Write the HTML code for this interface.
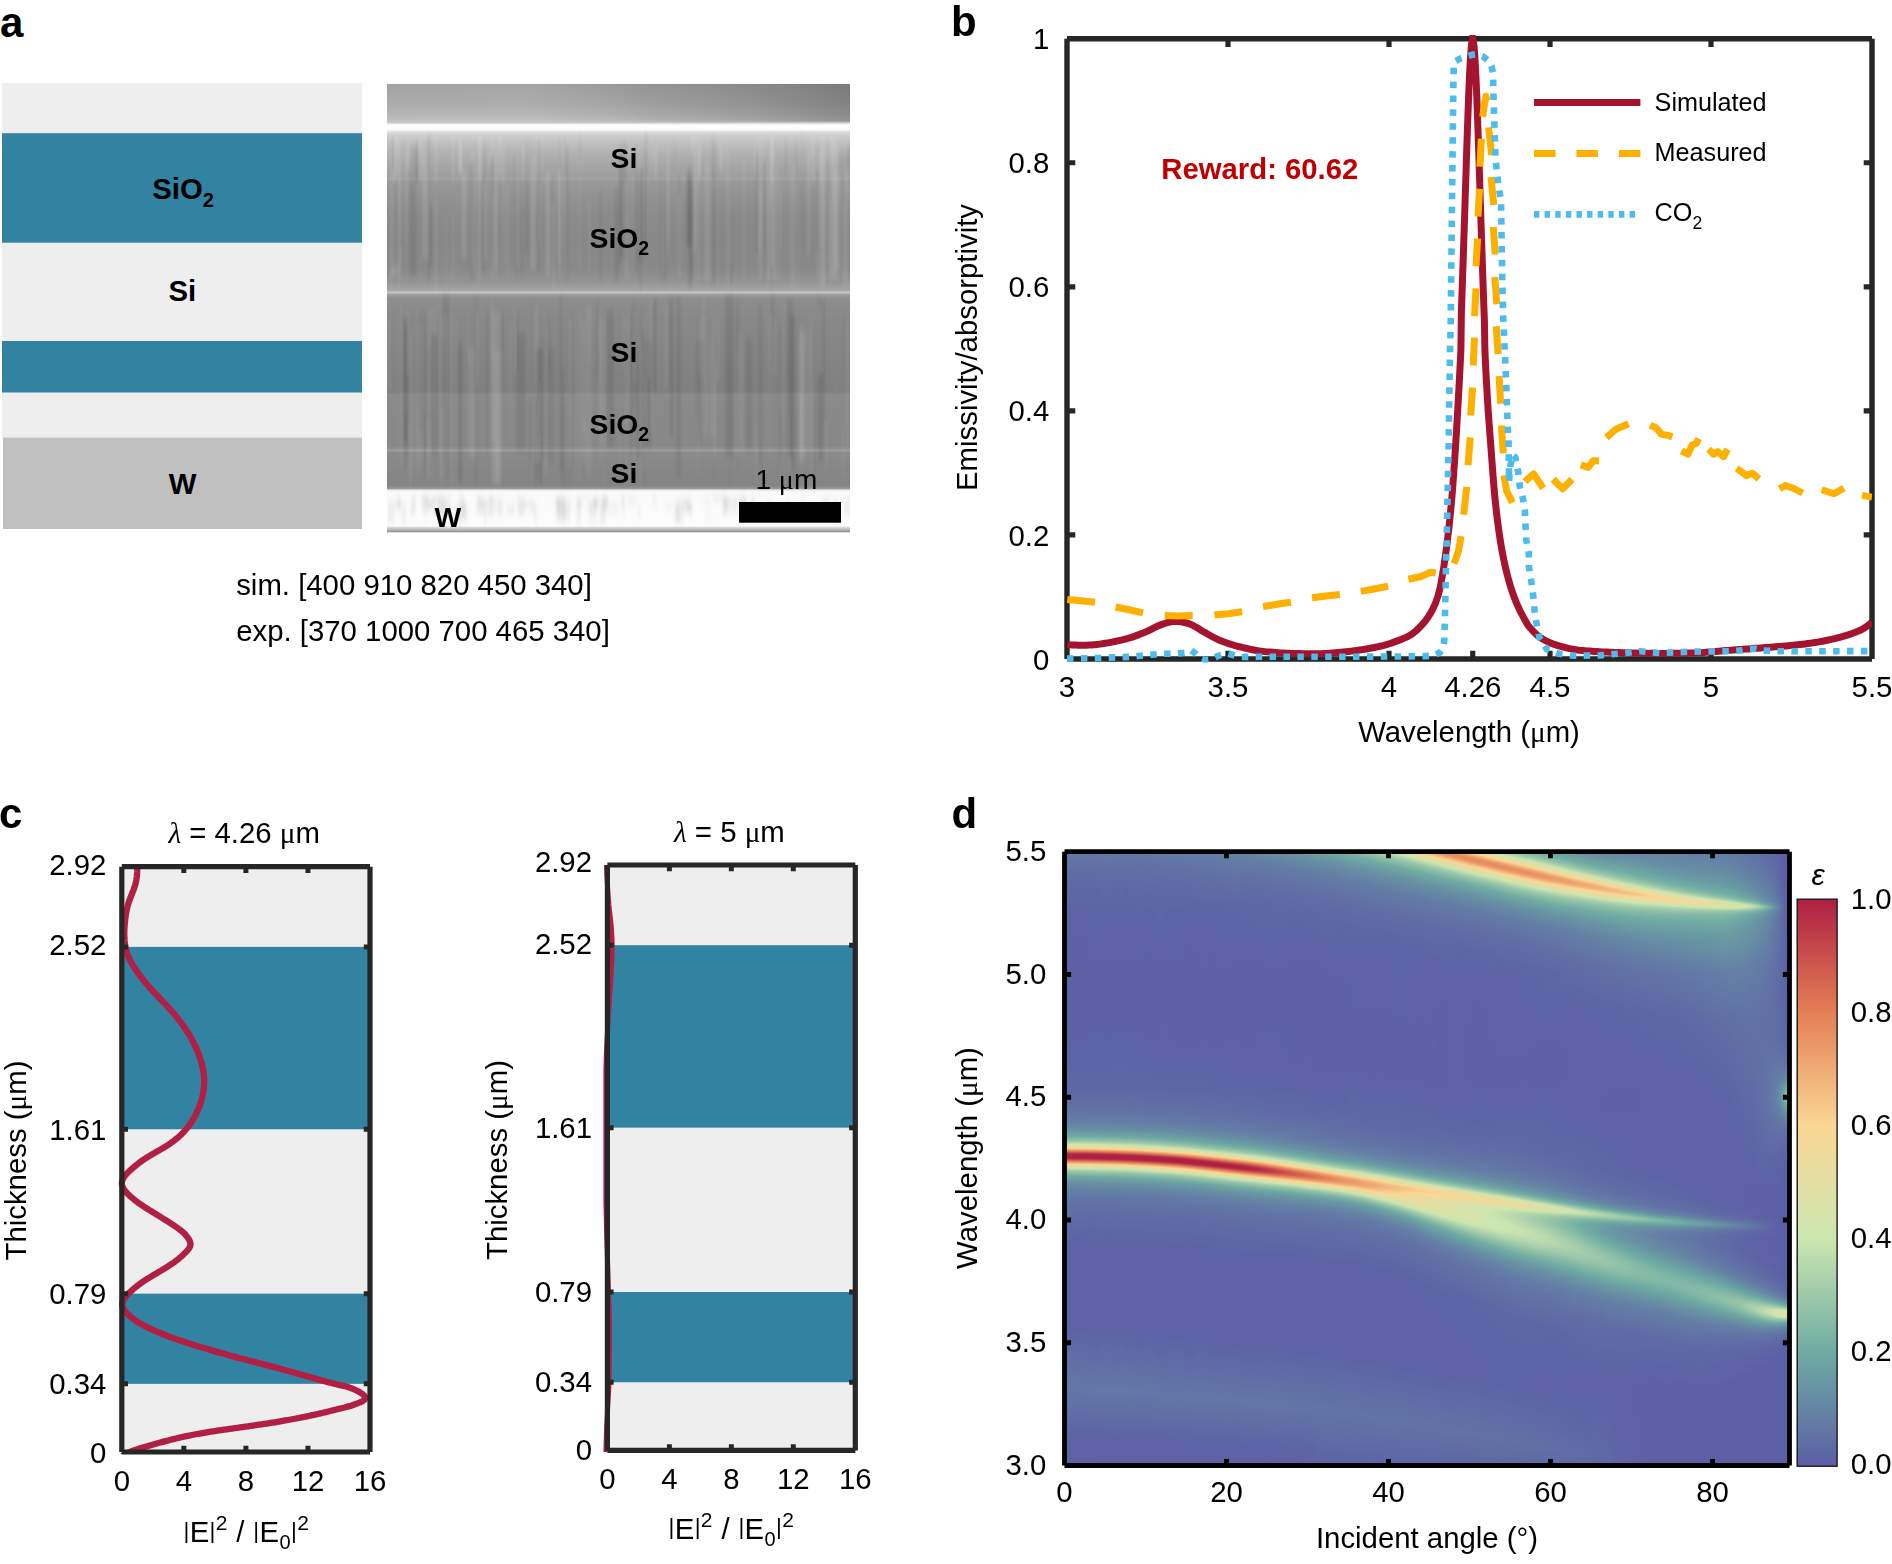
<!DOCTYPE html>
<html lang="en"><head><meta charset="utf-8"><title>Figure</title>
<style>html,body{margin:0;padding:0;background:#fff}svg{display:block}text{font-family:'Liberation Sans', Arial, Helvetica, sans-serif}</style></head>
<body>
<svg width="1892" height="1564" viewBox="0 0 1892 1564">
<defs>
<linearGradient id="semv" x1="0" y1="0" x2="0" y2="1"><stop offset="0%" stop-color="#989898"/><stop offset="3.61%" stop-color="#a0a0a0"/><stop offset="6.73%" stop-color="#acacac"/><stop offset="8.07%" stop-color="#b6b6b6"/><stop offset="8.69%" stop-color="#c8c8c8"/><stop offset="9%" stop-color="#f4f4f4"/><stop offset="9.4%" stop-color="#ffffff"/><stop offset="10.18%" stop-color="#fcfcfc"/><stop offset="10.56%" stop-color="#e6e6e6"/><stop offset="10.96%" stop-color="#d6d6d6"/><stop offset="11.85%" stop-color="#cacaca"/><stop offset="13.64%" stop-color="#bcbcbc"/><stop offset="15.86%" stop-color="#b0b0b0"/><stop offset="18.76%" stop-color="#a4a4a4"/><stop offset="20.77%" stop-color="#9e9e9e"/><stop offset="21.21%" stop-color="#a4a4a4"/><stop offset="21.66%" stop-color="#9a9a9a"/><stop offset="24.78%" stop-color="#929292"/><stop offset="29.23%" stop-color="#8b8b8b"/><stop offset="34.8%" stop-color="#878787"/><stop offset="41.04%" stop-color="#898989"/><stop offset="44.16%" stop-color="#949494"/><stop offset="45.94%" stop-color="#a4a4a4"/><stop offset="46.5%" stop-color="#c6c6c6"/><stop offset="46.95%" stop-color="#a0a0a0"/><stop offset="47.73%" stop-color="#8e8e8e"/><stop offset="52.63%" stop-color="#888888"/><stop offset="63.77%" stop-color="#828282"/><stop offset="68.67%" stop-color="#808080"/><stop offset="69.27%" stop-color="#8c8c8c"/><stop offset="69.79%" stop-color="#8a8a8a"/><stop offset="74.91%" stop-color="#888888"/><stop offset="80.7%" stop-color="#888888"/><stop offset="81.37%" stop-color="#929292"/><stop offset="81.71%" stop-color="#9e9e9e"/><stop offset="82.15%" stop-color="#8a8a8a"/><stop offset="86.05%" stop-color="#868686"/><stop offset="89.62%" stop-color="#848484"/><stop offset="90.2%" stop-color="#9a9a9a"/><stop offset="90.51%" stop-color="#e8e8e8"/><stop offset="90.95%" stop-color="#fafafa"/><stop offset="98.53%" stop-color="#fcfcfc"/><stop offset="98.86%" stop-color="#d8d8d8"/><stop offset="99.42%" stop-color="#b4b4b4"/><stop offset="99.75%" stop-color="#989898"/><stop offset="100%" stop-color="#8a8a8a"/></linearGradient>
<linearGradient id="semh" x1="0" y1="0" x2="1" y2="0"><stop offset="0" stop-color="#fff" stop-opacity="0.10"/><stop offset="0.3" stop-color="#fff" stop-opacity="0.12"/><stop offset="0.5" stop-color="#fff" stop-opacity="0.02"/><stop offset="0.55" stop-color="#000" stop-opacity="0.02"/><stop offset="0.8" stop-color="#000" stop-opacity="0.10"/><stop offset="1" stop-color="#000" stop-opacity="0.20"/></linearGradient>
<clipPath id="semclip"><rect x="387" y="83.8" width="463" height="448.8"/></clipPath>
<filter id="blur1" x="-5%" y="-5%" width="110%" height="110%"><feGaussianBlur stdDeviation="0.8 3"/></filter>
<clipPath id="clipb"><rect x="1066.7" y="35.1" width="805.6" height="627.5"/></clipPath>
<clipPath id="clipc1"><rect x="117.8" y="866.7" width="256.2" height="587.3"/></clipPath>
<clipPath id="clipc2"><rect x="603.4" y="865" width="255.9" height="587.4"/></clipPath>
<clipPath id="cliph"><rect x="1064.5" y="851.7" width="725" height="613.8"/></clipPath>
<linearGradient id="h0" x1="0" y1="0" x2="0" y2="1"><stop offset="0" stop-color="#6583a5"/><stop offset=".047" stop-color="#606da5"/><stop offset=".1223" stop-color="#5d62a6"/><stop offset=".2861" stop-color="#5c60a6"/><stop offset=".392" stop-color="#5e68a6"/><stop offset=".4202" stop-color="#6071a5"/><stop offset=".4398" stop-color="#637da5"/><stop offset=".4539" stop-color="#6890a4"/><stop offset=".4641" stop-color="#6ea9a3"/><stop offset=".4672" stop-color="#7ab3a5"/><stop offset=".4712" stop-color="#92c2a8"/><stop offset=".4743" stop-color="#abd1ab"/><stop offset=".4774" stop-color="#cce6b0"/><stop offset=".4837" stop-color="#fad795"/><stop offset=".4884" stop-color="#e37c55"/><stop offset=".4907" stop-color="#c64a4b"/><stop offset=".4931" stop-color="#ae2242"/><stop offset=".4986" stop-color="#ad2042"/><stop offset=".4994" stop-color="#af2343"/><stop offset=".5002" stop-color="#b52e45"/><stop offset=".5041" stop-color="#e47d55"/><stop offset=".5088" stop-color="#fad795"/><stop offset=".5151" stop-color="#cbe6b0"/><stop offset=".5205" stop-color="#98c5a9"/><stop offset=".5276" stop-color="#6faca3"/><stop offset=".5347" stop-color="#6998a4"/><stop offset=".5441" stop-color="#6687a4"/><stop offset=".5582" stop-color="#6279a5"/><stop offset=".577" stop-color="#606fa5"/><stop offset=".635" stop-color="#5d63a6"/><stop offset=".7628" stop-color="#5d63a6"/><stop offset=".8584" stop-color="#6278a5"/><stop offset=".9313" stop-color="#5e65a6"/><stop offset=".9995" stop-color="#5c5ea6"/></linearGradient>
<linearGradient id="h1" x1="0" y1="0" x2="0" y2="1"><stop offset="0" stop-color="#6583a5"/><stop offset=".047" stop-color="#606da5"/><stop offset=".1223" stop-color="#5d62a6"/><stop offset=".2861" stop-color="#5c60a6"/><stop offset=".392" stop-color="#5e68a6"/><stop offset=".4202" stop-color="#6071a5"/><stop offset=".4398" stop-color="#637da5"/><stop offset=".4539" stop-color="#6890a4"/><stop offset=".4641" stop-color="#6ea9a3"/><stop offset=".4672" stop-color="#7ab3a5"/><stop offset=".4712" stop-color="#92c1a8"/><stop offset=".4743" stop-color="#abd1ab"/><stop offset=".4774" stop-color="#cbe5b0"/><stop offset=".4837" stop-color="#f9d795"/><stop offset=".4884" stop-color="#e47d56"/><stop offset=".4907" stop-color="#c74b4b"/><stop offset=".4931" stop-color="#af2343"/><stop offset=".4986" stop-color="#ad2042"/><stop offset=".4994" stop-color="#ae2242"/><stop offset=".5002" stop-color="#b52d45"/><stop offset=".5041" stop-color="#e37b55"/><stop offset=".5088" stop-color="#fad795"/><stop offset=".5151" stop-color="#cce6b0"/><stop offset=".5205" stop-color="#98c5a9"/><stop offset=".5276" stop-color="#6faca3"/><stop offset=".5347" stop-color="#6998a4"/><stop offset=".5441" stop-color="#6687a4"/><stop offset=".5582" stop-color="#6279a5"/><stop offset=".5762" stop-color="#606fa5"/><stop offset=".635" stop-color="#5d63a6"/><stop offset=".7628" stop-color="#5d63a6"/><stop offset=".8592" stop-color="#6278a5"/><stop offset=".9313" stop-color="#5e65a6"/><stop offset=".9995" stop-color="#5c5ea6"/></linearGradient>
<linearGradient id="h2" x1="0" y1="0" x2="0" y2="1"><stop offset="0" stop-color="#6583a5"/><stop offset=".047" stop-color="#606da5"/><stop offset=".1223" stop-color="#5d62a6"/><stop offset=".2861" stop-color="#5c60a6"/><stop offset=".392" stop-color="#5e68a6"/><stop offset=".4202" stop-color="#6071a5"/><stop offset=".4398" stop-color="#637da5"/><stop offset=".4539" stop-color="#688fa4"/><stop offset=".4649" stop-color="#6eaba3"/><stop offset=".4719" stop-color="#97c5a9"/><stop offset=".4774" stop-color="#cae5b0"/><stop offset=".4782" stop-color="#cfe5ae"/><stop offset=".4837" stop-color="#f8d796"/><stop offset=".4845" stop-color="#f7cc8d"/><stop offset=".4884" stop-color="#e57f56"/><stop offset=".4907" stop-color="#c84d4c"/><stop offset=".4931" stop-color="#b02443"/><stop offset=".4939" stop-color="#ad2042"/><stop offset=".4986" stop-color="#ad2042"/><stop offset=".4994" stop-color="#ad2142"/><stop offset=".5002" stop-color="#b42c44"/><stop offset=".5017" stop-color="#c4484a"/><stop offset=".5041" stop-color="#e27955"/><stop offset=".5088" stop-color="#f9d593"/><stop offset=".5151" stop-color="#cde6b0"/><stop offset=".5205" stop-color="#99c6a9"/><stop offset=".5276" stop-color="#70aca3"/><stop offset=".5354" stop-color="#6996a4"/><stop offset=".5441" stop-color="#6687a4"/><stop offset=".5582" stop-color="#6279a5"/><stop offset=".5762" stop-color="#606fa5"/><stop offset=".635" stop-color="#5d63a6"/><stop offset=".7636" stop-color="#5d63a6"/><stop offset=".86" stop-color="#6278a5"/><stop offset=".9321" stop-color="#5e65a6"/><stop offset=".9995" stop-color="#5c5ea6"/></linearGradient>
<linearGradient id="h3" x1="0" y1="0" x2="0" y2="1"><stop offset="0" stop-color="#6583a5"/><stop offset=".047" stop-color="#606da5"/><stop offset=".1223" stop-color="#5d62a6"/><stop offset=".2861" stop-color="#5c60a6"/><stop offset=".392" stop-color="#5e68a6"/><stop offset=".4202" stop-color="#6071a5"/><stop offset=".4398" stop-color="#637da5"/><stop offset=".4539" stop-color="#678fa4"/><stop offset=".4649" stop-color="#6eaba3"/><stop offset=".4719" stop-color="#96c4a8"/><stop offset=".4782" stop-color="#cfe5ae"/><stop offset=".4837" stop-color="#f7d897"/><stop offset=".4845" stop-color="#f8cf8f"/><stop offset=".4884" stop-color="#e68258"/><stop offset=".4915" stop-color="#c04149"/><stop offset=".4931" stop-color="#b12643"/><stop offset=".4939" stop-color="#ad2042"/><stop offset=".4994" stop-color="#ad2042"/><stop offset=".5009" stop-color="#ba3747"/><stop offset=".5041" stop-color="#e07654"/><stop offset=".5088" stop-color="#f9d292"/><stop offset=".5096" stop-color="#f5d998"/><stop offset=".5151" stop-color="#cde6af"/><stop offset=".5205" stop-color="#9ac7a9"/><stop offset=".5276" stop-color="#70aca3"/><stop offset=".5354" stop-color="#6996a4"/><stop offset=".5441" stop-color="#6687a4"/><stop offset=".5582" stop-color="#6279a5"/><stop offset=".5762" stop-color="#606fa5"/><stop offset=".635" stop-color="#5d63a6"/><stop offset=".7636" stop-color="#5d63a6"/><stop offset=".86" stop-color="#6278a5"/><stop offset=".9321" stop-color="#5e65a6"/><stop offset=".9995" stop-color="#5c5ea6"/></linearGradient>
<linearGradient id="h4" x1="0" y1="0" x2="0" y2="1"><stop offset="0" stop-color="#6583a5"/><stop offset=".0337" stop-color="#6171a5"/><stop offset=".0807" stop-color="#5e67a6"/><stop offset=".2571" stop-color="#5c5fa6"/><stop offset=".392" stop-color="#5e68a6"/><stop offset=".4265" stop-color="#6174a5"/><stop offset=".4484" stop-color="#6586a4"/><stop offset=".4578" stop-color="#6997a4"/><stop offset=".4657" stop-color="#71ada3"/><stop offset=".4719" stop-color="#94c3a8"/><stop offset=".4782" stop-color="#cee5af"/><stop offset=".4837" stop-color="#f6d898"/><stop offset=".4845" stop-color="#f9d291"/><stop offset=".4884" stop-color="#e7865b"/><stop offset=".4892" stop-color="#df7554"/><stop offset=".4923" stop-color="#ba3647"/><stop offset=".4939" stop-color="#ad2042"/><stop offset=".4994" stop-color="#ad2042"/><stop offset=".5002" stop-color="#b12743"/><stop offset=".5017" stop-color="#c14249"/><stop offset=".5049" stop-color="#e68359"/><stop offset=".5088" stop-color="#f8cf90"/><stop offset=".5096" stop-color="#f7d897"/><stop offset=".5151" stop-color="#cee5af"/><stop offset=".5213" stop-color="#95c4a8"/><stop offset=".5284" stop-color="#6eaba3"/><stop offset=".5378" stop-color="#6892a4"/><stop offset=".5495" stop-color="#6481a5"/><stop offset=".566" stop-color="#6174a5"/><stop offset=".5887" stop-color="#5f6ba5"/><stop offset=".6507" stop-color="#5d62a6"/><stop offset=".7424" stop-color="#5d61a6"/><stop offset=".7926" stop-color="#5e67a6"/><stop offset=".8616" stop-color="#6278a5"/><stop offset=".9321" stop-color="#5e65a6"/><stop offset=".9995" stop-color="#5c5ea6"/></linearGradient>
<linearGradient id="h5" x1="0" y1="0" x2="0" y2="1"><stop offset="0" stop-color="#6584a5"/><stop offset=".0329" stop-color="#6172a5"/><stop offset=".08" stop-color="#5e67a6"/><stop offset=".2548" stop-color="#5c5fa6"/><stop offset=".392" stop-color="#5e68a6"/><stop offset=".4265" stop-color="#6174a5"/><stop offset=".4484" stop-color="#6586a4"/><stop offset=".4578" stop-color="#6996a4"/><stop offset=".4657" stop-color="#70aca3"/><stop offset=".4727" stop-color="#99c6a9"/><stop offset=".4782" stop-color="#cce6b0"/><stop offset=".4845" stop-color="#fad594"/><stop offset=".4892" stop-color="#e27a55"/><stop offset=".4915" stop-color="#c5484a"/><stop offset=".4931" stop-color="#b42c45"/><stop offset=".4939" stop-color="#ae2142"/><stop offset=".4947" stop-color="#ad2042"/><stop offset=".4994" stop-color="#ad2042"/><stop offset=".5002" stop-color="#af2443"/><stop offset=".5025" stop-color="#c84d4b"/><stop offset=".5049" stop-color="#e57f56"/><stop offset=".508" stop-color="#f4bd82"/><stop offset=".5096" stop-color="#f9d796"/><stop offset=".5151" stop-color="#d0e5ae"/><stop offset=".5158" stop-color="#cae5b0"/><stop offset=".5213" stop-color="#97c5a9"/><stop offset=".5284" stop-color="#6faba3"/><stop offset=".5378" stop-color="#6892a4"/><stop offset=".5503" stop-color="#6480a5"/><stop offset=".5668" stop-color="#6174a5"/><stop offset=".5895" stop-color="#5f6ba5"/><stop offset=".6515" stop-color="#5d62a6"/><stop offset=".7432" stop-color="#5d61a6"/><stop offset=".7934" stop-color="#5e67a6"/><stop offset=".8623" stop-color="#6278a5"/><stop offset=".9329" stop-color="#5e65a6"/><stop offset=".9995" stop-color="#5c5ea6"/></linearGradient>
<linearGradient id="h6" x1="0" y1="0" x2="0" y2="1"><stop offset="0" stop-color="#6584a5"/><stop offset=".0463" stop-color="#606ea5"/><stop offset=".1215" stop-color="#5d63a6"/><stop offset=".2846" stop-color="#5c60a6"/><stop offset=".392" stop-color="#5e68a6"/><stop offset=".4202" stop-color="#6070a5"/><stop offset=".4398" stop-color="#637da5"/><stop offset=".4539" stop-color="#678ea4"/><stop offset=".4649" stop-color="#6da9a3"/><stop offset=".468" stop-color="#7ab2a5"/><stop offset=".4719" stop-color="#91c1a8"/><stop offset=".4751" stop-color="#aad1ab"/><stop offset=".4782" stop-color="#cae5b0"/><stop offset=".479" stop-color="#d0e5ae"/><stop offset=".4845" stop-color="#f9d796"/><stop offset=".486" stop-color="#f4bd82"/><stop offset=".4892" stop-color="#e57f56"/><stop offset=".4915" stop-color="#c74d4b"/><stop offset=".4939" stop-color="#af2443"/><stop offset=".4947" stop-color="#ad2042"/><stop offset=".4994" stop-color="#ad2042"/><stop offset=".5002" stop-color="#ae2142"/><stop offset=".5009" stop-color="#b42c45"/><stop offset=".5025" stop-color="#c5484a"/><stop offset=".5049" stop-color="#e27a55"/><stop offset=".5096" stop-color="#fad594"/><stop offset=".5158" stop-color="#cce6b0"/><stop offset=".5213" stop-color="#99c6a9"/><stop offset=".5284" stop-color="#70aca3"/><stop offset=".5362" stop-color="#6996a4"/><stop offset=".5448" stop-color="#6687a4"/><stop offset=".559" stop-color="#6279a5"/><stop offset=".577" stop-color="#606fa5"/><stop offset=".6358" stop-color="#5d63a6"/><stop offset=".7651" stop-color="#5d63a6"/><stop offset=".8616" stop-color="#6278a5"/><stop offset=".9337" stop-color="#5e65a6"/><stop offset=".9995" stop-color="#5c5ea6"/></linearGradient>
<linearGradient id="h7" x1="0" y1="0" x2="0" y2="1"><stop offset="0" stop-color="#6584a5"/><stop offset=".0463" stop-color="#606ea5"/><stop offset=".1215" stop-color="#5d63a6"/><stop offset=".2854" stop-color="#5c60a6"/><stop offset=".3928" stop-color="#5e68a6"/><stop offset=".421" stop-color="#6071a5"/><stop offset=".4406" stop-color="#637da5"/><stop offset=".4547" stop-color="#678fa4"/><stop offset=".4657" stop-color="#6eaba3"/><stop offset=".4727" stop-color="#95c3a8"/><stop offset=".479" stop-color="#cee5af"/><stop offset=".4845" stop-color="#f6d897"/><stop offset=".4853" stop-color="#f8d090"/><stop offset=".4892" stop-color="#e6845a"/><stop offset=".4923" stop-color="#c14349"/><stop offset=".4939" stop-color="#b22844"/><stop offset=".4947" stop-color="#ad2042"/><stop offset=".5002" stop-color="#ad2042"/><stop offset=".5009" stop-color="#b22844"/><stop offset=".5025" stop-color="#c24349"/><stop offset=".5056" stop-color="#e6855a"/><stop offset=".5096" stop-color="#f9d191"/><stop offset=".5103" stop-color="#f6d897"/><stop offset=".5158" stop-color="#cee5af"/><stop offset=".5221" stop-color="#95c3a8"/><stop offset=".5284" stop-color="#71ada3"/><stop offset=".5362" stop-color="#6997a4"/><stop offset=".5448" stop-color="#6688a4"/><stop offset=".559" stop-color="#6279a5"/><stop offset=".577" stop-color="#606fa5"/><stop offset=".6358" stop-color="#5d63a6"/><stop offset=".7659" stop-color="#5d63a6"/><stop offset=".8623" stop-color="#6278a5"/><stop offset=".9337" stop-color="#5e65a6"/><stop offset=".9995" stop-color="#5c5ea6"/></linearGradient>
<linearGradient id="h8" x1="0" y1="0" x2="0" y2="1"><stop offset="0" stop-color="#6585a4"/><stop offset=".0329" stop-color="#6172a5"/><stop offset=".0784" stop-color="#5e67a6"/><stop offset=".2501" stop-color="#5c5fa6"/><stop offset=".3912" stop-color="#5e68a6"/><stop offset=".4265" stop-color="#6173a5"/><stop offset=".4492" stop-color="#6586a4"/><stop offset=".4586" stop-color="#6996a4"/><stop offset=".4664" stop-color="#70aca3"/><stop offset=".4735" stop-color="#99c6a9"/><stop offset=".479" stop-color="#cce6b0"/><stop offset=".4853" stop-color="#fad594"/><stop offset=".49" stop-color="#e27a55"/><stop offset=".4923" stop-color="#c5484a"/><stop offset=".4939" stop-color="#b42c45"/><stop offset=".4947" stop-color="#ae2142"/><stop offset=".4955" stop-color="#ad2042"/><stop offset=".5002" stop-color="#ad2042"/><stop offset=".5009" stop-color="#af2443"/><stop offset=".5033" stop-color="#c84d4b"/><stop offset=".5056" stop-color="#e57f56"/><stop offset=".5088" stop-color="#f4bd82"/><stop offset=".5103" stop-color="#f9d796"/><stop offset=".5158" stop-color="#d0e5ae"/><stop offset=".5166" stop-color="#cae5b0"/><stop offset=".5221" stop-color="#97c5a9"/><stop offset=".5292" stop-color="#6faba3"/><stop offset=".5386" stop-color="#6892a4"/><stop offset=".5503" stop-color="#6481a5"/><stop offset=".5668" stop-color="#6174a5"/><stop offset=".5895" stop-color="#5f6ba5"/><stop offset=".6515" stop-color="#5d62a6"/><stop offset=".744" stop-color="#5d61a6"/><stop offset=".7949" stop-color="#5e67a6"/><stop offset=".8639" stop-color="#6278a5"/><stop offset=".9345" stop-color="#5e65a6"/><stop offset=".9995" stop-color="#5c5ea6"/></linearGradient>
<linearGradient id="h9" x1="0" y1="0" x2="0" y2="1"><stop offset="0" stop-color="#6585a4"/><stop offset=".0204" stop-color="#6278a5"/><stop offset=".0463" stop-color="#606ea5"/><stop offset=".1199" stop-color="#5d63a6"/><stop offset=".2838" stop-color="#5c60a6"/><stop offset=".3928" stop-color="#5e68a6"/><stop offset=".421" stop-color="#6070a5"/><stop offset=".4414" stop-color="#637da5"/><stop offset=".4555" stop-color="#688fa4"/><stop offset=".4664" stop-color="#6eaba3"/><stop offset=".4735" stop-color="#96c4a9"/><stop offset=".479" stop-color="#c9e4b0"/><stop offset=".4798" stop-color="#cfe5ae"/><stop offset=".4853" stop-color="#f8d896"/><stop offset=".4868" stop-color="#f4be83"/><stop offset=".49" stop-color="#e58057"/><stop offset=".4931" stop-color="#bf3f49"/><stop offset=".4947" stop-color="#b02543"/><stop offset=".4955" stop-color="#ad2042"/><stop offset=".5009" stop-color="#ad2042"/><stop offset=".5033" stop-color="#c4474a"/><stop offset=".5056" stop-color="#e17855"/><stop offset=".5103" stop-color="#f9d493"/><stop offset=".5166" stop-color="#cde6b0"/><stop offset=".5221" stop-color="#99c6a9"/><stop offset=".5292" stop-color="#70aca3"/><stop offset=".537" stop-color="#6996a4"/><stop offset=".5456" stop-color="#6687a4"/><stop offset=".5597" stop-color="#6279a5"/><stop offset=".5778" stop-color="#606fa5"/><stop offset=".6366" stop-color="#5d63a6"/><stop offset=".7667" stop-color="#5d63a6"/><stop offset=".8639" stop-color="#6278a5"/><stop offset=".9352" stop-color="#5e65a6"/><stop offset=".9995" stop-color="#5c5ea6"/></linearGradient>
<linearGradient id="h10" x1="0" y1="0" x2="0" y2="1"><stop offset="0" stop-color="#6585a4"/><stop offset=".0321" stop-color="#6173a5"/><stop offset=".0776" stop-color="#5e67a6"/><stop offset=".2469" stop-color="#5c5fa6"/><stop offset=".3912" stop-color="#5e68a6"/><stop offset=".4272" stop-color="#6173a5"/><stop offset=".45" stop-color="#6586a4"/><stop offset=".4594" stop-color="#6996a4"/><stop offset=".4672" stop-color="#70aca3"/><stop offset=".4743" stop-color="#9ac6a9"/><stop offset=".4798" stop-color="#cde6af"/><stop offset=".4853" stop-color="#f5d998"/><stop offset=".486" stop-color="#f9d392"/><stop offset=".4907" stop-color="#e07754"/><stop offset=".4939" stop-color="#bb3747"/><stop offset=".4955" stop-color="#ad2042"/><stop offset=".5009" stop-color="#ad2042"/><stop offset=".5017" stop-color="#b12643"/><stop offset=".5033" stop-color="#c04049"/><stop offset=".5064" stop-color="#e68258"/><stop offset=".5103" stop-color="#f8ce8e"/><stop offset=".5111" stop-color="#f8d896"/><stop offset=".5166" stop-color="#cfe5ae"/><stop offset=".5229" stop-color="#96c4a9"/><stop offset=".5299" stop-color="#6eaba3"/><stop offset=".5394" stop-color="#6892a4"/><stop offset=".5511" stop-color="#6481a5"/><stop offset=".5676" stop-color="#6174a5"/><stop offset=".5903" stop-color="#5f6ba5"/><stop offset=".653" stop-color="#5d62a6"/><stop offset=".7455" stop-color="#5d61a6"/><stop offset=".7957" stop-color="#5e67a6"/><stop offset=".8655" stop-color="#6278a5"/><stop offset=".9352" stop-color="#5e65a6"/><stop offset=".9995" stop-color="#5c5ea6"/></linearGradient>
<linearGradient id="h11" x1="0" y1="0" x2="0" y2="1"><stop offset="0" stop-color="#6586a4"/><stop offset=".0204" stop-color="#6278a5"/><stop offset=".0455" stop-color="#606fa5"/><stop offset=".1192" stop-color="#5d63a6"/><stop offset=".283" stop-color="#5c60a6"/><stop offset=".3928" stop-color="#5e68a6"/><stop offset=".4218" stop-color="#6070a5"/><stop offset=".4421" stop-color="#637da5"/><stop offset=".4563" stop-color="#688fa4"/><stop offset=".4672" stop-color="#6eaba3"/><stop offset=".4743" stop-color="#97c4a9"/><stop offset=".4798" stop-color="#cae4b0"/><stop offset=".4806" stop-color="#cfe5ae"/><stop offset=".486" stop-color="#f8d896"/><stop offset=".4868" stop-color="#f7cc8d"/><stop offset=".4907" stop-color="#e58057"/><stop offset=".4931" stop-color="#c84e4c"/><stop offset=".4955" stop-color="#b02543"/><stop offset=".4962" stop-color="#ad2042"/><stop offset=".5009" stop-color="#ad2042"/><stop offset=".5017" stop-color="#ad2042"/><stop offset=".5025" stop-color="#b42c44"/><stop offset=".5041" stop-color="#c4484a"/><stop offset=".5064" stop-color="#e17955"/><stop offset=".5111" stop-color="#f9d593"/><stop offset=".5174" stop-color="#cde6b0"/><stop offset=".5229" stop-color="#99c6a9"/><stop offset=".5299" stop-color="#70aca3"/><stop offset=".5378" stop-color="#6996a4"/><stop offset=".5464" stop-color="#6687a4"/><stop offset=".5605" stop-color="#6279a5"/><stop offset=".5786" stop-color="#606fa5"/><stop offset=".6373" stop-color="#5d63a6"/><stop offset=".7683" stop-color="#5d63a6"/><stop offset=".8647" stop-color="#6277a5"/><stop offset=".936" stop-color="#5e65a6"/><stop offset=".9995" stop-color="#5c5ea6"/></linearGradient>
<linearGradient id="h12" x1="0" y1="0" x2="0" y2="1"><stop offset="0" stop-color="#6586a4"/><stop offset=".0321" stop-color="#6173a5"/><stop offset=".076" stop-color="#5e68a6"/><stop offset=".2415" stop-color="#5c5fa6"/><stop offset=".3912" stop-color="#5e67a6"/><stop offset=".4272" stop-color="#6173a5"/><stop offset=".4508" stop-color="#6586a4"/><stop offset=".4602" stop-color="#6996a4"/><stop offset=".468" stop-color="#70aca3"/><stop offset=".4751" stop-color="#99c6a9"/><stop offset=".4806" stop-color="#cde6b0"/><stop offset=".4868" stop-color="#f9d493"/><stop offset=".4915" stop-color="#e17955"/><stop offset=".4939" stop-color="#c4474a"/><stop offset=".4955" stop-color="#b42c44"/><stop offset=".4962" stop-color="#ad2042"/><stop offset=".497" stop-color="#ad2042"/><stop offset=".5017" stop-color="#ad2042"/><stop offset=".5025" stop-color="#b02543"/><stop offset=".5049" stop-color="#c84e4c"/><stop offset=".5072" stop-color="#e58057"/><stop offset=".5111" stop-color="#f8cd8e"/><stop offset=".5119" stop-color="#f8d896"/><stop offset=".5174" stop-color="#cfe5ae"/><stop offset=".5182" stop-color="#c9e4b0"/><stop offset=".5237" stop-color="#97c4a9"/><stop offset=".5307" stop-color="#6eaba3"/><stop offset=".5401" stop-color="#6892a4"/><stop offset=".5519" stop-color="#6481a5"/><stop offset=".5684" stop-color="#6174a5"/><stop offset=".5911" stop-color="#5f6ba5"/><stop offset=".6538" stop-color="#5d62a6"/><stop offset=".7463" stop-color="#5d61a6"/><stop offset=".7973" stop-color="#5e67a6"/><stop offset=".8663" stop-color="#6277a5"/><stop offset=".936" stop-color="#5e65a6"/><stop offset=".9995" stop-color="#5c5ea6"/></linearGradient>
<linearGradient id="h13" x1="0" y1="0" x2="0" y2="1"><stop offset="0" stop-color="#6687a4"/><stop offset=".0204" stop-color="#6279a5"/><stop offset=".0455" stop-color="#606fa5"/><stop offset=".1184" stop-color="#5d63a6"/><stop offset=".2822" stop-color="#5c60a6"/><stop offset=".3935" stop-color="#5e68a6"/><stop offset=".4225" stop-color="#6070a5"/><stop offset=".4429" stop-color="#637da5"/><stop offset=".457" stop-color="#678fa4"/><stop offset=".468" stop-color="#6eaba3"/><stop offset=".4751" stop-color="#95c4a8"/><stop offset=".4813" stop-color="#cee5af"/><stop offset=".4868" stop-color="#f7d897"/><stop offset=".4876" stop-color="#f8cf8f"/><stop offset=".4915" stop-color="#e68359"/><stop offset=".4947" stop-color="#c14249"/><stop offset=".4962" stop-color="#b12744"/><stop offset=".497" stop-color="#ad2042"/><stop offset=".5025" stop-color="#ad2042"/><stop offset=".5041" stop-color="#ba3647"/><stop offset=".5072" stop-color="#df7554"/><stop offset=".508" stop-color="#e7865b"/><stop offset=".5119" stop-color="#f9d291"/><stop offset=".5127" stop-color="#f6d898"/><stop offset=".5182" stop-color="#cee5af"/><stop offset=".5245" stop-color="#94c3a8"/><stop offset=".5307" stop-color="#70ada3"/><stop offset=".5386" stop-color="#6997a4"/><stop offset=".5472" stop-color="#6687a4"/><stop offset=".5613" stop-color="#6279a5"/><stop offset=".5793" stop-color="#606fa5"/><stop offset=".6381" stop-color="#5d63a6"/><stop offset=".769" stop-color="#5d63a6"/><stop offset=".8663" stop-color="#6277a5"/><stop offset=".9368" stop-color="#5e65a6"/><stop offset=".9995" stop-color="#5c5ea6"/></linearGradient>
<linearGradient id="h14" x1="0" y1="0" x2="0" y2="1"><stop offset="0" stop-color="#6688a4"/><stop offset=".0204" stop-color="#627aa5"/><stop offset=".0455" stop-color="#606fa5"/><stop offset=".1176" stop-color="#5d63a6"/><stop offset=".2807" stop-color="#5c5fa6"/><stop offset=".3935" stop-color="#5e68a6"/><stop offset=".4225" stop-color="#6070a5"/><stop offset=".4429" stop-color="#637da5"/><stop offset=".457" stop-color="#678ea4"/><stop offset=".468" stop-color="#6da9a3"/><stop offset=".4712" stop-color="#7ab2a5"/><stop offset=".4751" stop-color="#92c1a8"/><stop offset=".4782" stop-color="#aad1ab"/><stop offset=".4813" stop-color="#cae5b0"/><stop offset=".4876" stop-color="#f9d796"/><stop offset=".4923" stop-color="#e57e56"/><stop offset=".4947" stop-color="#c74c4b"/><stop offset=".497" stop-color="#af2443"/><stop offset=".4978" stop-color="#ad2042"/><stop offset=".5025" stop-color="#ad2042"/><stop offset=".5033" stop-color="#ae2242"/><stop offset=".5041" stop-color="#b52d45"/><stop offset=".508" stop-color="#e27b55"/><stop offset=".5127" stop-color="#fad694"/><stop offset=".519" stop-color="#cce6b0"/><stop offset=".5245" stop-color="#98c6a9"/><stop offset=".5315" stop-color="#6faca3"/><stop offset=".5386" stop-color="#6a98a4"/><stop offset=".548" stop-color="#6687a4"/><stop offset=".5621" stop-color="#6279a5"/><stop offset=".5801" stop-color="#606fa5"/><stop offset=".6389" stop-color="#5d63a6"/><stop offset=".7698" stop-color="#5d63a6"/><stop offset=".867" stop-color="#6277a5"/><stop offset=".9376" stop-color="#5e65a6"/><stop offset=".9995" stop-color="#5c5ea6"/></linearGradient>
<linearGradient id="h15" x1="0" y1="0" x2="0" y2="1"><stop offset="0" stop-color="#6689a4"/><stop offset=".0306" stop-color="#6175a5"/><stop offset=".0737" stop-color="#5f69a6"/><stop offset=".2313" stop-color="#5c5fa6"/><stop offset=".3285" stop-color="#5d61a6"/><stop offset=".3904" stop-color="#5e67a6"/><stop offset=".428" stop-color="#6172a5"/><stop offset=".4523" stop-color="#6586a4"/><stop offset=".4617" stop-color="#6996a4"/><stop offset=".4696" stop-color="#70aca3"/><stop offset=".4766" stop-color="#99c6a9"/><stop offset=".4821" stop-color="#cce6b0"/><stop offset=".4884" stop-color="#fad594"/><stop offset=".4931" stop-color="#e27a55"/><stop offset=".4955" stop-color="#c5484a"/><stop offset=".497" stop-color="#b42c45"/><stop offset=".4978" stop-color="#ae2142"/><stop offset=".4986" stop-color="#ad2042"/><stop offset=".5033" stop-color="#ad2042"/><stop offset=".5041" stop-color="#b02443"/><stop offset=".5064" stop-color="#c84d4c"/><stop offset=".5088" stop-color="#e57f56"/><stop offset=".5119" stop-color="#f4bd82"/><stop offset=".5135" stop-color="#f9d796"/><stop offset=".519" stop-color="#d0e5ae"/><stop offset=".5198" stop-color="#cae5b0"/><stop offset=".5252" stop-color="#97c5a9"/><stop offset=".5323" stop-color="#6faba3"/><stop offset=".5417" stop-color="#6892a4"/><stop offset=".5535" stop-color="#6481a5"/><stop offset=".5699" stop-color="#6174a5"/><stop offset=".5927" stop-color="#5f6ba5"/><stop offset=".6546" stop-color="#5d62a6"/><stop offset=".7479" stop-color="#5d61a6"/><stop offset=".7996" stop-color="#5e66a6"/><stop offset=".8686" stop-color="#6277a5"/><stop offset=".9376" stop-color="#5e65a6"/><stop offset=".9995" stop-color="#5c5ea6"/></linearGradient>
<linearGradient id="h16" x1="0" y1="0" x2="0" y2="1"><stop offset="0" stop-color="#6689a4"/><stop offset=".0306" stop-color="#6175a5"/><stop offset=".0721" stop-color="#5f69a6"/><stop offset=".2234" stop-color="#5c5fa6"/><stop offset=".3881" stop-color="#5e66a6"/><stop offset=".4272" stop-color="#6172a5"/><stop offset=".4523" stop-color="#6585a4"/><stop offset=".4625" stop-color="#6996a4"/><stop offset=".4704" stop-color="#70aca3"/><stop offset=".4766" stop-color="#94c3a8"/><stop offset=".4829" stop-color="#cde6af"/><stop offset=".4884" stop-color="#f5d898"/><stop offset=".4892" stop-color="#f9d292"/><stop offset=".4939" stop-color="#e07654"/><stop offset=".497" stop-color="#ba3747"/><stop offset=".4986" stop-color="#ad2042"/><stop offset=".5041" stop-color="#ad2042"/><stop offset=".5049" stop-color="#b12743"/><stop offset=".5064" stop-color="#c14149"/><stop offset=".5096" stop-color="#e68258"/><stop offset=".5135" stop-color="#f8cf8f"/><stop offset=".5143" stop-color="#f7d897"/><stop offset=".5198" stop-color="#cfe5ae"/><stop offset=".526" stop-color="#96c4a8"/><stop offset=".5331" stop-color="#6eaba3"/><stop offset=".5425" stop-color="#6892a4"/><stop offset=".5542" stop-color="#6481a5"/><stop offset=".5707" stop-color="#6174a5"/><stop offset=".5934" stop-color="#5f6ba5"/><stop offset=".6562" stop-color="#5d62a6"/><stop offset=".7495" stop-color="#5d61a6"/><stop offset=".8004" stop-color="#5e66a6"/><stop offset=".8694" stop-color="#6277a5"/><stop offset=".9384" stop-color="#5e65a6"/><stop offset=".9995" stop-color="#5c5ea6"/></linearGradient>
<linearGradient id="h17" x1="0" y1="0" x2="0" y2="1"><stop offset="0" stop-color="#668aa4"/><stop offset=".0196" stop-color="#637ba5"/><stop offset=".0439" stop-color="#6071a5"/><stop offset=".1152" stop-color="#5d64a6"/><stop offset=".2783" stop-color="#5c5fa6"/><stop offset=".3943" stop-color="#5e67a6"/><stop offset=".4233" stop-color="#6070a5"/><stop offset=".4445" stop-color="#637ca5"/><stop offset=".4594" stop-color="#678fa4"/><stop offset=".4704" stop-color="#6eaba3"/><stop offset=".4774" stop-color="#95c4a8"/><stop offset=".4837" stop-color="#cee5af"/><stop offset=".4892" stop-color="#f7d897"/><stop offset=".49" stop-color="#f8d090"/><stop offset=".4939" stop-color="#e6845a"/><stop offset=".497" stop-color="#c24349"/><stop offset=".4986" stop-color="#b22844"/><stop offset=".4994" stop-color="#ad2042"/><stop offset=".5049" stop-color="#ad2042"/><stop offset=".5056" stop-color="#b22944"/><stop offset=".5072" stop-color="#c2444a"/><stop offset=".5103" stop-color="#e6855a"/><stop offset=".5143" stop-color="#f9d191"/><stop offset=".5151" stop-color="#f6d897"/><stop offset=".5205" stop-color="#cee5af"/><stop offset=".5268" stop-color="#95c3a8"/><stop offset=".5331" stop-color="#71ada3"/><stop offset=".5409" stop-color="#6997a4"/><stop offset=".5495" stop-color="#6687a4"/><stop offset=".5637" stop-color="#6279a5"/><stop offset=".5817" stop-color="#606fa5"/><stop offset=".6405" stop-color="#5d63a6"/><stop offset=".7722" stop-color="#5d63a6"/><stop offset=".8694" stop-color="#6277a5"/><stop offset=".9392" stop-color="#5e65a6"/><stop offset=".9995" stop-color="#5c5ea6"/></linearGradient>
<linearGradient id="h18" x1="0" y1="0" x2="0" y2="1"><stop offset="0" stop-color="#678ba4"/><stop offset=".0196" stop-color="#637ca5"/><stop offset=".0439" stop-color="#6071a5"/><stop offset=".1145" stop-color="#5d64a6"/><stop offset=".2767" stop-color="#5c5fa6"/><stop offset=".3943" stop-color="#5e67a6"/><stop offset=".4241" stop-color="#6070a5"/><stop offset=".4453" stop-color="#637ca5"/><stop offset=".4602" stop-color="#678fa4"/><stop offset=".4712" stop-color="#6eaba3"/><stop offset=".4782" stop-color="#96c4a8"/><stop offset=".4845" stop-color="#cee5af"/><stop offset=".49" stop-color="#f7d897"/><stop offset=".4907" stop-color="#f8cf8f"/><stop offset=".4947" stop-color="#e68359"/><stop offset=".4978" stop-color="#c14249"/><stop offset=".4994" stop-color="#b22844"/><stop offset=".5002" stop-color="#ad2042"/><stop offset=".5056" stop-color="#ad2042"/><stop offset=".5072" stop-color="#ba3747"/><stop offset=".5103" stop-color="#df7554"/><stop offset=".5111" stop-color="#e7865b"/><stop offset=".5151" stop-color="#f9d291"/><stop offset=".5158" stop-color="#f6d897"/><stop offset=".5213" stop-color="#cee5af"/><stop offset=".5276" stop-color="#94c3a8"/><stop offset=".5339" stop-color="#71ada3"/><stop offset=".5417" stop-color="#6997a4"/><stop offset=".5503" stop-color="#6687a4"/><stop offset=".5644" stop-color="#6279a5"/><stop offset=".5825" stop-color="#606fa5"/><stop offset=".6413" stop-color="#5d63a6"/><stop offset=".773" stop-color="#5d63a6"/><stop offset=".8702" stop-color="#6277a5"/><stop offset=".9399" stop-color="#5e65a6"/><stop offset=".9995" stop-color="#5c5ea6"/></linearGradient>
<linearGradient id="h19" x1="0" y1="0" x2="0" y2="1"><stop offset="0" stop-color="#678ca4"/><stop offset=".0196" stop-color="#637da5"/><stop offset=".0439" stop-color="#6071a5"/><stop offset=".1137" stop-color="#5d64a6"/><stop offset=".2752" stop-color="#5c5fa6"/><stop offset=".3943" stop-color="#5e67a6"/><stop offset=".4249" stop-color="#6070a5"/><stop offset=".4461" stop-color="#637ca5"/><stop offset=".461" stop-color="#678fa4"/><stop offset=".4719" stop-color="#6eaba3"/><stop offset=".479" stop-color="#95c4a8"/><stop offset=".4853" stop-color="#cee5af"/><stop offset=".4907" stop-color="#f7d897"/><stop offset=".4915" stop-color="#f8cf90"/><stop offset=".4955" stop-color="#e68459"/><stop offset=".4986" stop-color="#c24349"/><stop offset=".5002" stop-color="#b22844"/><stop offset=".5009" stop-color="#ad2042"/><stop offset=".5064" stop-color="#ad2042"/><stop offset=".5088" stop-color="#c3454a"/><stop offset=".5111" stop-color="#df7554"/><stop offset=".5119" stop-color="#e7855b"/><stop offset=".5158" stop-color="#f9d191"/><stop offset=".5166" stop-color="#f6d897"/><stop offset=".5221" stop-color="#cee5af"/><stop offset=".5284" stop-color="#95c3a8"/><stop offset=".5347" stop-color="#71ada3"/><stop offset=".5425" stop-color="#6997a4"/><stop offset=".5511" stop-color="#6687a4"/><stop offset=".5652" stop-color="#6279a5"/><stop offset=".5833" stop-color="#606fa5"/><stop offset=".6421" stop-color="#5d63a6"/><stop offset=".7738" stop-color="#5d63a6"/><stop offset=".871" stop-color="#6277a5"/><stop offset=".9407" stop-color="#5e65a6"/><stop offset=".9995" stop-color="#5c5ea6"/></linearGradient>
<linearGradient id="h20" x1="0" y1="0" x2="0" y2="1"><stop offset="0" stop-color="#678da4"/><stop offset=".0282" stop-color="#6278a5"/><stop offset=".0674" stop-color="#5f6ba5"/><stop offset=".1231" stop-color="#5d63a6"/><stop offset=".207" stop-color="#5c60a6"/><stop offset=".3159" stop-color="#5d60a6"/><stop offset=".3873" stop-color="#5e66a6"/><stop offset=".4296" stop-color="#6171a5"/><stop offset=".4555" stop-color="#6585a4"/><stop offset=".4657" stop-color="#6997a4"/><stop offset=".4735" stop-color="#71ada3"/><stop offset=".4798" stop-color="#95c3a8"/><stop offset=".486" stop-color="#cee5af"/><stop offset=".4915" stop-color="#f6d897"/><stop offset=".4923" stop-color="#f9d191"/><stop offset=".4962" stop-color="#e7855b"/><stop offset=".497" stop-color="#df7554"/><stop offset=".4994" stop-color="#c3454a"/><stop offset=".5017" stop-color="#ad2042"/><stop offset=".5072" stop-color="#ad2042"/><stop offset=".508" stop-color="#b22944"/><stop offset=".5096" stop-color="#c24349"/><stop offset=".5127" stop-color="#e68459"/><stop offset=".5166" stop-color="#f8cf8f"/><stop offset=".5174" stop-color="#f7d897"/><stop offset=".5229" stop-color="#cee5af"/><stop offset=".5292" stop-color="#95c4a8"/><stop offset=".5362" stop-color="#6eaba3"/><stop offset=".5456" stop-color="#6892a4"/><stop offset=".5574" stop-color="#6481a5"/><stop offset=".5738" stop-color="#6174a5"/><stop offset=".5966" stop-color="#5f6ba5"/><stop offset=".6585" stop-color="#5d62a6"/><stop offset=".7518" stop-color="#5d61a6"/><stop offset=".8035" stop-color="#5e66a6"/><stop offset=".8725" stop-color="#6277a5"/><stop offset=".9407" stop-color="#5e65a6"/><stop offset=".9995" stop-color="#5c5ea6"/></linearGradient>
<linearGradient id="h21" x1="0" y1="0" x2="0" y2="1"><stop offset="0" stop-color="#678fa4"/><stop offset=".0282" stop-color="#6279a5"/><stop offset=".0659" stop-color="#5f6ca5"/><stop offset=".1199" stop-color="#5d64a6"/><stop offset=".2015" stop-color="#5c60a6"/><stop offset=".3136" stop-color="#5d60a6"/><stop offset=".3873" stop-color="#5e66a6"/><stop offset=".4296" stop-color="#6071a5"/><stop offset=".4563" stop-color="#6585a4"/><stop offset=".4664" stop-color="#6996a4"/><stop offset=".4743" stop-color="#70aca3"/><stop offset=".4813" stop-color="#9ac6a9"/><stop offset=".4868" stop-color="#cde6af"/><stop offset=".4923" stop-color="#f5d998"/><stop offset=".4931" stop-color="#f9d392"/><stop offset=".4978" stop-color="#e17855"/><stop offset=".5002" stop-color="#c5484a"/><stop offset=".5017" stop-color="#b52d45"/><stop offset=".5025" stop-color="#ae2243"/><stop offset=".5033" stop-color="#ad2042"/><stop offset=".508" stop-color="#ad2042"/><stop offset=".5088" stop-color="#b22844"/><stop offset=".5111" stop-color="#c9504c"/><stop offset=".5135" stop-color="#e58157"/><stop offset=".5174" stop-color="#f7cc8d"/><stop offset=".5182" stop-color="#f8d896"/><stop offset=".5237" stop-color="#cfe5ae"/><stop offset=".5245" stop-color="#cae5b0"/><stop offset=".5299" stop-color="#97c5a9"/><stop offset=".537" stop-color="#6eaba3"/><stop offset=".5464" stop-color="#6892a4"/><stop offset=".5582" stop-color="#6481a5"/><stop offset=".5746" stop-color="#6174a5"/><stop offset=".5974" stop-color="#5f6ba5"/><stop offset=".6593" stop-color="#5d62a6"/><stop offset=".7526" stop-color="#5d61a6"/><stop offset=".8043" stop-color="#5e66a6"/><stop offset=".8733" stop-color="#6277a5"/><stop offset=".9415" stop-color="#5e65a6"/><stop offset=".9995" stop-color="#5c5fa6"/></linearGradient>
<linearGradient id="h22" x1="0" y1="0" x2="0" y2="1"><stop offset="0" stop-color="#6890a4"/><stop offset=".0188" stop-color="#647fa5"/><stop offset=".0423" stop-color="#6173a5"/><stop offset=".1113" stop-color="#5e65a6"/><stop offset=".2712" stop-color="#5c5fa6"/><stop offset=".3959" stop-color="#5e67a6"/><stop offset=".4265" stop-color="#606fa5"/><stop offset=".4484" stop-color="#637ca5"/><stop offset=".4633" stop-color="#678ea4"/><stop offset=".4743" stop-color="#6ea9a3"/><stop offset=".4774" stop-color="#7bb3a5"/><stop offset=".4813" stop-color="#93c2a8"/><stop offset=".4845" stop-color="#acd2ac"/><stop offset=".4876" stop-color="#cce6b0"/><stop offset=".4939" stop-color="#fad694"/><stop offset=".4986" stop-color="#e37c55"/><stop offset=".5009" stop-color="#c74c4b"/><stop offset=".5033" stop-color="#b02643"/><stop offset=".5041" stop-color="#ad2042"/><stop offset=".5088" stop-color="#ad2042"/><stop offset=".5096" stop-color="#b12643"/><stop offset=".5111" stop-color="#bf3e48"/><stop offset=".5143" stop-color="#e47d56"/><stop offset=".519" stop-color="#fad795"/><stop offset=".5252" stop-color="#cce6b0"/><stop offset=".5307" stop-color="#98c6a9"/><stop offset=".5378" stop-color="#6faca3"/><stop offset=".5448" stop-color="#6998a4"/><stop offset=".5535" stop-color="#6688a4"/><stop offset=".5676" stop-color="#6279a5"/><stop offset=".5856" stop-color="#606fa5"/><stop offset=".6444" stop-color="#5d63a6"/><stop offset=".7761" stop-color="#5d63a6"/><stop offset=".8733" stop-color="#6277a5"/><stop offset=".9423" stop-color="#5e65a6"/><stop offset=".9995" stop-color="#5c5fa6"/></linearGradient>
<linearGradient id="h23" x1="0" y1="0" x2="0" y2="1"><stop offset="0" stop-color="#6891a4"/><stop offset=".0188" stop-color="#6480a5"/><stop offset=".0423" stop-color="#6174a5"/><stop offset=".1098" stop-color="#5e65a6"/><stop offset=".2673" stop-color="#5c5fa6"/><stop offset=".3951" stop-color="#5e67a6"/><stop offset=".4265" stop-color="#606fa5"/><stop offset=".4484" stop-color="#637ba5"/><stop offset=".4641" stop-color="#678ea4"/><stop offset=".4751" stop-color="#6da9a3"/><stop offset=".4782" stop-color="#7ab2a5"/><stop offset=".4821" stop-color="#91c1a8"/><stop offset=".4853" stop-color="#aad1ab"/><stop offset=".4884" stop-color="#cae5b0"/><stop offset=".4947" stop-color="#f9d796"/><stop offset=".4994" stop-color="#e58157"/><stop offset=".5017" stop-color="#ca514c"/><stop offset=".5041" stop-color="#b32a44"/><stop offset=".5049" stop-color="#ad2142"/><stop offset=".5096" stop-color="#ad2042"/><stop offset=".5103" stop-color="#b02543"/><stop offset=".5119" stop-color="#bd3b48"/><stop offset=".5151" stop-color="#e17855"/><stop offset=".5198" stop-color="#f9d292"/><stop offset=".5205" stop-color="#f5d998"/><stop offset=".526" stop-color="#cee5af"/><stop offset=".5323" stop-color="#94c3a8"/><stop offset=".5386" stop-color="#70aca3"/><stop offset=".5464" stop-color="#6996a4"/><stop offset=".555" stop-color="#6687a4"/><stop offset=".5691" stop-color="#6279a5"/><stop offset=".5872" stop-color="#606fa5"/><stop offset=".646" stop-color="#5d63a6"/><stop offset=".7769" stop-color="#5d63a6"/><stop offset=".8741" stop-color="#6277a5"/><stop offset=".9431" stop-color="#5e65a6"/><stop offset=".9995" stop-color="#5c5fa6"/></linearGradient>
<linearGradient id="h24" x1="0" y1="0" x2="0" y2="1"><stop offset="0" stop-color="#6893a4"/><stop offset=".0259" stop-color="#637ca5"/><stop offset=".0611" stop-color="#606ea5"/><stop offset=".1105" stop-color="#5e65a6"/><stop offset=".1834" stop-color="#5d60a6"/><stop offset=".3026" stop-color="#5c60a6"/><stop offset=".3849" stop-color="#5e65a6"/><stop offset=".4312" stop-color="#6070a5"/><stop offset=".4586" stop-color="#6584a5"/><stop offset=".4688" stop-color="#6995a4"/><stop offset=".4766" stop-color="#6eaba3"/><stop offset=".4837" stop-color="#95c4a8"/><stop offset=".49" stop-color="#cee5af"/><stop offset=".4955" stop-color="#f7d897"/><stop offset=".4962" stop-color="#f8d090"/><stop offset=".5002" stop-color="#e7865b"/><stop offset=".5009" stop-color="#e07654"/><stop offset=".5041" stop-color="#bd3a48"/><stop offset=".5056" stop-color="#b02543"/><stop offset=".5064" stop-color="#ad2042"/><stop offset=".5103" stop-color="#ad2042"/><stop offset=".5111" stop-color="#af2443"/><stop offset=".5119" stop-color="#b52d45"/><stop offset=".5143" stop-color="#cc544d"/><stop offset=".5166" stop-color="#e68359"/><stop offset=".5205" stop-color="#f8ce8e"/><stop offset=".5213" stop-color="#f8d896"/><stop offset=".5268" stop-color="#cfe5ae"/><stop offset=".5276" stop-color="#c9e4b0"/><stop offset=".5331" stop-color="#96c4a9"/><stop offset=".5401" stop-color="#6eaba3"/><stop offset=".5495" stop-color="#6892a4"/><stop offset=".5613" stop-color="#6481a5"/><stop offset=".5778" stop-color="#6174a5"/><stop offset=".5997" stop-color="#5f6ba5"/><stop offset=".6616" stop-color="#5d62a6"/><stop offset=".7549" stop-color="#5d61a6"/><stop offset=".8067" stop-color="#5e66a6"/><stop offset=".8765" stop-color="#6277a5"/><stop offset=".9431" stop-color="#5e65a6"/><stop offset=".9995" stop-color="#5c5fa6"/></linearGradient>
<linearGradient id="h25" x1="0" y1="0" x2="0" y2="1"><stop offset="0" stop-color="#6995a4"/><stop offset=".0188" stop-color="#6482a5"/><stop offset=".0415" stop-color="#6175a5"/><stop offset=".1082" stop-color="#5e65a6"/><stop offset=".2642" stop-color="#5c5fa6"/><stop offset=".3959" stop-color="#5e66a6"/><stop offset=".428" stop-color="#606fa5"/><stop offset=".4508" stop-color="#637ba5"/><stop offset=".4664" stop-color="#678fa4"/><stop offset=".4774" stop-color="#6eaaa3"/><stop offset=".4806" stop-color="#7cb3a5"/><stop offset=".4845" stop-color="#94c3a8"/><stop offset=".4876" stop-color="#add3ac"/><stop offset=".4907" stop-color="#cde6af"/><stop offset=".497" stop-color="#f9d493"/><stop offset=".5017" stop-color="#e37b55"/><stop offset=".5041" stop-color="#c84d4c"/><stop offset=".5064" stop-color="#b32944"/><stop offset=".5072" stop-color="#ae2142"/><stop offset=".5111" stop-color="#ad2042"/><stop offset=".5119" stop-color="#ae2243"/><stop offset=".5135" stop-color="#ba3647"/><stop offset=".5174" stop-color="#e57e56"/><stop offset=".5221" stop-color="#fad694"/><stop offset=".5284" stop-color="#cce6b0"/><stop offset=".5339" stop-color="#99c6a9"/><stop offset=".5409" stop-color="#6faca3"/><stop offset=".548" stop-color="#6998a4"/><stop offset=".5566" stop-color="#6688a4"/><stop offset=".5707" stop-color="#6279a5"/><stop offset=".5887" stop-color="#606fa5"/><stop offset=".6475" stop-color="#5d63a6"/><stop offset=".7785" stop-color="#5d62a6"/><stop offset=".8765" stop-color="#6277a5"/><stop offset=".9447" stop-color="#5e65a6"/><stop offset=".9995" stop-color="#5c5fa6"/></linearGradient>
<linearGradient id="h26" x1="0" y1="0" x2="0" y2="1"><stop offset="0" stop-color="#6996a4"/><stop offset=".0251" stop-color="#647fa5"/><stop offset=".0588" stop-color="#606fa5"/><stop offset=".1058" stop-color="#5e66a6"/><stop offset=".1756" stop-color="#5d61a6"/><stop offset=".2987" stop-color="#5c60a6"/><stop offset=".3857" stop-color="#5e65a6"/><stop offset=".4327" stop-color="#6070a5"/><stop offset=".461" stop-color="#6585a4"/><stop offset=".4712" stop-color="#6996a4"/><stop offset=".479" stop-color="#6faca3"/><stop offset=".486" stop-color="#98c5a9"/><stop offset=".4915" stop-color="#cce6b0"/><stop offset=".4978" stop-color="#f9d795"/><stop offset=".5025" stop-color="#e58157"/><stop offset=".5064" stop-color="#bc3947"/><stop offset=".5088" stop-color="#ad2042"/><stop offset=".5127" stop-color="#ae2242"/><stop offset=".5143" stop-color="#b83346"/><stop offset=".5158" stop-color="#c74c4b"/><stop offset=".5182" stop-color="#e17955"/><stop offset=".5229" stop-color="#f9d191"/><stop offset=".5237" stop-color="#f6d897"/><stop offset=".5292" stop-color="#cee5af"/><stop offset=".5354" stop-color="#95c3a8"/><stop offset=".5425" stop-color="#6eaaa3"/><stop offset=".5519" stop-color="#6892a4"/><stop offset=".5637" stop-color="#6481a5"/><stop offset=".5801" stop-color="#6174a5"/><stop offset=".6021" stop-color="#5f6ba5"/><stop offset=".664" stop-color="#5d62a6"/><stop offset=".7565" stop-color="#5d61a6"/><stop offset=".8082" stop-color="#5e66a6"/><stop offset=".878" stop-color="#6277a5"/><stop offset=".9447" stop-color="#5e65a6"/><stop offset=".9995" stop-color="#5c5fa6"/></linearGradient>
<linearGradient id="h27" x1="0" y1="0" x2="0" y2="1"><stop offset="0" stop-color="#6a98a4"/><stop offset=".018" stop-color="#6585a4"/><stop offset=".0408" stop-color="#6277a5"/><stop offset=".1058" stop-color="#5e66a6"/><stop offset=".2587" stop-color="#5c5fa6"/><stop offset=".3959" stop-color="#5e66a6"/><stop offset=".4296" stop-color="#606ea5"/><stop offset=".4523" stop-color="#637ba5"/><stop offset=".468" stop-color="#678ea4"/><stop offset=".4798" stop-color="#6eaba3"/><stop offset=".4868" stop-color="#96c4a9"/><stop offset=".4923" stop-color="#c9e4b0"/><stop offset=".4931" stop-color="#cfe5ae"/><stop offset=".4986" stop-color="#f7d897"/><stop offset=".4994" stop-color="#f8cf8f"/><stop offset=".5033" stop-color="#e7865b"/><stop offset=".5041" stop-color="#e07754"/><stop offset=".5064" stop-color="#c64a4b"/><stop offset=".508" stop-color="#b83346"/><stop offset=".5096" stop-color="#ae2242"/><stop offset=".5127" stop-color="#ad2042"/><stop offset=".5143" stop-color="#b22844"/><stop offset=".5158" stop-color="#bd3c48"/><stop offset=".5198" stop-color="#e68359"/><stop offset=".5245" stop-color="#f9d796"/><stop offset=".5307" stop-color="#cae5b0"/><stop offset=".5362" stop-color="#97c5a9"/><stop offset=".5433" stop-color="#6faba3"/><stop offset=".5503" stop-color="#6997a4"/><stop offset=".559" stop-color="#6688a4"/><stop offset=".5731" stop-color="#6279a5"/><stop offset=".5911" stop-color="#606fa5"/><stop offset=".6499" stop-color="#5d63a6"/><stop offset=".7808" stop-color="#5d62a6"/><stop offset=".878" stop-color="#6276a5"/><stop offset=".9462" stop-color="#5e65a6"/><stop offset=".9995" stop-color="#5c5fa6"/></linearGradient>
<linearGradient id="h28" x1="0" y1="0" x2="0" y2="1"><stop offset="0" stop-color="#6a9aa4"/><stop offset=".018" stop-color="#6586a4"/><stop offset=".04" stop-color="#6278a5"/><stop offset=".105" stop-color="#5e66a6"/><stop offset=".2563" stop-color="#5c5fa6"/><stop offset=".3959" stop-color="#5e66a6"/><stop offset=".4296" stop-color="#606ea5"/><stop offset=".4531" stop-color="#637ba5"/><stop offset=".4688" stop-color="#678da4"/><stop offset=".4806" stop-color="#6eaaa3"/><stop offset=".4837" stop-color="#7cb4a5"/><stop offset=".4876" stop-color="#94c3a8"/><stop offset=".4939" stop-color="#cee5af"/><stop offset=".4994" stop-color="#f5d998"/><stop offset=".5002" stop-color="#f9d392"/><stop offset=".5049" stop-color="#e37c55"/><stop offset=".5072" stop-color="#c9504c"/><stop offset=".5088" stop-color="#bb3747"/><stop offset=".5111" stop-color="#ad2042"/><stop offset=".5135" stop-color="#ad2042"/><stop offset=".5151" stop-color="#b12743"/><stop offset=".5166" stop-color="#bc3947"/><stop offset=".5182" stop-color="#ca514c"/><stop offset=".5205" stop-color="#e57e56"/><stop offset=".5252" stop-color="#f9d593"/><stop offset=".5315" stop-color="#cde6af"/><stop offset=".537" stop-color="#99c6a9"/><stop offset=".5441" stop-color="#70aca3"/><stop offset=".5511" stop-color="#6a98a4"/><stop offset=".5597" stop-color="#6688a4"/><stop offset=".5738" stop-color="#6279a5"/><stop offset=".5919" stop-color="#606fa5"/><stop offset=".6499" stop-color="#5d63a6"/><stop offset=".7816" stop-color="#5d62a6"/><stop offset=".8788" stop-color="#6276a5"/><stop offset=".9462" stop-color="#5e65a6"/><stop offset=".9995" stop-color="#5c5fa6"/></linearGradient>
<linearGradient id="h29" x1="0" y1="0" x2="0" y2="1"><stop offset="0" stop-color="#6b9da4"/><stop offset=".0235" stop-color="#6583a5"/><stop offset=".0549" stop-color="#6172a5"/><stop offset=".098" stop-color="#5e67a6"/><stop offset=".1599" stop-color="#5d62a6"/><stop offset=".2861" stop-color="#5c5fa6"/><stop offset=".3833" stop-color="#5d64a6"/><stop offset=".4335" stop-color="#606fa5"/><stop offset=".4633" stop-color="#6584a5"/><stop offset=".4735" stop-color="#6994a4"/><stop offset=".4821" stop-color="#6faca3"/><stop offset=".4892" stop-color="#98c5a9"/><stop offset=".4947" stop-color="#cce6b0"/><stop offset=".5009" stop-color="#fad795"/><stop offset=".5056" stop-color="#e68258"/><stop offset=".5096" stop-color="#be3c48"/><stop offset=".5111" stop-color="#b32a44"/><stop offset=".5127" stop-color="#ad2042"/><stop offset=".5151" stop-color="#ad2042"/><stop offset=".5174" stop-color="#ba3647"/><stop offset=".519" stop-color="#c84d4c"/><stop offset=".5213" stop-color="#e17955"/><stop offset=".526" stop-color="#f8d090"/><stop offset=".5268" stop-color="#f7d897"/><stop offset=".5323" stop-color="#cfe5ae"/><stop offset=".5386" stop-color="#96c4a9"/><stop offset=".5456" stop-color="#6eaba3"/><stop offset=".555" stop-color="#6892a4"/><stop offset=".5668" stop-color="#6481a5"/><stop offset=".5833" stop-color="#6174a5"/><stop offset=".6052" stop-color="#5f6ba5"/><stop offset=".6671" stop-color="#5d62a6"/><stop offset=".7596" stop-color="#5d61a6"/><stop offset=".8114" stop-color="#5e66a6"/><stop offset=".8812" stop-color="#6276a5"/><stop offset=".947" stop-color="#5e65a6"/><stop offset=".9995" stop-color="#5c5fa6"/></linearGradient>
<linearGradient id="h30" x1="0" y1="0" x2="0" y2="1"><stop offset="0" stop-color="#6b9fa3"/><stop offset=".0172" stop-color="#668aa4"/><stop offset=".0392" stop-color="#627aa5"/><stop offset=".0666" stop-color="#606ea5"/><stop offset=".1027" stop-color="#5e67a6"/><stop offset=".2477" stop-color="#5c5fa6"/><stop offset=".3943" stop-color="#5e65a6"/><stop offset=".4304" stop-color="#606da5"/><stop offset=".4547" stop-color="#637aa5"/><stop offset=".4712" stop-color="#678ea4"/><stop offset=".4829" stop-color="#6eaba3"/><stop offset=".49" stop-color="#96c4a8"/><stop offset=".4962" stop-color="#cfe5ae"/><stop offset=".5017" stop-color="#f7d897"/><stop offset=".5025" stop-color="#f8d090"/><stop offset=".5072" stop-color="#e27a55"/><stop offset=".5103" stop-color="#c14349"/><stop offset=".5127" stop-color="#b22844"/><stop offset=".5151" stop-color="#ad2042"/><stop offset=".5166" stop-color="#b12643"/><stop offset=".5182" stop-color="#b93546"/><stop offset=".5198" stop-color="#c64a4b"/><stop offset=".5221" stop-color="#df7454"/><stop offset=".5229" stop-color="#e68359"/><stop offset=".5276" stop-color="#f9d795"/><stop offset=".5339" stop-color="#cce6b0"/><stop offset=".5394" stop-color="#98c5a9"/><stop offset=".5464" stop-color="#6faca3"/><stop offset=".5535" stop-color="#6997a4"/><stop offset=".5621" stop-color="#6688a4"/><stop offset=".5762" stop-color="#6279a5"/><stop offset=".5942" stop-color="#606fa5"/><stop offset=".6522" stop-color="#5d63a6"/><stop offset=".7832" stop-color="#5d62a6"/><stop offset=".8812" stop-color="#6276a5"/><stop offset=".9478" stop-color="#5e65a6"/><stop offset=".9995" stop-color="#5c5fa6"/></linearGradient>
<linearGradient id="h31" x1="0" y1="0" x2="0" y2="1"><stop offset="0" stop-color="#6ca2a3"/><stop offset=".0227" stop-color="#6586a4"/><stop offset=".0525" stop-color="#6174a5"/><stop offset=".0933" stop-color="#5e69a6"/><stop offset=".1513" stop-color="#5d62a6"/><stop offset=".2783" stop-color="#5c5fa6"/><stop offset=".3833" stop-color="#5d64a6"/><stop offset=".4351" stop-color="#606fa5"/><stop offset=".4657" stop-color="#6584a5"/><stop offset=".4759" stop-color="#6994a4"/><stop offset=".4845" stop-color="#6faca3"/><stop offset=".4915" stop-color="#98c6a9"/><stop offset=".497" stop-color="#cce6b0"/><stop offset=".5033" stop-color="#fad795"/><stop offset=".508" stop-color="#e68359"/><stop offset=".5103" stop-color="#ce584e"/><stop offset=".5127" stop-color="#ba3747"/><stop offset=".5143" stop-color="#b32a44"/><stop offset=".5158" stop-color="#b02543"/><stop offset=".5174" stop-color="#b22944"/><stop offset=".519" stop-color="#ba3546"/><stop offset=".5213" stop-color="#cc554d"/><stop offset=".5237" stop-color="#e58057"/><stop offset=".5284" stop-color="#f9d593"/><stop offset=".5347" stop-color="#cde6af"/><stop offset=".5378" stop-color="#add3ac"/><stop offset=".5409" stop-color="#94c3a8"/><stop offset=".5448" stop-color="#7bb3a5"/><stop offset=".548" stop-color="#6eaaa3"/><stop offset=".5574" stop-color="#6891a4"/><stop offset=".5691" stop-color="#6480a5"/><stop offset=".5848" stop-color="#6174a5"/><stop offset=".6068" stop-color="#5f6ba5"/><stop offset=".6679" stop-color="#5d62a6"/><stop offset=".7612" stop-color="#5d61a6"/><stop offset=".813" stop-color="#5e66a6"/><stop offset=".8827" stop-color="#6276a5"/><stop offset=".9486" stop-color="#5e65a6"/><stop offset=".9995" stop-color="#5c5fa6"/></linearGradient>
<linearGradient id="h32" x1="0" y1="0" x2="0" y2="1"><stop offset="0" stop-color="#6da5a3"/><stop offset=".0165" stop-color="#678ea4"/><stop offset=".0384" stop-color="#637ca5"/><stop offset=".0651" stop-color="#6070a5"/><stop offset=".1003" stop-color="#5e68a6"/><stop offset=".2399" stop-color="#5c5fa6"/><stop offset=".3935" stop-color="#5e65a6"/><stop offset=".4312" stop-color="#5f6da5"/><stop offset=".4563" stop-color="#6279a5"/><stop offset=".4735" stop-color="#678da4"/><stop offset=".4853" stop-color="#6eaaa3"/><stop offset=".4884" stop-color="#7cb4a5"/><stop offset=".4923" stop-color="#95c3a8"/><stop offset=".4986" stop-color="#cee5af"/><stop offset=".5041" stop-color="#f6d897"/><stop offset=".5049" stop-color="#f9d291"/><stop offset=".5096" stop-color="#e57e56"/><stop offset=".5127" stop-color="#c64a4b"/><stop offset=".5151" stop-color="#b73246"/><stop offset=".5174" stop-color="#b42b44"/><stop offset=".519" stop-color="#b73146"/><stop offset=".5205" stop-color="#c04049"/><stop offset=".5221" stop-color="#cc554d"/><stop offset=".5245" stop-color="#e47e56"/><stop offset=".5292" stop-color="#f9d191"/><stop offset=".5299" stop-color="#f6d897"/><stop offset=".5354" stop-color="#cee5af"/><stop offset=".5417" stop-color="#95c4a8"/><stop offset=".548" stop-color="#71ada3"/><stop offset=".555" stop-color="#6a98a4"/><stop offset=".5637" stop-color="#6688a4"/><stop offset=".577" stop-color="#637aa5"/><stop offset=".5958" stop-color="#606fa5"/><stop offset=".6538" stop-color="#5d63a6"/><stop offset=".7855" stop-color="#5d62a6"/><stop offset=".8827" stop-color="#6276a5"/><stop offset=".9494" stop-color="#5e65a6"/><stop offset=".9995" stop-color="#5c5fa6"/></linearGradient>
<linearGradient id="h33" x1="0" y1="0" x2="0" y2="1"><stop offset="0" stop-color="#6da8a3"/><stop offset=".0165" stop-color="#6890a4"/><stop offset=".0376" stop-color="#637da5"/><stop offset=".0643" stop-color="#6071a5"/><stop offset=".0988" stop-color="#5e68a6"/><stop offset=".2336" stop-color="#5c5fa6"/><stop offset=".392" stop-color="#5e64a6"/><stop offset=".4312" stop-color="#5f6ca5"/><stop offset=".457" stop-color="#6279a5"/><stop offset=".4743" stop-color="#678ca4"/><stop offset=".4813" stop-color="#6a9aa4"/><stop offset=".4868" stop-color="#6eaba3"/><stop offset=".4939" stop-color="#97c4a9"/><stop offset=".4994" stop-color="#cae5b0"/><stop offset=".5002" stop-color="#d0e5ae"/><stop offset=".5056" stop-color="#f8d896"/><stop offset=".5064" stop-color="#f8ce8f"/><stop offset=".5111" stop-color="#e37c55"/><stop offset=".5135" stop-color="#cc554d"/><stop offset=".5151" stop-color="#c14249"/><stop offset=".5166" stop-color="#ba3647"/><stop offset=".5182" stop-color="#b83246"/><stop offset=".5198" stop-color="#ba3647"/><stop offset=".5213" stop-color="#c14349"/><stop offset=".5229" stop-color="#cd564d"/><stop offset=".5252" stop-color="#e37c55"/><stop offset=".5299" stop-color="#f8ce8f"/><stop offset=".5307" stop-color="#f8d896"/><stop offset=".537" stop-color="#cae5b0"/><stop offset=".5425" stop-color="#96c4a9"/><stop offset=".5495" stop-color="#6eaba3"/><stop offset=".5566" stop-color="#6997a4"/><stop offset=".5652" stop-color="#6687a4"/><stop offset=".5793" stop-color="#6279a5"/><stop offset=".5974" stop-color="#606fa5"/><stop offset=".6554" stop-color="#5d63a6"/><stop offset=".7863" stop-color="#5d62a6"/><stop offset=".8835" stop-color="#6276a5"/><stop offset=".9501" stop-color="#5e65a6"/><stop offset=".9995" stop-color="#5c5fa6"/></linearGradient>
<linearGradient id="h34" x1="0" y1="0" x2="0" y2="1"><stop offset="0" stop-color="#6eaba3"/><stop offset=".0165" stop-color="#6892a4"/><stop offset=".0368" stop-color="#647fa5"/><stop offset=".0627" stop-color="#6172a5"/><stop offset=".0972" stop-color="#5f69a6"/><stop offset=".2297" stop-color="#5c60a6"/><stop offset=".392" stop-color="#5d64a6"/><stop offset=".4312" stop-color="#5f6ca5"/><stop offset=".4578" stop-color="#6278a5"/><stop offset=".4751" stop-color="#678ba4"/><stop offset=".4876" stop-color="#6da9a3"/><stop offset=".4907" stop-color="#7ab2a5"/><stop offset=".4947" stop-color="#92c2a8"/><stop offset=".4978" stop-color="#acd2ac"/><stop offset=".5009" stop-color="#cce6b0"/><stop offset=".5072" stop-color="#fad795"/><stop offset=".5119" stop-color="#e7885c"/><stop offset=".5127" stop-color="#e27b55"/><stop offset=".5151" stop-color="#cd574e"/><stop offset=".5174" stop-color="#c04049"/><stop offset=".5198" stop-color="#bd3a48"/><stop offset=".5213" stop-color="#c04049"/><stop offset=".5229" stop-color="#c84e4c"/><stop offset=".526" stop-color="#e37b55"/><stop offset=".5315" stop-color="#f9d795"/><stop offset=".5378" stop-color="#cce6b0"/><stop offset=".5433" stop-color="#98c5a9"/><stop offset=".5503" stop-color="#6eaba3"/><stop offset=".5574" stop-color="#6997a4"/><stop offset=".5652" stop-color="#6688a4"/><stop offset=".5786" stop-color="#637aa5"/><stop offset=".5974" stop-color="#606fa5"/><stop offset=".6554" stop-color="#5d63a6"/><stop offset=".7871" stop-color="#5d62a6"/><stop offset=".8851" stop-color="#6276a5"/><stop offset=".9509" stop-color="#5e65a6"/><stop offset=".9995" stop-color="#5c5fa6"/></linearGradient>
<linearGradient id="h35" x1="0" y1="0" x2="0" y2="1"><stop offset="0" stop-color="#73aea4"/><stop offset=".0024" stop-color="#6eaaa3"/><stop offset=".0165" stop-color="#6994a4"/><stop offset=".0368" stop-color="#6480a5"/><stop offset=".0627" stop-color="#6173a5"/><stop offset=".0964" stop-color="#5f69a6"/><stop offset=".225" stop-color="#5c60a6"/><stop offset=".3904" stop-color="#5d64a6"/><stop offset=".4312" stop-color="#5f6ba5"/><stop offset=".4586" stop-color="#6278a5"/><stop offset=".4766" stop-color="#678ba4"/><stop offset=".4892" stop-color="#6ea9a3"/><stop offset=".4923" stop-color="#7bb3a5"/><stop offset=".4962" stop-color="#93c2a8"/><stop offset=".4994" stop-color="#add3ac"/><stop offset=".5025" stop-color="#cde6af"/><stop offset=".5088" stop-color="#fad694"/><stop offset=".5143" stop-color="#e27b55"/><stop offset=".5174" stop-color="#ca524c"/><stop offset=".519" stop-color="#c4464a"/><stop offset=".5205" stop-color="#c14249"/><stop offset=".5221" stop-color="#c4464a"/><stop offset=".5237" stop-color="#ca524c"/><stop offset=".5268" stop-color="#e37b55"/><stop offset=".5323" stop-color="#fad694"/><stop offset=".5386" stop-color="#cde6af"/><stop offset=".5441" stop-color="#99c6a9"/><stop offset=".5511" stop-color="#6faca3"/><stop offset=".5582" stop-color="#6997a4"/><stop offset=".5668" stop-color="#6687a4"/><stop offset=".5801" stop-color="#6279a5"/><stop offset=".5989" stop-color="#606fa5"/><stop offset=".6569" stop-color="#5d63a6"/><stop offset=".7886" stop-color="#5d62a6"/><stop offset=".8859" stop-color="#6276a5"/><stop offset=".9517" stop-color="#5e65a6"/><stop offset=".9995" stop-color="#5c5fa6"/></linearGradient>
<linearGradient id="h36" x1="0" y1="0" x2="0" y2="1"><stop offset="0" stop-color="#78b1a4"/><stop offset=".0039" stop-color="#6eaba3"/><stop offset=".0188" stop-color="#6893a4"/><stop offset=".0368" stop-color="#6482a5"/><stop offset=".0627" stop-color="#6173a5"/><stop offset=".0964" stop-color="#5f6aa6"/><stop offset=".2226" stop-color="#5c60a6"/><stop offset=".3896" stop-color="#5d64a6"/><stop offset=".4312" stop-color="#5f6ba6"/><stop offset=".4594" stop-color="#6277a5"/><stop offset=".4782" stop-color="#678ba4"/><stop offset=".4907" stop-color="#6ea9a3"/><stop offset=".4939" stop-color="#7bb3a5"/><stop offset=".4978" stop-color="#94c3a8"/><stop offset=".5041" stop-color="#cee5af"/><stop offset=".5103" stop-color="#f9d493"/><stop offset=".5158" stop-color="#e37c55"/><stop offset=".519" stop-color="#cd564d"/><stop offset=".5205" stop-color="#c74d4b"/><stop offset=".5221" stop-color="#c64b4b"/><stop offset=".5245" stop-color="#cd564d"/><stop offset=".5276" stop-color="#e37b55"/><stop offset=".5331" stop-color="#f9d392"/><stop offset=".5339" stop-color="#f6d898"/><stop offset=".5394" stop-color="#cee5af"/><stop offset=".5456" stop-color="#94c3a8"/><stop offset=".5519" stop-color="#70aca3"/><stop offset=".559" stop-color="#6997a4"/><stop offset=".5676" stop-color="#6687a4"/><stop offset=".5809" stop-color="#6279a5"/><stop offset=".5997" stop-color="#606fa5"/><stop offset=".6577" stop-color="#5d63a6"/><stop offset=".7894" stop-color="#5d62a6"/><stop offset=".8866" stop-color="#6276a5"/><stop offset=".9525" stop-color="#5e65a6"/><stop offset=".9995" stop-color="#5c5fa6"/></linearGradient>
<linearGradient id="h37" x1="0" y1="0" x2="0" y2="1"><stop offset="0" stop-color="#7eb5a5"/><stop offset=".0063" stop-color="#6eaaa3"/><stop offset=".0235" stop-color="#6890a4"/><stop offset=".0455" stop-color="#637da5"/><stop offset=".0792" stop-color="#606ea5"/><stop offset=".127" stop-color="#5e65a6"/><stop offset=".2415" stop-color="#5c5fa6"/><stop offset=".3739" stop-color="#5d62a6"/><stop offset=".4351" stop-color="#5f6ba5"/><stop offset=".4696" stop-color="#647ea5"/><stop offset=".4829" stop-color="#6891a4"/><stop offset=".4931" stop-color="#70aca3"/><stop offset=".4994" stop-color="#95c3a8"/><stop offset=".5056" stop-color="#cfe5ae"/><stop offset=".5111" stop-color="#f6d897"/><stop offset=".5119" stop-color="#f9d292"/><stop offset=".5166" stop-color="#e7885d"/><stop offset=".5174" stop-color="#e47d56"/><stop offset=".519" stop-color="#d86a51"/><stop offset=".5213" stop-color="#cd574e"/><stop offset=".5237" stop-color="#cb544d"/><stop offset=".526" stop-color="#d36050"/><stop offset=".5284" stop-color="#e37b55"/><stop offset=".5339" stop-color="#f8d090"/><stop offset=".5347" stop-color="#f7d897"/><stop offset=".5409" stop-color="#cae5b0"/><stop offset=".5464" stop-color="#96c4a9"/><stop offset=".5527" stop-color="#70aca3"/><stop offset=".5597" stop-color="#6998a4"/><stop offset=".5684" stop-color="#6688a4"/><stop offset=".5817" stop-color="#6279a5"/><stop offset=".6005" stop-color="#606fa5"/><stop offset=".6585" stop-color="#5d63a6"/><stop offset=".7902" stop-color="#5d62a6"/><stop offset=".8882" stop-color="#6276a5"/><stop offset=".9533" stop-color="#5e65a6"/><stop offset=".9995" stop-color="#5c5fa6"/></linearGradient>
<linearGradient id="h38" x1="0" y1="0" x2="0" y2="1"><stop offset="0" stop-color="#84b9a6"/><stop offset=".0078" stop-color="#6eaaa3"/><stop offset=".0243" stop-color="#6891a4"/><stop offset=".0447" stop-color="#647fa5"/><stop offset=".0776" stop-color="#606fa5"/><stop offset=".1239" stop-color="#5e66a6"/><stop offset=".236" stop-color="#5c5fa6"/><stop offset=".3724" stop-color="#5d62a6"/><stop offset=".4351" stop-color="#5f6ba5"/><stop offset=".4704" stop-color="#637da5"/><stop offset=".4845" stop-color="#6891a4"/><stop offset=".4947" stop-color="#70aca3"/><stop offset=".5009" stop-color="#95c4a8"/><stop offset=".5064" stop-color="#c9e4b0"/><stop offset=".5072" stop-color="#cfe5ae"/><stop offset=".5127" stop-color="#f7d897"/><stop offset=".5135" stop-color="#f9d191"/><stop offset=".519" stop-color="#e57f56"/><stop offset=".5221" stop-color="#d36150"/><stop offset=".5245" stop-color="#cf5a4e"/><stop offset=".5268" stop-color="#d56450"/><stop offset=".5292" stop-color="#e37b55"/><stop offset=".5307" stop-color="#e99062"/><stop offset=".5354" stop-color="#f9d795"/><stop offset=".5417" stop-color="#cde6b0"/><stop offset=".5472" stop-color="#98c5a9"/><stop offset=".5542" stop-color="#6eaba3"/><stop offset=".5613" stop-color="#6996a4"/><stop offset=".5691" stop-color="#6688a4"/><stop offset=".5825" stop-color="#627aa5"/><stop offset=".6005" stop-color="#606fa5"/><stop offset=".6585" stop-color="#5d63a6"/><stop offset=".791" stop-color="#5d62a6"/><stop offset=".889" stop-color="#6175a5"/><stop offset=".9541" stop-color="#5e65a6"/><stop offset=".9995" stop-color="#5c5fa6"/></linearGradient>
<linearGradient id="h39" x1="0" y1="0" x2="0" y2="1"><stop offset="0" stop-color="#8bbda7"/><stop offset=".0094" stop-color="#6eaba3"/><stop offset=".0243" stop-color="#6893a4"/><stop offset=".0439" stop-color="#6480a5"/><stop offset=".076" stop-color="#6070a5"/><stop offset=".1207" stop-color="#5e66a6"/><stop offset=".2289" stop-color="#5c60a6"/><stop offset=".3692" stop-color="#5d61a6"/><stop offset=".4335" stop-color="#5f6aa6"/><stop offset=".4704" stop-color="#637ca5"/><stop offset=".4853" stop-color="#678fa4"/><stop offset=".4955" stop-color="#6eaaa3"/><stop offset=".5017" stop-color="#90c1a8"/><stop offset=".5049" stop-color="#aad1ab"/><stop offset=".508" stop-color="#cbe5b0"/><stop offset=".5143" stop-color="#f7d897"/><stop offset=".5151" stop-color="#f8d090"/><stop offset=".519" stop-color="#ea9566"/><stop offset=".5213" stop-color="#e17855"/><stop offset=".5237" stop-color="#d66651"/><stop offset=".526" stop-color="#d46250"/><stop offset=".5284" stop-color="#da6c52"/><stop offset=".5307" stop-color="#e6845a"/><stop offset=".5362" stop-color="#f9d493"/><stop offset=".5425" stop-color="#cfe5af"/><stop offset=".5488" stop-color="#94c3a8"/><stop offset=".555" stop-color="#6faca3"/><stop offset=".5621" stop-color="#6997a4"/><stop offset=".5707" stop-color="#6687a4"/><stop offset=".584" stop-color="#6279a5"/><stop offset=".6029" stop-color="#606fa5"/><stop offset=".6609" stop-color="#5d63a6"/><stop offset=".7926" stop-color="#5d62a6"/><stop offset=".8898" stop-color="#6175a5"/><stop offset=".9548" stop-color="#5e65a6"/><stop offset=".9995" stop-color="#5c5fa6"/></linearGradient>
<linearGradient id="h40" x1="0" y1="0" x2="0" y2="1"><stop offset="0" stop-color="#93c2a8"/><stop offset=".0086" stop-color="#75afa4"/><stop offset=".0133" stop-color="#6da7a3"/><stop offset=".0306" stop-color="#678ea4"/><stop offset=".0525" stop-color="#637ca5"/><stop offset=".08" stop-color="#6070a5"/><stop offset=".1168" stop-color="#5e67a6"/><stop offset=".2203" stop-color="#5c60a6"/><stop offset=".3638" stop-color="#5d61a6"/><stop offset=".4312" stop-color="#5f69a6"/><stop offset=".4696" stop-color="#637aa5"/><stop offset=".486" stop-color="#678ea4"/><stop offset=".497" stop-color="#6eaaa3"/><stop offset=".5002" stop-color="#7db4a5"/><stop offset=".5041" stop-color="#97c5a9"/><stop offset=".5096" stop-color="#cce6b0"/><stop offset=".5158" stop-color="#f8d896"/><stop offset=".5205" stop-color="#ea9666"/><stop offset=".5229" stop-color="#e37b55"/><stop offset=".5252" stop-color="#d96b52"/><stop offset=".5276" stop-color="#d86951"/><stop offset=".5292" stop-color="#dc6f53"/><stop offset=".5315" stop-color="#e6845a"/><stop offset=".5339" stop-color="#eda16e"/><stop offset=".537" stop-color="#f8d090"/><stop offset=".5378" stop-color="#f8d896"/><stop offset=".5441" stop-color="#cce6b0"/><stop offset=".5495" stop-color="#97c5a9"/><stop offset=".5558" stop-color="#71ada3"/><stop offset=".5629" stop-color="#6997a4"/><stop offset=".5715" stop-color="#6687a4"/><stop offset=".5848" stop-color="#6279a5"/><stop offset=".6029" stop-color="#606fa5"/><stop offset=".6609" stop-color="#5d63a6"/><stop offset=".7934" stop-color="#5d62a6"/><stop offset=".8913" stop-color="#6175a5"/><stop offset=".9556" stop-color="#5e65a6"/><stop offset=".9995" stop-color="#5c60a6"/></linearGradient>
<linearGradient id="h41" x1="0" y1="0" x2="0" y2="1"><stop offset="0" stop-color="#9cc8a9"/><stop offset=".0063" stop-color="#83b8a6"/><stop offset=".0133" stop-color="#6eaba3"/><stop offset=".0298" stop-color="#6891a4"/><stop offset=".051" stop-color="#647ea5"/><stop offset=".0784" stop-color="#6071a5"/><stop offset=".1145" stop-color="#5e68a6"/><stop offset=".2148" stop-color="#5c60a6"/><stop offset=".3598" stop-color="#5d61a6"/><stop offset=".4296" stop-color="#5e68a6"/><stop offset=".4696" stop-color="#6279a5"/><stop offset=".4868" stop-color="#678ca4"/><stop offset=".4986" stop-color="#6eaba3"/><stop offset=".5049" stop-color="#92c2a8"/><stop offset=".508" stop-color="#acd2ac"/><stop offset=".5111" stop-color="#cde6b0"/><stop offset=".5174" stop-color="#f9d796"/><stop offset=".5213" stop-color="#eda16e"/><stop offset=".5237" stop-color="#e7865b"/><stop offset=".526" stop-color="#df7454"/><stop offset=".5284" stop-color="#dc6f53"/><stop offset=".5307" stop-color="#e17855"/><stop offset=".5331" stop-color="#e88d60"/><stop offset=".5386" stop-color="#fad795"/><stop offset=".5448" stop-color="#cee5af"/><stop offset=".5511" stop-color="#94c3a8"/><stop offset=".5574" stop-color="#6eaba3"/><stop offset=".5644" stop-color="#6996a4"/><stop offset=".5723" stop-color="#6688a4"/><stop offset=".5856" stop-color="#6279a5"/><stop offset=".6036" stop-color="#606fa5"/><stop offset=".6616" stop-color="#5d63a6"/><stop offset=".7941" stop-color="#5d62a6"/><stop offset=".8921" stop-color="#6175a5"/><stop offset=".9564" stop-color="#5e65a6"/><stop offset=".9995" stop-color="#5c60a6"/></linearGradient>
<linearGradient id="h42" x1="0" y1="0" x2="0" y2="1"><stop offset="0" stop-color="#a6ceab"/><stop offset=".0071" stop-color="#87bba6"/><stop offset=".0157" stop-color="#6eaaa3"/><stop offset=".0314" stop-color="#6892a4"/><stop offset=".0517" stop-color="#647fa5"/><stop offset=".0776" stop-color="#6172a5"/><stop offset=".1105" stop-color="#5f69a6"/><stop offset=".2054" stop-color="#5d60a6"/><stop offset=".3512" stop-color="#5d60a6"/><stop offset=".4257" stop-color="#5e67a6"/><stop offset=".468" stop-color="#6276a5"/><stop offset=".4876" stop-color="#678ba4"/><stop offset=".4947" stop-color="#6a9aa4"/><stop offset=".5002" stop-color="#6eaba3"/><stop offset=".5064" stop-color="#93c2a8"/><stop offset=".5127" stop-color="#cde6af"/><stop offset=".519" stop-color="#f9d796"/><stop offset=".5229" stop-color="#eda36f"/><stop offset=".5252" stop-color="#e7895d"/><stop offset=".5276" stop-color="#e27a55"/><stop offset=".5299" stop-color="#e07754"/><stop offset=".5323" stop-color="#e68158"/><stop offset=".5339" stop-color="#e98e61"/><stop offset=".5362" stop-color="#efa873"/><stop offset=".5394" stop-color="#f9d392"/><stop offset=".5464" stop-color="#cbe5b0"/><stop offset=".5519" stop-color="#97c4a9"/><stop offset=".5582" stop-color="#70aca3"/><stop offset=".5652" stop-color="#6997a4"/><stop offset=".5738" stop-color="#6687a4"/><stop offset=".5872" stop-color="#6279a5"/><stop offset=".6052" stop-color="#606fa5"/><stop offset=".6632" stop-color="#5d63a6"/><stop offset=".7957" stop-color="#5d62a6"/><stop offset=".8937" stop-color="#6175a5"/><stop offset=".9995" stop-color="#5c60a6"/></linearGradient>
<linearGradient id="h43" x1="0" y1="0" x2="0" y2="1"><stop offset="0" stop-color="#b1d5ac"/><stop offset=".0078" stop-color="#8cbea7"/><stop offset=".0172" stop-color="#6eaba3"/><stop offset=".0321" stop-color="#6893a4"/><stop offset=".0517" stop-color="#6480a5"/><stop offset=".076" stop-color="#6173a5"/><stop offset=".1066" stop-color="#5f6aa6"/><stop offset=".1944" stop-color="#5d61a6"/><stop offset=".3363" stop-color="#5c60a6"/><stop offset=".4186" stop-color="#5e66a6"/><stop offset=".4649" stop-color="#6173a5"/><stop offset=".4876" stop-color="#6689a4"/><stop offset=".4955" stop-color="#6a98a4"/><stop offset=".5017" stop-color="#6eaba3"/><stop offset=".508" stop-color="#93c2a8"/><stop offset=".5143" stop-color="#cee5af"/><stop offset=".5205" stop-color="#f9d796"/><stop offset=".526" stop-color="#ea9465"/><stop offset=".5284" stop-color="#e68359"/><stop offset=".5307" stop-color="#e47e56"/><stop offset=".5323" stop-color="#e68158"/><stop offset=".5347" stop-color="#e98f62"/><stop offset=".537" stop-color="#efa773"/><stop offset=".5401" stop-color="#f8d090"/><stop offset=".5409" stop-color="#f8d896"/><stop offset=".5472" stop-color="#cee5af"/><stop offset=".5535" stop-color="#94c3a8"/><stop offset=".5597" stop-color="#6faba3"/><stop offset=".5668" stop-color="#6996a4"/><stop offset=".5746" stop-color="#6688a4"/><stop offset=".588" stop-color="#6279a5"/><stop offset=".606" stop-color="#606fa5"/><stop offset=".664" stop-color="#5d63a6"/><stop offset=".7965" stop-color="#5d62a6"/><stop offset=".8945" stop-color="#6175a5"/><stop offset=".9995" stop-color="#5c60a6"/></linearGradient>
<linearGradient id="h44" x1="0" y1="0" x2="0" y2="1"><stop offset="0" stop-color="#bfdeae"/><stop offset=".0086" stop-color="#91c1a8"/><stop offset=".0196" stop-color="#6eaaa3"/><stop offset=".0337" stop-color="#6994a4"/><stop offset=".0517" stop-color="#6482a5"/><stop offset=".0745" stop-color="#6175a5"/><stop offset=".1027" stop-color="#5f6ba5"/><stop offset=".1834" stop-color="#5d62a6"/><stop offset=".3183" stop-color="#5c5fa6"/><stop offset=".41" stop-color="#5d64a6"/><stop offset=".461" stop-color="#6071a5"/><stop offset=".4759" stop-color="#627aa5"/><stop offset=".4876" stop-color="#6586a4"/><stop offset=".4962" stop-color="#6996a4"/><stop offset=".5033" stop-color="#6eaba3"/><stop offset=".5096" stop-color="#94c3a8"/><stop offset=".5158" stop-color="#cee5af"/><stop offset=".5221" stop-color="#f9d796"/><stop offset=".5252" stop-color="#f1b079"/><stop offset=".5276" stop-color="#eb9767"/><stop offset=".5299" stop-color="#e7895d"/><stop offset=".5323" stop-color="#e6855a"/><stop offset=".5339" stop-color="#e7895d"/><stop offset=".5362" stop-color="#eb9767"/><stop offset=".5386" stop-color="#f0af78"/><stop offset=".5417" stop-color="#fad694"/><stop offset=".5488" stop-color="#cce6b0"/><stop offset=".5542" stop-color="#98c5a9"/><stop offset=".5605" stop-color="#71ada3"/><stop offset=".5676" stop-color="#6998a4"/><stop offset=".5762" stop-color="#6687a4"/><stop offset=".5895" stop-color="#6279a5"/><stop offset=".6076" stop-color="#606fa5"/><stop offset=".6656" stop-color="#5d63a6"/><stop offset=".7981" stop-color="#5d62a6"/><stop offset=".896" stop-color="#6175a5"/><stop offset=".9995" stop-color="#5c60a6"/></linearGradient>
<linearGradient id="h45" x1="0" y1="0" x2="0" y2="1"><stop offset="0" stop-color="#cde6b0"/><stop offset=".0047" stop-color="#aed3ac"/><stop offset=".0102" stop-color="#93c2a8"/><stop offset=".0165" stop-color="#7cb4a5"/><stop offset=".022" stop-color="#6eaaa3"/><stop offset=".04" stop-color="#678fa4"/><stop offset=".0635" stop-color="#637ba5"/><stop offset=".0941" stop-color="#606ea5"/><stop offset=".1348" stop-color="#5e66a6"/><stop offset=".2634" stop-color="#5c5fa6"/><stop offset=".4045" stop-color="#5d63a6"/><stop offset=".4617" stop-color="#6070a5"/><stop offset=".4798" stop-color="#637ca5"/><stop offset=".4923" stop-color="#678ba4"/><stop offset=".4994" stop-color="#6a9aa4"/><stop offset=".5049" stop-color="#6faba3"/><stop offset=".5111" stop-color="#94c3a8"/><stop offset=".5166" stop-color="#c8e3af"/><stop offset=".5174" stop-color="#cfe5af"/><stop offset=".5237" stop-color="#f9d796"/><stop offset=".5284" stop-color="#eda16e"/><stop offset=".5307" stop-color="#e99163"/><stop offset=".5323" stop-color="#e88c5f"/><stop offset=".5347" stop-color="#e88d60"/><stop offset=".537" stop-color="#eb9968"/><stop offset=".5394" stop-color="#f0ad77"/><stop offset=".5433" stop-color="#f8d896"/><stop offset=".5495" stop-color="#cfe5ae"/><stop offset=".5503" stop-color="#c9e4b0"/><stop offset=".5558" stop-color="#96c4a9"/><stop offset=".5621" stop-color="#70aca3"/><stop offset=".5699" stop-color="#6995a4"/><stop offset=".5786" stop-color="#6586a4"/><stop offset=".5919" stop-color="#6278a5"/><stop offset=".6099" stop-color="#606ea5"/><stop offset=".6679" stop-color="#5d63a6"/><stop offset=".7996" stop-color="#5d62a6"/><stop offset=".8968" stop-color="#6175a5"/><stop offset=".9995" stop-color="#5c60a6"/></linearGradient>
<linearGradient id="h46" x1="0" y1="0" x2="0" y2="1"><stop offset="0" stop-color="#d5e3ab"/><stop offset=".0024" stop-color="#cce6b0"/><stop offset=".0071" stop-color="#add3ac"/><stop offset=".0118" stop-color="#95c4a8"/><stop offset=".0235" stop-color="#6eaba3"/><stop offset=".0415" stop-color="#688fa4"/><stop offset=".0651" stop-color="#637ca5"/><stop offset=".0956" stop-color="#606ea5"/><stop offset=".138" stop-color="#5e66a6"/><stop offset=".2658" stop-color="#5c5fa6"/><stop offset=".4053" stop-color="#5d63a6"/><stop offset=".4625" stop-color="#6070a5"/><stop offset=".4798" stop-color="#637aa5"/><stop offset=".4931" stop-color="#668aa4"/><stop offset=".5002" stop-color="#6a98a4"/><stop offset=".5064" stop-color="#6faca3"/><stop offset=".5127" stop-color="#95c3a8"/><stop offset=".5182" stop-color="#c9e4b0"/><stop offset=".519" stop-color="#cfe5ae"/><stop offset=".5252" stop-color="#f9d796"/><stop offset=".5284" stop-color="#f1b37b"/><stop offset=".5307" stop-color="#ec9e6c"/><stop offset=".5331" stop-color="#ea9264"/><stop offset=".5354" stop-color="#e99163"/><stop offset=".5394" stop-color="#eea571"/><stop offset=".5441" stop-color="#fad694"/><stop offset=".5511" stop-color="#cee5af"/><stop offset=".5574" stop-color="#96c4a8"/><stop offset=".5637" stop-color="#70aca3"/><stop offset=".5707" stop-color="#6997a4"/><stop offset=".5793" stop-color="#6687a4"/><stop offset=".5927" stop-color="#6279a5"/><stop offset=".6107" stop-color="#606fa5"/><stop offset=".6679" stop-color="#5d63a6"/><stop offset=".8004" stop-color="#5d62a6"/><stop offset=".8984" stop-color="#6175a5"/><stop offset=".9995" stop-color="#5c60a6"/></linearGradient>
<linearGradient id="h47" x1="0" y1="0" x2="0" y2="1"><stop offset="0" stop-color="#dfe0a5"/><stop offset=".0047" stop-color="#cae5b0"/><stop offset=".0094" stop-color="#acd2ac"/><stop offset=".0141" stop-color="#94c3a8"/><stop offset=".0259" stop-color="#6eaba3"/><stop offset=".0447" stop-color="#678ea4"/><stop offset=".0706" stop-color="#627aa5"/><stop offset=".1066" stop-color="#5f6ca5"/><stop offset=".1591" stop-color="#5d64a6"/><stop offset=".3473" stop-color="#5c60a6"/><stop offset=".4461" stop-color="#5f6aa6"/><stop offset=".4735" stop-color="#6175a5"/><stop offset=".4915" stop-color="#6585a4"/><stop offset=".5009" stop-color="#6997a4"/><stop offset=".508" stop-color="#6faca3"/><stop offset=".5143" stop-color="#96c4a9"/><stop offset=".5198" stop-color="#cae5b0"/><stop offset=".5268" stop-color="#f9d796"/><stop offset=".5315" stop-color="#eea672"/><stop offset=".5339" stop-color="#eb9968"/><stop offset=".5354" stop-color="#ea9566"/><stop offset=".5378" stop-color="#eb9868"/><stop offset=".5401" stop-color="#eea470"/><stop offset=".5425" stop-color="#f2b77e"/><stop offset=".5456" stop-color="#f9d795"/><stop offset=".5527" stop-color="#cee5af"/><stop offset=".559" stop-color="#96c4a9"/><stop offset=".5652" stop-color="#70aca3"/><stop offset=".5723" stop-color="#6997a4"/><stop offset=".5809" stop-color="#6687a4"/><stop offset=".5942" stop-color="#6279a5"/><stop offset=".6123" stop-color="#606fa5"/><stop offset=".6695" stop-color="#5d63a6"/><stop offset=".802" stop-color="#5d62a6"/><stop offset=".9" stop-color="#6175a5"/><stop offset=".9995" stop-color="#5c60a6"/></linearGradient>
<linearGradient id="h48" x1="0" y1="0" x2="0" y2="1"><stop offset="0" stop-color="#e9dc9f"/><stop offset=".0063" stop-color="#cde6af"/><stop offset=".011" stop-color="#afd4ac"/><stop offset=".0157" stop-color="#97c5a9"/><stop offset=".0274" stop-color="#6faca3"/><stop offset=".0455" stop-color="#6890a4"/><stop offset=".0698" stop-color="#637ba5"/><stop offset=".105" stop-color="#5f6da5"/><stop offset=".156" stop-color="#5d64a6"/><stop offset=".3426" stop-color="#5c60a6"/><stop offset=".4468" stop-color="#5f6aa6"/><stop offset=".4743" stop-color="#6174a5"/><stop offset=".4931" stop-color="#6586a4"/><stop offset=".5025" stop-color="#6997a4"/><stop offset=".5096" stop-color="#70aca3"/><stop offset=".5158" stop-color="#97c5a9"/><stop offset=".5213" stop-color="#cbe6b0"/><stop offset=".5284" stop-color="#f9d795"/><stop offset=".5331" stop-color="#efa873"/><stop offset=".5354" stop-color="#ec9c6b"/><stop offset=".5378" stop-color="#eb9969"/><stop offset=".5417" stop-color="#efa773"/><stop offset=".5472" stop-color="#f9d796"/><stop offset=".555" stop-color="#c9e4b0"/><stop offset=".5613" stop-color="#92c2a8"/><stop offset=".5676" stop-color="#6eaba3"/><stop offset=".5746" stop-color="#6996a4"/><stop offset=".5833" stop-color="#6586a4"/><stop offset=".5966" stop-color="#6278a5"/><stop offset=".6146" stop-color="#606ea5"/><stop offset=".6718" stop-color="#5d63a6"/><stop offset=".8035" stop-color="#5d62a6"/><stop offset=".9008" stop-color="#6174a5"/><stop offset=".9995" stop-color="#5d60a6"/></linearGradient>
<linearGradient id="h49" x1="0" y1="0" x2="0" y2="1"><stop offset="0" stop-color="#f5d998"/><stop offset=".0086" stop-color="#cde6b0"/><stop offset=".0133" stop-color="#aed3ac"/><stop offset=".018" stop-color="#96c4a9"/><stop offset=".0298" stop-color="#6eaba3"/><stop offset=".047" stop-color="#6890a4"/><stop offset=".069" stop-color="#637da5"/><stop offset=".1035" stop-color="#606ea5"/><stop offset=".1529" stop-color="#5e65a6"/><stop offset=".3332" stop-color="#5c5fa6"/><stop offset=".4453" stop-color="#5f69a6"/><stop offset=".4743" stop-color="#6173a5"/><stop offset=".4939" stop-color="#6585a4"/><stop offset=".5033" stop-color="#6995a4"/><stop offset=".5111" stop-color="#71ada3"/><stop offset=".5174" stop-color="#98c5a9"/><stop offset=".5229" stop-color="#cce6b0"/><stop offset=".5299" stop-color="#f9d795"/><stop offset=".5347" stop-color="#efaa75"/><stop offset=".5362" stop-color="#eda26f"/><stop offset=".5386" stop-color="#ec9d6b"/><stop offset=".5409" stop-color="#eda06e"/><stop offset=".5433" stop-color="#efaa75"/><stop offset=".5488" stop-color="#f9d795"/><stop offset=".5566" stop-color="#cce6b0"/><stop offset=".5629" stop-color="#95c3a8"/><stop offset=".5691" stop-color="#70aca3"/><stop offset=".5762" stop-color="#6997a4"/><stop offset=".5848" stop-color="#6687a4"/><stop offset=".5981" stop-color="#6279a5"/><stop offset=".6162" stop-color="#606fa5"/><stop offset=".6726" stop-color="#5d63a6"/><stop offset=".8043" stop-color="#5d62a6"/><stop offset=".9023" stop-color="#6174a5"/><stop offset=".9995" stop-color="#5d60a6"/></linearGradient>
<linearGradient id="h50" x1="0" y1="0" x2="0" y2="1"><stop offset="0" stop-color="#f7cb8c"/><stop offset=".0016" stop-color="#f8d896"/><stop offset=".011" stop-color="#cce6b0"/><stop offset=".0157" stop-color="#add3ac"/><stop offset=".0204" stop-color="#96c4a8"/><stop offset=".0321" stop-color="#6eaba3"/><stop offset=".0486" stop-color="#6891a4"/><stop offset=".0706" stop-color="#637da5"/><stop offset=".105" stop-color="#606ea5"/><stop offset=".1537" stop-color="#5e65a6"/><stop offset=".3332" stop-color="#5c5fa6"/><stop offset=".4461" stop-color="#5e68a6"/><stop offset=".4759" stop-color="#6173a5"/><stop offset=".4955" stop-color="#6585a4"/><stop offset=".5049" stop-color="#6995a4"/><stop offset=".5119" stop-color="#6eaaa3"/><stop offset=".5182" stop-color="#92c1a8"/><stop offset=".5213" stop-color="#acd2ac"/><stop offset=".5245" stop-color="#cce6b0"/><stop offset=".5315" stop-color="#f9d796"/><stop offset=".5354" stop-color="#f1b27b"/><stop offset=".5394" stop-color="#eda26f"/><stop offset=".5417" stop-color="#eea370"/><stop offset=".5448" stop-color="#f0ae78"/><stop offset=".5503" stop-color="#fad795"/><stop offset=".559" stop-color="#cae5b0"/><stop offset=".5652" stop-color="#94c3a8"/><stop offset=".5715" stop-color="#6faca3"/><stop offset=".5786" stop-color="#6997a4"/><stop offset=".5864" stop-color="#6688a4"/><stop offset=".5997" stop-color="#6279a5"/><stop offset=".617" stop-color="#606fa5"/><stop offset=".6734" stop-color="#5d63a6"/><stop offset=".8059" stop-color="#5d62a6"/><stop offset=".9039" stop-color="#6174a5"/><stop offset=".9995" stop-color="#5d60a6"/></linearGradient>
<linearGradient id="h51" x1="0" y1="0" x2="0" y2="1"><stop offset="0" stop-color="#f2b57d"/><stop offset=".0031" stop-color="#f9d493"/><stop offset=".0039" stop-color="#f7d897"/><stop offset=".0133" stop-color="#cbe6b0"/><stop offset=".018" stop-color="#add2ac"/><stop offset=".0227" stop-color="#95c3a8"/><stop offset=".0345" stop-color="#6eaba3"/><stop offset=".0517" stop-color="#6890a4"/><stop offset=".0737" stop-color="#637da5"/><stop offset=".1082" stop-color="#606ea5"/><stop offset=".1576" stop-color="#5e65a6"/><stop offset=".3379" stop-color="#5c5fa6"/><stop offset=".4484" stop-color="#5e69a6"/><stop offset=".4774" stop-color="#6173a5"/><stop offset=".497" stop-color="#6584a5"/><stop offset=".5064" stop-color="#6995a4"/><stop offset=".5143" stop-color="#70aca3"/><stop offset=".5205" stop-color="#97c5a9"/><stop offset=".526" stop-color="#cce6b0"/><stop offset=".5331" stop-color="#f8d896"/><stop offset=".537" stop-color="#f2b67d"/><stop offset=".5409" stop-color="#efa773"/><stop offset=".5433" stop-color="#efa974"/><stop offset=".5464" stop-color="#f1b37b"/><stop offset=".5519" stop-color="#fad795"/><stop offset=".5605" stop-color="#cee5af"/><stop offset=".5676" stop-color="#93c3a8"/><stop offset=".5738" stop-color="#70aca3"/><stop offset=".5809" stop-color="#6997a4"/><stop offset=".5887" stop-color="#6688a4"/><stop offset=".6021" stop-color="#6279a5"/><stop offset=".6193" stop-color="#606fa5"/><stop offset=".6758" stop-color="#5d63a6"/><stop offset=".8075" stop-color="#5d62a6"/><stop offset=".9055" stop-color="#6174a5"/><stop offset=".9995" stop-color="#5d61a6"/></linearGradient>
<linearGradient id="h52" x1="0" y1="0" x2="0" y2="1"><stop offset="0" stop-color="#eda26f"/><stop offset=".0055" stop-color="#fad594"/><stop offset=".0157" stop-color="#cbe5b0"/><stop offset=".0204" stop-color="#acd2ac"/><stop offset=".0251" stop-color="#95c3a8"/><stop offset=".0368" stop-color="#6eaaa3"/><stop offset=".0541" stop-color="#6890a4"/><stop offset=".0776" stop-color="#637ca5"/><stop offset=".1129" stop-color="#606da5"/><stop offset=".1623" stop-color="#5e64a6"/><stop offset=".3434" stop-color="#5c60a6"/><stop offset=".4508" stop-color="#5f69a6"/><stop offset=".4798" stop-color="#6174a5"/><stop offset=".4986" stop-color="#6584a5"/><stop offset=".508" stop-color="#6995a4"/><stop offset=".5158" stop-color="#70aca3"/><stop offset=".5221" stop-color="#97c5a9"/><stop offset=".5276" stop-color="#cce6b0"/><stop offset=".5347" stop-color="#f7d897"/><stop offset=".5394" stop-color="#f2b57c"/><stop offset=".5425" stop-color="#f0ad77"/><stop offset=".548" stop-color="#f3b980"/><stop offset=".5535" stop-color="#fad795"/><stop offset=".5629" stop-color="#cee5af"/><stop offset=".5699" stop-color="#94c3a8"/><stop offset=".5762" stop-color="#71ada3"/><stop offset=".5833" stop-color="#6a98a4"/><stop offset=".5919" stop-color="#6687a4"/><stop offset=".6052" stop-color="#6279a5"/><stop offset=".6225" stop-color="#606fa5"/><stop offset=".6789" stop-color="#5d63a6"/><stop offset=".809" stop-color="#5d62a6"/><stop offset=".907" stop-color="#6174a5"/><stop offset=".9995" stop-color="#5d61a6"/></linearGradient>
<linearGradient id="h53" x1="0" y1="0" x2="0" y2="1"><stop offset="0" stop-color="#eb9667"/><stop offset=".0031" stop-color="#efa974"/><stop offset=".0078" stop-color="#fad694"/><stop offset=".0172" stop-color="#cee5af"/><stop offset=".0267" stop-color="#98c5a9"/><stop offset=".0384" stop-color="#6faca3"/><stop offset=".0564" stop-color="#6890a4"/><stop offset=".0807" stop-color="#637ba5"/><stop offset=".1168" stop-color="#5f6da5"/><stop offset=".1678" stop-color="#5d64a6"/><stop offset=".3551" stop-color="#5c60a6"/><stop offset=".4563" stop-color="#5f6aa6"/><stop offset=".4837" stop-color="#6175a5"/><stop offset=".5017" stop-color="#6586a4"/><stop offset=".5103" stop-color="#6996a4"/><stop offset=".5174" stop-color="#6faca3"/><stop offset=".5237" stop-color="#96c4a9"/><stop offset=".5292" stop-color="#cbe5b0"/><stop offset=".537" stop-color="#fad594"/><stop offset=".5401" stop-color="#f4bd82"/><stop offset=".5441" stop-color="#f1b37b"/><stop offset=".5488" stop-color="#f4bd82"/><stop offset=".555" stop-color="#f9d796"/><stop offset=".5652" stop-color="#cee5af"/><stop offset=".5723" stop-color="#96c4a8"/><stop offset=".5793" stop-color="#6faba3"/><stop offset=".5864" stop-color="#6997a4"/><stop offset=".595" stop-color="#6687a4"/><stop offset=".6083" stop-color="#6279a5"/><stop offset=".6256" stop-color="#606fa5"/><stop offset=".682" stop-color="#5d63a6"/><stop offset=".8114" stop-color="#5d62a6"/><stop offset=".9086" stop-color="#6174a5"/><stop offset=".9995" stop-color="#5d61a6"/></linearGradient>
<linearGradient id="h54" x1="0" y1="0" x2="0" y2="1"><stop offset="0" stop-color="#ea9264"/><stop offset=".0016" stop-color="#ea9465"/><stop offset=".0039" stop-color="#ed9e6d"/><stop offset=".0063" stop-color="#f1b079"/><stop offset=".0102" stop-color="#fad795"/><stop offset=".0196" stop-color="#cee5af"/><stop offset=".029" stop-color="#97c5a9"/><stop offset=".0408" stop-color="#6faca3"/><stop offset=".0588" stop-color="#688fa4"/><stop offset=".0831" stop-color="#637ba5"/><stop offset=".1192" stop-color="#5f6ca5"/><stop offset=".1701" stop-color="#5d64a6"/><stop offset=".3567" stop-color="#5c60a6"/><stop offset=".4578" stop-color="#5f6aa6"/><stop offset=".4853" stop-color="#6175a5"/><stop offset=".5033" stop-color="#6586a4"/><stop offset=".5119" stop-color="#6996a4"/><stop offset=".519" stop-color="#6faba3"/><stop offset=".5252" stop-color="#95c4a8"/><stop offset=".5307" stop-color="#cae5b0"/><stop offset=".5386" stop-color="#fad795"/><stop offset=".5417" stop-color="#f4c084"/><stop offset=".5456" stop-color="#f3b980"/><stop offset=".5495" stop-color="#f5c286"/><stop offset=".5558" stop-color="#fad795"/><stop offset=".5605" stop-color="#ebdc9e"/><stop offset=".5676" stop-color="#cee5af"/><stop offset=".5746" stop-color="#98c5a9"/><stop offset=".5817" stop-color="#70ada3"/><stop offset=".5887" stop-color="#6a98a4"/><stop offset=".5974" stop-color="#6688a4"/><stop offset=".6107" stop-color="#6279a5"/><stop offset=".6279" stop-color="#606fa5"/><stop offset=".6836" stop-color="#5d63a6"/><stop offset=".8122" stop-color="#5d62a6"/><stop offset=".9102" stop-color="#6174a5"/><stop offset=".9995" stop-color="#5d61a6"/></linearGradient>
<linearGradient id="h55" x1="0" y1="0" x2="0" y2="1"><stop offset="0" stop-color="#eb9868"/><stop offset=".0024" stop-color="#ea9264"/><stop offset=".0055" stop-color="#ec9a6a"/><stop offset=".0086" stop-color="#f1b17a"/><stop offset=".0125" stop-color="#fad795"/><stop offset=".022" stop-color="#cde6af"/><stop offset=".0267" stop-color="#afd4ac"/><stop offset=".0314" stop-color="#97c5a9"/><stop offset=".0431" stop-color="#6faba3"/><stop offset=".0611" stop-color="#688fa4"/><stop offset=".0847" stop-color="#637ba5"/><stop offset=".1199" stop-color="#5f6da5"/><stop offset=".1693" stop-color="#5d64a6"/><stop offset=".3512" stop-color="#5c60a6"/><stop offset=".457" stop-color="#5f69a6"/><stop offset=".4853" stop-color="#6174a5"/><stop offset=".5041" stop-color="#6584a5"/><stop offset=".5135" stop-color="#6995a4"/><stop offset=".5205" stop-color="#6eaba3"/><stop offset=".5268" stop-color="#94c3a8"/><stop offset=".5323" stop-color="#c9e4b0"/><stop offset=".5401" stop-color="#f9d795"/><stop offset=".5433" stop-color="#f5c386"/><stop offset=".5456" stop-color="#f4be83"/><stop offset=".5488" stop-color="#f5c286"/><stop offset=".5558" stop-color="#fad795"/><stop offset=".5629" stop-color="#e9dc9f"/><stop offset=".5707" stop-color="#c9e4b0"/><stop offset=".5778" stop-color="#94c3a8"/><stop offset=".5848" stop-color="#6faca3"/><stop offset=".5919" stop-color="#6997a4"/><stop offset=".5997" stop-color="#6689a4"/><stop offset=".613" stop-color="#627aa5"/><stop offset=".6303" stop-color="#606fa5"/><stop offset=".6852" stop-color="#5d63a6"/><stop offset=".8137" stop-color="#5d62a6"/><stop offset=".9109" stop-color="#6174a5"/><stop offset=".9995" stop-color="#5d61a6"/></linearGradient>
<linearGradient id="h56" x1="0" y1="0" x2="0" y2="1"><stop offset="0" stop-color="#eea672"/><stop offset=".0031" stop-color="#ea9566"/><stop offset=".0063" stop-color="#ea9465"/><stop offset=".0094" stop-color="#eea571"/><stop offset=".0149" stop-color="#f9d795"/><stop offset=".0243" stop-color="#cde6af"/><stop offset=".029" stop-color="#afd4ac"/><stop offset=".0337" stop-color="#97c4a9"/><stop offset=".0455" stop-color="#6eaba3"/><stop offset=".0627" stop-color="#6890a4"/><stop offset=".0862" stop-color="#637ca5"/><stop offset=".1215" stop-color="#606da5"/><stop offset=".1717" stop-color="#5d64a6"/><stop offset=".3551" stop-color="#5c60a6"/><stop offset=".4602" stop-color="#5f69a6"/><stop offset=".4876" stop-color="#6174a5"/><stop offset=".5064" stop-color="#6585a4"/><stop offset=".5151" stop-color="#6995a4"/><stop offset=".5221" stop-color="#6eaaa3"/><stop offset=".5284" stop-color="#94c3a8"/><stop offset=".5347" stop-color="#cfe5ae"/><stop offset=".5417" stop-color="#f9d796"/><stop offset=".5448" stop-color="#f6c588"/><stop offset=".5472" stop-color="#f5c286"/><stop offset=".555" stop-color="#fad795"/><stop offset=".5644" stop-color="#eadc9f"/><stop offset=".5731" stop-color="#cbe5b0"/><stop offset=".5809" stop-color="#93c2a8"/><stop offset=".588" stop-color="#6faba3"/><stop offset=".595" stop-color="#6998a4"/><stop offset=".6029" stop-color="#6689a4"/><stop offset=".6162" stop-color="#627aa5"/><stop offset=".6334" stop-color="#606fa5"/><stop offset=".6883" stop-color="#5d63a6"/><stop offset=".8161" stop-color="#5d62a6"/><stop offset=".9125" stop-color="#6174a5"/><stop offset=".9995" stop-color="#5d61a6"/></linearGradient>
<linearGradient id="h57" x1="0" y1="0" x2="0" y2="1"><stop offset="0" stop-color="#f3bb81"/><stop offset=".0039" stop-color="#ec9b6a"/><stop offset=".0063" stop-color="#ea9264"/><stop offset=".0078" stop-color="#ea9264"/><stop offset=".0118" stop-color="#eea571"/><stop offset=".0172" stop-color="#f9d795"/><stop offset=".0267" stop-color="#cde6af"/><stop offset=".0314" stop-color="#afd3ac"/><stop offset=".0361" stop-color="#96c4a9"/><stop offset=".0478" stop-color="#6eaba3"/><stop offset=".0651" stop-color="#6890a4"/><stop offset=".087" stop-color="#637da5"/><stop offset=".1215" stop-color="#606ea5"/><stop offset=".1709" stop-color="#5e65a6"/><stop offset=".3528" stop-color="#5c60a6"/><stop offset=".461" stop-color="#5f69a6"/><stop offset=".4892" stop-color="#6174a5"/><stop offset=".508" stop-color="#6585a4"/><stop offset=".5174" stop-color="#6997a4"/><stop offset=".5245" stop-color="#71ada3"/><stop offset=".5299" stop-color="#93c2a8"/><stop offset=".5362" stop-color="#cee5af"/><stop offset=".5433" stop-color="#f8d896"/><stop offset=".5456" stop-color="#f7ca8c"/><stop offset=".548" stop-color="#f6c588"/><stop offset=".5542" stop-color="#fad695"/><stop offset=".566" stop-color="#e9dc9f"/><stop offset=".5754" stop-color="#cce6b0"/><stop offset=".584" stop-color="#92c2a8"/><stop offset=".5911" stop-color="#6faca3"/><stop offset=".5981" stop-color="#6a98a4"/><stop offset=".606" stop-color="#6689a4"/><stop offset=".6193" stop-color="#637aa5"/><stop offset=".6366" stop-color="#6070a5"/><stop offset=".6914" stop-color="#5d63a6"/><stop offset=".8177" stop-color="#5d62a6"/><stop offset=".9141" stop-color="#6173a5"/><stop offset=".9995" stop-color="#5d61a6"/></linearGradient>
<linearGradient id="h58" x1="0" y1="0" x2="0" y2="1"><stop offset="0" stop-color="#f9d292"/><stop offset=".0047" stop-color="#eea471"/><stop offset=".0071" stop-color="#ea9666"/><stop offset=".0086" stop-color="#e99263"/><stop offset=".011" stop-color="#ea9364"/><stop offset=".0133" stop-color="#ed9f6d"/><stop offset=".0196" stop-color="#f9d795"/><stop offset=".029" stop-color="#cde6af"/><stop offset=".0337" stop-color="#afd4ac"/><stop offset=".0384" stop-color="#96c4a9"/><stop offset=".0502" stop-color="#6eaba3"/><stop offset=".0666" stop-color="#6891a4"/><stop offset=".0878" stop-color="#637ea5"/><stop offset=".1215" stop-color="#606ea5"/><stop offset=".1701" stop-color="#5e65a6"/><stop offset=".3496" stop-color="#5c60a6"/><stop offset=".461" stop-color="#5f69a6"/><stop offset=".49" stop-color="#6174a5"/><stop offset=".5096" stop-color="#6585a4"/><stop offset=".519" stop-color="#6997a4"/><stop offset=".526" stop-color="#70aca3"/><stop offset=".5315" stop-color="#93c2a8"/><stop offset=".5378" stop-color="#cee5af"/><stop offset=".5448" stop-color="#f8d896"/><stop offset=".5488" stop-color="#f7c98b"/><stop offset=".5511" stop-color="#f7cb8d"/><stop offset=".5542" stop-color="#fad795"/><stop offset=".5699" stop-color="#e4dea2"/><stop offset=".5786" stop-color="#cae5b0"/><stop offset=".5872" stop-color="#92c2a8"/><stop offset=".5942" stop-color="#70aca3"/><stop offset=".6021" stop-color="#6998a4"/><stop offset=".6099" stop-color="#6689a4"/><stop offset=".6232" stop-color="#637aa5"/><stop offset=".6405" stop-color="#6070a5"/><stop offset=".6954" stop-color="#5d63a6"/><stop offset=".82" stop-color="#5d62a6"/><stop offset=".9156" stop-color="#6173a5"/><stop offset=".9995" stop-color="#5d62a6"/></linearGradient>
<linearGradient id="h59" x1="0" y1="0" x2="0" y2="1"><stop offset="0" stop-color="#f0da9b"/><stop offset=".0016" stop-color="#f9d796"/><stop offset=".0024" stop-color="#f9d191"/><stop offset=".0071" stop-color="#eea370"/><stop offset=".0094" stop-color="#ea9566"/><stop offset=".011" stop-color="#e99062"/><stop offset=".0133" stop-color="#ea9264"/><stop offset=".0157" stop-color="#ec9e6c"/><stop offset=".022" stop-color="#fad795"/><stop offset=".0314" stop-color="#cde6af"/><stop offset=".0361" stop-color="#afd4ac"/><stop offset=".0408" stop-color="#97c4a9"/><stop offset=".0525" stop-color="#6eaba3"/><stop offset=".0698" stop-color="#6890a4"/><stop offset=".0925" stop-color="#637ca5"/><stop offset=".127" stop-color="#606da5"/><stop offset=".1764" stop-color="#5e64a6"/><stop offset=".3583" stop-color="#5c60a6"/><stop offset=".4641" stop-color="#5f69a6"/><stop offset=".4923" stop-color="#6174a5"/><stop offset=".5111" stop-color="#6585a4"/><stop offset=".5205" stop-color="#6997a4"/><stop offset=".5276" stop-color="#70aca3"/><stop offset=".5339" stop-color="#99c6a9"/><stop offset=".5394" stop-color="#cee5af"/><stop offset=".5456" stop-color="#f4d998"/><stop offset=".5472" stop-color="#fad694"/><stop offset=".5503" stop-color="#f7cb8d"/><stop offset=".5542" stop-color="#fad694"/><stop offset=".5605" stop-color="#eedb9c"/><stop offset=".5723" stop-color="#e2dfa3"/><stop offset=".5809" stop-color="#cce6b0"/><stop offset=".5903" stop-color="#93c2a8"/><stop offset=".5981" stop-color="#6faca3"/><stop offset=".613" stop-color="#668aa4"/><stop offset=".6264" stop-color="#637ba5"/><stop offset=".6436" stop-color="#6070a5"/><stop offset=".6985" stop-color="#5d64a6"/><stop offset=".8216" stop-color="#5d62a6"/><stop offset=".9172" stop-color="#6173a5"/><stop offset=".9995" stop-color="#5d62a6"/></linearGradient>
<linearGradient id="h60" x1="0" y1="0" x2="0" y2="1"><stop offset="0" stop-color="#e3dea2"/><stop offset=".0039" stop-color="#f9d795"/><stop offset=".0094" stop-color="#eda26f"/><stop offset=".0118" stop-color="#ea9365"/><stop offset=".0133" stop-color="#e98f62"/><stop offset=".0157" stop-color="#e99163"/><stop offset=".018" stop-color="#ec9d6b"/><stop offset=".0243" stop-color="#fad795"/><stop offset=".0337" stop-color="#cde6af"/><stop offset=".0384" stop-color="#afd4ac"/><stop offset=".0431" stop-color="#97c5a9"/><stop offset=".0549" stop-color="#6eaba3"/><stop offset=".0737" stop-color="#678ea4"/><stop offset=".0988" stop-color="#6279a5"/><stop offset=".1348" stop-color="#5f6ca5"/><stop offset=".1866" stop-color="#5d64a6"/><stop offset=".3732" stop-color="#5c60a6"/><stop offset=".4696" stop-color="#5f6aa6"/><stop offset=".4955" stop-color="#6175a5"/><stop offset=".5135" stop-color="#6587a4"/><stop offset=".5221" stop-color="#6997a4"/><stop offset=".5292" stop-color="#70aca3"/><stop offset=".5354" stop-color="#98c6a9"/><stop offset=".5409" stop-color="#cee5af"/><stop offset=".548" stop-color="#f7d896"/><stop offset=".5519" stop-color="#f8ce8e"/><stop offset=".555" stop-color="#fad795"/><stop offset=".5621" stop-color="#ebdc9e"/><stop offset=".5754" stop-color="#e0e0a4"/><stop offset=".584" stop-color="#cbe5b0"/><stop offset=".5942" stop-color="#90c0a8"/><stop offset=".6021" stop-color="#6eaba3"/><stop offset=".617" stop-color="#668ba4"/><stop offset=".6303" stop-color="#637ba5"/><stop offset=".6483" stop-color="#6070a5"/><stop offset=".7024" stop-color="#5d64a6"/><stop offset=".8231" stop-color="#5d62a6"/><stop offset=".9188" stop-color="#6173a5"/><stop offset=".9995" stop-color="#5d62a6"/></linearGradient>
<linearGradient id="h61" x1="0" y1="0" x2="0" y2="1"><stop offset="0" stop-color="#d8e2a9"/><stop offset=".0063" stop-color="#fad795"/><stop offset=".0118" stop-color="#eda06e"/><stop offset=".0141" stop-color="#ea9264"/><stop offset=".0165" stop-color="#e88d60"/><stop offset=".018" stop-color="#e99062"/><stop offset=".0204" stop-color="#ec9c6b"/><stop offset=".0267" stop-color="#fad695"/><stop offset=".0361" stop-color="#cee5af"/><stop offset=".0455" stop-color="#97c5a9"/><stop offset=".0572" stop-color="#6eaba3"/><stop offset=".0776" stop-color="#678ca4"/><stop offset=".1043" stop-color="#6278a5"/><stop offset=".1411" stop-color="#5f6ba6"/><stop offset=".1944" stop-color="#5d63a6"/><stop offset=".3833" stop-color="#5d60a6"/><stop offset=".4735" stop-color="#5f6ba5"/><stop offset=".4986" stop-color="#6277a5"/><stop offset=".5158" stop-color="#6688a4"/><stop offset=".5237" stop-color="#6997a4"/><stop offset=".5307" stop-color="#70aca3"/><stop offset=".537" stop-color="#98c5a9"/><stop offset=".5425" stop-color="#cee5af"/><stop offset=".548" stop-color="#f0da9b"/><stop offset=".5503" stop-color="#fad795"/><stop offset=".5527" stop-color="#f8d090"/><stop offset=".5558" stop-color="#fad795"/><stop offset=".5637" stop-color="#e7dda0"/><stop offset=".5778" stop-color="#dee0a5"/><stop offset=".5864" stop-color="#cce6b0"/><stop offset=".5974" stop-color="#91c1a8"/><stop offset=".6052" stop-color="#6faca3"/><stop offset=".6201" stop-color="#678ca4"/><stop offset=".6342" stop-color="#637ca5"/><stop offset=".6515" stop-color="#6071a5"/><stop offset=".7056" stop-color="#5d64a6"/><stop offset=".8255" stop-color="#5d62a6"/><stop offset=".9204" stop-color="#6173a5"/><stop offset=".9995" stop-color="#5d62a6"/></linearGradient>
<linearGradient id="h62" x1="0" y1="0" x2="0" y2="1"><stop offset="0" stop-color="#cee6af"/><stop offset=".0086" stop-color="#fad694"/><stop offset=".0141" stop-color="#ed9f6d"/><stop offset=".0165" stop-color="#e99163"/><stop offset=".0188" stop-color="#e88c5f"/><stop offset=".0204" stop-color="#e98f61"/><stop offset=".0227" stop-color="#ec9b6a"/><stop offset=".029" stop-color="#fad694"/><stop offset=".0384" stop-color="#cee5af"/><stop offset=".0478" stop-color="#97c5a9"/><stop offset=".0596" stop-color="#6eaba3"/><stop offset=".0737" stop-color="#6893a4"/><stop offset=".0909" stop-color="#6482a5"/><stop offset=".1121" stop-color="#6175a5"/><stop offset=".1388" stop-color="#5f6ca5"/><stop offset=".2085" stop-color="#5d62a6"/><stop offset=".323" stop-color="#5c5fa6"/><stop offset=".4233" stop-color="#5d63a6"/><stop offset=".4798" stop-color="#5f6da5"/><stop offset=".4986" stop-color="#6276a5"/><stop offset=".5127" stop-color="#6482a5"/><stop offset=".5237" stop-color="#6893a4"/><stop offset=".5315" stop-color="#6ea9a3"/><stop offset=".5339" stop-color="#78b1a4"/><stop offset=".5378" stop-color="#92c1a8"/><stop offset=".5441" stop-color="#cee5af"/><stop offset=".5511" stop-color="#f7d897"/><stop offset=".5542" stop-color="#f9d291"/><stop offset=".5566" stop-color="#fad795"/><stop offset=".5652" stop-color="#e4dea2"/><stop offset=".5801" stop-color="#dde0a6"/><stop offset=".5895" stop-color="#cbe5b0"/><stop offset=".6005" stop-color="#91c1a8"/><stop offset=".6083" stop-color="#70aca3"/><stop offset=".6232" stop-color="#678da4"/><stop offset=".6373" stop-color="#637ca5"/><stop offset=".6546" stop-color="#6171a5"/><stop offset=".7087" stop-color="#5d64a6"/><stop offset=".8271" stop-color="#5d62a6"/><stop offset=".9219" stop-color="#6173a5"/><stop offset=".9995" stop-color="#5d62a6"/></linearGradient>
<linearGradient id="h63" x1="0" y1="0" x2="0" y2="1"><stop offset="0" stop-color="#bcdcae"/><stop offset=".0024" stop-color="#cee5af"/><stop offset=".011" stop-color="#f9d593"/><stop offset=".0165" stop-color="#ec9d6c"/><stop offset=".0188" stop-color="#e98f62"/><stop offset=".0212" stop-color="#e88b5e"/><stop offset=".0227" stop-color="#e88d60"/><stop offset=".0251" stop-color="#eb9a69"/><stop offset=".0314" stop-color="#fad594"/><stop offset=".0415" stop-color="#cae5b0"/><stop offset=".0455" stop-color="#b0d4ac"/><stop offset=".0502" stop-color="#97c5a9"/><stop offset=".0619" stop-color="#6eaba3"/><stop offset=".0768" stop-color="#6892a4"/><stop offset=".0949" stop-color="#6480a5"/><stop offset=".1176" stop-color="#6173a5"/><stop offset=".1474" stop-color="#5f6aa6"/><stop offset=".2273" stop-color="#5d61a6"/><stop offset=".3583" stop-color="#5c60a6"/><stop offset=".4429" stop-color="#5e65a6"/><stop offset=".4915" stop-color="#6071a5"/><stop offset=".5174" stop-color="#6586a4"/><stop offset=".526" stop-color="#6995a4"/><stop offset=".5331" stop-color="#6ea9a3"/><stop offset=".5354" stop-color="#78b1a4"/><stop offset=".5394" stop-color="#91c1a8"/><stop offset=".5456" stop-color="#cee5af"/><stop offset=".5527" stop-color="#f7d897"/><stop offset=".555" stop-color="#f9d493"/><stop offset=".5574" stop-color="#fad795"/><stop offset=".5668" stop-color="#e1dfa3"/><stop offset=".5825" stop-color="#dce1a7"/><stop offset=".5919" stop-color="#cce6b0"/><stop offset=".6036" stop-color="#91c1a8"/><stop offset=".6123" stop-color="#6eaba3"/><stop offset=".6264" stop-color="#678ea4"/><stop offset=".6405" stop-color="#637da5"/><stop offset=".6577" stop-color="#6172a5"/><stop offset=".7118" stop-color="#5e65a6"/><stop offset=".8286" stop-color="#5d62a6"/><stop offset=".9243" stop-color="#6173a5"/><stop offset=".9995" stop-color="#5d63a6"/></linearGradient>
<linearGradient id="h64" x1="0" y1="0" x2="0" y2="1"><stop offset="0" stop-color="#acd2ac"/><stop offset=".0047" stop-color="#cee5af"/><stop offset=".0125" stop-color="#f7d897"/><stop offset=".0133" stop-color="#f9d392"/><stop offset=".0172" stop-color="#efaa75"/><stop offset=".0196" stop-color="#eb9767"/><stop offset=".022" stop-color="#e88b5f"/><stop offset=".0235" stop-color="#e88a5e"/><stop offset=".0251" stop-color="#e88c60"/><stop offset=".0274" stop-color="#eb9968"/><stop offset=".0337" stop-color="#f9d493"/><stop offset=".0439" stop-color="#cae5b0"/><stop offset=".051" stop-color="#9fcaaa"/><stop offset=".0588" stop-color="#7fb6a5"/><stop offset=".0643" stop-color="#6eaba3"/><stop offset=".0768" stop-color="#6995a4"/><stop offset=".0964" stop-color="#6481a5"/><stop offset=".1223" stop-color="#6172a5"/><stop offset=".1568" stop-color="#5e69a6"/><stop offset=".2038" stop-color="#5d63a6"/><stop offset=".4084" stop-color="#5d62a6"/><stop offset=".4649" stop-color="#5e68a6"/><stop offset=".5002" stop-color="#6175a5"/><stop offset=".5221" stop-color="#668aa4"/><stop offset=".5292" stop-color="#6a98a4"/><stop offset=".5354" stop-color="#6faca3"/><stop offset=".5417" stop-color="#97c5a9"/><stop offset=".5472" stop-color="#cee5af"/><stop offset=".5535" stop-color="#f3d999"/><stop offset=".5574" stop-color="#fad695"/><stop offset=".5691" stop-color="#dee0a6"/><stop offset=".5848" stop-color="#dae1a8"/><stop offset=".5942" stop-color="#cde6b0"/><stop offset=".6076" stop-color="#8ebfa7"/><stop offset=".6154" stop-color="#6faca3"/><stop offset=".6303" stop-color="#678da4"/><stop offset=".6444" stop-color="#637da5"/><stop offset=".6616" stop-color="#6172a5"/><stop offset=".7157" stop-color="#5e65a6"/><stop offset=".831" stop-color="#5d62a6"/><stop offset=".9258" stop-color="#6173a5"/><stop offset=".9995" stop-color="#5d63a6"/></linearGradient>
<linearGradient id="h65" x1="0" y1="0" x2="0" y2="1"><stop offset="0" stop-color="#9dc9aa"/><stop offset=".0063" stop-color="#cae5b0"/><stop offset=".0149" stop-color="#f8d896"/><stop offset=".0212" stop-color="#ec9b6a"/><stop offset=".0235" stop-color="#e88d60"/><stop offset=".0259" stop-color="#e7895d"/><stop offset=".0274" stop-color="#e88c5f"/><stop offset=".0298" stop-color="#eb9868"/><stop offset=".0361" stop-color="#f9d493"/><stop offset=".0463" stop-color="#cbe5b0"/><stop offset=".0533" stop-color="#9fcaaa"/><stop offset=".0619" stop-color="#7cb4a5"/><stop offset=".0666" stop-color="#6eaba3"/><stop offset=".08" stop-color="#6994a4"/><stop offset=".1003" stop-color="#647fa5"/><stop offset=".1278" stop-color="#6071a5"/><stop offset=".1638" stop-color="#5e68a6"/><stop offset=".214" stop-color="#5d62a6"/><stop offset=".4194" stop-color="#5d62a6"/><stop offset=".4735" stop-color="#5f6aa6"/><stop offset=".5064" stop-color="#6278a5"/><stop offset=".5245" stop-color="#678ca4"/><stop offset=".5315" stop-color="#6a9aa4"/><stop offset=".537" stop-color="#6faca3"/><stop offset=".5433" stop-color="#97c5a9"/><stop offset=".5488" stop-color="#cee5af"/><stop offset=".5542" stop-color="#f0da9b"/><stop offset=".5582" stop-color="#fad795"/><stop offset=".5707" stop-color="#dbe1a7"/><stop offset=".588" stop-color="#d9e2a9"/><stop offset=".5974" stop-color="#cbe5b0"/><stop offset=".6107" stop-color="#8ebfa7"/><stop offset=".6193" stop-color="#6eaba3"/><stop offset=".6334" stop-color="#678ea4"/><stop offset=".6475" stop-color="#637ea5"/><stop offset=".6656" stop-color="#6172a5"/><stop offset=".7189" stop-color="#5e65a6"/><stop offset=".8325" stop-color="#5d62a6"/><stop offset=".9274" stop-color="#6172a5"/><stop offset=".9995" stop-color="#5d63a6"/></linearGradient>
<linearGradient id="h66" x1="0" y1="0" x2="0" y2="1"><stop offset="0" stop-color="#90c1a8"/><stop offset=".0047" stop-color="#add2ac"/><stop offset=".0086" stop-color="#cbe5b0"/><stop offset=".0172" stop-color="#f8d896"/><stop offset=".0235" stop-color="#ec9a6a"/><stop offset=".0259" stop-color="#e88d60"/><stop offset=".0282" stop-color="#e7885d"/><stop offset=".0298" stop-color="#e88b5f"/><stop offset=".0321" stop-color="#eb9868"/><stop offset=".0384" stop-color="#f9d493"/><stop offset=".0486" stop-color="#cbe5b0"/><stop offset=".0557" stop-color="#9fcaaa"/><stop offset=".0643" stop-color="#7cb4a5"/><stop offset=".069" stop-color="#6eaba3"/><stop offset=".0823" stop-color="#6994a4"/><stop offset=".1035" stop-color="#647fa5"/><stop offset=".1309" stop-color="#6070a5"/><stop offset=".1685" stop-color="#5e67a6"/><stop offset=".2211" stop-color="#5d62a6"/><stop offset=".4265" stop-color="#5d63a6"/><stop offset=".479" stop-color="#5f6ba5"/><stop offset=".5111" stop-color="#637aa5"/><stop offset=".5276" stop-color="#678ea4"/><stop offset=".5386" stop-color="#6faba3"/><stop offset=".5448" stop-color="#97c5a9"/><stop offset=".5503" stop-color="#cee5af"/><stop offset=".5558" stop-color="#efda9b"/><stop offset=".5597" stop-color="#f9d796"/><stop offset=".5723" stop-color="#d8e2a9"/><stop offset=".5903" stop-color="#d7e2a9"/><stop offset=".5997" stop-color="#cbe6b0"/><stop offset=".6146" stop-color="#8bbda7"/><stop offset=".6225" stop-color="#6faba3"/><stop offset=".6366" stop-color="#678fa4"/><stop offset=".6507" stop-color="#647fa5"/><stop offset=".6687" stop-color="#6173a5"/><stop offset=".722" stop-color="#5e65a6"/><stop offset=".8341" stop-color="#5d62a6"/><stop offset=".929" stop-color="#6172a5"/><stop offset=".9995" stop-color="#5d63a6"/></linearGradient>
<linearGradient id="h67" x1="0" y1="0" x2="0" y2="1"><stop offset="0" stop-color="#85b9a6"/><stop offset=".0055" stop-color="#a2ccaa"/><stop offset=".011" stop-color="#cbe5b0"/><stop offset=".0141" stop-color="#dae1a8"/><stop offset=".0196" stop-color="#f8d896"/><stop offset=".0259" stop-color="#eb9a69"/><stop offset=".0282" stop-color="#e88c5f"/><stop offset=".0306" stop-color="#e7885d"/><stop offset=".0321" stop-color="#e88b5f"/><stop offset=".0345" stop-color="#eb9868"/><stop offset=".0408" stop-color="#f9d493"/><stop offset=".051" stop-color="#cae5b0"/><stop offset=".058" stop-color="#9fcaaa"/><stop offset=".0666" stop-color="#7cb4a5"/><stop offset=".0713" stop-color="#6eaba3"/><stop offset=".0847" stop-color="#6994a4"/><stop offset=".1058" stop-color="#647ea5"/><stop offset=".1341" stop-color="#6070a5"/><stop offset=".1725" stop-color="#5e67a6"/><stop offset=".2281" stop-color="#5d62a6"/><stop offset=".3387" stop-color="#5c60a6"/><stop offset=".4327" stop-color="#5d63a6"/><stop offset=".4837" stop-color="#5f6ca5"/><stop offset=".5151" stop-color="#637ca5"/><stop offset=".5299" stop-color="#688fa4"/><stop offset=".5401" stop-color="#6eaba3"/><stop offset=".5464" stop-color="#97c4a9"/><stop offset=".5519" stop-color="#cee5af"/><stop offset=".5574" stop-color="#efda9b"/><stop offset=".5605" stop-color="#f8d896"/><stop offset=".5637" stop-color="#f3d999"/><stop offset=".5707" stop-color="#dbe1a7"/><stop offset=".5746" stop-color="#d5e3ab"/><stop offset=".5927" stop-color="#d6e3aa"/><stop offset=".6021" stop-color="#cce6b0"/><stop offset=".6177" stop-color="#8bbda7"/><stop offset=".6256" stop-color="#6faca3"/><stop offset=".6397" stop-color="#6890a4"/><stop offset=".6538" stop-color="#647fa5"/><stop offset=".6718" stop-color="#6173a5"/><stop offset=".7251" stop-color="#5e65a6"/><stop offset=".8365" stop-color="#5d63a6"/><stop offset=".9305" stop-color="#6172a5"/><stop offset=".9995" stop-color="#5d63a6"/></linearGradient>
<linearGradient id="h68" x1="0" y1="0" x2="0" y2="1"><stop offset="0" stop-color="#7bb3a5"/><stop offset=".0071" stop-color="#9ec9aa"/><stop offset=".0133" stop-color="#cbe6b0"/><stop offset=".0141" stop-color="#cfe5ae"/><stop offset=".022" stop-color="#f9d796"/><stop offset=".0282" stop-color="#eb9a69"/><stop offset=".0306" stop-color="#e88c5f"/><stop offset=".0329" stop-color="#e7885d"/><stop offset=".0345" stop-color="#e88c5f"/><stop offset=".0368" stop-color="#eb9968"/><stop offset=".0431" stop-color="#fad594"/><stop offset=".0533" stop-color="#cae5b0"/><stop offset=".0604" stop-color="#9fcaaa"/><stop offset=".069" stop-color="#7cb4a5"/><stop offset=".0737" stop-color="#6eaba3"/><stop offset=".0878" stop-color="#6893a4"/><stop offset=".1098" stop-color="#637da5"/><stop offset=".1388" stop-color="#606fa5"/><stop offset=".1787" stop-color="#5e66a6"/><stop offset=".236" stop-color="#5d61a6"/><stop offset=".3481" stop-color="#5c60a6"/><stop offset=".4382" stop-color="#5d64a6"/><stop offset=".4876" stop-color="#606da5"/><stop offset=".5182" stop-color="#637ea5"/><stop offset=".5323" stop-color="#6891a4"/><stop offset=".5417" stop-color="#6eaba3"/><stop offset=".548" stop-color="#96c4a9"/><stop offset=".5535" stop-color="#cee5af"/><stop offset=".559" stop-color="#efda9b"/><stop offset=".5621" stop-color="#f7d897"/><stop offset=".5644" stop-color="#f3d999"/><stop offset=".5723" stop-color="#d9e2a9"/><stop offset=".5762" stop-color="#d2e4ac"/><stop offset=".595" stop-color="#d5e3ab"/><stop offset=".6044" stop-color="#cbe6b0"/><stop offset=".6287" stop-color="#6faca3"/><stop offset=".6428" stop-color="#6891a4"/><stop offset=".6569" stop-color="#6480a5"/><stop offset=".675" stop-color="#6174a5"/><stop offset=".7283" stop-color="#5e66a6"/><stop offset=".838" stop-color="#5d63a6"/><stop offset=".9321" stop-color="#6172a5"/><stop offset=".9995" stop-color="#5d64a6"/></linearGradient>
<linearGradient id="h69" x1="0" y1="0" x2="0" y2="1"><stop offset="0" stop-color="#72aea4"/><stop offset=".0086" stop-color="#9ac6a9"/><stop offset=".0157" stop-color="#cce6b0"/><stop offset=".0243" stop-color="#f9d796"/><stop offset=".0306" stop-color="#eb9969"/><stop offset=".0329" stop-color="#e88c5f"/><stop offset=".0353" stop-color="#e7895d"/><stop offset=".0368" stop-color="#e88c5f"/><stop offset=".0392" stop-color="#eb9969"/><stop offset=".0455" stop-color="#fad694"/><stop offset=".0557" stop-color="#cae5b0"/><stop offset=".0627" stop-color="#9fcaaa"/><stop offset=".0713" stop-color="#7cb4a5"/><stop offset=".076" stop-color="#6eaba3"/><stop offset=".0902" stop-color="#6892a4"/><stop offset=".1121" stop-color="#637da5"/><stop offset=".1419" stop-color="#606fa5"/><stop offset=".1827" stop-color="#5e66a6"/><stop offset=".2422" stop-color="#5d61a6"/><stop offset=".3551" stop-color="#5c60a6"/><stop offset=".4429" stop-color="#5d64a6"/><stop offset=".4915" stop-color="#606ea5"/><stop offset=".5213" stop-color="#647fa5"/><stop offset=".5339" stop-color="#6891a4"/><stop offset=".5433" stop-color="#6eaba3"/><stop offset=".5464" stop-color="#7fb6a5"/><stop offset=".5495" stop-color="#96c4a9"/><stop offset=".555" stop-color="#cee5af"/><stop offset=".5605" stop-color="#efdb9b"/><stop offset=".5637" stop-color="#f6d897"/><stop offset=".566" stop-color="#f2da9a"/><stop offset=".5731" stop-color="#d8e2a9"/><stop offset=".5778" stop-color="#d0e5ae"/><stop offset=".5974" stop-color="#d3e4ac"/><stop offset=".6068" stop-color="#cbe5b0"/><stop offset=".6319" stop-color="#70aca3"/><stop offset=".646" stop-color="#6891a4"/><stop offset=".6609" stop-color="#6480a5"/><stop offset=".6789" stop-color="#6174a5"/><stop offset=".7322" stop-color="#5e66a6"/><stop offset=".8404" stop-color="#5d63a6"/><stop offset=".9337" stop-color="#6172a5"/><stop offset=".9995" stop-color="#5d64a6"/></linearGradient>
<linearGradient id="h70" x1="0" y1="0" x2="0" y2="1"><stop offset="0" stop-color="#6da8a3"/><stop offset=".0039" stop-color="#78b1a4"/><stop offset=".0094" stop-color="#91c1a8"/><stop offset=".0141" stop-color="#aed3ac"/><stop offset=".018" stop-color="#cce6b0"/><stop offset=".0267" stop-color="#f9d795"/><stop offset=".0329" stop-color="#eb9969"/><stop offset=".0353" stop-color="#e88c5f"/><stop offset=".0376" stop-color="#e7895d"/><stop offset=".0392" stop-color="#e88d60"/><stop offset=".0415" stop-color="#eb9a69"/><stop offset=".0478" stop-color="#fad795"/><stop offset=".0572" stop-color="#cee6af"/><stop offset=".0651" stop-color="#9ec9aa"/><stop offset=".0737" stop-color="#7bb3a5"/><stop offset=".0784" stop-color="#6eaba3"/><stop offset=".0925" stop-color="#6892a4"/><stop offset=".1152" stop-color="#637ca5"/><stop offset=".145" stop-color="#606ea5"/><stop offset=".1866" stop-color="#5e66a6"/><stop offset=".2469" stop-color="#5d61a6"/><stop offset=".3598" stop-color="#5c60a6"/><stop offset=".4461" stop-color="#5e64a6"/><stop offset=".4947" stop-color="#606ea5"/><stop offset=".5237" stop-color="#6480a5"/><stop offset=".5362" stop-color="#6892a4"/><stop offset=".5448" stop-color="#6eaaa3"/><stop offset=".5503" stop-color="#8fc0a8"/><stop offset=".5566" stop-color="#cee5af"/><stop offset=".5621" stop-color="#efdb9c"/><stop offset=".5652" stop-color="#f4d998"/><stop offset=".5746" stop-color="#d6e3aa"/><stop offset=".5793" stop-color="#cde6af"/><stop offset=".584" stop-color="#cbe5b0"/><stop offset=".5997" stop-color="#d2e4ad"/><stop offset=".6083" stop-color="#cce6b0"/><stop offset=".635" stop-color="#70aca3"/><stop offset=".6491" stop-color="#6892a4"/><stop offset=".664" stop-color="#6480a5"/><stop offset=".682" stop-color="#6174a5"/><stop offset=".7353" stop-color="#5e66a6"/><stop offset=".8427" stop-color="#5d63a6"/><stop offset=".9352" stop-color="#6172a5"/><stop offset=".9995" stop-color="#5d64a6"/></linearGradient>
<linearGradient id="h71" x1="0" y1="0" x2="0" y2="1"><stop offset="0" stop-color="#6ca3a3"/><stop offset=".0039" stop-color="#70aca3"/><stop offset=".0102" stop-color="#8abca7"/><stop offset=".0157" stop-color="#a9d0ab"/><stop offset=".0204" stop-color="#cce6b0"/><stop offset=".029" stop-color="#fad795"/><stop offset=".0353" stop-color="#eb9969"/><stop offset=".0376" stop-color="#e88c60"/><stop offset=".0392" stop-color="#e7895d"/><stop offset=".0415" stop-color="#e88e60"/><stop offset=".0439" stop-color="#ec9b6a"/><stop offset=".0502" stop-color="#fad795"/><stop offset=".0596" stop-color="#cde6af"/><stop offset=".0643" stop-color="#afd4ac"/><stop offset=".069" stop-color="#96c4a9"/><stop offset=".0745" stop-color="#80b7a6"/><stop offset=".0807" stop-color="#6eaaa3"/><stop offset=".1019" stop-color="#668aa4"/><stop offset=".1317" stop-color="#6174a5"/><stop offset=".174" stop-color="#5e68a6"/><stop offset=".2383" stop-color="#5d62a6"/><stop offset=".3708" stop-color="#5d60a6"/><stop offset=".4641" stop-color="#5e67a6"/><stop offset=".5119" stop-color="#6276a5"/><stop offset=".5268" stop-color="#6482a5"/><stop offset=".5378" stop-color="#6892a4"/><stop offset=".5472" stop-color="#71ada3"/><stop offset=".5527" stop-color="#95c4a8"/><stop offset=".5582" stop-color="#cee5af"/><stop offset=".5629" stop-color="#ebdc9e"/><stop offset=".566" stop-color="#f3d999"/><stop offset=".5684" stop-color="#f0da9b"/><stop offset=".577" stop-color="#d1e4ad"/><stop offset=".5825" stop-color="#c7e3af"/><stop offset=".6005" stop-color="#d0e5ad"/><stop offset=".6099" stop-color="#cce6b0"/><stop offset=".6162" stop-color="#bbdbae"/><stop offset=".6381" stop-color="#70aca3"/><stop offset=".6522" stop-color="#6892a4"/><stop offset=".6671" stop-color="#6481a5"/><stop offset=".6852" stop-color="#6175a5"/><stop offset=".7385" stop-color="#5e66a6"/><stop offset=".8443" stop-color="#5d63a6"/><stop offset=".9376" stop-color="#6172a5"/><stop offset=".9995" stop-color="#5d64a6"/></linearGradient>
<linearGradient id="h72" x1="0" y1="0" x2="0" y2="1"><stop offset="0" stop-color="#6b9ea4"/><stop offset=".0055" stop-color="#6eaba3"/><stop offset=".0102" stop-color="#7fb6a5"/><stop offset=".0165" stop-color="#9fcaaa"/><stop offset=".0227" stop-color="#cde6b0"/><stop offset=".0314" stop-color="#fad795"/><stop offset=".0368" stop-color="#ed9f6d"/><stop offset=".0392" stop-color="#e99062"/><stop offset=".0408" stop-color="#e88b5e"/><stop offset=".0431" stop-color="#e88c5f"/><stop offset=".0455" stop-color="#eb9767"/><stop offset=".0525" stop-color="#f9d796"/><stop offset=".0619" stop-color="#cde6b0"/><stop offset=".0666" stop-color="#aed3ac"/><stop offset=".0713" stop-color="#96c4a9"/><stop offset=".0823" stop-color="#6faca3"/><stop offset=".0988" stop-color="#6890a4"/><stop offset=".1192" stop-color="#637da5"/><stop offset=".1521" stop-color="#606ea5"/><stop offset=".1991" stop-color="#5e65a6"/><stop offset=".3747" stop-color="#5d60a6"/><stop offset=".4837" stop-color="#5f6aa6"/><stop offset=".5135" stop-color="#6276a5"/><stop offset=".5331" stop-color="#6687a4"/><stop offset=".5417" stop-color="#6997a4"/><stop offset=".5488" stop-color="#70aca3"/><stop offset=".5542" stop-color="#95c3a8"/><stop offset=".5597" stop-color="#cee5af"/><stop offset=".5644" stop-color="#eadc9e"/><stop offset=".5676" stop-color="#f1da9a"/><stop offset=".5699" stop-color="#eddb9c"/><stop offset=".5793" stop-color="#cde6b0"/><stop offset=".584" stop-color="#c3e0af"/><stop offset=".5887" stop-color="#c3e0af"/><stop offset=".6013" stop-color="#cee5af"/><stop offset=".6115" stop-color="#cce6b0"/><stop offset=".6185" stop-color="#badbae"/><stop offset=".6413" stop-color="#6faca3"/><stop offset=".6554" stop-color="#6892a4"/><stop offset=".6703" stop-color="#6481a5"/><stop offset=".6891" stop-color="#6175a5"/><stop offset=".7424" stop-color="#5e66a6"/><stop offset=".8467" stop-color="#5d63a6"/><stop offset=".9392" stop-color="#6171a5"/><stop offset=".9995" stop-color="#5e65a6"/></linearGradient>
<linearGradient id="h73" x1="0" y1="0" x2="0" y2="1"><stop offset="0" stop-color="#6a99a4"/><stop offset=".0078" stop-color="#6eaba3"/><stop offset=".0125" stop-color="#80b6a5"/><stop offset=".0188" stop-color="#a0caaa"/><stop offset=".0251" stop-color="#cde6af"/><stop offset=".0337" stop-color="#fad695"/><stop offset=".0392" stop-color="#ed9f6d"/><stop offset=".0415" stop-color="#e99062"/><stop offset=".0431" stop-color="#e88b5f"/><stop offset=".0455" stop-color="#e88d60"/><stop offset=".0478" stop-color="#eb9868"/><stop offset=".0502" stop-color="#f0ab76"/><stop offset=".0541" stop-color="#f9d392"/><stop offset=".0549" stop-color="#f8d896"/><stop offset=".0643" stop-color="#cce6b0"/><stop offset=".069" stop-color="#add3ac"/><stop offset=".0737" stop-color="#96c4a8"/><stop offset=".0847" stop-color="#6faca3"/><stop offset=".1011" stop-color="#6890a4"/><stop offset=".1215" stop-color="#637da5"/><stop offset=".1537" stop-color="#606ea5"/><stop offset=".2007" stop-color="#5e65a6"/><stop offset=".3755" stop-color="#5d60a6"/><stop offset=".4853" stop-color="#5f6ba6"/><stop offset=".5151" stop-color="#6276a5"/><stop offset=".5347" stop-color="#6687a4"/><stop offset=".5433" stop-color="#6996a4"/><stop offset=".5503" stop-color="#6faca3"/><stop offset=".5558" stop-color="#94c3a8"/><stop offset=".5613" stop-color="#cee6af"/><stop offset=".566" stop-color="#e9dd9f"/><stop offset=".5691" stop-color="#efda9b"/><stop offset=".5801" stop-color="#cce6b0"/><stop offset=".5856" stop-color="#beddae"/><stop offset=".5911" stop-color="#bfdeae"/><stop offset=".6021" stop-color="#cce6b0"/><stop offset=".613" stop-color="#cbe6b0"/><stop offset=".6209" stop-color="#badbad"/><stop offset=".6444" stop-color="#6faca3"/><stop offset=".6577" stop-color="#6994a4"/><stop offset=".6726" stop-color="#6482a5"/><stop offset=".6914" stop-color="#6175a5"/><stop offset=".7447" stop-color="#5e67a6"/><stop offset=".8482" stop-color="#5d63a6"/><stop offset=".9407" stop-color="#6071a5"/><stop offset=".9995" stop-color="#5e65a6"/></linearGradient>
<linearGradient id="h74" x1="0" y1="0" x2="0" y2="1"><stop offset="0" stop-color="#6996a4"/><stop offset=".0094" stop-color="#6ea9a3"/><stop offset=".0118" stop-color="#74afa4"/><stop offset=".0196" stop-color="#98c5a9"/><stop offset=".0274" stop-color="#cee5af"/><stop offset=".0361" stop-color="#fad594"/><stop offset=".04" stop-color="#f0ac76"/><stop offset=".0423" stop-color="#eb9968"/><stop offset=".0447" stop-color="#e88e60"/><stop offset=".047" stop-color="#e88c60"/><stop offset=".051" stop-color="#eda06e"/><stop offset=".0564" stop-color="#f9d593"/><stop offset=".0666" stop-color="#cbe6b0"/><stop offset=".0753" stop-color="#99c6a9"/><stop offset=".087" stop-color="#6faba3"/><stop offset=".1027" stop-color="#6891a4"/><stop offset=".1231" stop-color="#637da5"/><stop offset=".1552" stop-color="#606ea5"/><stop offset=".2015" stop-color="#5e65a6"/><stop offset=".3732" stop-color="#5d60a6"/><stop offset=".486" stop-color="#5f6aa6"/><stop offset=".5166" stop-color="#6276a5"/><stop offset=".5362" stop-color="#6587a4"/><stop offset=".5448" stop-color="#6996a4"/><stop offset=".5519" stop-color="#6eaba3"/><stop offset=".5574" stop-color="#93c2a8"/><stop offset=".5629" stop-color="#cde6af"/><stop offset=".5668" stop-color="#e4dea2"/><stop offset=".5699" stop-color="#eddb9d"/><stop offset=".5731" stop-color="#e8dda0"/><stop offset=".5801" stop-color="#cde6b0"/><stop offset=".5833" stop-color="#c0deae"/><stop offset=".5872" stop-color="#b9daad"/><stop offset=".5927" stop-color="#badbad"/><stop offset=".6076" stop-color="#cce6b0"/><stop offset=".6154" stop-color="#c9e4b0"/><stop offset=".624" stop-color="#b7d9ad"/><stop offset=".6475" stop-color="#6eaba3"/><stop offset=".6609" stop-color="#6994a4"/><stop offset=".6758" stop-color="#6583a5"/><stop offset=".6946" stop-color="#6276a5"/><stop offset=".7479" stop-color="#5e67a6"/><stop offset=".8506" stop-color="#5d63a6"/><stop offset=".9423" stop-color="#6071a5"/><stop offset=".9995" stop-color="#5e65a6"/></linearGradient>
<linearGradient id="h75" x1="0" y1="0" x2="0" y2="1"><stop offset="0" stop-color="#6892a4"/><stop offset=".0118" stop-color="#6eaaa3"/><stop offset=".0133" stop-color="#72aea4"/><stop offset=".022" stop-color="#98c6a9"/><stop offset=".0298" stop-color="#cee5af"/><stop offset=".0384" stop-color="#f9d493"/><stop offset=".0439" stop-color="#ec9e6c"/><stop offset=".0463" stop-color="#e99163"/><stop offset=".0486" stop-color="#e88d60"/><stop offset=".0502" stop-color="#e99062"/><stop offset=".0525" stop-color="#ec9c6b"/><stop offset=".0588" stop-color="#fad795"/><stop offset=".069" stop-color="#cae5b0"/><stop offset=".0776" stop-color="#98c5a9"/><stop offset=".0894" stop-color="#6faba3"/><stop offset=".105" stop-color="#6891a4"/><stop offset=".1254" stop-color="#637ea5"/><stop offset=".1576" stop-color="#606ea5"/><stop offset=".203" stop-color="#5e65a6"/><stop offset=".3724" stop-color="#5d60a6"/><stop offset=".4868" stop-color="#5f6aa6"/><stop offset=".5174" stop-color="#6175a5"/><stop offset=".5378" stop-color="#6586a4"/><stop offset=".5464" stop-color="#6995a4"/><stop offset=".5535" stop-color="#6eaaa3"/><stop offset=".559" stop-color="#91c1a8"/><stop offset=".5644" stop-color="#cce6b0"/><stop offset=".5684" stop-color="#e3dea2"/><stop offset=".5715" stop-color="#ebdc9e"/><stop offset=".5738" stop-color="#e7dda0"/><stop offset=".5809" stop-color="#cce6b0"/><stop offset=".5848" stop-color="#badbae"/><stop offset=".5887" stop-color="#b3d7ad"/><stop offset=".5942" stop-color="#b5d7ad"/><stop offset=".6099" stop-color="#c9e4b0"/><stop offset=".6185" stop-color="#c6e2af"/><stop offset=".6272" stop-color="#b4d7ad"/><stop offset=".6507" stop-color="#6eaba3"/><stop offset=".664" stop-color="#6893a4"/><stop offset=".6789" stop-color="#6583a5"/><stop offset=".6977" stop-color="#6276a5"/><stop offset=".7518" stop-color="#5e67a6"/><stop offset=".8529" stop-color="#5d63a6"/><stop offset=".9447" stop-color="#6071a5"/><stop offset=".9995" stop-color="#5e65a6"/></linearGradient>
<linearGradient id="h76" x1="0" y1="0" x2="0" y2="1"><stop offset="0" stop-color="#688fa4"/><stop offset=".0149" stop-color="#70aca3"/><stop offset=".0235" stop-color="#95c4a8"/><stop offset=".0274" stop-color="#add3ac"/><stop offset=".0314" stop-color="#cbe5b0"/><stop offset=".04" stop-color="#f8d896"/><stop offset=".0408" stop-color="#f9d392"/><stop offset=".0463" stop-color="#ec9e6c"/><stop offset=".0486" stop-color="#e99163"/><stop offset=".051" stop-color="#e88e60"/><stop offset=".0525" stop-color="#e99163"/><stop offset=".0549" stop-color="#ec9e6c"/><stop offset=".0611" stop-color="#f9d796"/><stop offset=".0706" stop-color="#cde6af"/><stop offset=".08" stop-color="#97c5a9"/><stop offset=".0917" stop-color="#6eaba3"/><stop offset=".1074" stop-color="#6891a4"/><stop offset=".1278" stop-color="#637ea5"/><stop offset=".1599" stop-color="#606ea5"/><stop offset=".2046" stop-color="#5e66a6"/><stop offset=".3708" stop-color="#5d60a6"/><stop offset=".4876" stop-color="#5f6aa6"/><stop offset=".519" stop-color="#6174a5"/><stop offset=".5394" stop-color="#6585a4"/><stop offset=".5488" stop-color="#6996a4"/><stop offset=".5558" stop-color="#70aca3"/><stop offset=".5613" stop-color="#97c5a9"/><stop offset=".566" stop-color="#cbe6b0"/><stop offset=".5699" stop-color="#e2dfa3"/><stop offset=".5731" stop-color="#e8dd9f"/><stop offset=".5754" stop-color="#e4dea2"/><stop offset=".5809" stop-color="#cee5af"/><stop offset=".5856" stop-color="#b6d8ad"/><stop offset=".5903" stop-color="#aed3ac"/><stop offset=".5966" stop-color="#b0d5ac"/><stop offset=".6123" stop-color="#c6e2af"/><stop offset=".6217" stop-color="#c3e0af"/><stop offset=".6303" stop-color="#b1d5ac"/><stop offset=".653" stop-color="#6eaba3"/><stop offset=".6671" stop-color="#6893a4"/><stop offset=".6828" stop-color="#6482a5"/><stop offset=".7016" stop-color="#6175a5"/><stop offset=".7549" stop-color="#5e67a6"/><stop offset=".8553" stop-color="#5d63a6"/><stop offset=".9462" stop-color="#6070a5"/><stop offset=".9995" stop-color="#5e66a6"/></linearGradient>
<linearGradient id="h77" x1="0" y1="0" x2="0" y2="1"><stop offset="0" stop-color="#678da4"/><stop offset=".0165" stop-color="#6eaba3"/><stop offset=".0259" stop-color="#96c4a9"/><stop offset=".0337" stop-color="#cce6b0"/><stop offset=".0423" stop-color="#f8d896"/><stop offset=".0486" stop-color="#ec9d6c"/><stop offset=".051" stop-color="#e99163"/><stop offset=".0533" stop-color="#e98f61"/><stop offset=".0572" stop-color="#eda16e"/><stop offset=".0627" stop-color="#f9d493"/><stop offset=".0729" stop-color="#cce6b0"/><stop offset=".0776" stop-color="#aed3ac"/><stop offset=".0823" stop-color="#96c4a9"/><stop offset=".0941" stop-color="#6eaba3"/><stop offset=".1098" stop-color="#6891a4"/><stop offset=".1294" stop-color="#647fa5"/><stop offset=".1607" stop-color="#606fa5"/><stop offset=".2054" stop-color="#5e66a6"/><stop offset=".3669" stop-color="#5d60a6"/><stop offset=".4884" stop-color="#5f69a6"/><stop offset=".5205" stop-color="#6174a5"/><stop offset=".5409" stop-color="#6584a5"/><stop offset=".5503" stop-color="#6995a4"/><stop offset=".5574" stop-color="#6eaba3"/><stop offset=".5629" stop-color="#96c4a8"/><stop offset=".5676" stop-color="#cae5b0"/><stop offset=".5707" stop-color="#dde0a6"/><stop offset=".5738" stop-color="#e6dea1"/><stop offset=".5762" stop-color="#e3dfa3"/><stop offset=".5817" stop-color="#cde6af"/><stop offset=".5864" stop-color="#b3d6ad"/><stop offset=".5911" stop-color="#a9d0ab"/><stop offset=".5974" stop-color="#aad1ab"/><stop offset=".6146" stop-color="#c3e0af"/><stop offset=".624" stop-color="#c1dfae"/><stop offset=".6326" stop-color="#b0d5ac"/><stop offset=".6554" stop-color="#6faca3"/><stop offset=".6703" stop-color="#6892a4"/><stop offset=".686" stop-color="#6481a5"/><stop offset=".7048" stop-color="#6175a5"/><stop offset=".7581" stop-color="#5e67a6"/><stop offset=".8576" stop-color="#5d63a6"/><stop offset=".9478" stop-color="#6070a5"/><stop offset=".9995" stop-color="#5e66a6"/></linearGradient>
<linearGradient id="h78" x1="0" y1="0" x2="0" y2="1"><stop offset="0" stop-color="#668aa4"/><stop offset=".0102" stop-color="#6a99a4"/><stop offset=".0188" stop-color="#6faca3"/><stop offset=".0282" stop-color="#97c5a9"/><stop offset=".0361" stop-color="#cde6b0"/><stop offset=".0447" stop-color="#f9d796"/><stop offset=".051" stop-color="#ec9d6c"/><stop offset=".0533" stop-color="#ea9264"/><stop offset=".0557" stop-color="#e99163"/><stop offset=".0596" stop-color="#eea470"/><stop offset=".0651" stop-color="#fad795"/><stop offset=".0753" stop-color="#cae5b0"/><stop offset=".08" stop-color="#acd2ac"/><stop offset=".0847" stop-color="#95c4a8"/><stop offset=".0964" stop-color="#6eaba3"/><stop offset=".1121" stop-color="#6891a4"/><stop offset=".1317" stop-color="#647fa5"/><stop offset=".1631" stop-color="#606fa5"/><stop offset=".207" stop-color="#5e66a6"/><stop offset=".3653" stop-color="#5c60a6"/><stop offset=".4892" stop-color="#5f69a6"/><stop offset=".5213" stop-color="#6173a5"/><stop offset=".5425" stop-color="#6584a5"/><stop offset=".5519" stop-color="#6993a4"/><stop offset=".559" stop-color="#6eaaa3"/><stop offset=".5637" stop-color="#8dbfa7"/><stop offset=".5691" stop-color="#c9e4b0"/><stop offset=".5723" stop-color="#dce1a7"/><stop offset=".5754" stop-color="#e3dea2"/><stop offset=".5778" stop-color="#dfe0a5"/><stop offset=".5825" stop-color="#cce6b0"/><stop offset=".5872" stop-color="#afd4ac"/><stop offset=".5919" stop-color="#a3cdaa"/><stop offset=".5989" stop-color="#a4cdab"/><stop offset=".617" stop-color="#bfdeae"/><stop offset=".6248" stop-color="#c0deae"/><stop offset=".635" stop-color="#afd4ac"/><stop offset=".6585" stop-color="#6eaba3"/><stop offset=".6734" stop-color="#6892a4"/><stop offset=".6891" stop-color="#6481a5"/><stop offset=".7079" stop-color="#6175a5"/><stop offset=".7612" stop-color="#5e67a6"/><stop offset=".86" stop-color="#5d63a6"/><stop offset=".9501" stop-color="#6070a5"/><stop offset=".9995" stop-color="#5e66a6"/></linearGradient>
<linearGradient id="h79" x1="0" y1="0" x2="0" y2="1"><stop offset="0" stop-color="#6688a4"/><stop offset=".0118" stop-color="#6a98a4"/><stop offset=".0212" stop-color="#70aca3"/><stop offset=".0306" stop-color="#98c5a9"/><stop offset=".0384" stop-color="#cde6af"/><stop offset=".047" stop-color="#f9d795"/><stop offset=".051" stop-color="#f1b079"/><stop offset=".0533" stop-color="#ec9e6c"/><stop offset=".0557" stop-color="#ea9365"/><stop offset=".0572" stop-color="#ea9264"/><stop offset=".0588" stop-color="#ea9566"/><stop offset=".0611" stop-color="#eda26f"/><stop offset=".0666" stop-color="#f9d493"/><stop offset=".0768" stop-color="#cce6b0"/><stop offset=".0815" stop-color="#aed3ac"/><stop offset=".0862" stop-color="#97c4a9"/><stop offset=".098" stop-color="#6faca3"/><stop offset=".1137" stop-color="#6892a4"/><stop offset=".1341" stop-color="#647fa5"/><stop offset=".1654" stop-color="#6070a5"/><stop offset=".2085" stop-color="#5e66a6"/><stop offset=".3638" stop-color="#5c60a6"/><stop offset=".49" stop-color="#5e69a6"/><stop offset=".5229" stop-color="#6173a5"/><stop offset=".5441" stop-color="#6583a5"/><stop offset=".5542" stop-color="#6994a4"/><stop offset=".5613" stop-color="#70aca3"/><stop offset=".566" stop-color="#93c2a8"/><stop offset=".5707" stop-color="#c7e3af"/><stop offset=".5738" stop-color="#dae1a8"/><stop offset=".577" stop-color="#e0dfa4"/><stop offset=".5793" stop-color="#dbe1a7"/><stop offset=".5833" stop-color="#cae5b0"/><stop offset=".588" stop-color="#acd2ac"/><stop offset=".5934" stop-color="#9dc9aa"/><stop offset=".6013" stop-color="#a0caaa"/><stop offset=".6193" stop-color="#bbdcae"/><stop offset=".6272" stop-color="#bddcae"/><stop offset=".6373" stop-color="#add3ac"/><stop offset=".6609" stop-color="#6eaba3"/><stop offset=".6765" stop-color="#6891a4"/><stop offset=".6922" stop-color="#6481a5"/><stop offset=".711" stop-color="#6175a5"/><stop offset=".7651" stop-color="#5e66a6"/><stop offset=".8623" stop-color="#5d63a6"/><stop offset=".9517" stop-color="#606fa5"/><stop offset=".9995" stop-color="#5e66a6"/></linearGradient>
<linearGradient id="h80" x1="0" y1="0" x2="0" y2="1"><stop offset="0" stop-color="#6586a4"/><stop offset=".0125" stop-color="#6996a4"/><stop offset=".0235" stop-color="#70aca3"/><stop offset=".0329" stop-color="#98c5a9"/><stop offset=".0408" stop-color="#cde6af"/><stop offset=".0494" stop-color="#fad795"/><stop offset=".0549" stop-color="#eea370"/><stop offset=".0572" stop-color="#eb9767"/><stop offset=".0588" stop-color="#ea9465"/><stop offset=".0604" stop-color="#ea9666"/><stop offset=".0627" stop-color="#eda16e"/><stop offset=".069" stop-color="#f9d796"/><stop offset=".0784" stop-color="#cde6af"/><stop offset=".0831" stop-color="#afd4ac"/><stop offset=".0878" stop-color="#98c5a9"/><stop offset=".1003" stop-color="#6eaba3"/><stop offset=".116" stop-color="#6892a4"/><stop offset=".1364" stop-color="#647fa5"/><stop offset=".167" stop-color="#6070a5"/><stop offset=".2101" stop-color="#5e67a6"/><stop offset=".3614" stop-color="#5c60a6"/><stop offset=".4907" stop-color="#5e68a6"/><stop offset=".5245" stop-color="#6172a5"/><stop offset=".5456" stop-color="#6482a5"/><stop offset=".5558" stop-color="#6893a4"/><stop offset=".5629" stop-color="#6eaba3"/><stop offset=".5676" stop-color="#91c1a8"/><stop offset=".5731" stop-color="#cde6af"/><stop offset=".5754" stop-color="#d9e2a9"/><stop offset=".5778" stop-color="#dde0a6"/><stop offset=".5801" stop-color="#dae1a8"/><stop offset=".5833" stop-color="#cee5af"/><stop offset=".5887" stop-color="#a8cfab"/><stop offset=".5942" stop-color="#98c5a9"/><stop offset=".6013" stop-color="#98c5a9"/><stop offset=".6201" stop-color="#b5d8ad"/><stop offset=".6303" stop-color="#b9daad"/><stop offset=".6405" stop-color="#aad0ab"/><stop offset=".6632" stop-color="#6eaba3"/><stop offset=".6789" stop-color="#6891a4"/><stop offset=".6946" stop-color="#6481a5"/><stop offset=".7134" stop-color="#6175a5"/><stop offset=".7675" stop-color="#5e66a6"/><stop offset=".8639" stop-color="#5d63a6"/><stop offset=".9533" stop-color="#606fa5"/><stop offset=".9995" stop-color="#5e67a6"/></linearGradient>
<linearGradient id="h81" x1="0" y1="0" x2="0" y2="1"><stop offset="0" stop-color="#6584a5"/><stop offset=".0141" stop-color="#6995a4"/><stop offset=".0251" stop-color="#6eaba3"/><stop offset=".0345" stop-color="#93c3a8"/><stop offset=".0384" stop-color="#aad1ab"/><stop offset=".0431" stop-color="#cde6af"/><stop offset=".0517" stop-color="#fad795"/><stop offset=".0572" stop-color="#eea471"/><stop offset=".0596" stop-color="#eb9968"/><stop offset=".0619" stop-color="#eb9868"/><stop offset=".0659" stop-color="#f0ab76"/><stop offset=".0706" stop-color="#fad795"/><stop offset=".08" stop-color="#cee5af"/><stop offset=".0854" stop-color="#acd2ac"/><stop offset=".0902" stop-color="#95c3a8"/><stop offset=".1019" stop-color="#6faca3"/><stop offset=".1176" stop-color="#6893a4"/><stop offset=".1372" stop-color="#6480a5"/><stop offset=".167" stop-color="#6071a5"/><stop offset=".2085" stop-color="#5e67a6"/><stop offset=".3536" stop-color="#5c60a6"/><stop offset=".49" stop-color="#5e67a6"/><stop offset=".5252" stop-color="#6071a5"/><stop offset=".5472" stop-color="#6481a5"/><stop offset=".5574" stop-color="#6892a4"/><stop offset=".5644" stop-color="#6eaaa3"/><stop offset=".5691" stop-color="#90c0a8"/><stop offset=".5746" stop-color="#cce6b0"/><stop offset=".577" stop-color="#d7e2aa"/><stop offset=".5793" stop-color="#dae1a8"/><stop offset=".584" stop-color="#cde6b0"/><stop offset=".5895" stop-color="#a4cdab"/><stop offset=".5927" stop-color="#98c5a9"/><stop offset=".5958" stop-color="#91c1a8"/><stop offset=".6029" stop-color="#92c1a8"/><stop offset=".6225" stop-color="#b1d5ac"/><stop offset=".6326" stop-color="#b6d8ad"/><stop offset=".6436" stop-color="#a6ceab"/><stop offset=".6656" stop-color="#6eaba3"/><stop offset=".682" stop-color="#6891a4"/><stop offset=".6977" stop-color="#6480a5"/><stop offset=".7165" stop-color="#6175a5"/><stop offset=".7706" stop-color="#5e66a6"/><stop offset=".8663" stop-color="#5d63a6"/><stop offset=".9556" stop-color="#606fa5"/><stop offset=".9995" stop-color="#5e67a6"/></linearGradient>
<linearGradient id="h82" x1="0" y1="0" x2="0" y2="1"><stop offset="0" stop-color="#6482a5"/><stop offset=".0157" stop-color="#6994a4"/><stop offset=".0274" stop-color="#6eaba3"/><stop offset=".0368" stop-color="#93c2a8"/><stop offset=".0408" stop-color="#aad1ab"/><stop offset=".0455" stop-color="#cde6af"/><stop offset=".0541" stop-color="#fad795"/><stop offset=".0596" stop-color="#eea571"/><stop offset=".0619" stop-color="#ec9b6a"/><stop offset=".0635" stop-color="#eb9a69"/><stop offset=".0651" stop-color="#ec9e6c"/><stop offset=".0674" stop-color="#f0ab76"/><stop offset=".0721" stop-color="#fad795"/><stop offset=".0823" stop-color="#cae5b0"/><stop offset=".087" stop-color="#acd2ac"/><stop offset=".0917" stop-color="#95c4a8"/><stop offset=".1035" stop-color="#6faca3"/><stop offset=".1192" stop-color="#6993a4"/><stop offset=".1388" stop-color="#6481a5"/><stop offset=".1685" stop-color="#6172a5"/><stop offset=".2085" stop-color="#5e68a6"/><stop offset=".3489" stop-color="#5c60a6"/><stop offset=".4907" stop-color="#5e67a6"/><stop offset=".5268" stop-color="#6070a5"/><stop offset=".5488" stop-color="#6480a5"/><stop offset=".559" stop-color="#6890a4"/><stop offset=".5668" stop-color="#70aca3"/><stop offset=".5707" stop-color="#8ebfa7"/><stop offset=".5762" stop-color="#cae5b0"/><stop offset=".5801" stop-color="#d7e2a9"/><stop offset=".5825" stop-color="#d4e3ab"/><stop offset=".5848" stop-color="#cae5b0"/><stop offset=".588" stop-color="#b0d4ac"/><stop offset=".5911" stop-color="#9cc8a9"/><stop offset=".5942" stop-color="#91c1a8"/><stop offset=".5974" stop-color="#8bbda7"/><stop offset=".6052" stop-color="#8cbea7"/><stop offset=".6256" stop-color="#add3ac"/><stop offset=".6358" stop-color="#b2d5ac"/><stop offset=".6468" stop-color="#a3ccaa"/><stop offset=".6679" stop-color="#6eaba3"/><stop offset=".686" stop-color="#678fa4"/><stop offset=".7016" stop-color="#647fa5"/><stop offset=".7204" stop-color="#6174a5"/><stop offset=".7745" stop-color="#5e66a6"/><stop offset=".8694" stop-color="#5d63a6"/><stop offset=".9572" stop-color="#606ea5"/><stop offset=".9995" stop-color="#5e67a6"/></linearGradient>
<linearGradient id="h83" x1="0" y1="0" x2="0" y2="1"><stop offset="0" stop-color="#6481a5"/><stop offset=".0172" stop-color="#6893a4"/><stop offset=".0298" stop-color="#6eaba3"/><stop offset=".0392" stop-color="#93c2a8"/><stop offset=".0431" stop-color="#aad1ab"/><stop offset=".0478" stop-color="#cde6af"/><stop offset=".0564" stop-color="#fad795"/><stop offset=".0611" stop-color="#efab75"/><stop offset=".0635" stop-color="#ed9f6d"/><stop offset=".0651" stop-color="#ec9d6b"/><stop offset=".0666" stop-color="#ed9f6d"/><stop offset=".069" stop-color="#f0ab76"/><stop offset=".0737" stop-color="#fad694"/><stop offset=".0839" stop-color="#cae5b0"/><stop offset=".0886" stop-color="#acd2ac"/><stop offset=".0933" stop-color="#95c4a8"/><stop offset=".1058" stop-color="#6eaba3"/><stop offset=".1215" stop-color="#6893a4"/><stop offset=".1411" stop-color="#6481a5"/><stop offset=".1874" stop-color="#5f6da5"/><stop offset=".2618" stop-color="#5d63a6"/><stop offset=".4116" stop-color="#5d61a6"/><stop offset=".508" stop-color="#5f6aa6"/><stop offset=".5331" stop-color="#6172a5"/><stop offset=".5503" stop-color="#647ea5"/><stop offset=".5613" stop-color="#6891a4"/><stop offset=".5684" stop-color="#6eaba3"/><stop offset=".5723" stop-color="#8dbea7"/><stop offset=".5778" stop-color="#c8e3af"/><stop offset=".5793" stop-color="#d0e5ad"/><stop offset=".5817" stop-color="#d4e3ab"/><stop offset=".5848" stop-color="#cde6b0"/><stop offset=".5895" stop-color="#a7cfab"/><stop offset=".5927" stop-color="#94c3a8"/><stop offset=".5989" stop-color="#84b9a6"/><stop offset=".6068" stop-color="#85baa6"/><stop offset=".6279" stop-color="#a8d0ab"/><stop offset=".6381" stop-color="#aed3ac"/><stop offset=".6491" stop-color="#a1cbaa"/><stop offset=".6703" stop-color="#6faba3"/><stop offset=".6891" stop-color="#678ea4"/><stop offset=".7056" stop-color="#647ea5"/><stop offset=".7244" stop-color="#6173a5"/><stop offset=".7777" stop-color="#5e66a6"/><stop offset=".871" stop-color="#5d63a6"/><stop offset=".9595" stop-color="#606ea5"/><stop offset=".9995" stop-color="#5e67a6"/></linearGradient>
<linearGradient id="h84" x1="0" y1="0" x2="0" y2="1"><stop offset="0" stop-color="#647fa5"/><stop offset=".0188" stop-color="#6893a4"/><stop offset=".0321" stop-color="#6eaba3"/><stop offset=".0423" stop-color="#97c5a9"/><stop offset=".0502" stop-color="#cde6af"/><stop offset=".0588" stop-color="#fad795"/><stop offset=".0635" stop-color="#f0ac76"/><stop offset=".0666" stop-color="#eda06e"/><stop offset=".0682" stop-color="#eda16f"/><stop offset=".0706" stop-color="#f0ac76"/><stop offset=".0753" stop-color="#fad694"/><stop offset=".0847" stop-color="#cee5af"/><stop offset=".0902" stop-color="#acd2ac"/><stop offset=".0949" stop-color="#95c4a8"/><stop offset=".1074" stop-color="#6eaba3"/><stop offset=".1231" stop-color="#6994a4"/><stop offset=".1435" stop-color="#6481a5"/><stop offset=".1905" stop-color="#5f6da5"/><stop offset=".2658" stop-color="#5d63a6"/><stop offset=".4155" stop-color="#5d61a6"/><stop offset=".5119" stop-color="#5f6aa6"/><stop offset=".5362" stop-color="#6172a5"/><stop offset=".5519" stop-color="#637da5"/><stop offset=".5629" stop-color="#688fa4"/><stop offset=".5699" stop-color="#6ea9a3"/><stop offset=".5731" stop-color="#84b9a6"/><stop offset=".5801" stop-color="#cbe5b0"/><stop offset=".5825" stop-color="#d0e5ad"/><stop offset=".5848" stop-color="#cde6af"/><stop offset=".5911" stop-color="#9dc9aa"/><stop offset=".5934" stop-color="#8fc0a8"/><stop offset=".5974" stop-color="#82b7a6"/><stop offset=".6021" stop-color="#7cb4a5"/><stop offset=".6115" stop-color="#82b8a6"/><stop offset=".6319" stop-color="#a5ceab"/><stop offset=".6405" stop-color="#abd1ab"/><stop offset=".6522" stop-color="#9fcaaa"/><stop offset=".6734" stop-color="#6eaba3"/><stop offset=".6875" stop-color="#6994a4"/><stop offset=".7032" stop-color="#6583a5"/><stop offset=".744" stop-color="#606da5"/><stop offset=".8349" stop-color="#5d62a6"/><stop offset=".8937" stop-color="#5d64a6"/><stop offset=".9588" stop-color="#606da5"/><stop offset=".9995" stop-color="#5e67a6"/></linearGradient>
<linearGradient id="h85" x1="0" y1="0" x2="0" y2="1"><stop offset="0" stop-color="#647ea5"/><stop offset=".0196" stop-color="#6891a4"/><stop offset=".0345" stop-color="#6eaba3"/><stop offset=".04" stop-color="#82b7a6"/><stop offset=".0447" stop-color="#97c5a9"/><stop offset=".0525" stop-color="#cde6af"/><stop offset=".0611" stop-color="#fad694"/><stop offset=".0659" stop-color="#f0ac76"/><stop offset=".069" stop-color="#eea370"/><stop offset=".0721" stop-color="#f0ad77"/><stop offset=".0768" stop-color="#fad694"/><stop offset=".0862" stop-color="#cde6af"/><stop offset=".0917" stop-color="#abd1ab"/><stop offset=".0964" stop-color="#95c3a8"/><stop offset=".109" stop-color="#6faba3"/><stop offset=".1246" stop-color="#6994a4"/><stop offset=".1442" stop-color="#6582a5"/><stop offset=".1913" stop-color="#606ea5"/><stop offset=".2658" stop-color="#5d63a6"/><stop offset=".4171" stop-color="#5d61a6"/><stop offset=".5151" stop-color="#5f69a6"/><stop offset=".5386" stop-color="#6071a5"/><stop offset=".5542" stop-color="#637da5"/><stop offset=".5644" stop-color="#678ea4"/><stop offset=".5715" stop-color="#6da8a3"/><stop offset=".5723" stop-color="#6faca3"/><stop offset=".5746" stop-color="#82b8a6"/><stop offset=".5817" stop-color="#c7e3af"/><stop offset=".5833" stop-color="#cde6b0"/><stop offset=".5848" stop-color="#cce6b0"/><stop offset=".5864" stop-color="#c5e1af"/><stop offset=".5919" stop-color="#99c6a9"/><stop offset=".595" stop-color="#87baa6"/><stop offset=".5989" stop-color="#7ab3a5"/><stop offset=".6036" stop-color="#75afa4"/><stop offset=".6123" stop-color="#7ab3a5"/><stop offset=".6334" stop-color="#9fcaaa"/><stop offset=".6436" stop-color="#a7cfab"/><stop offset=".6554" stop-color="#9cc8a9"/><stop offset=".6765" stop-color="#6eaaa3"/><stop offset=".6907" stop-color="#6994a4"/><stop offset=".7063" stop-color="#6582a5"/><stop offset=".7471" stop-color="#606da5"/><stop offset=".8388" stop-color="#5d62a6"/><stop offset=".896" stop-color="#5d64a6"/><stop offset=".9611" stop-color="#5f6da5"/><stop offset=".9995" stop-color="#5e67a6"/></linearGradient>
<linearGradient id="h86" x1="0" y1="0" x2="0" y2="1"><stop offset="0" stop-color="#637da5"/><stop offset=".0212" stop-color="#6891a4"/><stop offset=".0368" stop-color="#6faca3"/><stop offset=".0463" stop-color="#94c3a8"/><stop offset=".0502" stop-color="#abd1ab"/><stop offset=".0549" stop-color="#cee6af"/><stop offset=".0635" stop-color="#f9d593"/><stop offset=".0674" stop-color="#f1b27a"/><stop offset=".0706" stop-color="#eea672"/><stop offset=".0737" stop-color="#f0af78"/><stop offset=".0784" stop-color="#fad795"/><stop offset=".0878" stop-color="#cde6b0"/><stop offset=".0925" stop-color="#afd4ac"/><stop offset=".0972" stop-color="#98c5a9"/><stop offset=".1035" stop-color="#81b7a6"/><stop offset=".1105" stop-color="#6faca3"/><stop offset=".1262" stop-color="#6995a4"/><stop offset=".1458" stop-color="#6583a5"/><stop offset=".1936" stop-color="#606ea5"/><stop offset=".2673" stop-color="#5d63a6"/><stop offset=".4178" stop-color="#5d61a6"/><stop offset=".5174" stop-color="#5f69a6"/><stop offset=".5409" stop-color="#6071a5"/><stop offset=".5566" stop-color="#637ca5"/><stop offset=".5668" stop-color="#678ea4"/><stop offset=".5738" stop-color="#6eaba3"/><stop offset=".577" stop-color="#88bba7"/><stop offset=".5817" stop-color="#b7d9ad"/><stop offset=".5833" stop-color="#c2e0af"/><stop offset=".5848" stop-color="#c6e2af"/><stop offset=".5872" stop-color="#bfdeae"/><stop offset=".5934" stop-color="#8fc0a8"/><stop offset=".5966" stop-color="#7eb5a5"/><stop offset=".6005" stop-color="#73aea4"/><stop offset=".6052" stop-color="#6eaba3"/><stop offset=".6138" stop-color="#73aea4"/><stop offset=".6373" stop-color="#9cc8a9"/><stop offset=".6475" stop-color="#a4cdaa"/><stop offset=".6593" stop-color="#99c6a9"/><stop offset=".6789" stop-color="#6eaba3"/><stop offset=".6938" stop-color="#6893a4"/><stop offset=".7095" stop-color="#6482a5"/><stop offset=".751" stop-color="#5f6da5"/><stop offset=".8427" stop-color="#5d62a6"/><stop offset=".8984" stop-color="#5d63a6"/><stop offset=".9627" stop-color="#5f6ca5"/><stop offset=".9995" stop-color="#5e67a6"/></linearGradient>
<linearGradient id="h87" x1="0" y1="0" x2="0" y2="1"><stop offset="0" stop-color="#637da5"/><stop offset=".0227" stop-color="#6890a4"/><stop offset=".0384" stop-color="#6eaba3"/><stop offset=".0439" stop-color="#80b6a5"/><stop offset=".0486" stop-color="#95c3a8"/><stop offset=".0525" stop-color="#acd2ac"/><stop offset=".0564" stop-color="#c9e4b0"/><stop offset=".0651" stop-color="#f8d896"/><stop offset=".0698" stop-color="#f1b27a"/><stop offset=".0729" stop-color="#efa974"/><stop offset=".076" stop-color="#f2b57d"/><stop offset=".08" stop-color="#fad795"/><stop offset=".0894" stop-color="#cce6b0"/><stop offset=".0941" stop-color="#aed3ac"/><stop offset=".0988" stop-color="#97c5a9"/><stop offset=".105" stop-color="#81b7a6"/><stop offset=".1121" stop-color="#6faca3"/><stop offset=".1278" stop-color="#6996a4"/><stop offset=".1474" stop-color="#6584a5"/><stop offset=".1952" stop-color="#606ea5"/><stop offset=".2681" stop-color="#5d64a6"/><stop offset=".4171" stop-color="#5d61a6"/><stop offset=".5182" stop-color="#5e68a6"/><stop offset=".5425" stop-color="#6070a5"/><stop offset=".5582" stop-color="#637ba5"/><stop offset=".5684" stop-color="#678da4"/><stop offset=".5754" stop-color="#6eaaa3"/><stop offset=".5778" stop-color="#7fb6a5"/><stop offset=".5833" stop-color="#b4d7ad"/><stop offset=".5848" stop-color="#bddcae"/><stop offset=".5864" stop-color="#bfdeae"/><stop offset=".5887" stop-color="#b6d8ad"/><stop offset=".5934" stop-color="#91c1a8"/><stop offset=".5966" stop-color="#7db5a5"/><stop offset=".6005" stop-color="#6faca3"/><stop offset=".6036" stop-color="#6da7a3"/><stop offset=".6162" stop-color="#6eaba3"/><stop offset=".6405" stop-color="#98c6a9"/><stop offset=".6515" stop-color="#a0cbaa"/><stop offset=".6624" stop-color="#96c4a9"/><stop offset=".682" stop-color="#6eaaa3"/><stop offset=".6969" stop-color="#6893a4"/><stop offset=".7126" stop-color="#6482a5"/><stop offset=".7542" stop-color="#5f6da5"/><stop offset=".8459" stop-color="#5d62a6"/><stop offset=".9008" stop-color="#5d63a6"/><stop offset=".9643" stop-color="#5f6ba5"/><stop offset=".9995" stop-color="#5e67a6"/></linearGradient>
<linearGradient id="h88" x1="0" y1="0" x2="0" y2="1"><stop offset="0" stop-color="#637ca5"/><stop offset=".0235" stop-color="#688fa4"/><stop offset=".0408" stop-color="#6eaba3"/><stop offset=".051" stop-color="#96c4a8"/><stop offset=".0549" stop-color="#add2ac"/><stop offset=".0588" stop-color="#cbe5b0"/><stop offset=".0674" stop-color="#f9d796"/><stop offset=".0713" stop-color="#f2b67e"/><stop offset=".0745" stop-color="#f0ac76"/><stop offset=".0776" stop-color="#f2b77e"/><stop offset=".0815" stop-color="#f9d795"/><stop offset=".0909" stop-color="#cce6b0"/><stop offset=".0956" stop-color="#add3ac"/><stop offset=".1003" stop-color="#97c5a9"/><stop offset=".1129" stop-color="#71ada3"/><stop offset=".1294" stop-color="#6996a4"/><stop offset=".1489" stop-color="#6585a4"/><stop offset=".1968" stop-color="#606fa5"/><stop offset=".2689" stop-color="#5d64a6"/><stop offset=".4163" stop-color="#5d61a6"/><stop offset=".5198" stop-color="#5e68a6"/><stop offset=".5448" stop-color="#606fa5"/><stop offset=".5605" stop-color="#637ba5"/><stop offset=".5699" stop-color="#678ca4"/><stop offset=".577" stop-color="#6da9a3"/><stop offset=".5786" stop-color="#78b1a4"/><stop offset=".584" stop-color="#abd1ab"/><stop offset=".5856" stop-color="#b5d7ad"/><stop offset=".5872" stop-color="#b8daad"/><stop offset=".5895" stop-color="#b1d5ac"/><stop offset=".595" stop-color="#87bba6"/><stop offset=".5981" stop-color="#75b0a4"/><stop offset=".6005" stop-color="#6eaaa3"/><stop offset=".6044" stop-color="#6ca3a3"/><stop offset=".6123" stop-color="#6ca2a3"/><stop offset=".6217" stop-color="#6eaba3"/><stop offset=".6436" stop-color="#95c3a8"/><stop offset=".6546" stop-color="#9dc9aa"/><stop offset=".6664" stop-color="#93c2a8"/><stop offset=".6844" stop-color="#6eaba3"/><stop offset=".7001" stop-color="#6892a4"/><stop offset=".7157" stop-color="#6482a5"/><stop offset=".7573" stop-color="#5f6da5"/><stop offset=".849" stop-color="#5d62a6"/><stop offset=".9666" stop-color="#5f6ba5"/><stop offset=".9995" stop-color="#5e67a6"/></linearGradient>
<linearGradient id="h89" x1="0" y1="0" x2="0" y2="1"><stop offset="0" stop-color="#637ba5"/><stop offset=".0251" stop-color="#688fa4"/><stop offset=".0431" stop-color="#6faca3"/><stop offset=".0486" stop-color="#82b7a6"/><stop offset=".0533" stop-color="#97c4a9"/><stop offset=".0572" stop-color="#aed3ac"/><stop offset=".0611" stop-color="#cce6b0"/><stop offset=".0698" stop-color="#fad795"/><stop offset=".0729" stop-color="#f3bb81"/><stop offset=".076" stop-color="#f1af79"/><stop offset=".0792" stop-color="#f3b97f"/><stop offset=".0831" stop-color="#f8d896"/><stop offset=".0925" stop-color="#cae5b0"/><stop offset=".0972" stop-color="#acd2ac"/><stop offset=".1019" stop-color="#96c4a9"/><stop offset=".1082" stop-color="#81b7a6"/><stop offset=".116" stop-color="#6eaba3"/><stop offset=".1317" stop-color="#6996a4"/><stop offset=".1505" stop-color="#6586a4"/><stop offset=".1983" stop-color="#6070a5"/><stop offset=".2705" stop-color="#5d64a6"/><stop offset=".4163" stop-color="#5d61a6"/><stop offset=".5213" stop-color="#5e68a6"/><stop offset=".5456" stop-color="#606ea5"/><stop offset=".5613" stop-color="#6279a5"/><stop offset=".5707" stop-color="#6689a4"/><stop offset=".5778" stop-color="#6ca4a3"/><stop offset=".5793" stop-color="#71ada3"/><stop offset=".5856" stop-color="#a9d0ab"/><stop offset=".588" stop-color="#b2d6ac"/><stop offset=".5903" stop-color="#add2ac"/><stop offset=".5966" stop-color="#7fb5a5"/><stop offset=".5997" stop-color="#6eaba3"/><stop offset=".606" stop-color="#6b9fa3"/><stop offset=".6146" stop-color="#6b9ea3"/><stop offset=".6272" stop-color="#6eaba3"/><stop offset=".6468" stop-color="#92c2a8"/><stop offset=".6577" stop-color="#9bc7a9"/><stop offset=".6695" stop-color="#91c1a8"/><stop offset=".6867" stop-color="#6eaba3"/><stop offset=".7024" stop-color="#6893a4"/><stop offset=".7181" stop-color="#6482a5"/><stop offset=".7369" stop-color="#6175a5"/><stop offset=".7604" stop-color="#5f6ca5"/><stop offset=".8529" stop-color="#5d62a6"/><stop offset=".9682" stop-color="#5f6aa6"/><stop offset=".9995" stop-color="#5e67a6"/></linearGradient>
<linearGradient id="h90" x1="0" y1="0" x2="0" y2="1"><stop offset="0" stop-color="#637ba5"/><stop offset=".0267" stop-color="#688fa4"/><stop offset=".0447" stop-color="#6eaba3"/><stop offset=".0549" stop-color="#94c3a8"/><stop offset=".0588" stop-color="#aad1ab"/><stop offset=".0635" stop-color="#cde6af"/><stop offset=".0713" stop-color="#f7d897"/><stop offset=".0721" stop-color="#f9d493"/><stop offset=".0753" stop-color="#f3bb81"/><stop offset=".0776" stop-color="#f1b37b"/><stop offset=".0807" stop-color="#f3bb81"/><stop offset=".0839" stop-color="#f9d593"/><stop offset=".0933" stop-color="#cde6af"/><stop offset=".098" stop-color="#aed3ac"/><stop offset=".1027" stop-color="#98c5a9"/><stop offset=".1145" stop-color="#75afa4"/><stop offset=".1184" stop-color="#6eaaa3"/><stop offset=".1333" stop-color="#6997a4"/><stop offset=".1513" stop-color="#6687a4"/><stop offset=".1991" stop-color="#6070a5"/><stop offset=".2705" stop-color="#5e65a6"/><stop offset=".4139" stop-color="#5d60a6"/><stop offset=".5221" stop-color="#5e67a6"/><stop offset=".5464" stop-color="#606ea5"/><stop offset=".5613" stop-color="#6277a5"/><stop offset=".5707" stop-color="#6584a5"/><stop offset=".5778" stop-color="#6a9ba4"/><stop offset=".5809" stop-color="#71ada3"/><stop offset=".5864" stop-color="#a1cbaa"/><stop offset=".588" stop-color="#aad1ab"/><stop offset=".5895" stop-color="#add2ac"/><stop offset=".5919" stop-color="#a4cdaa"/><stop offset=".5966" stop-color="#81b7a6"/><stop offset=".5997" stop-color="#6eaba3"/><stop offset=".6036" stop-color="#6ba0a3"/><stop offset=".6076" stop-color="#6a9ba4"/><stop offset=".6177" stop-color="#6a9ba4"/><stop offset=".6311" stop-color="#6eaaa3"/><stop offset=".6507" stop-color="#91c1a8"/><stop offset=".6624" stop-color="#98c6a9"/><stop offset=".6726" stop-color="#8fc0a8"/><stop offset=".6891" stop-color="#6eaba3"/><stop offset=".7056" stop-color="#6892a4"/><stop offset=".7212" stop-color="#6481a5"/><stop offset=".7628" stop-color="#5f6ca5"/><stop offset=".8553" stop-color="#5d62a6"/><stop offset=".9697" stop-color="#5f69a6"/><stop offset=".9995" stop-color="#5e67a6"/></linearGradient>
<linearGradient id="h91" x1="0" y1="0" x2="0" y2="1"><stop offset="0" stop-color="#637ba5"/><stop offset=".0282" stop-color="#688fa4"/><stop offset=".047" stop-color="#6faca3"/><stop offset=".0572" stop-color="#95c3a8"/><stop offset=".0611" stop-color="#acd2ac"/><stop offset=".0651" stop-color="#cae5b0"/><stop offset=".0737" stop-color="#f9d796"/><stop offset=".0776" stop-color="#f3bb81"/><stop offset=".08" stop-color="#f2b77e"/><stop offset=".0823" stop-color="#f4be83"/><stop offset=".0854" stop-color="#fad795"/><stop offset=".0949" stop-color="#cbe6b0"/><stop offset=".0988" stop-color="#b1d5ac"/><stop offset=".1035" stop-color="#99c6a9"/><stop offset=".1152" stop-color="#76b0a4"/><stop offset=".1192" stop-color="#6eaba3"/><stop offset=".1341" stop-color="#6a98a4"/><stop offset=".1529" stop-color="#6687a4"/><stop offset=".2007" stop-color="#6071a5"/><stop offset=".2712" stop-color="#5e65a6"/><stop offset=".4124" stop-color="#5d60a6"/><stop offset=".5229" stop-color="#5e67a6"/><stop offset=".5464" stop-color="#5f6ca5"/><stop offset=".5621" stop-color="#6175a5"/><stop offset=".5715" stop-color="#6482a5"/><stop offset=".5786" stop-color="#6997a4"/><stop offset=".5825" stop-color="#71ada3"/><stop offset=".5872" stop-color="#9ac7a9"/><stop offset=".5887" stop-color="#a4cdaa"/><stop offset=".5903" stop-color="#a7cfab"/><stop offset=".5927" stop-color="#a0caaa"/><stop offset=".5997" stop-color="#6faba3"/><stop offset=".6036" stop-color="#6b9ea3"/><stop offset=".6083" stop-color="#6997a4"/><stop offset=".6201" stop-color="#6a98a4"/><stop offset=".6358" stop-color="#6eaba3"/><stop offset=".6538" stop-color="#8ebfa7"/><stop offset=".6656" stop-color="#96c4a8"/><stop offset=".6758" stop-color="#8cbea7"/><stop offset=".6914" stop-color="#6eaba3"/><stop offset=".7079" stop-color="#6892a4"/><stop offset=".7236" stop-color="#6481a5"/><stop offset=".7651" stop-color="#5f6ca5"/><stop offset=".8576" stop-color="#5d61a6"/><stop offset=".9995" stop-color="#5e66a6"/></linearGradient>
<linearGradient id="h92" x1="0" y1="0" x2="0" y2="1"><stop offset="0" stop-color="#637aa5"/><stop offset=".029" stop-color="#678fa4"/><stop offset=".0486" stop-color="#6eaba3"/><stop offset=".0549" stop-color="#81b7a6"/><stop offset=".0596" stop-color="#96c4a9"/><stop offset=".0635" stop-color="#add3ac"/><stop offset=".0674" stop-color="#cce6b0"/><stop offset=".076" stop-color="#fad795"/><stop offset=".0792" stop-color="#f4bf84"/><stop offset=".0815" stop-color="#f3ba80"/><stop offset=".0839" stop-color="#f5c286"/><stop offset=".087" stop-color="#f8d896"/><stop offset=".0956" stop-color="#cde6af"/><stop offset=".1003" stop-color="#aed3ac"/><stop offset=".1058" stop-color="#95c3a8"/><stop offset=".1121" stop-color="#81b7a6"/><stop offset=".1199" stop-color="#6faca3"/><stop offset=".1348" stop-color="#6a99a4"/><stop offset=".1537" stop-color="#6688a4"/><stop offset=".2015" stop-color="#6171a5"/><stop offset=".272" stop-color="#5e65a6"/><stop offset=".4108" stop-color="#5d60a6"/><stop offset=".5237" stop-color="#5e66a6"/><stop offset=".5535" stop-color="#606ea5"/><stop offset=".5699" stop-color="#637ca5"/><stop offset=".5778" stop-color="#678ea4"/><stop offset=".5833" stop-color="#6da9a3"/><stop offset=".5887" stop-color="#99c6a9"/><stop offset=".5911" stop-color="#a2ccaa"/><stop offset=".5934" stop-color="#9cc8a9"/><stop offset=".5997" stop-color="#70aca3"/><stop offset=".6044" stop-color="#6a9ba4"/><stop offset=".6099" stop-color="#6893a4"/><stop offset=".6225" stop-color="#6995a4"/><stop offset=".6397" stop-color="#6eaaa3"/><stop offset=".6577" stop-color="#8dbea7"/><stop offset=".6687" stop-color="#93c2a8"/><stop offset=".6789" stop-color="#8abca7"/><stop offset=".6938" stop-color="#6eaaa3"/><stop offset=".7103" stop-color="#6891a4"/><stop offset=".7259" stop-color="#6481a5"/><stop offset=".7675" stop-color="#5f6ca5"/><stop offset=".86" stop-color="#5d61a6"/><stop offset=".9995" stop-color="#5e65a6"/></linearGradient>
<linearGradient id="h93" x1="0" y1="0" x2="0" y2="1"><stop offset="0" stop-color="#627aa5"/><stop offset=".0306" stop-color="#678fa4"/><stop offset=".051" stop-color="#6faca3"/><stop offset=".0611" stop-color="#93c2a8"/><stop offset=".0651" stop-color="#aad1ab"/><stop offset=".0698" stop-color="#cee6af"/><stop offset=".0776" stop-color="#f7d896"/><stop offset=".0807" stop-color="#f5c487"/><stop offset=".0831" stop-color="#f4be83"/><stop offset=".0854" stop-color="#f6c689"/><stop offset=".0878" stop-color="#fad795"/><stop offset=".0972" stop-color="#cbe5b0"/><stop offset=".1011" stop-color="#b0d4ac"/><stop offset=".1058" stop-color="#99c6a9"/><stop offset=".1168" stop-color="#78b1a4"/><stop offset=".1223" stop-color="#6eaaa3"/><stop offset=".1544" stop-color="#6689a4"/><stop offset=".2023" stop-color="#6172a5"/><stop offset=".272" stop-color="#5e66a6"/><stop offset=".4092" stop-color="#5d60a6"/><stop offset=".5245" stop-color="#5e66a6"/><stop offset=".5542" stop-color="#606da5"/><stop offset=".5707" stop-color="#627aa5"/><stop offset=".5786" stop-color="#668ba4"/><stop offset=".5848" stop-color="#6ea9a3"/><stop offset=".5895" stop-color="#93c2a8"/><stop offset=".5911" stop-color="#9bc7a9"/><stop offset=".5927" stop-color="#9dc8a9"/><stop offset=".595" stop-color="#93c2a8"/><stop offset=".6005" stop-color="#6eaaa3"/><stop offset=".606" stop-color="#6997a4"/><stop offset=".6138" stop-color="#678fa4"/><stop offset=".6272" stop-color="#6995a4"/><stop offset=".6444" stop-color="#6eaba3"/><stop offset=".6609" stop-color="#8abda7"/><stop offset=".6718" stop-color="#90c0a8"/><stop offset=".6812" stop-color="#88bba7"/><stop offset=".6961" stop-color="#6eaaa3"/><stop offset=".7126" stop-color="#6891a4"/><stop offset=".7283" stop-color="#6480a5"/><stop offset=".7698" stop-color="#5f6ca5"/><stop offset=".8616" stop-color="#5d61a6"/><stop offset=".9995" stop-color="#5e65a6"/></linearGradient>
<linearGradient id="h94" x1="0" y1="0" x2="0" y2="1"><stop offset="0" stop-color="#6279a5"/><stop offset=".0314" stop-color="#678ea4"/><stop offset=".0525" stop-color="#6eaba3"/><stop offset=".0588" stop-color="#81b7a6"/><stop offset=".0635" stop-color="#95c3a8"/><stop offset=".0674" stop-color="#acd2ac"/><stop offset=".0713" stop-color="#cbe5b0"/><stop offset=".08" stop-color="#f9d796"/><stop offset=".0823" stop-color="#f6c88a"/><stop offset=".0839" stop-color="#f5c286"/><stop offset=".0862" stop-color="#f6c689"/><stop offset=".0886" stop-color="#fad594"/><stop offset=".098" stop-color="#cce6b0"/><stop offset=".1019" stop-color="#b1d5ac"/><stop offset=".1066" stop-color="#99c6a9"/><stop offset=".1176" stop-color="#79b2a4"/><stop offset=".1231" stop-color="#6eaba3"/><stop offset=".1552" stop-color="#668aa4"/><stop offset=".2038" stop-color="#6173a5"/><stop offset=".2728" stop-color="#5e66a6"/><stop offset=".4077" stop-color="#5d60a6"/><stop offset=".5252" stop-color="#5e65a6"/><stop offset=".5558" stop-color="#5f6ca5"/><stop offset=".5723" stop-color="#6279a5"/><stop offset=".5801" stop-color="#668ba4"/><stop offset=".5864" stop-color="#6eaaa3"/><stop offset=".5911" stop-color="#92c1a8"/><stop offset=".5934" stop-color="#98c5a9"/><stop offset=".5958" stop-color="#8fc0a8"/><stop offset=".6005" stop-color="#6eaba3"/><stop offset=".6068" stop-color="#6994a4"/><stop offset=".6146" stop-color="#678ca4"/><stop offset=".6295" stop-color="#6892a4"/><stop offset=".6483" stop-color="#6eaaa3"/><stop offset=".664" stop-color="#88bba7"/><stop offset=".6742" stop-color="#8dbfa7"/><stop offset=".6836" stop-color="#86baa6"/><stop offset=".6977" stop-color="#6eaaa3"/><stop offset=".7142" stop-color="#6892a4"/><stop offset=".7299" stop-color="#6481a5"/><stop offset=".7714" stop-color="#5f6ba5"/><stop offset=".8616" stop-color="#5d61a6"/><stop offset=".9995" stop-color="#5d63a6"/></linearGradient>
<linearGradient id="h95" x1="0" y1="0" x2="0" y2="1"><stop offset="0" stop-color="#6279a5"/><stop offset=".0329" stop-color="#678ea4"/><stop offset=".0549" stop-color="#6faba3"/><stop offset=".0611" stop-color="#82b7a6"/><stop offset=".0659" stop-color="#96c4a9"/><stop offset=".0698" stop-color="#aed3ac"/><stop offset=".0737" stop-color="#cde6af"/><stop offset=".0823" stop-color="#fad694"/><stop offset=".0847" stop-color="#f6c88a"/><stop offset=".0862" stop-color="#f6c689"/><stop offset=".0902" stop-color="#f8d896"/><stop offset=".0988" stop-color="#cde6af"/><stop offset=".1035" stop-color="#add3ac"/><stop offset=".1074" stop-color="#9ac6a9"/><stop offset=".1129" stop-color="#86baa6"/><stop offset=".1199" stop-color="#76b0a4"/><stop offset=".1246" stop-color="#6eaaa3"/><stop offset=".156" stop-color="#678ba4"/><stop offset=".2046" stop-color="#6173a5"/><stop offset=".2736" stop-color="#5e66a6"/><stop offset=".4061" stop-color="#5d60a6"/><stop offset=".526" stop-color="#5e65a6"/><stop offset=".5566" stop-color="#5f6ca5"/><stop offset=".5731" stop-color="#6278a5"/><stop offset=".5817" stop-color="#668ba4"/><stop offset=".588" stop-color="#6eaba3"/><stop offset=".5919" stop-color="#8cbea7"/><stop offset=".5942" stop-color="#93c2a8"/><stop offset=".5966" stop-color="#8bbda7"/><stop offset=".6013" stop-color="#6da8a3"/><stop offset=".6076" stop-color="#6891a4"/><stop offset=".6162" stop-color="#6689a4"/><stop offset=".6326" stop-color="#6890a4"/><stop offset=".653" stop-color="#6eaba3"/><stop offset=".6671" stop-color="#85baa6"/><stop offset=".6773" stop-color="#8bbda7"/><stop offset=".6867" stop-color="#84b9a6"/><stop offset=".6993" stop-color="#6eaba3"/><stop offset=".7165" stop-color="#6891a4"/><stop offset=".7322" stop-color="#6480a5"/><stop offset=".7738" stop-color="#5f6ba5"/><stop offset=".8623" stop-color="#5d60a6"/><stop offset=".9995" stop-color="#5d62a6"/></linearGradient>
<linearGradient id="h96" x1="0" y1="0" x2="0" y2="1"><stop offset="0" stop-color="#6279a5"/><stop offset=".0345" stop-color="#678ea4"/><stop offset=".0564" stop-color="#6eaaa3"/><stop offset=".0619" stop-color="#7db4a5"/><stop offset=".0674" stop-color="#93c2a8"/><stop offset=".0713" stop-color="#aad1ab"/><stop offset=".0753" stop-color="#cae5b0"/><stop offset=".0831" stop-color="#f5d998"/><stop offset=".0847" stop-color="#f9d493"/><stop offset=".0862" stop-color="#f7cc8d"/><stop offset=".0878" stop-color="#f7ca8c"/><stop offset=".0909" stop-color="#f9d796"/><stop offset=".0996" stop-color="#cee5af"/><stop offset=".1043" stop-color="#add3ac"/><stop offset=".1082" stop-color="#99c6a9"/><stop offset=".1137" stop-color="#86baa6"/><stop offset=".1199" stop-color="#77b1a4"/><stop offset=".1254" stop-color="#6eaaa3"/><stop offset=".156" stop-color="#678ca4"/><stop offset=".2038" stop-color="#6174a5"/><stop offset=".2705" stop-color="#5e67a6"/><stop offset=".3912" stop-color="#5d61a6"/><stop offset=".5174" stop-color="#5d63a6"/><stop offset=".5542" stop-color="#5f6aa6"/><stop offset=".5731" stop-color="#6175a5"/><stop offset=".5817" stop-color="#6586a4"/><stop offset=".5856" stop-color="#6995a4"/><stop offset=".5887" stop-color="#6da7a3"/><stop offset=".5927" stop-color="#87bba6"/><stop offset=".595" stop-color="#8ebfa7"/><stop offset=".5974" stop-color="#87bba6"/><stop offset=".6013" stop-color="#6eaaa3"/><stop offset=".6044" stop-color="#6a9ba4"/><stop offset=".6083" stop-color="#678fa4"/><stop offset=".6185" stop-color="#6586a4"/><stop offset=".6358" stop-color="#678fa4"/><stop offset=".6569" stop-color="#6eaba3"/><stop offset=".6703" stop-color="#83b8a6"/><stop offset=".6797" stop-color="#89bca7"/><stop offset=".6891" stop-color="#82b8a6"/><stop offset=".7016" stop-color="#6eaaa3"/><stop offset=".7189" stop-color="#6891a4"/><stop offset=".7346" stop-color="#6480a5"/><stop offset=".7753" stop-color="#5f6ba5"/><stop offset=".8608" stop-color="#5d60a6"/><stop offset=".9995" stop-color="#5d61a6"/></linearGradient>
<linearGradient id="h97" x1="0" y1="0" x2="0" y2="1"><stop offset="0" stop-color="#6278a5"/><stop offset=".0361" stop-color="#678ea4"/><stop offset=".0588" stop-color="#6eaba3"/><stop offset=".0651" stop-color="#81b7a6"/><stop offset=".0698" stop-color="#95c3a8"/><stop offset=".0737" stop-color="#add2ac"/><stop offset=".0776" stop-color="#cde6af"/><stop offset=".0862" stop-color="#fad795"/><stop offset=".0886" stop-color="#f8cf8f"/><stop offset=".0917" stop-color="#f9d796"/><stop offset=".1003" stop-color="#cee5af"/><stop offset=".105" stop-color="#add2ac"/><stop offset=".109" stop-color="#99c6a9"/><stop offset=".1199" stop-color="#79b2a4"/><stop offset=".1262" stop-color="#6eaaa3"/><stop offset=".156" stop-color="#678ea4"/><stop offset=".2038" stop-color="#6175a5"/><stop offset=".2705" stop-color="#5e67a6"/><stop offset=".3904" stop-color="#5d61a6"/><stop offset=".519" stop-color="#5d63a6"/><stop offset=".5558" stop-color="#5f69a6"/><stop offset=".5746" stop-color="#6175a5"/><stop offset=".5833" stop-color="#6586a4"/><stop offset=".5864" stop-color="#6892a4"/><stop offset=".5903" stop-color="#6da9a3"/><stop offset=".5934" stop-color="#82b8a6"/><stop offset=".5958" stop-color="#8abca7"/><stop offset=".5981" stop-color="#83b8a6"/><stop offset=".6013" stop-color="#6eaba3"/><stop offset=".6021" stop-color="#6da7a3"/><stop offset=".6052" stop-color="#6998a4"/><stop offset=".6091" stop-color="#678ca4"/><stop offset=".6201" stop-color="#6583a5"/><stop offset=".6381" stop-color="#678da4"/><stop offset=".6609" stop-color="#6eaba3"/><stop offset=".6734" stop-color="#81b7a6"/><stop offset=".6828" stop-color="#86baa6"/><stop offset=".6914" stop-color="#81b7a6"/><stop offset=".7032" stop-color="#6eaba3"/><stop offset=".7212" stop-color="#6890a4"/><stop offset=".7369" stop-color="#6480a5"/><stop offset=".7777" stop-color="#5f6ba6"/><stop offset=".86" stop-color="#5c60a6"/><stop offset=".9995" stop-color="#5c60a6"/></linearGradient>
<linearGradient id="h98" x1="0" y1="0" x2="0" y2="1"><stop offset="0" stop-color="#6278a5"/><stop offset=".0376" stop-color="#678ea4"/><stop offset=".051" stop-color="#6a9ca4"/><stop offset=".0611" stop-color="#6faba3"/><stop offset=".0666" stop-color="#7fb5a5"/><stop offset=".0713" stop-color="#92c2a8"/><stop offset=".0753" stop-color="#aad1ab"/><stop offset=".0792" stop-color="#cbe5b0"/><stop offset=".0862" stop-color="#f2da9a"/><stop offset=".0886" stop-color="#fad795"/><stop offset=".0902" stop-color="#f9d392"/><stop offset=".0925" stop-color="#f8d896"/><stop offset=".1011" stop-color="#cee5af"/><stop offset=".105" stop-color="#b1d5ac"/><stop offset=".109" stop-color="#9cc8a9"/><stop offset=".1192" stop-color="#7bb3a5"/><stop offset=".1262" stop-color="#6eaba3"/><stop offset=".156" stop-color="#678fa4"/><stop offset=".2046" stop-color="#6175a5"/><stop offset=".2712" stop-color="#5e68a6"/><stop offset=".3904" stop-color="#5d61a6"/><stop offset=".5205" stop-color="#5d63a6"/><stop offset=".5566" stop-color="#5e69a6"/><stop offset=".5754" stop-color="#6173a5"/><stop offset=".5848" stop-color="#6586a4"/><stop offset=".588" stop-color="#6893a4"/><stop offset=".5919" stop-color="#6eaaa3"/><stop offset=".595" stop-color="#81b7a6"/><stop offset=".5966" stop-color="#85b9a6"/><stop offset=".5981" stop-color="#82b8a6"/><stop offset=".6021" stop-color="#6da8a3"/><stop offset=".6052" stop-color="#6a98a4"/><stop offset=".6091" stop-color="#678ba4"/><stop offset=".6146" stop-color="#6583a5"/><stop offset=".6217" stop-color="#6481a5"/><stop offset=".6413" stop-color="#678ca4"/><stop offset=".6648" stop-color="#6eaba3"/><stop offset=".6765" stop-color="#80b6a5"/><stop offset=".686" stop-color="#85b9a6"/><stop offset=".6946" stop-color="#7fb6a5"/><stop offset=".7056" stop-color="#6eaba3"/><stop offset=".7236" stop-color="#6890a4"/><stop offset=".7393" stop-color="#647fa5"/><stop offset=".7792" stop-color="#5f6ba6"/><stop offset=".8584" stop-color="#5c60a6"/><stop offset=".9995" stop-color="#5c5ea6"/></linearGradient>
<linearGradient id="h99" x1="0" y1="0" x2="0" y2="1"><stop offset="0" stop-color="#6277a5"/><stop offset=".0384" stop-color="#678da4"/><stop offset=".0525" stop-color="#6a9ba4"/><stop offset=".0627" stop-color="#6eaba3"/><stop offset=".069" stop-color="#80b6a5"/><stop offset=".0737" stop-color="#94c3a8"/><stop offset=".0776" stop-color="#add2ac"/><stop offset=".0815" stop-color="#cee5af"/><stop offset=".0886" stop-color="#f4d999"/><stop offset=".0917" stop-color="#fad795"/><stop offset=".0949" stop-color="#f2da9a"/><stop offset=".1019" stop-color="#cee5af"/><stop offset=".1058" stop-color="#b0d4ac"/><stop offset=".109" stop-color="#9ec9aa"/><stop offset=".1184" stop-color="#7eb5a5"/><stop offset=".127" stop-color="#6eaba3"/><stop offset=".1552" stop-color="#6890a4"/><stop offset=".2046" stop-color="#6276a5"/><stop offset=".2705" stop-color="#5e68a6"/><stop offset=".3888" stop-color="#5d61a6"/><stop offset=".5213" stop-color="#5d63a6"/><stop offset=".5582" stop-color="#5e68a6"/><stop offset=".577" stop-color="#6173a5"/><stop offset=".5856" stop-color="#6584a5"/><stop offset=".5887" stop-color="#6890a4"/><stop offset=".5927" stop-color="#6da7a3"/><stop offset=".595" stop-color="#79b2a5"/><stop offset=".5974" stop-color="#80b7a6"/><stop offset=".5989" stop-color="#7eb5a5"/><stop offset=".6021" stop-color="#6ea9a3"/><stop offset=".606" stop-color="#6995a4"/><stop offset=".6099" stop-color="#6689a4"/><stop offset=".6154" stop-color="#6481a5"/><stop offset=".6225" stop-color="#647ea5"/><stop offset=".6436" stop-color="#668aa4"/><stop offset=".6687" stop-color="#6eaba3"/><stop offset=".6797" stop-color="#7fb5a5"/><stop offset=".6891" stop-color="#83b8a6"/><stop offset=".6969" stop-color="#7eb5a5"/><stop offset=".7079" stop-color="#6eaba3"/><stop offset=".7259" stop-color="#6890a4"/><stop offset=".7416" stop-color="#647fa5"/><stop offset=".7816" stop-color="#5f6ba6"/><stop offset=".8608" stop-color="#5c60a6"/><stop offset=".9995" stop-color="#5c5ea6"/></linearGradient>
<linearGradient id="h100" x1="0" y1="0" x2="0" y2="1"><stop offset="0" stop-color="#6277a5"/><stop offset=".04" stop-color="#678da4"/><stop offset=".0549" stop-color="#6a9ca4"/><stop offset=".0651" stop-color="#6eaba3"/><stop offset=".0706" stop-color="#7eb5a5"/><stop offset=".0753" stop-color="#92c1a8"/><stop offset=".0792" stop-color="#aad1ab"/><stop offset=".0831" stop-color="#cce6b0"/><stop offset=".0894" stop-color="#efdb9b"/><stop offset=".0925" stop-color="#f7d896"/><stop offset=".0956" stop-color="#f2da9a"/><stop offset=".1027" stop-color="#cde6af"/><stop offset=".1066" stop-color="#afd3ac"/><stop offset=".1098" stop-color="#9cc8a9"/><stop offset=".1137" stop-color="#8cbea7"/><stop offset=".1192" stop-color="#7db4a5"/><stop offset=".1278" stop-color="#6eaaa3"/><stop offset=".156" stop-color="#6890a4"/><stop offset=".2062" stop-color="#6276a5"/><stop offset=".2728" stop-color="#5e68a6"/><stop offset=".3912" stop-color="#5d61a6"/><stop offset=".5237" stop-color="#5d63a6"/><stop offset=".5597" stop-color="#5e68a6"/><stop offset=".5778" stop-color="#6172a5"/><stop offset=".5872" stop-color="#6584a5"/><stop offset=".5942" stop-color="#6da8a3"/><stop offset=".5981" stop-color="#7cb4a5"/><stop offset=".6021" stop-color="#6eaaa3"/><stop offset=".6068" stop-color="#6892a4"/><stop offset=".6107" stop-color="#6586a4"/><stop offset=".6162" stop-color="#647fa5"/><stop offset=".624" stop-color="#637ca5"/><stop offset=".646" stop-color="#6689a4"/><stop offset=".6718" stop-color="#6eaaa3"/><stop offset=".6836" stop-color="#7fb5a5"/><stop offset=".6922" stop-color="#83b8a6"/><stop offset=".7001" stop-color="#7db5a5"/><stop offset=".7103" stop-color="#6eaba3"/><stop offset=".7291" stop-color="#688fa4"/><stop offset=".744" stop-color="#647fa5"/><stop offset=".7839" stop-color="#5f6aa6"/><stop offset=".8647" stop-color="#5c60a6"/><stop offset=".9995" stop-color="#5c5ea6"/></linearGradient>
<linearGradient id="h101" x1="0" y1="0" x2="0" y2="1"><stop offset="0" stop-color="#6276a5"/><stop offset=".0415" stop-color="#678da4"/><stop offset=".0564" stop-color="#6a9ba4"/><stop offset=".0674" stop-color="#6faca3"/><stop offset=".0729" stop-color="#7fb6a5"/><stop offset=".0776" stop-color="#94c3a8"/><stop offset=".0815" stop-color="#aed3ac"/><stop offset=".0847" stop-color="#cbe5b0"/><stop offset=".0909" stop-color="#eedb9c"/><stop offset=".0941" stop-color="#f5d998"/><stop offset=".0972" stop-color="#eedb9c"/><stop offset=".1035" stop-color="#cce6b0"/><stop offset=".1066" stop-color="#b2d6ac"/><stop offset=".1105" stop-color="#9bc7a9"/><stop offset=".1192" stop-color="#7eb5a5"/><stop offset=".1278" stop-color="#6eaba3"/><stop offset=".156" stop-color="#6891a4"/><stop offset=".2062" stop-color="#6277a5"/><stop offset=".2736" stop-color="#5e68a6"/><stop offset=".392" stop-color="#5d61a6"/><stop offset=".526" stop-color="#5d62a6"/><stop offset=".5621" stop-color="#5e68a6"/><stop offset=".5793" stop-color="#6171a5"/><stop offset=".588" stop-color="#6482a5"/><stop offset=".5966" stop-color="#70ada3"/><stop offset=".5989" stop-color="#77b1a4"/><stop offset=".6021" stop-color="#6eaaa3"/><stop offset=".6068" stop-color="#6892a4"/><stop offset=".6115" stop-color="#6584a5"/><stop offset=".617" stop-color="#637da5"/><stop offset=".6248" stop-color="#637aa5"/><stop offset=".6483" stop-color="#6687a4"/><stop offset=".675" stop-color="#6eaaa3"/><stop offset=".6867" stop-color="#7fb5a5"/><stop offset=".6954" stop-color="#82b8a6"/><stop offset=".7032" stop-color="#7db4a5"/><stop offset=".7134" stop-color="#6eaaa3"/><stop offset=".7314" stop-color="#6890a4"/><stop offset=".7463" stop-color="#6480a5"/><stop offset=".7863" stop-color="#5f6aa6"/><stop offset=".8678" stop-color="#5c5fa6"/><stop offset=".9995" stop-color="#5c5ea6"/></linearGradient>
<linearGradient id="h102" x1="0" y1="0" x2="0" y2="1"><stop offset="0" stop-color="#6276a5"/><stop offset=".0423" stop-color="#678ca4"/><stop offset=".058" stop-color="#6a9ba4"/><stop offset=".069" stop-color="#6eaba3"/><stop offset=".0745" stop-color="#7db5a5"/><stop offset=".0792" stop-color="#92c2a8"/><stop offset=".0831" stop-color="#acd2ac"/><stop offset=".0862" stop-color="#c9e4b0"/><stop offset=".0917" stop-color="#eadc9e"/><stop offset=".0949" stop-color="#f3d999"/><stop offset=".098" stop-color="#eddb9d"/><stop offset=".1043" stop-color="#cbe5b0"/><stop offset=".1074" stop-color="#b0d4ac"/><stop offset=".1105" stop-color="#9cc8a9"/><stop offset=".1145" stop-color="#8cbea7"/><stop offset=".1199" stop-color="#7cb4a5"/><stop offset=".1278" stop-color="#6eaba3"/><stop offset=".1568" stop-color="#6891a4"/><stop offset=".2077" stop-color="#6277a5"/><stop offset=".2759" stop-color="#5e69a6"/><stop offset=".3951" stop-color="#5d61a6"/><stop offset=".5292" stop-color="#5d62a6"/><stop offset=".5629" stop-color="#5e67a6"/><stop offset=".5801" stop-color="#6070a5"/><stop offset=".5887" stop-color="#6480a5"/><stop offset=".5974" stop-color="#6eaaa3"/><stop offset=".5997" stop-color="#73aea4"/><stop offset=".6021" stop-color="#6eaaa3"/><stop offset=".6076" stop-color="#678fa4"/><stop offset=".6123" stop-color="#6481a5"/><stop offset=".6185" stop-color="#637aa5"/><stop offset=".6264" stop-color="#6279a5"/><stop offset=".6515" stop-color="#6587a4"/><stop offset=".6781" stop-color="#6eaaa3"/><stop offset=".6891" stop-color="#7eb5a5"/><stop offset=".6977" stop-color="#83b8a6"/><stop offset=".7056" stop-color="#7eb5a5"/><stop offset=".7165" stop-color="#6eaaa3"/><stop offset=".7338" stop-color="#6890a4"/><stop offset=".7487" stop-color="#6480a5"/><stop offset=".7879" stop-color="#5f6ba6"/><stop offset=".8694" stop-color="#5c5fa6"/><stop offset=".9995" stop-color="#5c5ea6"/></linearGradient>
<linearGradient id="h103" x1="0" y1="0" x2="0" y2="1"><stop offset="0" stop-color="#6175a5"/><stop offset=".0447" stop-color="#678da4"/><stop offset=".0604" stop-color="#6a9ba4"/><stop offset=".0713" stop-color="#6faba3"/><stop offset=".0768" stop-color="#7fb6a5"/><stop offset=".0807" stop-color="#90c1a8"/><stop offset=".0847" stop-color="#abd1ab"/><stop offset=".0878" stop-color="#c9e4b0"/><stop offset=".0933" stop-color="#eadc9e"/><stop offset=".0964" stop-color="#f2da9a"/><stop offset=".0988" stop-color="#ecdc9d"/><stop offset=".1043" stop-color="#cee5af"/><stop offset=".1082" stop-color="#add3ac"/><stop offset=".1113" stop-color="#9ac7a9"/><stop offset=".1152" stop-color="#8abca7"/><stop offset=".1199" stop-color="#7db4a5"/><stop offset=".1286" stop-color="#6eaba3"/><stop offset=".1568" stop-color="#6892a4"/><stop offset=".2085" stop-color="#6278a5"/><stop offset=".2775" stop-color="#5f69a6"/><stop offset=".3975" stop-color="#5d61a6"/><stop offset=".5323" stop-color="#5d62a6"/><stop offset=".5652" stop-color="#5e67a6"/><stop offset=".5817" stop-color="#6070a5"/><stop offset=".5903" stop-color="#6480a5"/><stop offset=".5997" stop-color="#6eaba3"/><stop offset=".6021" stop-color="#6da8a3"/><stop offset=".6083" stop-color="#678ba4"/><stop offset=".613" stop-color="#647ea5"/><stop offset=".6193" stop-color="#6278a5"/><stop offset=".6279" stop-color="#6277a5"/><stop offset=".6546" stop-color="#6586a4"/><stop offset=".6812" stop-color="#6eaaa3"/><stop offset=".6922" stop-color="#7eb5a5"/><stop offset=".7008" stop-color="#83b8a6"/><stop offset=".7087" stop-color="#7eb5a5"/><stop offset=".7189" stop-color="#6eaba3"/><stop offset=".7361" stop-color="#6891a4"/><stop offset=".751" stop-color="#6480a5"/><stop offset=".7902" stop-color="#5f6aa6"/><stop offset=".8717" stop-color="#5c5fa6"/><stop offset=".9995" stop-color="#5c5ea6"/></linearGradient>
<linearGradient id="h104" x1="0" y1="0" x2="0" y2="1"><stop offset="0" stop-color="#6175a5"/><stop offset=".0455" stop-color="#678ca4"/><stop offset=".0619" stop-color="#6a9ba4"/><stop offset=".0729" stop-color="#6eaba3"/><stop offset=".0784" stop-color="#7eb5a5"/><stop offset=".0823" stop-color="#8fc0a8"/><stop offset=".0862" stop-color="#aad1ab"/><stop offset=".0894" stop-color="#c9e4b0"/><stop offset=".0941" stop-color="#e6dda0"/><stop offset=".0972" stop-color="#f0da9b"/><stop offset=".1003" stop-color="#e8dda0"/><stop offset=".105" stop-color="#cde6af"/><stop offset=".1082" stop-color="#b1d5ac"/><stop offset=".1113" stop-color="#9cc8a9"/><stop offset=".1152" stop-color="#8abda7"/><stop offset=".1199" stop-color="#7db4a5"/><stop offset=".1286" stop-color="#6eaba3"/><stop offset=".1568" stop-color="#6893a4"/><stop offset=".2093" stop-color="#6278a5"/><stop offset=".2791" stop-color="#5f6aa6"/><stop offset=".3998" stop-color="#5d61a6"/><stop offset=".5362" stop-color="#5d62a6"/><stop offset=".5676" stop-color="#5e66a6"/><stop offset=".5833" stop-color="#606fa5"/><stop offset=".5911" stop-color="#647ea5"/><stop offset=".6005" stop-color="#6da7a3"/><stop offset=".6029" stop-color="#6ca4a3"/><stop offset=".6091" stop-color="#6687a4"/><stop offset=".6138" stop-color="#637ba5"/><stop offset=".6209" stop-color="#6175a5"/><stop offset=".6303" stop-color="#6175a5"/><stop offset=".6577" stop-color="#6585a4"/><stop offset=".6844" stop-color="#6eaaa3"/><stop offset=".6961" stop-color="#80b6a6"/><stop offset=".704" stop-color="#84b9a6"/><stop offset=".7118" stop-color="#7fb6a5"/><stop offset=".722" stop-color="#6eaba3"/><stop offset=".7393" stop-color="#6890a4"/><stop offset=".7534" stop-color="#6480a5"/><stop offset=".7918" stop-color="#5f6aa6"/><stop offset=".8733" stop-color="#5c5fa6"/><stop offset=".9995" stop-color="#5c5ea6"/></linearGradient>
<linearGradient id="h105" x1="0" y1="0" x2="0" y2="1"><stop offset="0" stop-color="#6174a5"/><stop offset=".0463" stop-color="#678ca4"/><stop offset=".0635" stop-color="#6a9ba4"/><stop offset=".0745" stop-color="#6eaaa3"/><stop offset=".0792" stop-color="#7ab3a5"/><stop offset=".0839" stop-color="#8fbfa8"/><stop offset=".0878" stop-color="#aad1ab"/><stop offset=".0909" stop-color="#cae5b0"/><stop offset=".0956" stop-color="#e7dda0"/><stop offset=".098" stop-color="#eedb9c"/><stop offset=".1011" stop-color="#e7dda0"/><stop offset=".1058" stop-color="#cbe5b0"/><stop offset=".109" stop-color="#add3ac"/><stop offset=".1121" stop-color="#99c6a9"/><stop offset=".1199" stop-color="#7db5a5"/><stop offset=".1294" stop-color="#6eaaa3"/><stop offset=".156" stop-color="#6995a4"/><stop offset=".2093" stop-color="#6279a5"/><stop offset=".2807" stop-color="#5f6aa6"/><stop offset=".4022" stop-color="#5d61a6"/><stop offset=".5394" stop-color="#5d62a6"/><stop offset=".5691" stop-color="#5e66a6"/><stop offset=".584" stop-color="#606ea5"/><stop offset=".5919" stop-color="#637ca5"/><stop offset=".5989" stop-color="#6b9da4"/><stop offset=".6013" stop-color="#6ca3a3"/><stop offset=".6036" stop-color="#6b9fa3"/><stop offset=".6107" stop-color="#6481a5"/><stop offset=".617" stop-color="#6276a5"/><stop offset=".6279" stop-color="#6172a5"/><stop offset=".6444" stop-color="#6277a5"/><stop offset=".6656" stop-color="#6689a4"/><stop offset=".6875" stop-color="#6eaaa3"/><stop offset=".6993" stop-color="#81b7a6"/><stop offset=".7071" stop-color="#86baa6"/><stop offset=".715" stop-color="#80b6a6"/><stop offset=".7251" stop-color="#6eaba3"/><stop offset=".7416" stop-color="#6890a4"/><stop offset=".7557" stop-color="#647fa5"/><stop offset=".7926" stop-color="#5f6aa6"/><stop offset=".8749" stop-color="#5c5fa6"/><stop offset=".9995" stop-color="#5c5ea6"/></linearGradient>
<linearGradient id="h106" x1="0" y1="0" x2="0" y2="1"><stop offset="0" stop-color="#6174a5"/><stop offset=".0478" stop-color="#678ca4"/><stop offset=".0651" stop-color="#6a9ba4"/><stop offset=".0768" stop-color="#6faba3"/><stop offset=".0823" stop-color="#80b6a5"/><stop offset=".0862" stop-color="#93c2a8"/><stop offset=".0894" stop-color="#aad1ab"/><stop offset=".0925" stop-color="#cce6b0"/><stop offset=".0972" stop-color="#e8dda0"/><stop offset=".0996" stop-color="#ecdb9d"/><stop offset=".1019" stop-color="#e5dea1"/><stop offset=".1058" stop-color="#cee5af"/><stop offset=".109" stop-color="#b0d5ac"/><stop offset=".1121" stop-color="#9ac7a9"/><stop offset=".1152" stop-color="#8cbea7"/><stop offset=".1199" stop-color="#7eb5a5"/><stop offset=".1294" stop-color="#6eaba3"/><stop offset=".1552" stop-color="#6996a4"/><stop offset=".2093" stop-color="#637ba5"/><stop offset=".283" stop-color="#5f6ba5"/><stop offset=".4045" stop-color="#5d61a6"/><stop offset=".5425" stop-color="#5d62a6"/><stop offset=".5715" stop-color="#5e66a6"/><stop offset=".5856" stop-color="#606da5"/><stop offset=".5927" stop-color="#637aa5"/><stop offset=".5997" stop-color="#6a9aa4"/><stop offset=".6021" stop-color="#6b9fa3"/><stop offset=".6044" stop-color="#6a9aa4"/><stop offset=".6115" stop-color="#637da5"/><stop offset=".6177" stop-color="#6173a5"/><stop offset=".6295" stop-color="#6070a5"/><stop offset=".6475" stop-color="#6276a5"/><stop offset=".6695" stop-color="#6688a4"/><stop offset=".6907" stop-color="#6eaaa3"/><stop offset=".7024" stop-color="#83b8a6"/><stop offset=".7103" stop-color="#88bba7"/><stop offset=".7181" stop-color="#81b7a6"/><stop offset=".7283" stop-color="#6eaba3"/><stop offset=".744" stop-color="#6890a4"/><stop offset=".7573" stop-color="#647fa5"/><stop offset=".7934" stop-color="#5f6aa6"/><stop offset=".8757" stop-color="#5c5ea6"/><stop offset=".9995" stop-color="#5c5ea6"/></linearGradient>
<linearGradient id="h107" x1="0" y1="0" x2="0" y2="1"><stop offset="0" stop-color="#6174a5"/><stop offset=".0486" stop-color="#678ca4"/><stop offset=".0666" stop-color="#6a9ba4"/><stop offset=".0784" stop-color="#6faba3"/><stop offset=".0839" stop-color="#7fb6a5"/><stop offset=".0878" stop-color="#93c2a8"/><stop offset=".0909" stop-color="#acd2ac"/><stop offset=".0941" stop-color="#cee5af"/><stop offset=".098" stop-color="#e6dea1"/><stop offset=".1003" stop-color="#ebdc9e"/><stop offset=".1027" stop-color="#e4dea2"/><stop offset=".1066" stop-color="#cce6b0"/><stop offset=".109" stop-color="#b3d7ad"/><stop offset=".1121" stop-color="#9cc8a9"/><stop offset=".1152" stop-color="#8cbea7"/><stop offset=".1199" stop-color="#7eb5a5"/><stop offset=".1301" stop-color="#6eaba3"/><stop offset=".1544" stop-color="#6998a4"/><stop offset=".2101" stop-color="#637ca5"/><stop offset=".2854" stop-color="#5f6ca5"/><stop offset=".4077" stop-color="#5d62a6"/><stop offset=".5464" stop-color="#5d62a6"/><stop offset=".5731" stop-color="#5e65a6"/><stop offset=".5864" stop-color="#5f6ca5"/><stop offset=".5934" stop-color="#6278a5"/><stop offset=".6005" stop-color="#6996a4"/><stop offset=".6029" stop-color="#6a9ba4"/><stop offset=".6115" stop-color="#637ca5"/><stop offset=".6185" stop-color="#6071a5"/><stop offset=".6319" stop-color="#606ea5"/><stop offset=".6507" stop-color="#6175a5"/><stop offset=".6726" stop-color="#6687a4"/><stop offset=".6938" stop-color="#6eaaa3"/><stop offset=".7056" stop-color="#85b9a6"/><stop offset=".7134" stop-color="#8abca7"/><stop offset=".7212" stop-color="#83b8a6"/><stop offset=".7314" stop-color="#6eaaa3"/><stop offset=".7455" stop-color="#6891a4"/><stop offset=".7589" stop-color="#647fa5"/><stop offset=".7745" stop-color="#6173a5"/><stop offset=".7941" stop-color="#5f6aa6"/><stop offset=".8757" stop-color="#5c5ea6"/><stop offset=".9995" stop-color="#5c5ea6"/></linearGradient>
<linearGradient id="h108" x1="0" y1="0" x2="0" y2="1"><stop offset="0" stop-color="#6173a5"/><stop offset=".0494" stop-color="#678ba4"/><stop offset=".0682" stop-color="#6a9ba4"/><stop offset=".08" stop-color="#6faba3"/><stop offset=".0847" stop-color="#7db4a5"/><stop offset=".0886" stop-color="#8fc0a8"/><stop offset=".0917" stop-color="#a6ceab"/><stop offset=".0949" stop-color="#c9e4b0"/><stop offset=".0988" stop-color="#e3dea2"/><stop offset=".1011" stop-color="#e9dd9f"/><stop offset=".1035" stop-color="#e2dfa3"/><stop offset=".1066" stop-color="#cee5af"/><stop offset=".1098" stop-color="#afd4ac"/><stop offset=".1121" stop-color="#9dc9aa"/><stop offset=".1152" stop-color="#8dbea7"/><stop offset=".1192" stop-color="#80b6a6"/><stop offset=".1301" stop-color="#6eaba3"/><stop offset=".1529" stop-color="#6a9aa4"/><stop offset=".2093" stop-color="#637da5"/><stop offset=".2877" stop-color="#5f6da5"/><stop offset=".41" stop-color="#5d62a6"/><stop offset=".5503" stop-color="#5d61a6"/><stop offset=".5754" stop-color="#5e65a6"/><stop offset=".588" stop-color="#5f6ca5"/><stop offset=".5942" stop-color="#6277a5"/><stop offset=".6029" stop-color="#6997a4"/><stop offset=".6052" stop-color="#6893a4"/><stop offset=".6123" stop-color="#6278a5"/><stop offset=".6193" stop-color="#606fa5"/><stop offset=".6342" stop-color="#5f6da5"/><stop offset=".6554" stop-color="#6174a5"/><stop offset=".6773" stop-color="#6688a4"/><stop offset=".6969" stop-color="#6eaaa3"/><stop offset=".7087" stop-color="#86baa6"/><stop offset=".7165" stop-color="#8cbea7"/><stop offset=".7236" stop-color="#85baa6"/><stop offset=".7346" stop-color="#6eaaa3"/><stop offset=".7479" stop-color="#6890a4"/><stop offset=".7612" stop-color="#647fa5"/><stop offset=".7949" stop-color="#5f6aa6"/><stop offset=".8702" stop-color="#5c5ea6"/><stop offset=".9995" stop-color="#5c5ea6"/></linearGradient>
<linearGradient id="h109" x1="0" y1="0" x2="0" y2="1"><stop offset="0" stop-color="#6173a5"/><stop offset=".0502" stop-color="#668ba4"/><stop offset=".0698" stop-color="#6a9ba4"/><stop offset=".0815" stop-color="#6eaba3"/><stop offset=".0862" stop-color="#7db4a5"/><stop offset=".0902" stop-color="#90c0a8"/><stop offset=".0933" stop-color="#a9d0ab"/><stop offset=".0964" stop-color="#cde6b0"/><stop offset=".0996" stop-color="#e0dfa4"/><stop offset=".1019" stop-color="#e6dda1"/><stop offset=".1043" stop-color="#dfe0a5"/><stop offset=".1074" stop-color="#cbe5b0"/><stop offset=".1098" stop-color="#b1d5ac"/><stop offset=".1129" stop-color="#99c6a9"/><stop offset=".1192" stop-color="#80b6a5"/><stop offset=".1301" stop-color="#6eaba3"/><stop offset=".1505" stop-color="#6b9ca4"/><stop offset=".2085" stop-color="#647fa5"/><stop offset=".2877" stop-color="#606ea5"/><stop offset=".4116" stop-color="#5d62a6"/><stop offset=".5542" stop-color="#5d61a6"/><stop offset=".577" stop-color="#5d64a6"/><stop offset=".5887" stop-color="#5f6aa6"/><stop offset=".595" stop-color="#6175a5"/><stop offset=".6013" stop-color="#678da4"/><stop offset=".6036" stop-color="#6892a4"/><stop offset=".6123" stop-color="#6277a5"/><stop offset=".6201" stop-color="#5f6ca5"/><stop offset=".6373" stop-color="#5f6ba5"/><stop offset=".6593" stop-color="#6173a5"/><stop offset=".6812" stop-color="#6687a4"/><stop offset=".7001" stop-color="#6eaaa3"/><stop offset=".711" stop-color="#87bba7"/><stop offset=".7189" stop-color="#8fc0a8"/><stop offset=".7267" stop-color="#87bba6"/><stop offset=".7369" stop-color="#6eaba3"/><stop offset=".7495" stop-color="#6891a4"/><stop offset=".762" stop-color="#647fa5"/><stop offset=".7769" stop-color="#6172a5"/><stop offset=".7957" stop-color="#5f69a6"/><stop offset=".8647" stop-color="#5c5ea6"/><stop offset=".9995" stop-color="#5c5ea6"/></linearGradient>
<linearGradient id="h110" x1="0" y1="0" x2="0" y2="1"><stop offset="0" stop-color="#6172a5"/><stop offset=".0525" stop-color="#668ba4"/><stop offset=".0721" stop-color="#6a9ba4"/><stop offset=".0839" stop-color="#6faba3"/><stop offset=".0886" stop-color="#7eb5a5"/><stop offset=".0917" stop-color="#8fc0a8"/><stop offset=".0949" stop-color="#aad1ab"/><stop offset=".098" stop-color="#cee5af"/><stop offset=".1003" stop-color="#dde0a6"/><stop offset=".1027" stop-color="#e3dfa3"/><stop offset=".1043" stop-color="#dee0a5"/><stop offset=".1074" stop-color="#cbe6b0"/><stop offset=".1098" stop-color="#b0d5ac"/><stop offset=".1121" stop-color="#9cc8a9"/><stop offset=".1152" stop-color="#8bbda7"/><stop offset=".1184" stop-color="#80b6a5"/><stop offset=".1286" stop-color="#6eaba3"/><stop offset=".1458" stop-color="#6b9fa3"/><stop offset=".2054" stop-color="#6481a5"/><stop offset=".2846" stop-color="#606fa5"/><stop offset=".4116" stop-color="#5d63a6"/><stop offset=".5582" stop-color="#5d61a6"/><stop offset=".5895" stop-color="#5f69a6"/><stop offset=".5958" stop-color="#6173a5"/><stop offset=".6036" stop-color="#678da4"/><stop offset=".606" stop-color="#668aa4"/><stop offset=".613" stop-color="#6173a5"/><stop offset=".6209" stop-color="#5f6aa6"/><stop offset=".6397" stop-color="#5f6aa6"/><stop offset=".6632" stop-color="#6172a5"/><stop offset=".6844" stop-color="#6586a4"/><stop offset=".7032" stop-color="#6eaaa3"/><stop offset=".715" stop-color="#8bbda7"/><stop offset=".722" stop-color="#92c1a8"/><stop offset=".7291" stop-color="#8abda7"/><stop offset=".74" stop-color="#6eaaa3"/><stop offset=".7526" stop-color="#678fa4"/><stop offset=".7643" stop-color="#647ea5"/><stop offset=".7785" stop-color="#6172a5"/><stop offset=".7965" stop-color="#5f69a6"/><stop offset=".8584" stop-color="#5c5ea6"/><stop offset=".9995" stop-color="#5c5ea6"/></linearGradient>
<linearGradient id="h111" x1="0" y1="0" x2="0" y2="1"><stop offset="0" stop-color="#6071a5"/><stop offset=".0557" stop-color="#668aa4"/><stop offset=".0753" stop-color="#6a9aa4"/><stop offset=".0862" stop-color="#6eaba3"/><stop offset=".0902" stop-color="#7cb4a5"/><stop offset=".0933" stop-color="#8ebfa7"/><stop offset=".0956" stop-color="#a2ccaa"/><stop offset=".0988" stop-color="#c9e4b0"/><stop offset=".1011" stop-color="#d9e2a8"/><stop offset=".1035" stop-color="#dee0a6"/><stop offset=".105" stop-color="#d9e2a8"/><stop offset=".1074" stop-color="#cae5b0"/><stop offset=".1098" stop-color="#aed3ac"/><stop offset=".1121" stop-color="#99c6a9"/><stop offset=".1176" stop-color="#7eb5a5"/><stop offset=".1254" stop-color="#6eaba3"/><stop offset=".1403" stop-color="#6ba0a3"/><stop offset=".2015" stop-color="#6482a5"/><stop offset=".2783" stop-color="#6071a5"/><stop offset=".4108" stop-color="#5e65a6"/><stop offset=".5621" stop-color="#5d61a6"/><stop offset=".5911" stop-color="#5e69a6"/><stop offset=".5966" stop-color="#6172a5"/><stop offset=".6044" stop-color="#6689a4"/><stop offset=".6138" stop-color="#6070a5"/><stop offset=".6217" stop-color="#5e69a6"/><stop offset=".6436" stop-color="#5e69a6"/><stop offset=".6679" stop-color="#6172a5"/><stop offset=".6891" stop-color="#6586a4"/><stop offset=".7063" stop-color="#6eaaa3"/><stop offset=".7181" stop-color="#8ebfa7"/><stop offset=".7251" stop-color="#95c3a8"/><stop offset=".7322" stop-color="#8bbda7"/><stop offset=".7424" stop-color="#6eaba3"/><stop offset=".7542" stop-color="#6890a4"/><stop offset=".7651" stop-color="#647fa5"/><stop offset=".7792" stop-color="#6172a5"/><stop offset=".7965" stop-color="#5f69a6"/><stop offset=".8537" stop-color="#5c5ea6"/><stop offset=".9995" stop-color="#5c5ea6"/></linearGradient>
<linearGradient id="h112" x1="0" y1="0" x2="0" y2="1"><stop offset="0" stop-color="#6070a5"/><stop offset=".0588" stop-color="#668aa4"/><stop offset=".0784" stop-color="#6a9aa4"/><stop offset=".0886" stop-color="#6eaba3"/><stop offset=".0917" stop-color="#7bb3a5"/><stop offset=".0949" stop-color="#8fbfa8"/><stop offset=".0972" stop-color="#a5ceab"/><stop offset=".1003" stop-color="#cde6af"/><stop offset=".1035" stop-color="#dae2a8"/><stop offset=".1066" stop-color="#cee5af"/><stop offset=".1113" stop-color="#9bc7a9"/><stop offset=".1137" stop-color="#8abda7"/><stop offset=".1168" stop-color="#7cb4a5"/><stop offset=".1231" stop-color="#6eaba3"/><stop offset=".1372" stop-color="#6b9fa3"/><stop offset=".1983" stop-color="#6583a5"/><stop offset=".2728" stop-color="#6172a5"/><stop offset=".4304" stop-color="#5e65a6"/><stop offset=".5668" stop-color="#5d61a6"/><stop offset=".5919" stop-color="#5e68a6"/><stop offset=".5966" stop-color="#606fa5"/><stop offset=".6044" stop-color="#6585a4"/><stop offset=".6138" stop-color="#606ea5"/><stop offset=".6232" stop-color="#5e67a6"/><stop offset=".6475" stop-color="#5e68a6"/><stop offset=".6718" stop-color="#6171a5"/><stop offset=".6922" stop-color="#6586a4"/><stop offset=".7087" stop-color="#6eaaa3"/><stop offset=".7204" stop-color="#91c1a8"/><stop offset=".7275" stop-color="#98c5a9"/><stop offset=".7338" stop-color="#8fc0a8"/><stop offset=".7447" stop-color="#6eaaa3"/><stop offset=".7557" stop-color="#6890a4"/><stop offset=".7667" stop-color="#647ea5"/><stop offset=".78" stop-color="#6171a5"/><stop offset=".7973" stop-color="#5e68a6"/><stop offset=".8498" stop-color="#5c5ea6"/><stop offset=".9995" stop-color="#5c5ea6"/></linearGradient>
<linearGradient id="h113" x1="0" y1="0" x2="0" y2="1"><stop offset="0" stop-color="#606fa5"/><stop offset=".0329" stop-color="#637aa5"/><stop offset=".0619" stop-color="#668aa4"/><stop offset=".0807" stop-color="#6a9aa4"/><stop offset=".0902" stop-color="#6eaba3"/><stop offset=".0933" stop-color="#7cb4a5"/><stop offset=".0956" stop-color="#8dbea7"/><stop offset=".098" stop-color="#a4cdab"/><stop offset=".1011" stop-color="#cce6b0"/><stop offset=".1035" stop-color="#d6e3aa"/><stop offset=".1066" stop-color="#cde6b0"/><stop offset=".1098" stop-color="#a6ceab"/><stop offset=".1121" stop-color="#91c1a8"/><stop offset=".1145" stop-color="#82b8a6"/><stop offset=".1176" stop-color="#76b0a4"/><stop offset=".1215" stop-color="#6eaaa3"/><stop offset=".1411" stop-color="#6a9ba4"/><stop offset=".2085" stop-color="#647fa5"/><stop offset=".3026" stop-color="#606fa5"/><stop offset=".4892" stop-color="#5d62a6"/><stop offset=".5684" stop-color="#5d61a6"/><stop offset=".5919" stop-color="#5e67a6"/><stop offset=".5966" stop-color="#5f6da5"/><stop offset=".6052" stop-color="#6482a5"/><stop offset=".6123" stop-color="#6070a5"/><stop offset=".617" stop-color="#5f69a6"/><stop offset=".6358" stop-color="#5e65a6"/><stop offset=".6624" stop-color="#5f6ba5"/><stop offset=".682" stop-color="#6277a5"/><stop offset=".6969" stop-color="#668aa4"/><stop offset=".7095" stop-color="#6da7a3"/><stop offset=".711" stop-color="#6faba3"/><stop offset=".722" stop-color="#93c2a8"/><stop offset=".7291" stop-color="#9bc7a9"/><stop offset=".7353" stop-color="#92c1a8"/><stop offset=".7463" stop-color="#6eaaa3"/><stop offset=".7565" stop-color="#6891a4"/><stop offset=".7675" stop-color="#647ea5"/><stop offset=".7808" stop-color="#6071a5"/><stop offset=".7973" stop-color="#5e68a6"/><stop offset=".8467" stop-color="#5c5ea6"/><stop offset=".9995" stop-color="#5c5ea6"/></linearGradient>
<linearGradient id="h114" x1="0" y1="0" x2="0" y2="1"><stop offset="0" stop-color="#606ea5"/><stop offset=".0337" stop-color="#6279a5"/><stop offset=".0627" stop-color="#6688a4"/><stop offset=".0815" stop-color="#6a98a4"/><stop offset=".0909" stop-color="#6ea9a3"/><stop offset=".0933" stop-color="#76b0a4"/><stop offset=".0964" stop-color="#8bbda7"/><stop offset=".0988" stop-color="#a4cdaa"/><stop offset=".1019" stop-color="#cce6b0"/><stop offset=".1043" stop-color="#d3e4ac"/><stop offset=".1058" stop-color="#cee5af"/><stop offset=".1066" stop-color="#c9e4b0"/><stop offset=".1098" stop-color="#a3ccaa"/><stop offset=".1121" stop-color="#8dbea7"/><stop offset=".1145" stop-color="#7eb5a5"/><stop offset=".1176" stop-color="#72aea4"/><stop offset=".1199" stop-color="#6eaaa3"/><stop offset=".1372" stop-color="#6a9ba4"/><stop offset=".2038" stop-color="#6480a5"/><stop offset=".2916" stop-color="#6070a5"/><stop offset=".5676" stop-color="#5d60a6"/><stop offset=".5927" stop-color="#5e67a6"/><stop offset=".6052" stop-color="#647fa5"/><stop offset=".617" stop-color="#5e68a6"/><stop offset=".6366" stop-color="#5e65a6"/><stop offset=".664" stop-color="#5f6ba6"/><stop offset=".6844" stop-color="#6277a5"/><stop offset=".6993" stop-color="#678ba4"/><stop offset=".7118" stop-color="#6eaaa3"/><stop offset=".7236" stop-color="#96c4a8"/><stop offset=".7299" stop-color="#9fcaaa"/><stop offset=".7369" stop-color="#94c3a8"/><stop offset=".7479" stop-color="#6eaaa3"/><stop offset=".7581" stop-color="#688fa4"/><stop offset=".7683" stop-color="#647ea5"/><stop offset=".7808" stop-color="#6171a5"/><stop offset=".7973" stop-color="#5e68a6"/><stop offset=".8443" stop-color="#5c5ea6"/><stop offset=".9995" stop-color="#5c5ea6"/></linearGradient>
<linearGradient id="h115" x1="0" y1="0" x2="0" y2="1"><stop offset="0" stop-color="#606da5"/><stop offset=".0353" stop-color="#6278a5"/><stop offset=".0659" stop-color="#6688a4"/><stop offset=".0839" stop-color="#6a98a4"/><stop offset=".0925" stop-color="#6eaaa3"/><stop offset=".0949" stop-color="#78b1a4"/><stop offset=".0972" stop-color="#8abda7"/><stop offset=".1027" stop-color="#cae5b0"/><stop offset=".1043" stop-color="#cfe5ae"/><stop offset=".1058" stop-color="#cbe6b0"/><stop offset=".1113" stop-color="#8fc0a8"/><stop offset=".1137" stop-color="#7eb5a5"/><stop offset=".1168" stop-color="#71ada3"/><stop offset=".1239" stop-color="#6ca2a3"/><stop offset=".1348" stop-color="#6a9aa4"/><stop offset=".2007" stop-color="#6480a5"/><stop offset=".2822" stop-color="#6172a5"/><stop offset=".5668" stop-color="#5d60a6"/><stop offset=".5927" stop-color="#5e66a6"/><stop offset=".6052" stop-color="#637ca5"/><stop offset=".617" stop-color="#5e67a6"/><stop offset=".6381" stop-color="#5d64a6"/><stop offset=".6656" stop-color="#5f6aa6"/><stop offset=".686" stop-color="#6276a5"/><stop offset=".7008" stop-color="#668aa4"/><stop offset=".7134" stop-color="#6eaaa3"/><stop offset=".7251" stop-color="#99c6a9"/><stop offset=".7314" stop-color="#a3ccaa"/><stop offset=".7377" stop-color="#99c6a9"/><stop offset=".7495" stop-color="#6eaaa3"/><stop offset=".7589" stop-color="#6890a4"/><stop offset=".769" stop-color="#637ea5"/><stop offset=".7816" stop-color="#6071a5"/><stop offset=".7973" stop-color="#5e68a6"/><stop offset=".842" stop-color="#5c5ea6"/><stop offset=".9995" stop-color="#5c5ea6"/></linearGradient>
<linearGradient id="h116" x1="0" y1="0" x2="0" y2="1"><stop offset="0" stop-color="#5f6ca5"/><stop offset=".0368" stop-color="#6277a5"/><stop offset=".069" stop-color="#6688a4"/><stop offset=".0854" stop-color="#6996a4"/><stop offset=".0941" stop-color="#6eaaa3"/><stop offset=".098" stop-color="#88bba7"/><stop offset=".1027" stop-color="#bfdeae"/><stop offset=".1043" stop-color="#c9e4b0"/><stop offset=".105" stop-color="#c8e4b0"/><stop offset=".1066" stop-color="#beddae"/><stop offset=".1098" stop-color="#99c6a9"/><stop offset=".1121" stop-color="#84b9a6"/><stop offset=".116" stop-color="#6faca3"/><stop offset=".1223" stop-color="#6ba0a3"/><stop offset=".1333" stop-color="#6a98a4"/><stop offset=".1983" stop-color="#647fa5"/><stop offset=".2744" stop-color="#6172a5"/><stop offset=".5668" stop-color="#5c60a6"/><stop offset=".5927" stop-color="#5e65a6"/><stop offset=".6052" stop-color="#627aa5"/><stop offset=".6177" stop-color="#5e66a6"/><stop offset=".6397" stop-color="#5d64a6"/><stop offset=".6679" stop-color="#5f6aa6"/><stop offset=".6883" stop-color="#6276a5"/><stop offset=".7024" stop-color="#6689a4"/><stop offset=".715" stop-color="#6eaaa3"/><stop offset=".7267" stop-color="#9dc8a9"/><stop offset=".733" stop-color="#a7cfab"/><stop offset=".7393" stop-color="#9cc8a9"/><stop offset=".751" stop-color="#6ea9a3"/><stop offset=".7604" stop-color="#678fa4"/><stop offset=".7698" stop-color="#637ea5"/><stop offset=".7816" stop-color="#6071a5"/><stop offset=".7973" stop-color="#5e68a6"/><stop offset=".8404" stop-color="#5c5ea6"/><stop offset=".9995" stop-color="#5c5ea6"/></linearGradient>
<linearGradient id="h117" x1="0" y1="0" x2="0" y2="1"><stop offset="0" stop-color="#5f6ba5"/><stop offset=".0376" stop-color="#6276a5"/><stop offset=".0706" stop-color="#6587a4"/><stop offset=".087" stop-color="#6995a4"/><stop offset=".0949" stop-color="#6da8a3"/><stop offset=".0972" stop-color="#78b1a4"/><stop offset=".1035" stop-color="#b9daad"/><stop offset=".105" stop-color="#beddae"/><stop offset=".1066" stop-color="#b5d8ad"/><stop offset=".1121" stop-color="#7eb5a5"/><stop offset=".1145" stop-color="#70aca3"/><stop offset=".116" stop-color="#6da8a3"/><stop offset=".1254" stop-color="#6a9aa4"/><stop offset=".1474" stop-color="#688fa4"/><stop offset=".1913" stop-color="#6480a5"/><stop offset=".2375" stop-color="#6276a5"/><stop offset=".5629" stop-color="#5c60a6"/><stop offset=".5919" stop-color="#5d63a6"/><stop offset=".5974" stop-color="#5e68a6"/><stop offset=".6052" stop-color="#6277a5"/><stop offset=".6138" stop-color="#5e68a6"/><stop offset=".6193" stop-color="#5d64a6"/><stop offset=".653" stop-color="#5e65a6"/><stop offset=".6765" stop-color="#5f6ca5"/><stop offset=".693" stop-color="#6278a5"/><stop offset=".7056" stop-color="#678ca4"/><stop offset=".7165" stop-color="#6eaba3"/><stop offset=".7283" stop-color="#a1cbaa"/><stop offset=".7346" stop-color="#abd2ab"/><stop offset=".7408" stop-color="#9ec9aa"/><stop offset=".7518" stop-color="#6eaba3"/><stop offset=".7604" stop-color="#6891a4"/><stop offset=".7698" stop-color="#647fa5"/><stop offset=".7816" stop-color="#6171a5"/><stop offset=".7973" stop-color="#5e68a6"/><stop offset=".838" stop-color="#5c5ea6"/><stop offset=".9995" stop-color="#5c5ea6"/></linearGradient>
<linearGradient id="h118" x1="0" y1="0" x2="0" y2="1"><stop offset="0" stop-color="#5f6aa6"/><stop offset=".0368" stop-color="#6174a5"/><stop offset=".0698" stop-color="#6584a5"/><stop offset=".0862" stop-color="#6890a4"/><stop offset=".0949" stop-color="#6ca2a3"/><stop offset=".0972" stop-color="#6faca3"/><stop offset=".0996" stop-color="#82b8a6"/><stop offset=".1035" stop-color="#acd2ac"/><stop offset=".105" stop-color="#b2d6ac"/><stop offset=".1066" stop-color="#abd1ab"/><stop offset=".1105" stop-color="#83b8a6"/><stop offset=".1137" stop-color="#6eaba3"/><stop offset=".1184" stop-color="#6b9ea4"/><stop offset=".1254" stop-color="#6996a4"/><stop offset=".1897" stop-color="#647fa5"/><stop offset=".2587" stop-color="#6173a5"/><stop offset=".4061" stop-color="#606ea5"/><stop offset=".5668" stop-color="#5c60a6"/><stop offset=".5927" stop-color="#5d63a6"/><stop offset=".606" stop-color="#6174a5"/><stop offset=".613" stop-color="#5e68a6"/><stop offset=".6193" stop-color="#5d64a6"/><stop offset=".6499" stop-color="#5d63a6"/><stop offset=".675" stop-color="#5f6aa6"/><stop offset=".693" stop-color="#6276a5"/><stop offset=".7063" stop-color="#668aa4"/><stop offset=".7173" stop-color="#6da9a3"/><stop offset=".7299" stop-color="#a6ceab"/><stop offset=".7353" stop-color="#b0d5ac"/><stop offset=".7385" stop-color="#add3ac"/><stop offset=".7416" stop-color="#a4cdaa"/><stop offset=".7534" stop-color="#6ea9a3"/><stop offset=".7612" stop-color="#6891a4"/><stop offset=".7706" stop-color="#637ea5"/><stop offset=".7816" stop-color="#6171a5"/><stop offset=".7965" stop-color="#5e68a6"/><stop offset=".8357" stop-color="#5c5ea6"/><stop offset=".9995" stop-color="#5c5ea6"/></linearGradient>
<linearGradient id="h119" x1="0" y1="0" x2="0" y2="1"><stop offset="0" stop-color="#5f69a6"/><stop offset=".0666" stop-color="#647fa5"/><stop offset=".0854" stop-color="#678ca4"/><stop offset=".0941" stop-color="#6a99a4"/><stop offset=".0988" stop-color="#70aca3"/><stop offset=".1035" stop-color="#9dc9aa"/><stop offset=".105" stop-color="#a4cdab"/><stop offset=".1066" stop-color="#9fcaaa"/><stop offset=".1121" stop-color="#70aca3"/><stop offset=".1152" stop-color="#6ba0a3"/><stop offset=".1207" stop-color="#6997a4"/><stop offset=".1309" stop-color="#6890a4"/><stop offset=".2054" stop-color="#627aa5"/><stop offset=".2846" stop-color="#6071a5"/><stop offset=".41" stop-color="#606fa5"/><stop offset=".5613" stop-color="#5c60a6"/><stop offset=".5927" stop-color="#5d62a6"/><stop offset=".606" stop-color="#6172a5"/><stop offset=".6193" stop-color="#5d63a6"/><stop offset=".653" stop-color="#5d63a6"/><stop offset=".6781" stop-color="#5f6aa6"/><stop offset=".6954" stop-color="#6276a5"/><stop offset=".7079" stop-color="#6689a4"/><stop offset=".7189" stop-color="#6ea9a3"/><stop offset=".7314" stop-color="#abd1ab"/><stop offset=".7369" stop-color="#b6d8ad"/><stop offset=".7424" stop-color="#a9d0ab"/><stop offset=".7542" stop-color="#6eaaa3"/><stop offset=".762" stop-color="#6890a4"/><stop offset=".7706" stop-color="#647ea5"/><stop offset=".7816" stop-color="#6071a5"/><stop offset=".7957" stop-color="#5e68a6"/><stop offset=".8333" stop-color="#5c5ea6"/><stop offset=".9995" stop-color="#5c5ea6"/></linearGradient>
<linearGradient id="h120" x1="0" y1="0" x2="0" y2="1"><stop offset="0" stop-color="#5e68a6"/><stop offset=".0478" stop-color="#6175a5"/><stop offset=".0854" stop-color="#6688a4"/><stop offset=".0941" stop-color="#6994a4"/><stop offset=".0996" stop-color="#6da9a3"/><stop offset=".1035" stop-color="#8ebfa7"/><stop offset=".105" stop-color="#96c4a8"/><stop offset=".1066" stop-color="#92c2a8"/><stop offset=".1113" stop-color="#6eaaa3"/><stop offset=".116" stop-color="#6a99a4"/><stop offset=".1317" stop-color="#678ca4"/><stop offset=".2062" stop-color="#6278a5"/><stop offset=".2861" stop-color="#6070a5"/><stop offset=".4077" stop-color="#6171a5"/><stop offset=".5637" stop-color="#5c60a6"/><stop offset=".5927" stop-color="#5d62a6"/><stop offset=".606" stop-color="#606fa5"/><stop offset=".6201" stop-color="#5d62a6"/><stop offset=".6562" stop-color="#5d63a6"/><stop offset=".6805" stop-color="#5f6aa6"/><stop offset=".6977" stop-color="#6276a5"/><stop offset=".7103" stop-color="#668aa4"/><stop offset=".7204" stop-color="#6eaaa3"/><stop offset=".7322" stop-color="#aed3ac"/><stop offset=".7353" stop-color="#b8daad"/><stop offset=".7377" stop-color="#bbdbae"/><stop offset=".74" stop-color="#b9daad"/><stop offset=".7432" stop-color="#aed3ac"/><stop offset=".7549" stop-color="#6eaaa3"/><stop offset=".7628" stop-color="#6890a4"/><stop offset=".7714" stop-color="#637da5"/><stop offset=".7816" stop-color="#6071a5"/><stop offset=".7957" stop-color="#5e67a6"/><stop offset=".831" stop-color="#5c5ea6"/><stop offset=".9995" stop-color="#5c5ea6"/></linearGradient>
<linearGradient id="h121" x1="0" y1="0" x2="0" y2="1"><stop offset="0" stop-color="#5e67a6"/><stop offset=".0478" stop-color="#6173a5"/><stop offset=".0862" stop-color="#6584a5"/><stop offset=".0956" stop-color="#6891a4"/><stop offset=".1011" stop-color="#6da8a3"/><stop offset=".1043" stop-color="#83b8a6"/><stop offset=".1058" stop-color="#86baa6"/><stop offset=".1098" stop-color="#6eaaa3"/><stop offset=".1145" stop-color="#6996a4"/><stop offset=".1215" stop-color="#678da4"/><stop offset=".2062" stop-color="#6276a5"/><stop offset=".2885" stop-color="#6070a5"/><stop offset=".4061" stop-color="#6174a5"/><stop offset=".566" stop-color="#5c5fa6"/><stop offset=".5934" stop-color="#5d61a6"/><stop offset=".606" stop-color="#5f6da5"/><stop offset=".6209" stop-color="#5d61a6"/><stop offset=".6593" stop-color="#5d63a6"/><stop offset=".6836" stop-color="#5f6aa6"/><stop offset=".7001" stop-color="#6276a5"/><stop offset=".7118" stop-color="#668aa4"/><stop offset=".7212" stop-color="#6da8a3"/><stop offset=".7236" stop-color="#77b1a4"/><stop offset=".7338" stop-color="#b5d7ad"/><stop offset=".7385" stop-color="#c1dfae"/><stop offset=".7408" stop-color="#bfdeae"/><stop offset=".744" stop-color="#b3d6ad"/><stop offset=".7557" stop-color="#6eaaa3"/><stop offset=".7628" stop-color="#6890a4"/><stop offset=".7714" stop-color="#637da5"/><stop offset=".7816" stop-color="#6070a5"/><stop offset=".7949" stop-color="#5e67a6"/><stop offset=".8278" stop-color="#5c5ea6"/><stop offset=".9995" stop-color="#5c5ea6"/></linearGradient>
<linearGradient id="h122" x1="0" y1="0" x2="0" y2="1"><stop offset="0" stop-color="#5e66a6"/><stop offset=".0478" stop-color="#6070a5"/><stop offset=".087" stop-color="#6480a5"/><stop offset=".0972" stop-color="#678ea4"/><stop offset=".1003" stop-color="#6a99a4"/><stop offset=".1035" stop-color="#6eaba3"/><stop offset=".1058" stop-color="#76b0a4"/><stop offset=".1082" stop-color="#6ea9a3"/><stop offset=".1137" stop-color="#6891a4"/><stop offset=".1215" stop-color="#6688a4"/><stop offset=".2054" stop-color="#6174a5"/><stop offset=".2932" stop-color="#606fa5"/><stop offset=".4022" stop-color="#6276a5"/><stop offset=".5417" stop-color="#5d61a6"/><stop offset=".5903" stop-color="#5c60a6"/><stop offset=".606" stop-color="#5f6aa6"/><stop offset=".6217" stop-color="#5c60a6"/><stop offset=".6632" stop-color="#5d62a6"/><stop offset=".6867" stop-color="#5f69a6"/><stop offset=".7024" stop-color="#6276a5"/><stop offset=".7134" stop-color="#6689a4"/><stop offset=".7228" stop-color="#6ea9a3"/><stop offset=".7346" stop-color="#b9daad"/><stop offset=".7377" stop-color="#c6e2af"/><stop offset=".74" stop-color="#c9e4b0"/><stop offset=".7447" stop-color="#b9daad"/><stop offset=".7565" stop-color="#6ea9a3"/><stop offset=".7636" stop-color="#678fa4"/><stop offset=".7714" stop-color="#637da5"/><stop offset=".7808" stop-color="#6070a5"/><stop offset=".7934" stop-color="#5e67a6"/><stop offset=".8255" stop-color="#5c5ea6"/><stop offset=".9995" stop-color="#5c5ea6"/></linearGradient>
<linearGradient id="h123" x1="0" y1="0" x2="0" y2="1"><stop offset="0" stop-color="#5d64a6"/><stop offset=".0478" stop-color="#606ea5"/><stop offset=".0878" stop-color="#637ca5"/><stop offset=".0972" stop-color="#6586a4"/><stop offset=".1058" stop-color="#6ca4a3"/><stop offset=".1129" stop-color="#678ca4"/><stop offset=".1207" stop-color="#6582a5"/><stop offset=".2046" stop-color="#6172a5"/><stop offset=".2995" stop-color="#606ea5"/><stop offset=".4029" stop-color="#627aa5"/><stop offset=".537" stop-color="#5d61a6"/><stop offset=".5895" stop-color="#5c5fa6"/><stop offset=".606" stop-color="#5e67a6"/><stop offset=".6225" stop-color="#5c5fa6"/><stop offset=".6664" stop-color="#5d62a6"/><stop offset=".6891" stop-color="#5f69a6"/><stop offset=".7048" stop-color="#6276a5"/><stop offset=".7157" stop-color="#668aa4"/><stop offset=".7244" stop-color="#6eaba3"/><stop offset=".7369" stop-color="#c8e3af"/><stop offset=".7393" stop-color="#cee5af"/><stop offset=".7432" stop-color="#cce6b0"/><stop offset=".7463" stop-color="#bbdbae"/><stop offset=".7565" stop-color="#6faba3"/><stop offset=".7628" stop-color="#6891a4"/><stop offset=".7706" stop-color="#637ea5"/><stop offset=".78" stop-color="#6070a5"/><stop offset=".7926" stop-color="#5e67a6"/><stop offset=".8224" stop-color="#5c5ea6"/><stop offset=".9995" stop-color="#5c5ea6"/></linearGradient>
<linearGradient id="h124" x1="0" y1="0" x2="0" y2="1"><stop offset="0" stop-color="#5d63a6"/><stop offset=".0878" stop-color="#6277a5"/><stop offset=".098" stop-color="#6480a5"/><stop offset=".1058" stop-color="#6997a4"/><stop offset=".1129" stop-color="#6584a5"/><stop offset=".1207" stop-color="#637da5"/><stop offset=".2046" stop-color="#606fa5"/><stop offset=".3081" stop-color="#606ea5"/><stop offset=".4029" stop-color="#647fa5"/><stop offset=".4766" stop-color="#5f6aa6"/><stop offset=".5292" stop-color="#5d61a6"/><stop offset=".5833" stop-color="#5c5ea6"/><stop offset=".606" stop-color="#5d63a6"/><stop offset=".624" stop-color="#5c5ea6"/><stop offset=".6695" stop-color="#5d62a6"/><stop offset=".6914" stop-color="#5e68a6"/><stop offset=".7063" stop-color="#6174a5"/><stop offset=".7173" stop-color="#668aa4"/><stop offset=".7251" stop-color="#6da8a3"/><stop offset=".7283" stop-color="#81b7a6"/><stop offset=".7369" stop-color="#cae5b0"/><stop offset=".7408" stop-color="#d3e4ac"/><stop offset=".7455" stop-color="#cce6b0"/><stop offset=".7542" stop-color="#83b8a6"/><stop offset=".7573" stop-color="#6ea9a3"/><stop offset=".7636" stop-color="#678fa4"/><stop offset=".7706" stop-color="#637da5"/><stop offset=".78" stop-color="#606fa5"/><stop offset=".7918" stop-color="#5e66a6"/><stop offset=".8192" stop-color="#5c5ea6"/><stop offset=".9995" stop-color="#5c5ea6"/></linearGradient>
<linearGradient id="h125" x1="0" y1="0" x2="0" y2="1"><stop offset="0" stop-color="#5d62a6"/><stop offset=".0878" stop-color="#6173a5"/><stop offset=".098" stop-color="#637ba5"/><stop offset=".1058" stop-color="#678da4"/><stop offset=".1137" stop-color="#637da5"/><stop offset=".1207" stop-color="#6278a5"/><stop offset=".203" stop-color="#606da5"/><stop offset=".3159" stop-color="#606ea5"/><stop offset=".4037" stop-color="#6584a5"/><stop offset=".4672" stop-color="#5f6da5"/><stop offset=".5205" stop-color="#5d62a6"/><stop offset=".577" stop-color="#5c5ea6"/><stop offset=".6718" stop-color="#5d61a6"/><stop offset=".6938" stop-color="#5e68a6"/><stop offset=".7079" stop-color="#6174a5"/><stop offset=".7181" stop-color="#6688a4"/><stop offset=".7259" stop-color="#6da7a3"/><stop offset=".7267" stop-color="#6faca3"/><stop offset=".7291" stop-color="#81b7a6"/><stop offset=".7369" stop-color="#cae5b0"/><stop offset=".7377" stop-color="#cee5af"/><stop offset=".7416" stop-color="#d7e2aa"/><stop offset=".7463" stop-color="#cee6af"/><stop offset=".7542" stop-color="#85baa6"/><stop offset=".7573" stop-color="#6eaaa3"/><stop offset=".7628" stop-color="#6891a4"/><stop offset=".7698" stop-color="#637da5"/><stop offset=".7792" stop-color="#606fa5"/><stop offset=".791" stop-color="#5e66a6"/><stop offset=".8161" stop-color="#5c5ea6"/><stop offset=".9995" stop-color="#5c5ea6"/></linearGradient>
<linearGradient id="h126" x1="0" y1="0" x2="0" y2="1"><stop offset="0" stop-color="#5d61a6"/><stop offset=".0886" stop-color="#6071a5"/><stop offset=".098" stop-color="#6277a5"/><stop offset=".1058" stop-color="#6587a4"/><stop offset=".1137" stop-color="#6279a5"/><stop offset=".1231" stop-color="#6174a5"/><stop offset=".2571" stop-color="#5f6aa6"/><stop offset=".3371" stop-color="#6071a5"/><stop offset=".4029" stop-color="#6688a4"/><stop offset=".4617" stop-color="#606fa5"/><stop offset=".5135" stop-color="#5d63a6"/><stop offset=".5691" stop-color="#5c5ea6"/><stop offset=".6734" stop-color="#5d61a6"/><stop offset=".6954" stop-color="#5e68a6"/><stop offset=".7095" stop-color="#6174a5"/><stop offset=".7189" stop-color="#6688a4"/><stop offset=".7267" stop-color="#6da8a3"/><stop offset=".7299" stop-color="#83b8a6"/><stop offset=".7369" stop-color="#cae4b0"/><stop offset=".7377" stop-color="#cee5af"/><stop offset=".7424" stop-color="#d9e2a8"/><stop offset=".7471" stop-color="#cde6b0"/><stop offset=".7534" stop-color="#8ebfa7"/><stop offset=".7573" stop-color="#6eaaa3"/><stop offset=".7628" stop-color="#6890a4"/><stop offset=".7698" stop-color="#637ca5"/><stop offset=".7785" stop-color="#606fa5"/><stop offset=".7902" stop-color="#5e66a6"/><stop offset=".8145" stop-color="#5c5ea6"/><stop offset=".9995" stop-color="#5c5ea6"/></linearGradient>
<linearGradient id="h127" x1="0" y1="0" x2="0" y2="1"><stop offset="0" stop-color="#5c60a6"/><stop offset=".0878" stop-color="#606ea5"/><stop offset=".098" stop-color="#6173a5"/><stop offset=".1058" stop-color="#647fa5"/><stop offset=".1184" stop-color="#6172a5"/><stop offset=".1733" stop-color="#5f6ca5"/><stop offset=".2454" stop-color="#5f69a6"/><stop offset=".3104" stop-color="#5f6ca5"/><stop offset=".3543" stop-color="#6276a5"/><stop offset=".4029" stop-color="#678ea4"/><stop offset=".4563" stop-color="#6071a5"/><stop offset=".5056" stop-color="#5d64a6"/><stop offset=".5613" stop-color="#5c5ea6"/><stop offset=".675" stop-color="#5d61a6"/><stop offset=".6961" stop-color="#5e67a6"/><stop offset=".7103" stop-color="#6174a5"/><stop offset=".7197" stop-color="#6687a4"/><stop offset=".7275" stop-color="#6ea9a3"/><stop offset=".7306" stop-color="#86baa6"/><stop offset=".7369" stop-color="#c8e4af"/><stop offset=".7377" stop-color="#cee5af"/><stop offset=".7424" stop-color="#dbe1a7"/><stop offset=".7471" stop-color="#cfe5ae"/><stop offset=".7479" stop-color="#cae5b0"/><stop offset=".7534" stop-color="#8fc0a8"/><stop offset=".7573" stop-color="#6eaaa3"/><stop offset=".7628" stop-color="#688fa4"/><stop offset=".7698" stop-color="#637ba5"/><stop offset=".7785" stop-color="#606ea5"/><stop offset=".791" stop-color="#5e65a6"/><stop offset=".8122" stop-color="#5c5ea6"/><stop offset=".9995" stop-color="#5c5ea6"/></linearGradient>
<linearGradient id="h128" x1="0" y1="0" x2="0" y2="1"><stop offset="0" stop-color="#5c5ea6"/><stop offset=".0878" stop-color="#5f6aa6"/><stop offset=".098" stop-color="#606ea5"/><stop offset=".1058" stop-color="#6278a5"/><stop offset=".1192" stop-color="#606ea5"/><stop offset=".1874" stop-color="#5f69a6"/><stop offset=".3136" stop-color="#5f6ba5"/><stop offset=".3575" stop-color="#6277a5"/><stop offset=".4037" stop-color="#6995a4"/><stop offset=".4508" stop-color="#6174a5"/><stop offset=".497" stop-color="#5e65a6"/><stop offset=".5511" stop-color="#5c5ea6"/><stop offset=".6758" stop-color="#5c60a6"/><stop offset=".6969" stop-color="#5e67a6"/><stop offset=".711" stop-color="#6173a5"/><stop offset=".7212" stop-color="#6689a4"/><stop offset=".7283" stop-color="#6eaaa3"/><stop offset=".7322" stop-color="#91c1a8"/><stop offset=".7369" stop-color="#c6e2af"/><stop offset=".7385" stop-color="#d1e4ad"/><stop offset=".7408" stop-color="#dae1a8"/><stop offset=".7432" stop-color="#dce1a6"/><stop offset=".7479" stop-color="#cde6af"/><stop offset=".7542" stop-color="#88bba7"/><stop offset=".7573" stop-color="#6eaaa3"/><stop offset=".7628" stop-color="#678ea4"/><stop offset=".769" stop-color="#637ca5"/><stop offset=".7777" stop-color="#606ea5"/><stop offset=".7894" stop-color="#5e65a6"/><stop offset=".8082" stop-color="#5c5ea6"/><stop offset=".9995" stop-color="#5c5ea6"/></linearGradient>
<linearGradient id="h129" x1="0" y1="0" x2="0" y2="1"><stop offset="0" stop-color="#5c5ea6"/><stop offset=".0839" stop-color="#5e66a6"/><stop offset=".1058" stop-color="#6070a5"/><stop offset=".1192" stop-color="#5f6aa6"/><stop offset=".2038" stop-color="#5e66a6"/><stop offset=".3167" stop-color="#5f6ba6"/><stop offset=".3606" stop-color="#6279a5"/><stop offset=".3747" stop-color="#6584a5"/><stop offset=".3959" stop-color="#6a9ca4"/><stop offset=".4037" stop-color="#6b9fa3"/><stop offset=".4116" stop-color="#6a9ba4"/><stop offset=".4461" stop-color="#6277a5"/><stop offset=".4892" stop-color="#5e66a6"/><stop offset=".5394" stop-color="#5c5ea6"/><stop offset=".6773" stop-color="#5c5fa6"/><stop offset=".6985" stop-color="#5e66a6"/><stop offset=".7118" stop-color="#6172a5"/><stop offset=".7212" stop-color="#6586a4"/><stop offset=".7283" stop-color="#6da7a3"/><stop offset=".7291" stop-color="#6faca3"/><stop offset=".7314" stop-color="#85b9a6"/><stop offset=".7377" stop-color="#cce6b0"/><stop offset=".7424" stop-color="#dee0a6"/><stop offset=".7447" stop-color="#dbe1a7"/><stop offset=".7471" stop-color="#d2e4ac"/><stop offset=".7487" stop-color="#c8e3af"/><stop offset=".7542" stop-color="#88bba7"/><stop offset=".7573" stop-color="#6da9a3"/><stop offset=".7628" stop-color="#678da4"/><stop offset=".7698" stop-color="#6278a5"/><stop offset=".7785" stop-color="#5f6ca5"/><stop offset=".7902" stop-color="#5d63a6"/><stop offset=".8035" stop-color="#5c5ea6"/><stop offset=".9995" stop-color="#5c5ea6"/></linearGradient>
<linearGradient id="h130" x1="0" y1="0" x2="0" y2="1"><stop offset="0" stop-color="#5c5ea6"/><stop offset=".0478" stop-color="#5c5ea6"/><stop offset=".1058" stop-color="#5e69a6"/><stop offset=".225" stop-color="#5d63a6"/><stop offset=".3198" stop-color="#5f69a6"/><stop offset=".3449" stop-color="#6070a5"/><stop offset=".3638" stop-color="#637ba5"/><stop offset=".3779" stop-color="#668aa4"/><stop offset=".3967" stop-color="#6da7a3"/><stop offset=".4037" stop-color="#6faca3"/><stop offset=".4108" stop-color="#6da7a3"/><stop offset=".4296" stop-color="#6689a4"/><stop offset=".4421" stop-color="#637aa5"/><stop offset=".4829" stop-color="#5e66a6"/><stop offset=".526" stop-color="#5c5ea6"/><stop offset=".6812" stop-color="#5c5ea6"/><stop offset=".7008" stop-color="#5e65a6"/><stop offset=".7134" stop-color="#6172a5"/><stop offset=".722" stop-color="#6586a4"/><stop offset=".7291" stop-color="#6da8a3"/><stop offset=".7299" stop-color="#71ada3"/><stop offset=".7322" stop-color="#88bba7"/><stop offset=".7377" stop-color="#cae5b0"/><stop offset=".7393" stop-color="#d4e3ab"/><stop offset=".7432" stop-color="#dfe0a5"/><stop offset=".7455" stop-color="#dae1a8"/><stop offset=".7479" stop-color="#cfe5ae"/><stop offset=".7487" stop-color="#c9e4b0"/><stop offset=".7542" stop-color="#87baa6"/><stop offset=".7565" stop-color="#70aca3"/><stop offset=".7573" stop-color="#6da7a3"/><stop offset=".7628" stop-color="#668ba4"/><stop offset=".769" stop-color="#6278a5"/><stop offset=".7777" stop-color="#5f6ba6"/><stop offset=".7886" stop-color="#5d62a6"/><stop offset=".7988" stop-color="#5c5ea6"/><stop offset=".9995" stop-color="#5c5ea6"/></linearGradient>
<linearGradient id="h131" x1="0" y1="0" x2="0" y2="1"><stop offset="0" stop-color="#5c5ea6"/><stop offset=".2469" stop-color="#5d61a6"/><stop offset=".3214" stop-color="#5e68a6"/><stop offset=".3473" stop-color="#6070a5"/><stop offset=".3653" stop-color="#637ca5"/><stop offset=".3786" stop-color="#678ea4"/><stop offset=".392" stop-color="#6eaaa3"/><stop offset=".399" stop-color="#7eb5a5"/><stop offset=".4037" stop-color="#82b7a6"/><stop offset=".4084" stop-color="#7eb5a5"/><stop offset=".4155" stop-color="#6eaaa3"/><stop offset=".428" stop-color="#678ea4"/><stop offset=".4406" stop-color="#637ca5"/><stop offset=".457" stop-color="#606fa5"/><stop offset=".4798" stop-color="#5e65a6"/><stop offset=".5135" stop-color="#5c5ea6"/><stop offset=".6891" stop-color="#5c5ea6"/><stop offset=".7048" stop-color="#5e66a6"/><stop offset=".7157" stop-color="#6173a5"/><stop offset=".7236" stop-color="#6688a4"/><stop offset=".7299" stop-color="#6ea9a3"/><stop offset=".733" stop-color="#8bbda7"/><stop offset=".7377" stop-color="#c7e3af"/><stop offset=".7385" stop-color="#cee5af"/><stop offset=".7408" stop-color="#dae1a8"/><stop offset=".7432" stop-color="#dfe0a5"/><stop offset=".7471" stop-color="#d4e3ab"/><stop offset=".7487" stop-color="#cae5b0"/><stop offset=".7534" stop-color="#8ebfa7"/><stop offset=".7565" stop-color="#6eaba3"/><stop offset=".762" stop-color="#678ca4"/><stop offset=".7683" stop-color="#6278a5"/><stop offset=".7769" stop-color="#5f69a6"/><stop offset=".7894" stop-color="#5c60a6"/><stop offset=".9995" stop-color="#5c5ea6"/></linearGradient>
<linearGradient id="h132" x1="0" y1="0" x2="0" y2="1"><stop offset="0" stop-color="#5c5ea6"/><stop offset=".2501" stop-color="#5c5ea6"/><stop offset=".3238" stop-color="#5e66a6"/><stop offset=".3481" stop-color="#606fa5"/><stop offset=".3653" stop-color="#637ca5"/><stop offset=".3779" stop-color="#678fa4"/><stop offset=".3888" stop-color="#6eaba3"/><stop offset=".3982" stop-color="#8fc0a8"/><stop offset=".4037" stop-color="#97c5a9"/><stop offset=".4092" stop-color="#8fc0a8"/><stop offset=".4186" stop-color="#6eaaa3"/><stop offset=".4288" stop-color="#6890a4"/><stop offset=".4406" stop-color="#637da5"/><stop offset=".4563" stop-color="#606fa5"/><stop offset=".4774" stop-color="#5e65a6"/><stop offset=".5033" stop-color="#5c5ea6"/><stop offset=".6946" stop-color="#5c5ea6"/><stop offset=".7087" stop-color="#5e67a6"/><stop offset=".7181" stop-color="#6175a5"/><stop offset=".7251" stop-color="#668ba4"/><stop offset=".7306" stop-color="#6eaba3"/><stop offset=".7338" stop-color="#8fc0a8"/><stop offset=".7385" stop-color="#cde6af"/><stop offset=".7408" stop-color="#dae1a8"/><stop offset=".7432" stop-color="#e0e0a4"/><stop offset=".7471" stop-color="#d5e3ab"/><stop offset=".7487" stop-color="#cbe5b0"/><stop offset=".7534" stop-color="#8cbea7"/><stop offset=".7565" stop-color="#6ea9a3"/><stop offset=".762" stop-color="#6689a4"/><stop offset=".7683" stop-color="#6175a5"/><stop offset=".7769" stop-color="#5e67a6"/><stop offset=".7886" stop-color="#5c5ea6"/><stop offset=".9995" stop-color="#5c5ea6"/></linearGradient>
<linearGradient id="h133" x1="0" y1="0" x2="0" y2="1"><stop offset="0" stop-color="#5c5ea6"/><stop offset=".283" stop-color="#5c5ea6"/><stop offset=".3261" stop-color="#5e65a6"/><stop offset=".3481" stop-color="#606ea5"/><stop offset=".3645" stop-color="#637ba5"/><stop offset=".3763" stop-color="#678da4"/><stop offset=".3865" stop-color="#6da9a3"/><stop offset=".3982" stop-color="#a0caaa"/><stop offset=".4037" stop-color="#aad1ab"/><stop offset=".4092" stop-color="#a0caaa"/><stop offset=".4202" stop-color="#6eaba3"/><stop offset=".4296" stop-color="#6890a4"/><stop offset=".4406" stop-color="#637da5"/><stop offset=".4547" stop-color="#606fa5"/><stop offset=".4743" stop-color="#5e65a6"/><stop offset=".497" stop-color="#5c5ea6"/><stop offset=".6985" stop-color="#5c5ea6"/><stop offset=".7103" stop-color="#5e67a6"/><stop offset=".7189" stop-color="#6174a5"/><stop offset=".7251" stop-color="#6688a4"/><stop offset=".7306" stop-color="#6da8a3"/><stop offset=".7314" stop-color="#71ada3"/><stop offset=".7338" stop-color="#8cbea7"/><stop offset=".7385" stop-color="#cce6b0"/><stop offset=".7408" stop-color="#dae2a8"/><stop offset=".7432" stop-color="#e0dfa4"/><stop offset=".7447" stop-color="#dfe0a5"/><stop offset=".7471" stop-color="#d6e3aa"/><stop offset=".7487" stop-color="#cce6b0"/><stop offset=".7534" stop-color="#8bbda7"/><stop offset=".7557" stop-color="#71ada3"/><stop offset=".7565" stop-color="#6da7a3"/><stop offset=".7612" stop-color="#678ba4"/><stop offset=".7675" stop-color="#6175a5"/><stop offset=".7753" stop-color="#5e67a6"/><stop offset=".7855" stop-color="#5c5ea6"/><stop offset=".9995" stop-color="#5c5ea6"/></linearGradient>
<filter id="hblur" filterUnits="userSpaceOnUse" x="1052.5" y="837.7" width="749" height="641.8" color-interpolation-filters="sRGB"><feGaussianBlur stdDeviation="2.2 0"/></filter>
<linearGradient id="cbar" x1="0" y1="0" x2="0" y2="1"><stop offset="0" stop-color="#ad2042"/><stop offset="0.2" stop-color="#e57f56"/><stop offset="0.4" stop-color="#fad795"/><stop offset="0.6" stop-color="#cce6b0"/><stop offset="0.8" stop-color="#6eaba3"/><stop offset="1" stop-color="#5c5ea6"/></linearGradient>
</defs>
<g id="panel-a">
<text x="0" y="36.5" font-size="42" font-weight="bold">a</text>
<rect x="2" y="83" width="360" height="354.5" fill="#eeeeee"/>
<rect x="2" y="133.2" width="360" height="109.5" fill="#3282a2"/>
<rect x="2" y="341" width="360" height="51.5" fill="#3282a2"/>
<rect x="3" y="437.5" width="359" height="91.5" fill="#c0c0c0"/>
<text x="152.2" y="198.9" font-size="29.35" font-weight="bold">SiO<tspan font-size="20" dy="7.6">2</tspan></text>
<text x="182.3" y="301.1" font-size="29.35" text-anchor="middle" font-weight="bold">Si</text>
<text x="182.5" y="494" font-size="29.35" text-anchor="middle" font-weight="bold">W</text>
<g clip-path="url(#semclip)">
<rect x="387" y="83.8" width="463" height="448.8" fill="url(#semv)"/>
<rect x="387" y="83.8" width="463" height="38" fill="url(#semh)"/>
<g filter="url(#blur1)"><rect x="422.33" y="152.18" width="5.34" height="104.88" fill="#fff" opacity="0.11"/><rect x="619.02" y="143.97" width="1.24" height="123.89" fill="#000" opacity="0.09"/><rect x="563.38" y="144.92" width="1.23" height="103.15" fill="#fff" opacity="0.05"/><rect x="818.15" y="160.01" width="1.2" height="86.1" fill="#fff" opacity="0.05"/><rect x="807.93" y="156.28" width="1.32" height="99.47" fill="#fff" opacity="0.08"/><rect x="481.85" y="148.99" width="2.84" height="119.96" fill="#000" opacity="0.06"/><rect x="742.88" y="158.66" width="1.87" height="120.01" fill="#fff" opacity="0.07"/><rect x="691.38" y="153.17" width="2.13" height="104.08" fill="#000" opacity="0.06"/><rect x="470.55" y="151.4" width="4.93" height="120" fill="#fff" opacity="0.08"/><rect x="579.09" y="135.46" width="1.2" height="122.28" fill="#000" opacity="0.07"/><rect x="829.38" y="133.57" width="4.37" height="143.52" fill="#fff" opacity="0.08"/><rect x="833.78" y="171.98" width="7.27" height="97.21" fill="#fff" opacity="0.1"/><rect x="529.94" y="166.83" width="2.66" height="101.7" fill="#fff" opacity="0.04"/><rect x="537.21" y="138.99" width="1.81" height="132.97" fill="#000" opacity="0.07"/><rect x="755.73" y="153.25" width="3.06" height="101.16" fill="#000" opacity="0.1"/><rect x="757.62" y="132.96" width="7.2" height="116.74" fill="#fff" opacity="0.05"/><rect x="755.9" y="138.11" width="4.7" height="122.08" fill="#fff" opacity="0.04"/><rect x="763.34" y="159.97" width="2.44" height="96.86" fill="#000" opacity="0.1"/><rect x="390.31" y="153.37" width="2.4" height="135.95" fill="#fff" opacity="0.07"/><rect x="770.57" y="137.19" width="7.23" height="143.68" fill="#fff" opacity="0.08"/><rect x="490.75" y="139.19" width="3.45" height="115.03" fill="#fff" opacity="0.1"/><rect x="633.61" y="178.1" width="5.52" height="100.65" fill="#000" opacity="0.05"/><rect x="807.95" y="152.33" width="1.47" height="104.94" fill="#fff" opacity="0.1"/><rect x="694.88" y="157.55" width="5.64" height="126.49" fill="#fff" opacity="0.04"/><rect x="761.04" y="131.4" width="1.21" height="143.14" fill="#fff" opacity="0.04"/><rect x="397.74" y="164.65" width="3.07" height="106.72" fill="#fff" opacity="0.04"/><rect x="660.33" y="178.94" width="7.22" height="101.39" fill="#000" opacity="0.03"/><rect x="816.02" y="168.26" width="2.63" height="81.9" fill="#000" opacity="0.08"/><rect x="398.07" y="144.39" width="1.7" height="141.78" fill="#fff" opacity="0.1"/><rect x="698.4" y="148.43" width="1.23" height="123.38" fill="#fff" opacity="0.05"/><rect x="634.7" y="166.6" width="1.88" height="117.66" fill="#fff" opacity="0.05"/><rect x="562.19" y="175.37" width="1.49" height="76.63" fill="#fff" opacity="0.04"/><rect x="494.73" y="144.35" width="2.58" height="123.42" fill="#fff" opacity="0.1"/><rect x="688.01" y="167.32" width="3.61" height="121.7" fill="#000" opacity="0.09"/><rect x="666.45" y="163.48" width="1.76" height="94.13" fill="#fff" opacity="0.08"/><rect x="837.72" y="151.51" width="7.41" height="111.82" fill="#000" opacity="0.04"/><rect x="766.08" y="167.76" width="3.95" height="115.16" fill="#fff" opacity="0.06"/><rect x="662.97" y="174.26" width="1.26" height="95.41" fill="#fff" opacity="0.07"/><rect x="704.11" y="161.41" width="5.74" height="118.9" fill="#fff" opacity="0.09"/><rect x="770.03" y="144.98" width="3.49" height="122.23" fill="#fff" opacity="0.08"/><rect x="779.12" y="174.1" width="2.41" height="77.55" fill="#fff" opacity="0.04"/><rect x="530.76" y="157.21" width="5.07" height="112.69" fill="#fff" opacity="0.1"/><rect x="645.04" y="132.7" width="1.93" height="122.9" fill="#000" opacity="0.08"/><rect x="663.99" y="178.59" width="1.97" height="107.82" fill="#000" opacity="0.04"/><rect x="558.72" y="173.34" width="2.09" height="102.86" fill="#fff" opacity="0.1"/><rect x="539.35" y="142.84" width="1.22" height="102.39" fill="#fff" opacity="0.06"/><rect x="524.98" y="138.97" width="6.7" height="115.46" fill="#000" opacity="0.04"/><rect x="632.49" y="175.97" width="1.21" height="98.73" fill="#fff" opacity="0.09"/><rect x="429.87" y="138.21" width="1.28" height="146.01" fill="#fff" opacity="0.04"/><rect x="826.12" y="155.55" width="1.26" height="130.72" fill="#000" opacity="0.05"/><rect x="821.36" y="131.27" width="2.7" height="112.47" fill="#fff" opacity="0.04"/><rect x="636.58" y="170.76" width="6.61" height="91.81" fill="#000" opacity="0.06"/><rect x="789.37" y="165.66" width="6.37" height="121.62" fill="#fff" opacity="0.06"/><rect x="620.84" y="142.49" width="5.92" height="117.41" fill="#000" opacity="0.06"/><rect x="477.64" y="136" width="2.74" height="145.76" fill="#fff" opacity="0.11"/><rect x="800.45" y="132.89" width="3.07" height="120.81" fill="#000" opacity="0.04"/><rect x="391.07" y="139" width="4.29" height="136.44" fill="#fff" opacity="0.11"/><rect x="691.39" y="136.31" width="4.93" height="115.18" fill="#fff" opacity="0.1"/><rect x="639.91" y="166.77" width="1.75" height="123.86" fill="#000" opacity="0.07"/><rect x="727.18" y="171.23" width="1.28" height="109.28" fill="#fff" opacity="0.1"/><rect x="461.46" y="170.02" width="4.86" height="88.22" fill="#fff" opacity="0.11"/><rect x="496.16" y="157.05" width="1.35" height="115.65" fill="#fff" opacity="0.06"/><rect x="514.11" y="153.79" width="1.2" height="124.89" fill="#000" opacity="0.07"/><rect x="469.88" y="162.13" width="3.96" height="116.29" fill="#000" opacity="0.07"/><rect x="545.56" y="171.58" width="4.65" height="103" fill="#fff" opacity="0.11"/><rect x="618.96" y="151.47" width="4.68" height="106.12" fill="#000" opacity="0.05"/><rect x="637.93" y="152.12" width="1.6" height="96.65" fill="#fff" opacity="0.1"/><rect x="549.84" y="178.39" width="2.16" height="108.19" fill="#000" opacity="0.1"/><rect x="490.89" y="158.51" width="2.03" height="94.73" fill="#000" opacity="0.11"/><rect x="517.21" y="154.56" width="1.45" height="110.51" fill="#fff" opacity="0.08"/><rect x="686.26" y="175.2" width="6.97" height="71.21" fill="#000" opacity="0.1"/><rect x="409.54" y="144.1" width="6.91" height="132.41" fill="#000" opacity="0.07"/><rect x="667.16" y="149.07" width="2.05" height="99.22" fill="#fff" opacity="0.1"/><rect x="502.14" y="141.47" width="2.14" height="123.32" fill="#fff" opacity="0.05"/><rect x="820.38" y="135.79" width="6.1" height="146.21" fill="#fff" opacity="0.06"/><rect x="565.98" y="147.65" width="1.63" height="134.5" fill="#000" opacity="0.1"/><rect x="577.31" y="156.1" width="4.54" height="110.48" fill="#fff" opacity="0.06"/><rect x="843.29" y="170.98" width="5.38" height="115.01" fill="#fff" opacity="0.07"/><rect x="428.16" y="134.58" width="2.26" height="146.11" fill="#000" opacity="0.09"/><rect x="710.43" y="138.92" width="1.24" height="152.04" fill="#fff" opacity="0.04"/><rect x="831.55" y="140.87" width="6.63" height="138.88" fill="#fff" opacity="0.11"/><rect x="557.63" y="144.15" width="2.68" height="119.67" fill="#fff" opacity="0.09"/><rect x="766.97" y="160.16" width="1.29" height="84.05" fill="#fff" opacity="0.04"/><rect x="678.76" y="177.59" width="1.97" height="90.96" fill="#000" opacity="0.07"/><rect x="394.37" y="137.23" width="6.33" height="136.45" fill="#fff" opacity="0.07"/><rect x="405.25" y="148.23" width="1.88" height="97.58" fill="#fff" opacity="0.1"/><rect x="819.15" y="149.15" width="6.27" height="137.2" fill="#fff" opacity="0.08"/><rect x="391.51" y="177.82" width="7.75" height="88.26" fill="#000" opacity="0.08"/><rect x="815.99" y="159.15" width="2.69" height="121.91" fill="#fff" opacity="0.05"/><rect x="493.12" y="148.79" width="1.21" height="106.98" fill="#000" opacity="0.05"/><rect x="712.26" y="145.46" width="2.82" height="38.35" fill="#000" opacity="0.06"/><rect x="806.96" y="143.54" width="1.22" height="41.21" fill="#fff" opacity="0.06"/><rect x="523.12" y="145.76" width="1.77" height="32.17" fill="#fff" opacity="0.05"/><rect x="389.95" y="137.98" width="1.2" height="38.72" fill="#fff" opacity="0.07"/><rect x="434.86" y="137.36" width="2.85" height="45.02" fill="#fff" opacity="0.09"/><rect x="522.26" y="143.65" width="1.26" height="36.83" fill="#fff" opacity="0.14"/><rect x="458.86" y="142.88" width="3.09" height="27.84" fill="#fff" opacity="0.05"/><rect x="785.07" y="138.36" width="1.55" height="36.6" fill="#000" opacity="0.07"/><rect x="710.73" y="138.29" width="3.99" height="38.3" fill="#fff" opacity="0.06"/><rect x="724.76" y="133.46" width="4.69" height="50.72" fill="#fff" opacity="0.05"/><rect x="754.01" y="138.73" width="1.39" height="37.92" fill="#fff" opacity="0.12"/><rect x="393.81" y="136.75" width="2.18" height="43.51" fill="#fff" opacity="0.12"/><rect x="425.86" y="143.93" width="2.34" height="26.34" fill="#000" opacity="0.04"/><rect x="407.02" y="140.69" width="2.97" height="28.89" fill="#fff" opacity="0.1"/><rect x="697.39" y="144.48" width="1.45" height="40.01" fill="#fff" opacity="0.07"/><rect x="459.06" y="142.3" width="2.79" height="30.82" fill="#fff" opacity="0.13"/><rect x="452.97" y="137.31" width="1.46" height="46.8" fill="#fff" opacity="0.11"/><rect x="413.72" y="144.06" width="4.5" height="36.83" fill="#000" opacity="0.08"/><rect x="673.71" y="138.27" width="1.47" height="32.87" fill="#000" opacity="0.04"/><rect x="649.03" y="143.96" width="1.33" height="39.8" fill="#fff" opacity="0.08"/><rect x="501.45" y="142.29" width="4.18" height="40.09" fill="#fff" opacity="0.06"/><rect x="651.6" y="139.8" width="1.33" height="31.93" fill="#fff" opacity="0.13"/><rect x="540.83" y="137.21" width="1.86" height="41" fill="#fff" opacity="0.09"/><rect x="528.45" y="137.32" width="1.65" height="45.23" fill="#fff" opacity="0.1"/><rect x="811.18" y="134.73" width="3.76" height="46.35" fill="#fff" opacity="0.12"/><rect x="391.73" y="137.4" width="2.71" height="34.88" fill="#000" opacity="0.12"/><rect x="710.77" y="135.61" width="4.37" height="43.9" fill="#000" opacity="0.05"/><rect x="458.4" y="139.25" width="2.36" height="32.57" fill="#fff" opacity="0.08"/><rect x="564.37" y="135.88" width="1.21" height="38.91" fill="#000" opacity="0.05"/><rect x="635.26" y="144.51" width="1.54" height="38.27" fill="#000" opacity="0.07"/><rect x="498.09" y="132.31" width="3.24" height="44.06" fill="#fff" opacity="0.11"/><rect x="538.69" y="140.56" width="2.35" height="41.94" fill="#000" opacity="0.08"/><rect x="536.29" y="134.27" width="3.54" height="43.26" fill="#fff" opacity="0.09"/><rect x="719.27" y="142.34" width="3.61" height="29.58" fill="#fff" opacity="0.13"/><rect x="770.04" y="135.2" width="2.23" height="46.99" fill="#fff" opacity="0.12"/><rect x="419.75" y="131.72" width="2.51" height="46.94" fill="#fff" opacity="0.1"/><rect x="460.09" y="140.33" width="1.21" height="31.4" fill="#fff" opacity="0.12"/><rect x="654.13" y="145.15" width="3.16" height="31.89" fill="#fff" opacity="0.13"/><rect x="488.51" y="142.82" width="1.53" height="27.84" fill="#fff" opacity="0.09"/><rect x="451.27" y="138.04" width="2.18" height="39.96" fill="#fff" opacity="0.06"/><rect x="698.17" y="143.03" width="2.74" height="34.54" fill="#fff" opacity="0.13"/><rect x="795.28" y="142.34" width="1.84" height="39.47" fill="#000" opacity="0.05"/><rect x="558.7" y="141.02" width="1.21" height="28.86" fill="#000" opacity="0.12"/><rect x="819.96" y="134.79" width="1.99" height="49.15" fill="#fff" opacity="0.07"/><rect x="808.74" y="144.24" width="1.2" height="28.37" fill="#fff" opacity="0.11"/><rect x="411.66" y="141.39" width="3.26" height="37.62" fill="#fff" opacity="0.08"/><rect x="846.96" y="146.78" width="3.86" height="24.97" fill="#000" opacity="0.09"/><rect x="478.84" y="134.84" width="2.92" height="43.8" fill="#fff" opacity="0.13"/><rect x="800.79" y="135.76" width="2.57" height="45.02" fill="#fff" opacity="0.04"/><rect x="775.26" y="138.76" width="1.39" height="30.3" fill="#000" opacity="0.08"/><rect x="769.71" y="201.35" width="2.37" height="88.45" fill="#000" opacity="0.05"/><rect x="493.66" y="180.99" width="1.21" height="105.63" fill="#000" opacity="0.04"/><rect x="599.57" y="190.52" width="2.58" height="91.44" fill="#000" opacity="0.05"/><rect x="470.66" y="201.64" width="2.11" height="58.1" fill="#fff" opacity="0.04"/><rect x="650.59" y="200.55" width="1.3" height="58.71" fill="#fff" opacity="0.04"/><rect x="441.47" y="212.64" width="2.49" height="61.13" fill="#fff" opacity="0.04"/><rect x="677.03" y="195.24" width="4.73" height="80.3" fill="#fff" opacity="0.07"/><rect x="827.43" y="191.14" width="2.24" height="74.7" fill="#fff" opacity="0.04"/><rect x="506.51" y="183.38" width="3.37" height="93.45" fill="#fff" opacity="0.04"/><rect x="451.02" y="211.04" width="4.08" height="70.23" fill="#fff" opacity="0.04"/><rect x="729.07" y="202.67" width="1.22" height="61.97" fill="#fff" opacity="0.07"/><rect x="767.94" y="186.27" width="2.64" height="96.13" fill="#fff" opacity="0.06"/><rect x="758.4" y="187.16" width="3.65" height="91.49" fill="#fff" opacity="0.07"/><rect x="491.19" y="195.09" width="5.42" height="86.54" fill="#fff" opacity="0.05"/><rect x="512.19" y="206.72" width="3.3" height="71.54" fill="#fff" opacity="0.03"/><rect x="572.94" y="188.06" width="2.11" height="78.08" fill="#fff" opacity="0.04"/><rect x="711.15" y="188.02" width="3.85" height="98.15" fill="#000" opacity="0.06"/><rect x="504.59" y="188.88" width="2.6" height="78.2" fill="#fff" opacity="0.05"/><rect x="690.79" y="186.76" width="2.56" height="91.26" fill="#000" opacity="0.08"/><rect x="624.11" y="184.78" width="3.29" height="93.33" fill="#fff" opacity="0.07"/><rect x="841.63" y="203.05" width="4.65" height="76.39" fill="#fff" opacity="0.03"/><rect x="730.08" y="206.98" width="2.05" height="77.77" fill="#000" opacity="0.07"/><rect x="721.38" y="187.49" width="1.4" height="102.35" fill="#000" opacity="0.03"/><rect x="614.57" y="189.5" width="3.98" height="90.9" fill="#000" opacity="0.07"/><rect x="434.11" y="198.69" width="4.11" height="93.16" fill="#fff" opacity="0.06"/><rect x="549.31" y="204.95" width="5.71" height="85.21" fill="#fff" opacity="0.06"/><rect x="797.31" y="201.2" width="2.91" height="90.25" fill="#fff" opacity="0.03"/><rect x="563.74" y="189.54" width="4.41" height="89.03" fill="#fff" opacity="0.03"/><rect x="829.17" y="206.57" width="1.54" height="79.92" fill="#fff" opacity="0.07"/><rect x="445.25" y="209.82" width="4.14" height="77.3" fill="#fff" opacity="0.03"/><rect x="625.42" y="208.92" width="5.53" height="72.18" fill="#fff" opacity="0.03"/><rect x="653.11" y="200.28" width="1.48" height="58.74" fill="#fff" opacity="0.03"/><rect x="779.59" y="184.33" width="1.32" height="101.89" fill="#fff" opacity="0.07"/><rect x="429.19" y="205.77" width="3.09" height="60.82" fill="#000" opacity="0.05"/><rect x="456.86" y="192.41" width="2.14" height="81.24" fill="#fff" opacity="0.03"/><rect x="842.29" y="196.79" width="1.64" height="64.42" fill="#fff" opacity="0.04"/><rect x="647.74" y="180.79" width="1.22" height="89.95" fill="#fff" opacity="0.04"/><rect x="519.71" y="205.52" width="3.51" height="69.5" fill="#000" opacity="0.04"/><rect x="483.16" y="185.15" width="3.95" height="75.44" fill="#fff" opacity="0.07"/><rect x="588.02" y="202.21" width="2.78" height="71.04" fill="#fff" opacity="0.06"/><rect x="580.15" y="318.91" width="5.63" height="113.73" fill="#fff" opacity="0.06"/><rect x="800.04" y="325.28" width="2.59" height="126.82" fill="#fff" opacity="0.08"/><rect x="791.57" y="314.66" width="3.77" height="155.53" fill="#000" opacity="0.09"/><rect x="639.61" y="350.56" width="2.14" height="138.48" fill="#fff" opacity="0.03"/><rect x="658.78" y="304.08" width="1.2" height="180.82" fill="#fff" opacity="0.04"/><rect x="444.54" y="314.95" width="1.33" height="167.44" fill="#fff" opacity="0.08"/><rect x="441.09" y="339.58" width="4.51" height="129.16" fill="#000" opacity="0.03"/><rect x="736.1" y="335.15" width="7.37" height="119.58" fill="#fff" opacity="0.05"/><rect x="417.04" y="326.11" width="6.44" height="146.87" fill="#fff" opacity="0.03"/><rect x="737.85" y="296.08" width="1.56" height="171.46" fill="#000" opacity="0.05"/><rect x="644.43" y="350.69" width="2.94" height="89.43" fill="#fff" opacity="0.04"/><rect x="581.17" y="337.81" width="1.24" height="106.79" fill="#000" opacity="0.05"/><rect x="642.8" y="329.73" width="1.59" height="120.52" fill="#000" opacity="0.07"/><rect x="810.02" y="318.52" width="2.53" height="170.09" fill="#fff" opacity="0.05"/><rect x="442.64" y="294.29" width="6.39" height="188.08" fill="#000" opacity="0.07"/><rect x="585.64" y="307.07" width="6.29" height="170.72" fill="#fff" opacity="0.06"/><rect x="706.04" y="340.96" width="8.02" height="96.97" fill="#fff" opacity="0.03"/><rect x="805.06" y="328.09" width="6.72" height="123.23" fill="#fff" opacity="0.04"/><rect x="417.89" y="310.08" width="7.55" height="121.26" fill="#000" opacity="0.03"/><rect x="630.45" y="332.19" width="1.21" height="116.29" fill="#000" opacity="0.07"/><rect x="700.99" y="315.46" width="5.8" height="117.94" fill="#fff" opacity="0.06"/><rect x="846.69" y="319.05" width="1.81" height="129.72" fill="#fff" opacity="0.08"/><rect x="403.33" y="327.99" width="3.81" height="118.9" fill="#000" opacity="0.04"/><rect x="745.33" y="337.68" width="6.99" height="112.54" fill="#000" opacity="0.06"/><rect x="491.62" y="339.81" width="4.65" height="104.4" fill="#fff" opacity="0.04"/><rect x="818.87" y="302.14" width="5.88" height="159.3" fill="#000" opacity="0.08"/><rect x="627.75" y="305.96" width="1.28" height="182.59" fill="#fff" opacity="0.04"/><rect x="711.1" y="319.2" width="5.03" height="118.73" fill="#fff" opacity="0.04"/><rect x="670.08" y="300.22" width="3.38" height="136.18" fill="#000" opacity="0.07"/><rect x="559.75" y="297.23" width="4.07" height="174.97" fill="#000" opacity="0.07"/><rect x="630.55" y="312.01" width="1.22" height="119.81" fill="#000" opacity="0.09"/><rect x="416.52" y="305.57" width="1.24" height="135.51" fill="#fff" opacity="0.04"/><rect x="507.56" y="324.18" width="5.39" height="114.96" fill="#fff" opacity="0.03"/><rect x="778.82" y="335.25" width="1.29" height="119.02" fill="#fff" opacity="0.04"/><rect x="729.5" y="349.48" width="1.2" height="137.86" fill="#000" opacity="0.04"/><rect x="439.96" y="318.59" width="8.96" height="167.33" fill="#fff" opacity="0.04"/><rect x="789.95" y="316.6" width="1.72" height="139.77" fill="#000" opacity="0.07"/><rect x="537.36" y="344.63" width="2.27" height="91.82" fill="#000" opacity="0.05"/><rect x="468.11" y="346.72" width="6.49" height="109.91" fill="#fff" opacity="0.07"/><rect x="777.14" y="327.18" width="4.84" height="128.46" fill="#000" opacity="0.04"/><rect x="631.98" y="303.05" width="4.08" height="149.83" fill="#000" opacity="0.04"/><rect x="399.79" y="305.48" width="1.32" height="160.83" fill="#fff" opacity="0.08"/><rect x="644.4" y="315.44" width="1.21" height="156.94" fill="#fff" opacity="0.04"/><rect x="545.26" y="329.15" width="1.73" height="146.41" fill="#fff" opacity="0.09"/><rect x="844.7" y="349.14" width="1.4" height="137.15" fill="#fff" opacity="0.03"/><rect x="714.42" y="309.29" width="1.62" height="140.92" fill="#fff" opacity="0.03"/><rect x="572.36" y="346.88" width="1.4" height="121.82" fill="#000" opacity="0.05"/><rect x="783.08" y="300.52" width="1.61" height="132.75" fill="#fff" opacity="0.05"/><rect x="598.56" y="318.35" width="6.55" height="126.91" fill="#fff" opacity="0.06"/><rect x="622.82" y="324.39" width="6.91" height="142.4" fill="#000" opacity="0.03"/><rect x="568.77" y="314.85" width="2.02" height="150.46" fill="#fff" opacity="0.05"/><rect x="600.21" y="306.34" width="1.22" height="157.76" fill="#fff" opacity="0.08"/><rect x="644.38" y="340.62" width="7.43" height="107.28" fill="#000" opacity="0.07"/><rect x="475.21" y="296.29" width="1.34" height="188.16" fill="#000" opacity="0.07"/><rect x="404.26" y="319.09" width="6.68" height="139.08" fill="#000" opacity="0.03"/><rect x="424.07" y="320.49" width="1.55" height="140.1" fill="#000" opacity="0.06"/><rect x="403.19" y="318.4" width="4.77" height="123.6" fill="#000" opacity="0.07"/><rect x="786.81" y="300.82" width="5.95" height="157.43" fill="#000" opacity="0.08"/><rect x="816.23" y="293.53" width="2.55" height="153.49" fill="#000" opacity="0.04"/><rect x="409.68" y="330.42" width="2.19" height="152.13" fill="#fff" opacity="0.05"/><rect x="799.57" y="330.74" width="5.88" height="128.54" fill="#fff" opacity="0.09"/><rect x="713.65" y="329.74" width="1.26" height="148.72" fill="#000" opacity="0.03"/><rect x="516.34" y="333.18" width="8.85" height="117.17" fill="#000" opacity="0.07"/><rect x="491.05" y="312.01" width="8.81" height="172.42" fill="#fff" opacity="0.09"/><rect x="607.06" y="309.35" width="6.63" height="138.09" fill="#000" opacity="0.07"/><rect x="456.78" y="342.63" width="5.05" height="139.02" fill="#000" opacity="0.09"/><rect x="534.64" y="348.46" width="8.32" height="134.65" fill="#000" opacity="0.07"/><rect x="768.33" y="317.11" width="1.34" height="139.56" fill="#fff" opacity="0.05"/><rect x="431.64" y="311.09" width="1.2" height="153.88" fill="#000" opacity="0.06"/><rect x="428.42" y="344.42" width="2.14" height="96.78" fill="#000" opacity="0.03"/><rect x="428.39" y="308.36" width="8.18" height="145.81" fill="#fff" opacity="0.06"/><rect x="486.08" y="309.69" width="2.2" height="143.92" fill="#000" opacity="0.05"/><rect x="635.47" y="350.65" width="4.66" height="107.82" fill="#000" opacity="0.06"/><rect x="640.46" y="307.54" width="2.52" height="150.76" fill="#000" opacity="0.04"/><rect x="797.37" y="339.48" width="6.19" height="137.92" fill="#fff" opacity="0.03"/><rect x="651.01" y="298.92" width="1.32" height="132.11" fill="#fff" opacity="0.05"/><rect x="623.83" y="320.2" width="4.99" height="162.03" fill="#fff" opacity="0.06"/><rect x="725.18" y="295.48" width="8.08" height="160.8" fill="#000" opacity="0.08"/><rect x="456.03" y="320.04" width="1.24" height="167.11" fill="#fff" opacity="0.08"/><rect x="533.66" y="305.68" width="5.84" height="153.95" fill="#fff" opacity="0.06"/><rect x="757.83" y="304.76" width="5.01" height="159.78" fill="#000" opacity="0.05"/><rect x="696.2" y="338.31" width="8.16" height="104.9" fill="#000" opacity="0.05"/><rect x="542" y="334.95" width="6.53" height="124.93" fill="#000" opacity="0.04"/><rect x="676.15" y="296.92" width="4.87" height="178.33" fill="#000" opacity="0.06"/><rect x="494.65" y="350.63" width="7.48" height="134.11" fill="#fff" opacity="0.07"/><rect x="450.85" y="314.36" width="1.59" height="174.58" fill="#fff" opacity="0.07"/><rect x="547.18" y="350.11" width="7.07" height="112.8" fill="#000" opacity="0.05"/><rect x="574.76" y="310.04" width="7.4" height="172.39" fill="#fff" opacity="0.03"/><rect x="430.76" y="333.18" width="7.67" height="122.48" fill="#000" opacity="0.09"/><rect x="713.93" y="310" width="1.4" height="143.51" fill="#fff" opacity="0.08"/><rect x="597.05" y="301.94" width="1.5" height="76.3" fill="#000" opacity="0.08"/><rect x="648.96" y="301.54" width="1.2" height="74.2" fill="#fff" opacity="0.08"/><rect x="770.62" y="295.77" width="4.14" height="72.27" fill="#000" opacity="0.06"/><rect x="698.91" y="320.03" width="2.95" height="52.39" fill="#fff" opacity="0.05"/><rect x="835.51" y="304.64" width="1.46" height="86.91" fill="#fff" opacity="0.04"/><rect x="476.75" y="311.81" width="1.89" height="72.28" fill="#fff" opacity="0.07"/><rect x="537.52" y="310.12" width="3.2" height="71.93" fill="#000" opacity="0.03"/><rect x="467.53" y="311.09" width="1.76" height="56.07" fill="#fff" opacity="0.04"/><rect x="714.21" y="306.97" width="4.64" height="58.2" fill="#000" opacity="0.04"/><rect x="387.67" y="320.35" width="2.95" height="67" fill="#fff" opacity="0.07"/><rect x="535.25" y="313.44" width="1.21" height="70.96" fill="#fff" opacity="0.05"/><rect x="395.96" y="312.8" width="1.24" height="79.26" fill="#fff" opacity="0.04"/><rect x="513.41" y="305.75" width="2.05" height="66.24" fill="#fff" opacity="0.05"/><rect x="843.5" y="312.79" width="1.31" height="63.94" fill="#000" opacity="0.04"/><rect x="735.99" y="302.98" width="2.06" height="89.52" fill="#000" opacity="0.07"/><rect x="516.85" y="312.95" width="1.59" height="58.98" fill="#000" opacity="0.07"/><rect x="702.03" y="293.45" width="2.67" height="87.42" fill="#fff" opacity="0.06"/><rect x="501.32" y="309.82" width="1.85" height="85.84" fill="#000" opacity="0.07"/><rect x="491.08" y="298.39" width="1.43" height="84.88" fill="#fff" opacity="0.08"/><rect x="815.72" y="300.4" width="1.32" height="79.94" fill="#fff" opacity="0.03"/><rect x="697.21" y="314.59" width="1.65" height="74.39" fill="#000" opacity="0.04"/><rect x="655.38" y="306" width="1.26" height="86.91" fill="#fff" opacity="0.03"/><rect x="438.74" y="295.24" width="1.37" height="97.32" fill="#fff" opacity="0.05"/><rect x="532.57" y="299" width="1.92" height="92.83" fill="#000" opacity="0.03"/><rect x="548.45" y="316.27" width="1.99" height="55.41" fill="#000" opacity="0.06"/><rect x="633.62" y="311.92" width="1.3" height="70.1" fill="#fff" opacity="0.07"/><rect x="700.5" y="304.84" width="1.2" height="80.47" fill="#000" opacity="0.03"/><rect x="769.84" y="314.99" width="1.44" height="53.14" fill="#fff" opacity="0.06"/><rect x="702.91" y="310.66" width="1.79" height="64.91" fill="#000" opacity="0.04"/><rect x="622.14" y="301.93" width="2.54" height="71.02" fill="#fff" opacity="0.03"/><rect x="633.19" y="317.64" width="1.2" height="61.23" fill="#000" opacity="0.03"/><rect x="715.83" y="314.07" width="4.38" height="66.37" fill="#fff" opacity="0.07"/><rect x="588.68" y="303.08" width="1.68" height="63.77" fill="#fff" opacity="0.05"/><rect x="562.26" y="300.14" width="1.61" height="66.54" fill="#fff" opacity="0.07"/><rect x="663.65" y="304.43" width="3.87" height="82.85" fill="#fff" opacity="0.05"/><rect x="771.7" y="319.54" width="4.24" height="55" fill="#fff" opacity="0.05"/><rect x="818.19" y="309.26" width="3.97" height="63.44" fill="#fff" opacity="0.07"/><rect x="652.66" y="299.9" width="4.7" height="91.46" fill="#000" opacity="0.08"/><rect x="407.23" y="312.95" width="2.48" height="60.9" fill="#fff" opacity="0.06"/><rect x="668.27" y="295.85" width="2.66" height="94.77" fill="#000" opacity="0.04"/><rect x="603.23" y="423.31" width="2.63" height="63.86" fill="#fff" opacity="0.03"/><rect x="812.54" y="399.68" width="3.16" height="88.32" fill="#000" opacity="0.03"/><rect x="581.95" y="419.87" width="4.07" height="42.87" fill="#fff" opacity="0.05"/><rect x="625.18" y="422.73" width="4.23" height="56.05" fill="#000" opacity="0.04"/><rect x="570.8" y="403.88" width="1.42" height="72.58" fill="#000" opacity="0.03"/><rect x="695.92" y="417.06" width="4.51" height="60.16" fill="#fff" opacity="0.03"/><rect x="797.62" y="399.01" width="2.74" height="76.89" fill="#000" opacity="0.06"/><rect x="775.64" y="409.6" width="4.35" height="61.58" fill="#000" opacity="0.02"/><rect x="625.27" y="403.13" width="1.37" height="66.91" fill="#fff" opacity="0.03"/><rect x="561.53" y="401.43" width="3.4" height="86.33" fill="#000" opacity="0.03"/><rect x="410.37" y="410.22" width="2.37" height="69.23" fill="#fff" opacity="0.04"/><rect x="415.17" y="407.74" width="1.6" height="78.26" fill="#fff" opacity="0.05"/><rect x="417.37" y="405.25" width="1.26" height="66.09" fill="#fff" opacity="0.06"/><rect x="408.63" y="421.53" width="2.6" height="67.02" fill="#fff" opacity="0.04"/><rect x="654.29" y="422.53" width="1.24" height="55.98" fill="#fff" opacity="0.05"/><rect x="542.53" y="420.44" width="1.2" height="61.95" fill="#fff" opacity="0.03"/><rect x="472.25" y="403.93" width="1.57" height="58.58" fill="#fff" opacity="0.06"/><rect x="775.54" y="412.03" width="1.21" height="53.61" fill="#fff" opacity="0.03"/><rect x="754.68" y="423.47" width="2.82" height="62.05" fill="#fff" opacity="0.03"/><rect x="537.14" y="413.31" width="1.21" height="74.26" fill="#fff" opacity="0.04"/><rect x="426.98" y="423.93" width="3.02" height="55.09" fill="#fff" opacity="0.05"/><rect x="840.65" y="423.32" width="3.95" height="55.79" fill="#fff" opacity="0.04"/><rect x="422.59" y="412.48" width="4.68" height="64.94" fill="#000" opacity="0.03"/><rect x="405.22" y="412.89" width="2.8" height="56.49" fill="#000" opacity="0.06"/><rect x="643.25" y="418.61" width="1.91" height="67.64" fill="#000" opacity="0.03"/><rect x="798.64" y="397.41" width="2.87" height="69.17" fill="#fff" opacity="0.07"/><rect x="567.74" y="413.11" width="1.67" height="72.11" fill="#000" opacity="0.03"/><rect x="618.98" y="404.5" width="2.21" height="84.24" fill="#fff" opacity="0.02"/><rect x="712.53" y="422.82" width="3.51" height="39.52" fill="#fff" opacity="0.03"/><rect x="703.87" y="422.02" width="1.52" height="54.23" fill="#fff" opacity="0.04"/><rect x="529.13" y="401.21" width="2.41" height="61.23" fill="#000" opacity="0.06"/><rect x="824.95" y="421.43" width="2.97" height="47.74" fill="#fff" opacity="0.04"/><rect x="625.6" y="416.77" width="2.31" height="48.73" fill="#fff" opacity="0.05"/><rect x="429.42" y="420.84" width="4.08" height="57.86" fill="#fff" opacity="0.02"/><rect x="439.94" y="407.46" width="4.37" height="69.46" fill="#fff" opacity="0.06"/><rect x="633.61" y="407.7" width="2.47" height="78.9" fill="#fff" opacity="0.04"/><rect x="533.96" y="401.37" width="1.81" height="60.51" fill="#000" opacity="0.05"/><rect x="818.53" y="400.09" width="1.51" height="61.94" fill="#000" opacity="0.05"/><rect x="788.17" y="412.7" width="1.64" height="68.87" fill="#fff" opacity="0.03"/><rect x="496.13" y="417.07" width="1.44" height="58.37" fill="#fff" opacity="0.06"/><rect x="485.59" y="497.25" width="6.05" height="19.57" fill="#777" opacity="0.06"/><rect x="516.97" y="496.27" width="7.27" height="19.05" fill="#777" opacity="0.06"/><rect x="426.4" y="501.31" width="6.39" height="7.8" fill="#777" opacity="0.06"/><rect x="601.26" y="496.36" width="7.01" height="16.07" fill="#777" opacity="0.1"/><rect x="394.26" y="498.2" width="7.02" height="14.73" fill="#777" opacity="0.05"/><rect x="600.02" y="505.04" width="5.47" height="18.96" fill="#777" opacity="0.1"/><rect x="835.1" y="503.37" width="4.76" height="20.63" fill="#777" opacity="0.04"/><rect x="723.23" y="496.38" width="6.04" height="17.37" fill="#777" opacity="0.08"/><rect x="689.67" y="505.1" width="2.04" height="12.32" fill="#777" opacity="0.09"/><rect x="458.43" y="494.7" width="6.21" height="16.02" fill="#777" opacity="0.08"/><rect x="566.35" y="499.69" width="7.03" height="7.02" fill="#777" opacity="0.03"/><rect x="410.5" y="505.14" width="4.38" height="11.92" fill="#777" opacity="0.09"/><rect x="685.38" y="501.87" width="6.92" height="9.63" fill="#777" opacity="0.09"/><rect x="580.63" y="494.19" width="8.54" height="8.07" fill="#777" opacity="0.04"/><rect x="723.8" y="499.18" width="2.75" height="15.24" fill="#777" opacity="0.07"/><rect x="523.46" y="499.43" width="8.17" height="9.16" fill="#777" opacity="0.07"/><rect x="439.16" y="496.08" width="6.69" height="22.03" fill="#777" opacity="0.04"/><rect x="530.46" y="500.84" width="3.51" height="13.3" fill="#777" opacity="0.06"/><rect x="594.36" y="497.14" width="6.28" height="11.8" fill="#777" opacity="0.05"/><rect x="454.09" y="505.21" width="6.37" height="18.79" fill="#777" opacity="0.1"/><rect x="437.97" y="494.9" width="7.02" height="20.68" fill="#777" opacity="0.09"/><rect x="608.91" y="499.56" width="8.91" height="15.74" fill="#777" opacity="0.05"/><rect x="766.01" y="500.01" width="5.95" height="13.65" fill="#777" opacity="0.08"/><rect x="420.41" y="494.88" width="6.43" height="9.91" fill="#777" opacity="0.03"/><rect x="627.52" y="496.56" width="8.6" height="8.03" fill="#777" opacity="0.07"/><rect x="396.66" y="499.34" width="4.45" height="7.4" fill="#777" opacity="0.09"/><rect x="564.77" y="495.35" width="6.11" height="23.43" fill="#777" opacity="0.04"/><rect x="602.86" y="495.89" width="2.62" height="8.44" fill="#777" opacity="0.06"/><rect x="427.66" y="500.78" width="5.27" height="9.43" fill="#777" opacity="0.08"/><rect x="422.23" y="503.72" width="6.02" height="17.05" fill="#777" opacity="0.03"/><rect x="421.7" y="495.55" width="2.32" height="15.47" fill="#777" opacity="0.1"/><rect x="557.75" y="497.24" width="7.52" height="23.51" fill="#777" opacity="0.06"/><rect x="477.35" y="495.37" width="3.34" height="7.47" fill="#777" opacity="0.09"/><rect x="721.86" y="501.23" width="3.02" height="14.35" fill="#777" opacity="0.04"/><rect x="844.33" y="500.88" width="3.66" height="12.49" fill="#777" opacity="0.06"/><rect x="845.75" y="496.86" width="7.36" height="18.67" fill="#777" opacity="0.06"/><rect x="497.35" y="496.8" width="5.91" height="20.61" fill="#777" opacity="0.05"/><rect x="432.65" y="496.03" width="8.04" height="18.75" fill="#777" opacity="0.09"/><rect x="723.62" y="497.25" width="8.65" height="12.71" fill="#777" opacity="0.07"/><rect x="441.4" y="501.92" width="8.92" height="18.24" fill="#777" opacity="0.07"/><rect x="620.76" y="495.27" width="3.36" height="10.58" fill="#777" opacity="0.03"/><rect x="675.69" y="505.05" width="3.26" height="7.97" fill="#777" opacity="0.05"/><rect x="784.79" y="498.97" width="6.35" height="19.17" fill="#777" opacity="0.06"/><rect x="459.49" y="504.47" width="8.86" height="19.28" fill="#777" opacity="0.05"/><rect x="621.77" y="494.46" width="2.61" height="23.03" fill="#777" opacity="0.06"/><rect x="488.16" y="500.31" width="7.52" height="17.91" fill="#777" opacity="0.04"/><rect x="593.29" y="497.53" width="4.86" height="9.21" fill="#777" opacity="0.09"/><rect x="730.73" y="497.28" width="5.95" height="17.42" fill="#777" opacity="0.06"/><rect x="387.95" y="501.99" width="6.36" height="22.01" fill="#777" opacity="0.09"/><rect x="423.47" y="494.53" width="4.22" height="7.23" fill="#777" opacity="0.06"/><rect x="483.72" y="501.53" width="2.43" height="22.47" fill="#777" opacity="0.09"/><rect x="411.79" y="494.45" width="4.08" height="13.57" fill="#777" opacity="0.1"/><rect x="476.22" y="499.95" width="7.11" height="15.35" fill="#777" opacity="0.09"/><rect x="531.02" y="502.86" width="4.28" height="8.53" fill="#777" opacity="0.04"/><rect x="576.9" y="497.63" width="4.76" height="10.57" fill="#777" opacity="0.09"/><rect x="576.7" y="503.44" width="4.16" height="20.56" fill="#777" opacity="0.08"/><rect x="833.45" y="499.37" width="2.86" height="20.6" fill="#777" opacity="0.1"/><rect x="478.73" y="496.54" width="7.21" height="13.16" fill="#777" opacity="0.08"/><rect x="743.58" y="497.07" width="2.4" height="23.34" fill="#777" opacity="0.07"/><rect x="654.77" y="499.41" width="3.79" height="10.88" fill="#777" opacity="0.04"/><rect x="518.89" y="500.28" width="5.9" height="15.44" fill="#777" opacity="0.05"/><rect x="588.89" y="505.04" width="8.12" height="18.96" fill="#777" opacity="0.05"/><rect x="680.89" y="497.93" width="7.37" height="14.59" fill="#777" opacity="0.09"/><rect x="712.6" y="494.96" width="7.08" height="6.95" fill="#777" opacity="0.08"/><rect x="652.17" y="494.05" width="3.2" height="10.24" fill="#777" opacity="0.07"/><rect x="554.79" y="495.84" width="6.55" height="17.67" fill="#777" opacity="0.04"/><rect x="801.72" y="494.05" width="3.79" height="20.42" fill="#777" opacity="0.05"/><rect x="576.44" y="496.44" width="3.01" height="13.18" fill="#777" opacity="0.05"/><rect x="620.99" y="499.25" width="3.87" height="6.52" fill="#777" opacity="0.07"/><rect x="665.24" y="502.59" width="8.29" height="7.42" fill="#777" opacity="0.06"/><rect x="738.53" y="494.64" width="7.03" height="6.51" fill="#777" opacity="0.06"/><rect x="594.21" y="497.18" width="2.96" height="12.29" fill="#777" opacity="0.09"/><rect x="507.08" y="504.08" width="7.64" height="10.44" fill="#777" opacity="0.09"/><rect x="424.39" y="495.19" width="4.68" height="11.82" fill="#777" opacity="0.05"/><rect x="739.48" y="498.01" width="7.83" height="12.11" fill="#777" opacity="0.1"/><rect x="462.2" y="501.1" width="5.31" height="17.84" fill="#777" opacity="0.04"/><rect x="533.82" y="503.08" width="3.04" height="19.1" fill="#777" opacity="0.09"/><rect x="585.81" y="504.79" width="2.13" height="7.9" fill="#777" opacity="0.05"/><rect x="401.25" y="502.33" width="4.77" height="21.67" fill="#777" opacity="0.07"/><rect x="427.44" y="495.18" width="8.19" height="9.67" fill="#777" opacity="0.05"/><rect x="797.24" y="504.12" width="4.87" height="16.02" fill="#777" opacity="0.06"/><rect x="751.38" y="497.26" width="3.48" height="22.41" fill="#777" opacity="0.07"/><rect x="563.29" y="502.99" width="6.4" height="18.82" fill="#777" opacity="0.07"/><rect x="675.92" y="499.78" width="3.66" height="21.89" fill="#777" opacity="0.09"/><rect x="397.1" y="497.14" width="3.78" height="11.89" fill="#777" opacity="0.05"/><rect x="517.21" y="496.89" width="5.31" height="19.14" fill="#777" opacity="0.03"/><rect x="832.81" y="504.73" width="3.32" height="18.23" fill="#777" opacity="0.09"/><rect x="588.37" y="501.33" width="4.27" height="9.52" fill="#777" opacity="0.06"/><rect x="637.82" y="503.62" width="2.86" height="14.25" fill="#777" opacity="0.07"/><rect x="701.33" y="495.65" width="8.29" height="9.45" fill="#777" opacity="0.04"/><rect x="832.83" y="502.62" width="5.02" height="9" fill="#777" opacity="0.09"/><rect x="445.12" y="494.32" width="6.73" height="21.56" fill="#777" opacity="0.06"/><rect x="677.75" y="496.43" width="6.2" height="14.18" fill="#777" opacity="0.03"/><rect x="749.67" y="497.33" width="5.19" height="13.09" fill="#777" opacity="0.06"/><rect x="460.84" y="502.12" width="4.56" height="16.07" fill="#777" opacity="0.1"/><rect x="733.66" y="495.77" width="7.8" height="15.37" fill="#777" opacity="0.05"/><rect x="497.6" y="500.83" width="4.3" height="13.46" fill="#777" opacity="0.06"/><rect x="556.18" y="499.07" width="8.91" height="22.53" fill="#777" opacity="0.1"/><rect x="674.59" y="506" width="8.84" height="18" fill="#777" opacity="0.08"/><rect x="489.37" y="494.64" width="3.29" height="9.91" fill="#777" opacity="0.07"/><rect x="589.43" y="497.61" width="7.28" height="17.17" fill="#777" opacity="0.06"/><rect x="489.38" y="497.51" width="7.43" height="15.34" fill="#777" opacity="0.05"/><rect x="687.2" y="494.75" width="3.22" height="17.28" fill="#777" opacity="0.06"/><rect x="688.4" y="503.33" width="2.55" height="6.87" fill="#777" opacity="0.1"/><rect x="821.88" y="497.75" width="7.61" height="17.62" fill="#777" opacity="0.1"/><rect x="718.99" y="494.36" width="6.62" height="6.65" fill="#777" opacity="0.07"/><rect x="602.4" y="496.3" width="5.43" height="11.49" fill="#777" opacity="0.09"/><rect x="555.97" y="496" width="8.8" height="15.57" fill="#777" opacity="0.07"/><rect x="704.66" y="503.08" width="7.64" height="20.72" fill="#777" opacity="0.03"/><rect x="424.44" y="496.38" width="2.93" height="18.93" fill="#777" opacity="0.07"/></g>
</g>
<rect x="739" y="502" width="102" height="20.7" fill="#000"/>
<text x="755.5" y="489.1" font-size="28">1 <tspan font-family="'Liberation Serif', 'DejaVu Serif', serif">μ</tspan>m</text>
<text x="624" y="168.2" font-size="28.35" text-anchor="middle" font-weight="bold">Si</text>
<text x="624" y="361.6" font-size="28.35" text-anchor="middle" font-weight="bold">Si</text>
<text x="624" y="482.8" font-size="28.35" text-anchor="middle" font-weight="bold">Si</text>
<text x="447.8" y="527.3" font-size="28.35" text-anchor="middle" font-weight="bold">W</text>
<text x="589.5" y="248" font-size="28.35" font-weight="bold">SiO<tspan font-size="19.5" dy="7.4">2</tspan></text>
<text x="589.5" y="433.7" font-size="28.35" font-weight="bold">SiO<tspan font-size="19.5" dy="7.4">2</tspan></text>
<text x="236.2" y="595" font-size="29.35">sim. [400 910 820 450 340]</text>
<text x="236.2" y="641" font-size="29.35">exp. [370 1000 700 465 340]</text>
</g>
<g id="panel-b">
<text x="951" y="36" font-size="42" font-weight="bold">b</text>
<path d="M1067 38.7H1872M1067 659H1872M1067 38.7V659M1872 38.7V659" stroke="#262626" stroke-width="5.4" fill="none"/>
<path d="M1228 659v-8.3M1389 659v-8.3M1472.72 659v-8.3M1550 659v-8.3M1711 659v-8.3M1228 38.7v8.3M1389 38.7v8.3M1550 38.7v8.3M1711 38.7v8.3M1067 534.94h8.3M1872 534.94h-8.3M1067 410.88h8.3M1872 410.88h-8.3M1067 286.82h8.3M1872 286.82h-8.3M1067 162.76h8.3M1872 162.76h-8.3" stroke="#262626" stroke-width="5.2" fill="none"/>
<text x="1067" y="697" font-size="29.35" text-anchor="middle">3</text>
<text x="1228" y="697" font-size="29.35" text-anchor="middle">3.5</text>
<text x="1389" y="697" font-size="29.35" text-anchor="middle">4</text>
<text x="1472.72" y="697" font-size="29.35" text-anchor="middle">4.26</text>
<text x="1550" y="697" font-size="29.35" text-anchor="middle">4.5</text>
<text x="1711" y="697" font-size="29.35" text-anchor="middle">5</text>
<text x="1872" y="697" font-size="29.35" text-anchor="middle">5.5</text>
<text x="1049.3" y="669.6" font-size="29.35" text-anchor="end">0</text>
<text x="1049.3" y="545.54" font-size="29.35" text-anchor="end">0.2</text>
<text x="1049.3" y="421.48" font-size="29.35" text-anchor="end">0.4</text>
<text x="1049.3" y="297.42" font-size="29.35" text-anchor="end">0.6</text>
<text x="1049.3" y="173.36" font-size="29.35" text-anchor="end">0.8</text>
<text x="1049.3" y="49.3" font-size="29.35" text-anchor="end">1</text>
<text x="1469" y="742.1" font-size="29.35" text-anchor="middle">Wavelength (<tspan font-family="'Liberation Serif', 'DejaVu Serif', serif">μ</tspan>m)</text>
<text font-size="29.35" text-anchor="middle" transform="translate(976.5 347.5) rotate(-90)">Emissivity/absorptivity</text>
<g clip-path="url(#clipb)" fill="none">
<path d="M1067.3 644.6L1070.01 644.82L1072.71 644.97L1075.42 645.08L1078.12 645.15L1080.83 645.19L1083.53 645.2L1086.24 645.19L1088.94 645.07L1091.65 644.89L1094.35 644.69L1097.06 644.43L1099.76 644.12L1102.47 643.75L1105.17 643.33L1107.88 642.87L1110.58 642.37L1113.29 641.83L1115.99 641.26L1118.7 640.67L1121.4 640.05L1124.11 639.42L1126.81 638.74L1129.52 637.95L1132.22 637.07L1134.93 636.12L1137.63 635.11L1140.34 634.05L1143.04 632.97L1145.75 631.88L1148.45 630.68L1151.16 629.32L1153.86 627.9L1156.57 626.54L1159.27 625.34L1161.98 624.38L1164.68 623.52L1167.39 622.67L1170.09 621.96L1172.8 621.47L1175.5 621.3L1178.21 621.45L1180.91 621.82L1183.62 622.36L1186.32 622.99L1189.03 623.69L1191.73 624.78L1194.44 626.22L1197.14 627.86L1199.85 629.57L1202.55 631.21L1205.26 632.69L1207.96 634.21L1210.67 635.74L1213.37 637.24L1216.08 638.65L1218.78 639.91L1221.49 641.01L1224.19 642.04L1226.9 643.01L1229.6 643.91L1232.31 644.76L1235.01 645.55L1237.72 646.27L1240.42 646.95L1243.13 647.62L1245.83 648.27L1248.54 648.9L1251.24 649.49L1253.95 650.05L1256.65 650.55L1259.36 650.98L1262.06 651.35L1264.77 651.63L1267.47 651.88L1270.18 652.11L1272.88 652.32L1275.59 652.52L1278.29 652.7L1281 652.87L1283.7 653.02L1286.41 653.16L1289.11 653.27L1291.82 653.38L1294.52 653.46L1297.23 653.53L1299.93 653.59L1302.64 653.65L1305.34 653.7L1308.05 653.75L1310.75 653.78L1313.46 653.8L1316.16 653.8L1318.87 653.75L1321.57 653.66L1324.28 653.53L1326.98 653.37L1329.69 653.18L1332.39 652.97L1335.1 652.73L1337.8 652.48L1340.51 652.22L1343.21 651.96L1345.92 651.69L1348.62 651.43L1351.33 651.13L1354.03 650.81L1356.74 650.45L1359.44 650.07L1362.15 649.66L1364.85 649.22L1367.56 648.76L1370.26 648.27L1372.97 647.75L1375.67 647.21L1378.38 646.65L1381.08 646.03L1383.79 645.33L1386.49 644.56L1389.2 643.72L1391.9 642.82L1394.61 641.88L1397.31 640.9L1400.02 639.9L1402.72 638.83L1405.43 637.66L1408.13 636.32L1410.84 634.77L1413.54 632.87L1416.25 630.61L1418.95 628.04L1421.66 625.2L1424.36 622.1L1427.07 618.59L1429.77 614.51L1432.48 609.72L1435.18 603.9L1437.89 596.32L1440.59 585.88L1443.3 570L1443.87 566.27L1444.43 562.54L1444.98 558.81L1445.51 555.08L1446.03 551.36L1446.53 547.63L1447.01 543.9L1447.46 540.17L1447.9 536.44L1448.33 532.71L1448.76 528.98L1449.17 525.25L1449.57 521.53L1449.96 517.8L1450.33 514.07L1450.7 510.34L1451.05 506.61L1451.4 502.88L1451.73 499.15L1452.04 495.42L1452.35 491.69L1452.65 487.97L1452.93 484.24L1453.21 480.51L1453.48 476.78L1453.75 473.05L1454.01 469.32L1454.26 465.59L1454.51 461.86L1454.76 458.14L1455.01 454.41L1455.26 450.68L1455.5 446.95L1455.74 443.22L1455.97 439.49L1456.2 435.76L1456.43 432.03L1456.65 428.31L1456.87 424.58L1457.09 420.85L1457.31 417.12L1457.53 413.39L1457.74 409.66L1457.95 405.93L1458.16 402.2L1458.37 398.47L1458.58 394.75L1458.78 391.02L1458.98 387.29L1459.19 383.56L1459.38 379.83L1459.58 376.1L1459.78 372.37L1459.97 368.64L1460.16 364.92L1460.35 361.19L1460.53 357.46L1460.72 353.73L1460.9 350L1461.4 310.01L1461.81 299.06L1462.21 287.83L1462.61 276.32L1463.02 264.57L1463.42 252.59L1463.82 240.41L1464.23 228.06L1464.63 215.57L1465.03 203L1465.44 190.38L1465.84 177.78L1466.24 165.26L1466.65 152.88L1467.05 140.71L1467.45 128.84L1467.86 117.35L1468.26 106.33L1468.66 95.86L1469.07 86.04L1469.47 76.95L1469.87 68.69L1470.28 61.33L1470.68 54.96L1471.08 49.64L1471.49 45.44L1471.89 42.4L1472.29 40.56L1472.7 39.94L1473.1 40.55L1473.51 42.38L1473.91 45.41L1474.31 49.6L1474.72 54.91L1475.12 61.27L1475.52 68.62L1475.93 76.88L1476.33 85.96L1476.73 95.78L1477.14 106.24L1477.54 117.26L1477.94 128.75L1478.35 140.61L1478.75 152.77L1479.15 165.15L1479.56 177.68L1479.96 190.28L1480.36 202.89L1480.77 215.47L1481.17 227.95L1481.57 240.31L1481.98 252.49L1482.38 264.47L1482.78 276.23L1483.19 287.73L1483.59 298.96L1483.99 309.92L1484.4 320.58L1484.9 350L1485.1 354.66L1485.3 359.32L1485.52 363.98L1485.75 368.64L1485.99 373.31L1486.23 377.97L1486.49 382.63L1486.75 387.29L1487.02 391.95L1487.29 396.61L1487.58 401.27L1487.87 405.93L1488.17 410.59L1488.5 415.25L1488.84 419.92L1489.19 424.58L1489.54 429.24L1489.9 433.9L1490.27 438.56L1490.63 443.22L1490.98 447.88L1491.33 452.54L1491.67 457.2L1492.01 461.86L1492.35 466.53L1492.7 471.19L1493.06 475.85L1493.43 480.51L1493.81 485.17L1494.21 489.83L1494.63 494.49L1495.08 499.15L1495.56 503.81L1496.06 508.47L1496.59 513.14L1497.15 517.8L1497.74 522.46L1498.35 527.12L1499 531.78L1499.68 536.44L1500.39 541.1L1501.16 545.76L1501.97 550.42L1502.85 555.08L1503.79 559.75L1504.79 564.41L1505.85 569.07L1506.98 573.73L1508.19 578.39L1509.51 583.05L1510.94 587.71L1512.48 592.37L1514.13 597.03L1515.93 601.69L1517.94 606.36L1520.15 611.02L1522.55 615.68L1525.1 620.34L1527.8 625L1530.28 627.98L1532.75 630.8L1535.23 633.37L1537.71 635.62L1540.18 637.46L1542.66 638.96L1545.13 640.34L1547.61 641.58L1550.09 642.71L1552.56 643.72L1555.04 644.63L1557.52 645.44L1559.99 646.17L1562.47 646.84L1564.94 647.48L1567.42 648.08L1569.9 648.63L1572.37 649.12L1574.85 649.56L1577.33 649.93L1579.8 650.23L1582.28 650.47L1584.75 650.69L1587.23 650.89L1589.71 651.09L1592.18 651.27L1594.66 651.44L1597.14 651.59L1599.61 651.74L1602.09 651.88L1604.56 652L1607.04 652.12L1609.52 652.23L1611.99 652.33L1614.47 652.42L1616.95 652.5L1619.42 652.58L1621.9 652.66L1624.37 652.73L1626.85 652.8L1629.33 652.87L1631.8 652.94L1634.28 653.01L1636.76 653.07L1639.23 653.13L1641.71 653.19L1644.18 653.24L1646.66 653.28L1649.14 653.32L1651.61 653.35L1654.09 653.37L1656.57 653.39L1659.04 653.4L1661.52 653.4L1663.99 653.39L1666.47 653.38L1668.95 653.36L1671.42 653.34L1673.9 653.31L1676.38 653.28L1678.85 653.24L1681.33 653.2L1683.8 653.16L1686.28 653.11L1688.76 653.07L1691.23 653.02L1693.71 652.96L1696.19 652.87L1698.66 652.76L1701.14 652.63L1703.61 652.47L1706.09 652.3L1708.57 652.11L1711.04 651.91L1713.52 651.7L1716 651.48L1718.47 651.26L1720.95 651.04L1723.42 650.81L1725.9 650.59L1728.38 650.38L1730.85 650.17L1733.33 649.97L1735.81 649.79L1738.28 649.61L1740.76 649.43L1743.23 649.25L1745.71 649.07L1748.19 648.89L1750.66 648.71L1753.14 648.53L1755.62 648.35L1758.09 648.17L1760.57 647.99L1763.04 647.8L1765.52 647.61L1768 647.41L1770.47 647.22L1772.95 647.01L1775.43 646.8L1777.9 646.59L1780.38 646.37L1782.85 646.15L1785.33 645.93L1787.81 645.71L1790.28 645.48L1792.76 645.24L1795.24 645L1797.71 644.74L1800.19 644.47L1802.66 644.19L1805.14 643.9L1807.62 643.59L1810.09 643.26L1812.57 642.9L1815.05 642.51L1817.52 642.1L1820 641.66L1822.47 641.2L1824.95 640.72L1827.43 640.22L1829.9 639.69L1832.38 639.14L1834.86 638.55L1837.33 637.93L1839.81 637.28L1842.28 636.59L1844.76 635.86L1847.24 635.1L1849.71 634.3L1852.19 633.45L1854.67 632.55L1857.14 631.58L1859.62 630.49L1862.09 629.29L1864.57 627.9L1867.05 626.22L1869.52 624.29L1872 622.2" stroke="#a5142f" stroke-width="7" stroke-linejoin="round"/>
<path d="M1472.6 36.4V60" stroke="#a5142f" stroke-width="6.4" stroke-linecap="round"/>
<path d="M1067.3 599.6L1081 600.8L1095 602.3M1115.6 607L1129 609.8L1143 612.9M1164.7 615.5L1178 615.9L1192.7 615.5M1214.4 615L1228 613.7L1242.2 611.7M1263.1 606.6L1277 604.3L1291 602.2M1312 597.7L1326 596L1339.9 594.5M1360.8 591.4L1374 589L1388.1 586.3M1408.4 579.3L1420.4 576.8L1430.6 572.3L1435.7 573M1454 563.6L1458.5 551L1461.1 536.2M1463.6 514.7L1466.8 486.9M1468 465.2L1470.3 437.4M1470.7 415.4L1472.6 387.5M1473.2 365.5L1474.5 337.7M1474.5 316.2L1476 288.4M1476 266.3L1477.6 238.5M1478 216.5L1479.5 188.7M1479.9 166.6L1481.4 138.8M1482.7 116.7L1484.6 103L1486 96.3L1486.7 100.5M1488.5 127.3L1491.8 155.1M1491 177.1L1493.7 205M1493.3 227L1495.2 254.4M1494.8 276.9L1496.8 304.3M1496.2 326.2L1498.1 354M1499.1 376L1500.6 403.8M1501.4 425.5L1503.3 453.3M1503.8 475.4L1506.7 491.1L1512.5 502.6M1525 481.5L1533.6 473.9L1543.2 488.2M1553.1 479.3L1562.6 488.8L1572.1 479.3M1580.8 464.9L1588.2 467.4L1593.2 460.8L1599 460.8M1606.4 437.7L1615.5 429.5L1628.6 423.7M1650.1 425.3L1655.9 427.8L1661.6 434.4L1667.4 435.2L1672.3 436.9M1681.4 450.9L1688 454.2L1692.1 445.1L1696.3 443.5L1698.7 438.5M1708.6 449.3L1713.6 454.2L1717.7 451.7L1723.5 456.7L1727.6 449.3M1736.7 468.2L1746.6 475.6L1752.3 473.2L1758.9 478.9M1779.5 488.8L1785.3 485.5L1792.7 488L1802.6 493M1821.6 489.7L1834 493.8L1843.9 488M1862 495.4L1872 497.1" stroke="#fdb000" stroke-width="7" stroke-linejoin="round"/>
<path d="M1067 658.6L1100 658L1130 656.8L1161.6 653.8L1177.4 653.6L1186 652.5L1191.2 650.2L1196 654L1200.7 658.5L1205 660L1211.2 659.4L1218 656L1226 653.2L1233 655L1240 657L1260 656.8L1300 656.7L1360 656.7L1400 656.5L1425 656.2L1434 655.4L1440 652.5L1443.2 648L1444.3 640L1445 614L1445.9 572L1447.1 519.4L1448.6 445.5L1450.1 346.3L1450.6 330L1451.6 240L1452.6 150L1453.3 90L1453.7 66L1455 61.5L1460 58.7L1466 56.6L1472 54.8L1477.2 54.1L1483 56.5L1488.4 60.7L1491.5 66L1493 73L1493.6 101.6L1494.6 130L1495.6 159L1497 173L1498.7 187.5L1501 200L1501.7 242.8L1502.4 285.8L1503.2 316.4L1503.8 330L1506.3 385.6L1507.7 425.9L1508.6 443.2L1508.9 470L1509 481.5L1510.4 466L1512.5 454.7L1515.4 457.6L1518.2 471.9L1519.8 486.3L1523 498.8L1524.9 511.3L1525.5 525.7L1526.3 540L1528.8 553.5L1528.8 565.9L1531.3 581.3L1533.2 595.7L1534.5 610L1536.5 623.5L1539.4 637.6L1546.8 649.2L1559.4 653.8L1574.2 655.8L1600 655.4L1625 653L1640 651.2L1660 653L1692 651.6L1730 651.3L1741.7 650.4L1748 649.2L1755.4 648.8L1762 650.6L1780 651.3L1830 651.2L1872 651.1" stroke="#4dbbeb" stroke-width="6.6" stroke-dasharray="6.5 7.4" stroke-linejoin="round"/>
</g>
<path d="M1534 102.5H1640.4" stroke="#a5142f" stroke-width="7"/>
<path d="M1534 153.4H1640.4" stroke="#fdb000" stroke-width="7" stroke-dasharray="21.5 20.95"/>
<path d="M1534 214.3H1636" stroke="#4dbbeb" stroke-width="6.8" stroke-dasharray="5.4 5.22"/>
<text x="1654.6" y="110.6" font-size="25.2">Simulated</text>
<text x="1654.6" y="161.4" font-size="25.2">Measured</text>
<text x="1654.6" y="221.4" font-size="25.2">CO<tspan font-size="17.5" dy="8">2</tspan></text>
<text x="1161.3" y="179.2" font-size="29.3" font-weight="bold" fill="#c00000">Reward: 60.62</text>
</g>
<g id="panel-c">
<text x="-1" y="827.5" font-size="42" font-weight="bold">c</text>
<rect x="121.8" y="866.7" width="248.2" height="585.3" fill="#eeeeee"/>
<rect x="121.8" y="946.88" width="248.2" height="182.41" fill="#3282a2"/>
<rect x="121.8" y="1293.65" width="248.2" height="90.2" fill="#3282a2"/>
<path clip-path="url(#clipc1)" d="M137.4 866L137.34 868.7L137.23 871.41L137.05 874.13L136.78 876.84L136.4 879.53L135.89 882.19L135.24 884.81L134.44 887.39L133.52 889.94L132.53 892.46L131.51 894.98L130.49 897.5L129.52 900.03L128.64 902.6L127.87 905.2L127.19 907.82L126.61 910.47L126.12 913.14L125.69 915.83L125.34 918.53L125.03 921.23L124.78 923.94L124.57 926.64L124.42 929.35L124.34 932.06L124.33 934.77L124.4 937.48L124.57 940.2L124.85 942.91L125.24 945.6L125.76 948.26L126.41 950.89L127.22 953.48L128.17 956.01L129.25 958.5L130.45 960.94L131.75 963.33L133.13 965.69L134.58 968L136.08 970.27L137.63 972.51L139.22 974.71L140.85 976.87L142.52 979.01L144.22 981.12L145.95 983.21L147.72 985.27L149.5 987.3L151.31 989.32L153.14 991.32L154.98 993.31L156.84 995.28L158.71 997.25L160.58 999.21L162.45 1001.17L164.31 1003.14L166.17 1005.11L168.02 1007.1L169.84 1009.1L171.65 1011.12L173.43 1013.16L175.19 1015.22L176.91 1017.32L178.59 1019.45L180.24 1021.6L181.85 1023.78L183.42 1026L184.96 1028.23L186.45 1030.5L187.9 1032.79L189.31 1035.11L190.68 1037.46L192 1039.82L193.27 1042.22L194.49 1044.64L195.65 1047.09L196.76 1049.56L197.82 1052.06L198.81 1054.6L199.73 1057.16L200.59 1059.74L201.37 1062.36L202.07 1065L202.68 1067.65L203.2 1070.33L203.61 1073.01L203.93 1075.71L204.12 1078.42L204.2 1081.13L204.16 1083.84L204 1086.55L203.72 1089.25L203.33 1091.95L202.83 1094.63L202.24 1097.29L201.54 1099.94L200.75 1102.56L199.86 1105.15L198.89 1107.71L197.84 1110.24L196.71 1112.73L195.5 1115.18L194.21 1117.58L192.84 1119.93L191.38 1122.22L189.85 1124.46L188.24 1126.64L186.54 1128.76L184.77 1130.8L182.92 1132.78L181 1134.69L179.01 1136.54L176.95 1138.31L174.84 1140.03L172.67 1141.68L170.45 1143.27L168.19 1144.8L165.89 1146.28L163.55 1147.71L161.2 1149.1L158.84 1150.47L156.48 1151.82L154.13 1153.17L151.81 1154.52L149.51 1155.88L147.26 1157.26L145.06 1158.68L142.88 1160.14L140.74 1161.67L138.6 1163.26L136.46 1164.93L134.31 1166.7L132.13 1168.58L129.93 1170.57L127.75 1172.68L125.74 1174.88L124.01 1177.16L122.7 1179.48L121.94 1181.85L121.86 1184.22L122.47 1186.59L123.67 1188.93L125.32 1191.22L127.3 1193.43L129.48 1195.55L131.73 1197.54L133.96 1199.41L136.18 1201.16L138.39 1202.81L140.6 1204.37L142.8 1205.87L145.01 1207.31L147.22 1208.72L149.44 1210.1L151.68 1211.48L153.93 1212.87L156.21 1214.27L158.5 1215.68L160.8 1217.11L163.1 1218.55L165.41 1220L167.71 1221.47L170 1222.96L172.29 1224.45L174.56 1225.96L176.8 1227.49L179.01 1229.05L181.16 1230.69L183.21 1232.44L185.15 1234.34L186.94 1236.44L188.56 1238.77L189.87 1241.3L190.5 1243.9L190.1 1246.4L188.8 1248.77L186.95 1251L184.92 1253.09L182.88 1255.06L180.83 1256.92L178.77 1258.67L176.68 1260.34L174.56 1261.94L172.41 1263.48L170.21 1264.97L167.97 1266.42L165.68 1267.86L163.36 1269.27L161.02 1270.66L158.66 1272.05L156.3 1273.43L153.95 1274.8L151.62 1276.19L149.33 1277.58L147.08 1278.98L144.87 1280.41L142.7 1281.87L140.55 1283.39L138.42 1284.98L136.28 1286.66L134.13 1288.44L131.95 1290.33L129.75 1292.35L127.59 1294.5L125.62 1296.75L123.98 1299.06L122.8 1301.42L122.23 1303.81L122.39 1306.18L123.27 1308.53L124.73 1310.81L126.61 1313.01L128.77 1315.11L131.05 1317.06L133.35 1318.86L135.63 1320.52L137.9 1322.05L140.18 1323.47L142.46 1324.8L144.77 1326.06L147.1 1327.25L149.47 1328.41L151.87 1329.54L154.3 1330.64L156.77 1331.71L159.26 1332.75L161.77 1333.77L164.3 1334.76L166.86 1335.73L169.42 1336.69L172 1337.62L174.59 1338.54L177.18 1339.44L179.78 1340.33L182.37 1341.2L184.97 1342.07L187.57 1342.92L190.16 1343.76L192.76 1344.59L195.35 1345.41L197.95 1346.22L200.55 1347.01L203.14 1347.8L205.74 1348.58L208.33 1349.35L210.93 1350.12L213.52 1350.87L216.12 1351.62L218.71 1352.36L221.31 1353.09L223.9 1353.81L226.49 1354.53L229.09 1355.25L231.68 1355.95L234.28 1356.65L236.87 1357.35L239.46 1358.04L242.06 1358.73L244.66 1359.41L247.25 1360.09L249.85 1360.78L252.45 1361.45L255.05 1362.13L257.66 1362.81L260.26 1363.49L262.87 1364.17L265.48 1364.85L268.1 1365.54L270.72 1366.23L273.34 1366.92L275.97 1367.62L278.6 1368.32L281.23 1369.03L283.87 1369.74L286.52 1370.46L289.17 1371.19L291.83 1371.93L294.49 1372.67L297.16 1373.43L299.83 1374.19L302.51 1374.96L305.18 1375.73L307.86 1376.51L310.53 1377.28L313.19 1378.05L315.84 1378.8L318.49 1379.55L321.11 1380.29L323.72 1381.01L326.32 1381.71L328.89 1382.39L331.43 1383.04L333.95 1383.67L336.45 1384.27L338.91 1384.84L341.34 1385.38L343.77 1385.95L346.21 1386.57L348.69 1387.3L351.23 1388.18L353.84 1389.24L356.55 1390.53L359.39 1392.09L362.24 1393.94L364.53 1395.93L365.52 1397.9L364.64 1399.7L362.28 1401.27L359.3 1402.64L356.4 1403.81L353.68 1404.8L351.1 1405.65L348.61 1406.39L346.17 1407.06L343.75 1407.68L341.31 1408.3L338.82 1408.92L336.29 1409.55L333.73 1410.18L331.13 1410.81L328.5 1411.45L325.85 1412.08L323.18 1412.71L320.49 1413.33L317.79 1413.95L315.08 1414.56L312.36 1415.16L309.64 1415.75L306.93 1416.33L304.22 1416.89L301.51 1417.44L298.81 1417.98L296.12 1418.5L293.43 1419.01L290.75 1419.51L288.07 1419.99L285.39 1420.47L282.72 1420.93L280.05 1421.39L277.39 1421.83L274.72 1422.27L272.06 1422.7L269.4 1423.12L266.74 1423.54L264.08 1423.94L261.42 1424.35L258.76 1424.74L256.1 1425.14L253.44 1425.52L250.77 1425.91L248.11 1426.29L245.44 1426.67L242.77 1427.05L240.1 1427.42L237.42 1427.8L234.74 1428.17L232.06 1428.55L229.38 1428.93L226.7 1429.31L224.02 1429.7L221.33 1430.09L218.65 1430.49L215.96 1430.9L213.28 1431.31L210.6 1431.73L207.92 1432.16L205.24 1432.61L202.56 1433.06L199.89 1433.53L197.22 1434.01L194.55 1434.51L191.89 1435.02L189.23 1435.55L186.57 1436.09L183.92 1436.66L181.28 1437.24L178.64 1437.85L176.01 1438.47L173.38 1439.11L170.75 1439.77L168.13 1440.45L165.51 1441.13L162.9 1441.84L160.28 1442.55L157.67 1443.27L155.06 1444L152.44 1444.74L149.83 1445.48L147.21 1446.22L144.6 1446.98L141.99 1447.75L139.39 1448.54L136.81 1449.39L134.25 1450.28L131.72 1451.24L129.22 1452.29L126.76 1453.42L124.36 1454.65L122 1456" stroke="#b21f45" stroke-width="6.3" fill="none" stroke-linejoin="round"/>
<path d="M121.8 866.7H370M121.8 1452H370M121.8 866.7V1452M370 866.7V1452" stroke="#262626" stroke-width="5.2" fill="none"/>
<path d="M183.85 1452v-6.2M245.9 1452v-6.2M307.95 1452v-6.2M183.85 866.7v6.2M245.9 866.7v6.2M307.95 866.7v6.2M121.8 1383.85h6.2M370 1383.85h-6.2M121.8 1293.65h6.2M370 1293.65h-6.2M121.8 1129.28h6.2M370 1129.28h-6.2M121.8 946.88h6.2M370 946.88h-6.2" stroke="#262626" stroke-width="5" fill="none"/>
<text x="244.2" y="843.3" font-size="29.35" text-anchor="middle"><tspan font-family="'Liberation Serif', 'DejaVu Serif', serif" font-style="italic">λ</tspan> = 4.26 <tspan font-family="'Liberation Serif', 'DejaVu Serif', serif">μ</tspan>m</text>
<text x="106.3" y="1462.5" font-size="29.35" text-anchor="end">0</text>
<text x="106.3" y="1394.05" font-size="29.35" text-anchor="end">0.34</text>
<text x="106.3" y="1304.05" font-size="29.35" text-anchor="end">0.79</text>
<text x="106.3" y="1139.98" font-size="29.35" text-anchor="end">1.61</text>
<text x="106.3" y="955.28" font-size="29.35" text-anchor="end">2.52</text>
<text x="106.3" y="874.9" font-size="29.35" text-anchor="end">2.92</text>
<text x="121.8" y="1491" font-size="29.35" text-anchor="middle">0</text>
<text x="183.85" y="1491" font-size="29.35" text-anchor="middle">4</text>
<text x="245.9" y="1491" font-size="29.35" text-anchor="middle">8</text>
<text x="307.95" y="1491" font-size="29.35" text-anchor="middle">12</text>
<text x="370" y="1491" font-size="29.35" text-anchor="middle">16</text>
<text font-size="29.35" text-anchor="middle" transform="translate(25.8 1160.5) rotate(-90)">Thickness (<tspan font-family="'Liberation Serif', 'DejaVu Serif', serif">μ</tspan>m)</text>
<text x="246.3" y="1542.2" font-size="29.35" text-anchor="middle" letter-spacing="0.35"><tspan font-size="22.5" dy="-4.7">|</tspan><tspan dy="4.7">E</tspan><tspan font-size="22.5" dy="-4.7">|</tspan><tspan font-size="21" dy="-7.3">2</tspan><tspan dy="12"> / </tspan><tspan font-size="22.5" dy="-4.7">|</tspan><tspan dy="4.7">E</tspan><tspan font-size="20" dy="7">0</tspan><tspan font-size="22.5" dy="-11.7">|</tspan><tspan font-size="21" dy="-7.3">2</tspan></text>
<rect x="607.4" y="865" width="247.9" height="585.4" fill="#eeeeee"/>
<rect x="607.4" y="945.19" width="247.9" height="182.44" fill="#3282a2"/>
<rect x="607.4" y="1292.02" width="247.9" height="90.22" fill="#3282a2"/>
<path clip-path="url(#clipc2)" d="M606.5 865L606.69 869.93L606.91 874.87L607.17 879.8L607.46 884.73L607.78 889.66L608.11 894.6L608.47 899.53L608.88 904.46L609.4 909.39L609.97 914.33L610.53 919.26L611.04 924.19L611.44 929.13L611.76 934.06L612.04 938.99L612.19 943.92L612.17 948.86L612.04 953.79L611.84 958.72L611.6 963.66L611.33 968.59L611.07 973.52L610.82 978.45L610.54 983.39L610.22 988.32L609.9 993.25L609.56 998.18L609.23 1003.12L608.92 1008.05L608.62 1012.98L608.33 1017.92L608.03 1022.85L607.74 1027.78L607.45 1032.71L607.17 1037.65L606.89 1042.58L606.63 1047.51L606.37 1052.45L606.12 1057.38L605.89 1062.31L605.64 1067.24L605.38 1072.18L605.11 1077.11L604.86 1082.04L604.61 1086.97L604.4 1091.91L604.22 1096.84L604.09 1101.77L604.02 1106.71L604 1111.64L604.01 1116.57L604.04 1121.5L604.07 1126.44L604.12 1131.37L604.17 1136.3L604.24 1141.24L604.3 1146.17L604.37 1151.1L604.44 1156.03L604.51 1160.97L604.6 1165.9L604.7 1170.83L604.81 1175.76L604.94 1180.7L605.07 1185.63L605.22 1190.56L605.37 1195.5L605.53 1200.43L605.69 1205.36L605.86 1210.29L606.02 1215.23L606.19 1220.16L606.35 1225.09L606.5 1230.03L606.66 1234.96L606.82 1239.89L606.99 1244.82L607.16 1249.76L607.33 1254.69L607.51 1259.62L607.68 1264.55L607.85 1269.49L608.02 1274.42L608.18 1279.35L608.33 1284.29L608.48 1289.22L608.62 1294.15L608.78 1299.08L608.95 1304.02L609.11 1308.95L609.25 1313.88L609.37 1318.82L609.46 1323.75L609.5 1328.68L609.5 1333.61L609.48 1338.55L609.46 1343.48L609.42 1348.41L609.37 1353.34L609.32 1358.28L609.26 1363.21L609.19 1368.14L609.11 1373.08L609.03 1378.01L608.94 1382.94L608.77 1387.87L608.55 1392.81L608.29 1397.74L608 1402.67L607.7 1407.61L607.4 1412.54L607.13 1417.47L606.88 1422.4L606.65 1427.34L606.41 1432.27L606.18 1437.2L605.95 1442.13L605.73 1447.07L605.5 1452" stroke="#b21f45" stroke-width="5" fill="none" stroke-linejoin="round"/>
<path d="M607.4 865H855.3M607.4 1450.4H855.3M607.4 865V1450.4M855.3 865V1450.4" stroke="#262626" stroke-width="5.2" fill="none"/>
<path d="M669.38 1450.4v-6.2M731.35 1450.4v-6.2M793.32 1450.4v-6.2M669.38 865v6.2M731.35 865v6.2M793.32 865v6.2M607.4 1382.24h6.2M855.3 1382.24h-6.2M607.4 1292.02h6.2M855.3 1292.02h-6.2M607.4 1127.63h6.2M855.3 1127.63h-6.2M607.4 945.19h6.2M855.3 945.19h-6.2" stroke="#262626" stroke-width="5" fill="none"/>
<text x="729.4" y="841.9" font-size="29.35" text-anchor="middle"><tspan font-family="'Liberation Serif', 'DejaVu Serif', serif" font-style="italic">λ</tspan> = 5 <tspan font-family="'Liberation Serif', 'DejaVu Serif', serif">μ</tspan>m</text>
<text x="592" y="1459.8" font-size="29.35" text-anchor="end">0</text>
<text x="592" y="1391.84" font-size="29.35" text-anchor="end">0.34</text>
<text x="592" y="1301.82" font-size="29.35" text-anchor="end">0.79</text>
<text x="592" y="1137.83" font-size="29.35" text-anchor="end">1.61</text>
<text x="592" y="953.69" font-size="29.35" text-anchor="end">2.52</text>
<text x="592" y="872.3" font-size="29.35" text-anchor="end">2.92</text>
<text x="607.4" y="1488.8" font-size="29.35" text-anchor="middle">0</text>
<text x="669.38" y="1488.8" font-size="29.35" text-anchor="middle">4</text>
<text x="731.35" y="1488.8" font-size="29.35" text-anchor="middle">8</text>
<text x="793.32" y="1488.8" font-size="29.35" text-anchor="middle">12</text>
<text x="855.3" y="1488.8" font-size="29.35" text-anchor="middle">16</text>
<text font-size="29.35" text-anchor="middle" transform="translate(507 1160) rotate(-90)">Thickness (<tspan font-family="'Liberation Serif', 'DejaVu Serif', serif">μ</tspan>m)</text>
<text x="731.4" y="1539" font-size="29.35" text-anchor="middle" letter-spacing="0.35"><tspan font-size="22.5" dy="-4.7">|</tspan><tspan dy="4.7">E</tspan><tspan font-size="22.5" dy="-4.7">|</tspan><tspan font-size="21" dy="-7.3">2</tspan><tspan dy="12"> / </tspan><tspan font-size="22.5" dy="-4.7">|</tspan><tspan dy="4.7">E</tspan><tspan font-size="20" dy="7">0</tspan><tspan font-size="22.5" dy="-11.7">|</tspan><tspan font-size="21" dy="-7.3">2</tspan></text>
</g>
<g id="panel-d">
<text x="951.5" y="828" font-size="42" font-weight="bold">d</text>
<g clip-path="url(#cliph)"><g filter="url(#hblur)"><rect x="1054.5" y="839.7" width="10.5" height="637.8" fill="url(#h0)"/><rect x="1064.5" y="839.7" width="6.8" height="637.8" fill="url(#h0)" transform="translate(1067.5 0) skewY(.2147) translate(-1067.5 0)"/><rect x="1070.5" y="839.7" width="6.8" height="637.8" fill="url(#h1)" transform="translate(1073.5 0) skewY(.4779) translate(-1073.5 0)"/><rect x="1076.5" y="839.7" width="6.8" height="637.8" fill="url(#h2)" transform="translate(1079.5 0) skewY(.7229) translate(-1079.5 0)"/><rect x="1082.5" y="839.7" width="6.8" height="637.8" fill="url(#h3)" transform="translate(1085.5 0) skewY(.9497) translate(-1085.5 0)"/><rect x="1088.5" y="839.7" width="6.8" height="637.8" fill="url(#h4)" transform="translate(1091.5 0) skewY(1.1581) translate(-1091.5 0)"/><rect x="1094.5" y="839.7" width="6.8" height="637.8" fill="url(#h5)" transform="translate(1097.5 0) skewY(1.3482) translate(-1097.5 0)"/><rect x="1100.5" y="839.7" width="6.8" height="637.8" fill="url(#h6)" transform="translate(1103.5 0) skewY(1.5198) translate(-1103.5 0)"/><rect x="1106.5" y="839.7" width="6.8" height="637.8" fill="url(#h7)" transform="translate(1109.5 0) skewY(1.673) translate(-1109.5 0)"/><rect x="1112.5" y="839.7" width="6.8" height="637.8" fill="url(#h8)" transform="translate(1115.5 0) skewY(1.8075) translate(-1115.5 0)"/><rect x="1118.5" y="839.7" width="6.8" height="637.8" fill="url(#h9)" transform="translate(1121.5 0) skewY(1.9803) translate(-1121.5 0)"/><rect x="1124.5" y="839.7" width="6.8" height="637.8" fill="url(#h10)" transform="translate(1127.5 0) skewY(2.3046) translate(-1127.5 0)"/><rect x="1130.5" y="839.7" width="6.8" height="637.8" fill="url(#h11)" transform="translate(1133.5 0) skewY(2.6098) translate(-1133.5 0)"/><rect x="1136.5" y="839.7" width="6.8" height="637.8" fill="url(#h12)" transform="translate(1139.5 0) skewY(2.896) translate(-1139.5 0)"/><rect x="1142.5" y="839.7" width="6.8" height="637.8" fill="url(#h13)" transform="translate(1145.5 0) skewY(3.1629) translate(-1145.5 0)"/><rect x="1148.5" y="839.7" width="6.8" height="637.8" fill="url(#h14)" transform="translate(1151.5 0) skewY(3.4107) translate(-1151.5 0)"/><rect x="1154.5" y="839.7" width="6.8" height="637.8" fill="url(#h15)" transform="translate(1157.5 0) skewY(3.6392) translate(-1157.5 0)"/><rect x="1160.5" y="839.7" width="6.8" height="637.8" fill="url(#h16)" transform="translate(1163.5 0) skewY(3.8484) translate(-1163.5 0)"/><rect x="1166.5" y="839.7" width="6.8" height="637.8" fill="url(#h17)" transform="translate(1169.5 0) skewY(4.2331) translate(-1169.5 0)"/><rect x="1172.5" y="839.7" width="6.8" height="637.8" fill="url(#h18)" transform="translate(1175.5 0) skewY(4.7064) translate(-1175.5 0)"/><rect x="1178.5" y="839.7" width="6.8" height="637.8" fill="url(#h19)" transform="translate(1181.5 0) skewY(5.1207) translate(-1181.5 0)"/><rect x="1184.5" y="839.7" width="6.8" height="637.8" fill="url(#h20)" transform="translate(1187.5 0) skewY(5.476) translate(-1187.5 0)"/><rect x="1190.5" y="839.7" width="6.8" height="637.8" fill="url(#h21)" transform="translate(1193.5 0) skewY(5.7726) translate(-1193.5 0)"/><rect x="1196.5" y="839.7" width="6.8" height="637.8" fill="url(#h22)" transform="translate(1199.5 0) skewY(6.0105) translate(-1199.5 0)"/><rect x="1202.5" y="839.7" width="6.8" height="637.8" fill="url(#h23)" transform="translate(1205.5 0) skewY(6.1898) translate(-1205.5 0)"/><rect x="1208.5" y="839.7" width="6.8" height="637.8" fill="url(#h24)" transform="translate(1211.5 0) skewY(6.3105) translate(-1211.5 0)"/><rect x="1214.5" y="839.7" width="6.8" height="637.8" fill="url(#h25)" transform="translate(1217.5 0) skewY(6.3727) translate(-1217.5 0)"/><rect x="1220.5" y="839.7" width="6.8" height="637.8" fill="url(#h26)" transform="translate(1223.5 0) skewY(6.3764) translate(-1223.5 0)"/><rect x="1226.5" y="839.7" width="6.8" height="637.8" fill="url(#h27)" transform="translate(1229.5 0) skewY(6.3381) translate(-1229.5 0)"/><rect x="1232.5" y="839.7" width="6.8" height="637.8" fill="url(#h28)" transform="translate(1235.5 0) skewY(6.4319) translate(-1235.5 0)"/><rect x="1238.5" y="839.7" width="6.8" height="637.8" fill="url(#h29)" transform="translate(1241.5 0) skewY(6.5331) translate(-1241.5 0)"/><rect x="1244.5" y="839.7" width="6.8" height="637.8" fill="url(#h30)" transform="translate(1247.5 0) skewY(6.6398) translate(-1247.5 0)"/><rect x="1250.5" y="839.7" width="6.8" height="637.8" fill="url(#h31)" transform="translate(1253.5 0) skewY(6.7521) translate(-1253.5 0)"/><rect x="1256.5" y="839.7" width="6.8" height="637.8" fill="url(#h32)" transform="translate(1259.5 0) skewY(6.8698) translate(-1259.5 0)"/><rect x="1262.5" y="839.7" width="6.8" height="637.8" fill="url(#h33)" transform="translate(1265.5 0) skewY(6.9928) translate(-1265.5 0)"/><rect x="1268.5" y="839.7" width="6.8" height="637.8" fill="url(#h34)" transform="translate(1271.5 0) skewY(7.1212) translate(-1271.5 0)"/><rect x="1274.5" y="839.7" width="6.8" height="637.8" fill="url(#h35)" transform="translate(1277.5 0) skewY(7.2548) translate(-1277.5 0)"/><rect x="1280.5" y="839.7" width="6.8" height="637.8" fill="url(#h36)" transform="translate(1283.5 0) skewY(7.3936) translate(-1283.5 0)"/><rect x="1286.5" y="839.7" width="6.8" height="637.8" fill="url(#h37)" transform="translate(1289.5 0) skewY(7.5376) translate(-1289.5 0)"/><rect x="1292.5" y="839.7" width="6.8" height="637.8" fill="url(#h38)" transform="translate(1295.5 0) skewY(7.6867) translate(-1295.5 0)"/><rect x="1298.5" y="839.7" width="6.8" height="637.8" fill="url(#h39)" transform="translate(1301.5 0) skewY(7.808) translate(-1301.5 0)"/><rect x="1304.5" y="839.7" width="6.8" height="637.8" fill="url(#h40)" transform="translate(1307.5 0) skewY(7.8589) translate(-1307.5 0)"/><rect x="1310.5" y="839.7" width="6.8" height="637.8" fill="url(#h41)" transform="translate(1313.5 0) skewY(7.9526) translate(-1313.5 0)"/><rect x="1316.5" y="839.7" width="6.8" height="637.8" fill="url(#h42)" transform="translate(1319.5 0) skewY(8.0888) translate(-1319.5 0)"/><rect x="1322.5" y="839.7" width="6.8" height="637.8" fill="url(#h43)" transform="translate(1325.5 0) skewY(8.2675) translate(-1325.5 0)"/><rect x="1328.5" y="839.7" width="6.8" height="637.8" fill="url(#h44)" transform="translate(1331.5 0) skewY(8.4885) translate(-1331.5 0)"/><rect x="1334.5" y="839.7" width="6.8" height="637.8" fill="url(#h45)" transform="translate(1337.5 0) skewY(8.7516) translate(-1337.5 0)"/><rect x="1340.5" y="839.7" width="6.8" height="637.8" fill="url(#h46)" transform="translate(1343.5 0) skewY(9.0567) translate(-1343.5 0)"/><rect x="1346.5" y="839.7" width="6.8" height="637.8" fill="url(#h47)" transform="translate(1349.5 0) skewY(9.4033) translate(-1349.5 0)"/><rect x="1352.5" y="839.7" width="6.8" height="637.8" fill="url(#h48)" transform="translate(1355.5 0) skewY(10.8992) translate(-1355.5 0)"/><rect x="1358.5" y="839.7" width="6.8" height="637.8" fill="url(#h49)" transform="translate(1361.5 0) skewY(11.3915) translate(-1361.5 0)"/><rect x="1364.5" y="839.7" width="6.8" height="637.8" fill="url(#h50)" transform="translate(1367.5 0) skewY(11.7977) translate(-1367.5 0)"/><rect x="1370.5" y="839.7" width="6.8" height="637.8" fill="url(#h51)" transform="translate(1373.5 0) skewY(12.116) translate(-1373.5 0)"/><rect x="1376.5" y="839.7" width="6.8" height="637.8" fill="url(#h52)" transform="translate(1379.5 0) skewY(12.3469) translate(-1379.5 0)"/><rect x="1382.5" y="839.7" width="6.8" height="637.8" fill="url(#h53)" transform="translate(1385.5 0) skewY(12.4908) translate(-1385.5 0)"/><rect x="1388.5" y="839.7" width="6.8" height="637.8" fill="url(#h54)" transform="translate(1391.5 0) skewY(12.5479) translate(-1391.5 0)"/><rect x="1394.5" y="839.7" width="6.8" height="637.8" fill="url(#h55)" transform="translate(1397.5 0) skewY(12.6012) translate(-1397.5 0)"/><rect x="1400.5" y="839.7" width="6.8" height="637.8" fill="url(#h56)" transform="translate(1403.5 0) skewY(12.8325) translate(-1403.5 0)"/><rect x="1406.5" y="839.7" width="6.8" height="637.8" fill="url(#h57)" transform="translate(1409.5 0) skewY(13.0047) translate(-1409.5 0)"/><rect x="1412.5" y="839.7" width="6.8" height="637.8" fill="url(#h58)" transform="translate(1415.5 0) skewY(13.1178) translate(-1415.5 0)"/><rect x="1418.5" y="839.7" width="6.8" height="637.8" fill="url(#h59)" transform="translate(1421.5 0) skewY(13.172) translate(-1421.5 0)"/><rect x="1424.5" y="839.7" width="6.8" height="637.8" fill="url(#h60)" transform="translate(1427.5 0) skewY(13.1674) translate(-1427.5 0)"/><rect x="1430.5" y="839.7" width="6.8" height="637.8" fill="url(#h61)" transform="translate(1433.5 0) skewY(13.104) translate(-1433.5 0)"/><rect x="1436.5" y="839.7" width="6.8" height="637.8" fill="url(#h62)" transform="translate(1439.5 0) skewY(13.0543) translate(-1439.5 0)"/><rect x="1442.5" y="839.7" width="6.8" height="637.8" fill="url(#h63)" transform="translate(1445.5 0) skewY(13.072) translate(-1445.5 0)"/><rect x="1448.5" y="839.7" width="6.8" height="637.8" fill="url(#h64)" transform="translate(1451.5 0) skewY(13.0662) translate(-1451.5 0)"/><rect x="1454.5" y="839.7" width="6.8" height="637.8" fill="url(#h65)" transform="translate(1457.5 0) skewY(13.0367) translate(-1457.5 0)"/><rect x="1460.5" y="839.7" width="6.8" height="637.8" fill="url(#h66)" transform="translate(1463.5 0) skewY(12.9836) translate(-1463.5 0)"/><rect x="1466.5" y="839.7" width="6.8" height="637.8" fill="url(#h67)" transform="translate(1469.5 0) skewY(12.9068) translate(-1469.5 0)"/><rect x="1472.5" y="839.7" width="6.8" height="637.8" fill="url(#h68)" transform="translate(1475.5 0) skewY(12.8064) translate(-1475.5 0)"/><rect x="1478.5" y="839.7" width="6.8" height="637.8" fill="url(#h69)" transform="translate(1481.5 0) skewY(12.6654) translate(-1481.5 0)"/><rect x="1484.5" y="839.7" width="6.8" height="637.8" fill="url(#h70)" transform="translate(1487.5 0) skewY(12.5271) translate(-1487.5 0)"/><rect x="1490.5" y="839.7" width="6.8" height="637.8" fill="url(#h71)" transform="translate(1493.5 0) skewY(12.4256) translate(-1493.5 0)"/><rect x="1496.5" y="839.7" width="6.8" height="637.8" fill="url(#h72)" transform="translate(1499.5 0) skewY(12.3612) translate(-1499.5 0)"/><rect x="1502.5" y="839.7" width="6.8" height="637.8" fill="url(#h73)" transform="translate(1505.5 0) skewY(12.3337) translate(-1505.5 0)"/><rect x="1508.5" y="839.7" width="6.8" height="637.8" fill="url(#h74)" transform="translate(1511.5 0) skewY(12.3434) translate(-1511.5 0)"/><rect x="1514.5" y="839.7" width="6.8" height="637.8" fill="url(#h75)" transform="translate(1517.5 0) skewY(12.3901) translate(-1517.5 0)"/><rect x="1520.5" y="839.7" width="6.8" height="637.8" fill="url(#h76)" transform="translate(1523.5 0) skewY(12.3577) translate(-1523.5 0)"/><rect x="1526.5" y="839.7" width="6.8" height="637.8" fill="url(#h77)" transform="translate(1529.5 0) skewY(12.2853) translate(-1529.5 0)"/><rect x="1532.5" y="839.7" width="6.8" height="637.8" fill="url(#h78)" transform="translate(1535.5 0) skewY(12.2579) translate(-1535.5 0)"/><rect x="1538.5" y="839.7" width="6.8" height="637.8" fill="url(#h79)" transform="translate(1541.5 0) skewY(12.2755) translate(-1541.5 0)"/><rect x="1544.5" y="839.7" width="6.8" height="637.8" fill="url(#h80)" transform="translate(1547.5 0) skewY(12.3381) translate(-1547.5 0)"/><rect x="1550.5" y="839.7" width="6.8" height="637.8" fill="url(#h81)" transform="translate(1553.5 0) skewY(12.4458) translate(-1553.5 0)"/><rect x="1556.5" y="839.7" width="6.8" height="637.8" fill="url(#h82)" transform="translate(1559.5 0) skewY(12.6009) translate(-1559.5 0)"/><rect x="1562.5" y="839.7" width="6.8" height="637.8" fill="url(#h83)" transform="translate(1565.5 0) skewY(12.9392) translate(-1565.5 0)"/><rect x="1568.5" y="839.7" width="6.8" height="637.8" fill="url(#h84)" transform="translate(1571.5 0) skewY(13.154) translate(-1571.5 0)"/><rect x="1574.5" y="839.7" width="6.8" height="637.8" fill="url(#h85)" transform="translate(1577.5 0) skewY(13.2215) translate(-1577.5 0)"/><rect x="1580.5" y="839.7" width="6.8" height="637.8" fill="url(#h86)" transform="translate(1583.5 0) skewY(13.142) translate(-1583.5 0)"/><rect x="1586.5" y="839.7" width="6.8" height="637.8" fill="url(#h87)" transform="translate(1589.5 0) skewY(12.9153) translate(-1589.5 0)"/><rect x="1592.5" y="839.7" width="6.8" height="637.8" fill="url(#h88)" transform="translate(1595.5 0) skewY(12.5407) translate(-1595.5 0)"/><rect x="1598.5" y="839.7" width="6.8" height="637.8" fill="url(#h89)" transform="translate(1601.5 0) skewY(12.0975) translate(-1601.5 0)"/><rect x="1604.5" y="839.7" width="6.8" height="637.8" fill="url(#h90)" transform="translate(1607.5 0) skewY(11.8444) translate(-1607.5 0)"/><rect x="1610.5" y="839.7" width="6.8" height="637.8" fill="url(#h91)" transform="translate(1613.5 0) skewY(11.6042) translate(-1613.5 0)"/><rect x="1616.5" y="839.7" width="6.8" height="637.8" fill="url(#h92)" transform="translate(1619.5 0) skewY(11.377) translate(-1619.5 0)"/><rect x="1622.5" y="839.7" width="6.8" height="637.8" fill="url(#h93)" transform="translate(1625.5 0) skewY(11.1631) translate(-1625.5 0)"/><rect x="1628.5" y="839.7" width="6.8" height="637.8" fill="url(#h94)" transform="translate(1631.5 0) skewY(10.9625) translate(-1631.5 0)"/><rect x="1634.5" y="839.7" width="6.8" height="637.8" fill="url(#h95)" transform="translate(1637.5 0) skewY(10.7755) translate(-1637.5 0)"/><rect x="1640.5" y="839.7" width="6.8" height="637.8" fill="url(#h96)" transform="translate(1643.5 0) skewY(10.6022) translate(-1643.5 0)"/><rect x="1646.5" y="839.7" width="6.8" height="637.8" fill="url(#h97)" transform="translate(1649.5 0) skewY(10.4427) translate(-1649.5 0)"/><rect x="1652.5" y="839.7" width="6.8" height="637.8" fill="url(#h98)" transform="translate(1655.5 0) skewY(10.2972) translate(-1655.5 0)"/><rect x="1658.5" y="839.7" width="6.8" height="637.8" fill="url(#h99)" transform="translate(1661.5 0) skewY(10.1659) translate(-1661.5 0)"/><rect x="1664.5" y="839.7" width="6.8" height="637.8" fill="url(#h100)" transform="translate(1667.5 0) skewY(10.0489) translate(-1667.5 0)"/><rect x="1670.5" y="839.7" width="6.8" height="637.8" fill="url(#h101)" transform="translate(1673.5 0) skewY(9.9449) translate(-1673.5 0)"/><rect x="1676.5" y="839.7" width="6.8" height="637.8" fill="url(#h102)" transform="translate(1679.5 0) skewY(9.8276) translate(-1679.5 0)"/><rect x="1682.5" y="839.7" width="6.8" height="637.8" fill="url(#h103)" transform="translate(1685.5 0) skewY(9.6865) translate(-1685.5 0)"/><rect x="1688.5" y="839.7" width="6.8" height="637.8" fill="url(#h104)" transform="translate(1691.5 0) skewY(9.5217) translate(-1691.5 0)"/><rect x="1694.5" y="839.7" width="6.8" height="637.8" fill="url(#h105)" transform="translate(1697.5 0) skewY(9.3332) translate(-1697.5 0)"/><rect x="1700.5" y="839.7" width="6.8" height="637.8" fill="url(#h106)" transform="translate(1703.5 0) skewY(9.1212) translate(-1703.5 0)"/><rect x="1706.5" y="839.7" width="6.8" height="637.8" fill="url(#h107)" transform="translate(1709.5 0) skewY(8.8856) translate(-1709.5 0)"/><rect x="1712.5" y="839.7" width="6.8" height="637.8" fill="url(#h108)" transform="translate(1715.5 0) skewY(8.6266) translate(-1715.5 0)"/><rect x="1718.5" y="839.7" width="6.8" height="637.8" fill="url(#h109)" transform="translate(1721.5 0) skewY(8.3441) translate(-1721.5 0)"/><rect x="1724.5" y="839.7" width="6.8" height="637.8" fill="url(#h110)" transform="translate(1727.5 0) skewY(8.0383) translate(-1727.5 0)"/><rect x="1730.5" y="839.7" width="6.8" height="637.8" fill="url(#h111)" transform="translate(1733.5 0) skewY(7.7579) translate(-1733.5 0)"/><rect x="1736.5" y="839.7" width="4.3" height="637.8" fill="url(#h112)" transform="translate(1738.25 0) skewY(7.8015) translate(-1738.25 0)"/><rect x="1740" y="839.7" width="3.8" height="637.8" fill="url(#h113)" transform="translate(1741.5 0) skewY(7.7286) translate(-1741.5 0)"/><rect x="1743" y="839.7" width="3.8" height="637.8" fill="url(#h114)" transform="translate(1744.5 0) skewY(7.5841) translate(-1744.5 0)"/><rect x="1746" y="839.7" width="3.8" height="637.8" fill="url(#h115)" transform="translate(1747.5 0) skewY(7.3656) translate(-1747.5 0)"/><rect x="1749" y="839.7" width="3.8" height="637.8" fill="url(#h116)" transform="translate(1750.5 0) skewY(7.0728) translate(-1750.5 0)"/><rect x="1752" y="839.7" width="3.8" height="637.8" fill="url(#h117)" transform="translate(1753.5 0) skewY(6.7054) translate(-1753.5 0)"/><rect x="1755" y="839.7" width="3.8" height="637.8" fill="url(#h118)" transform="translate(1756.5 0) skewY(6.2632) translate(-1756.5 0)"/><rect x="1758" y="839.7" width="3.8" height="637.8" fill="url(#h119)" transform="translate(1759.5 0) skewY(5.7457) translate(-1759.5 0)"/><rect x="1761" y="839.7" width="3.8" height="637.8" fill="url(#h120)" transform="translate(1762.5 0) skewY(5.1528) translate(-1762.5 0)"/><rect x="1764" y="839.7" width="3.8" height="637.8" fill="url(#h121)" transform="translate(1765.5 0) skewY(4.8065) translate(-1765.5 0)"/><rect x="1767" y="839.7" width="3.8" height="637.8" fill="url(#h122)" transform="translate(1768.5 0) skewY(4.5669) translate(-1768.5 0)"/><rect x="1770" y="839.7" width="3.8" height="637.8" fill="url(#h123)" transform="translate(1771.5 0) skewY(4.2091) translate(-1771.5 0)"/><rect x="1773" y="839.7" width="3.8" height="637.8" fill="url(#h124)" transform="translate(1774.5 0) skewY(3.7328) translate(-1774.5 0)"/><rect x="1776" y="839.7" width="2.3" height="637.8" fill="url(#h125)" transform="translate(1776.75 0) skewY(3.2977) translate(-1776.75 0)"/><rect x="1777.5" y="839.7" width="2.3" height="637.8" fill="url(#h126)" transform="translate(1778.25 0) skewY(2.9705) translate(-1778.25 0)"/><rect x="1779" y="839.7" width="2.3" height="637.8" fill="url(#h127)" transform="translate(1779.75 0) skewY(2.6135) translate(-1779.75 0)"/><rect x="1780.5" y="839.7" width="2.3" height="637.8" fill="url(#h128)" transform="translate(1781.25 0) skewY(2.2293) translate(-1781.25 0)"/><rect x="1782" y="839.7" width="2.3" height="637.8" fill="url(#h129)" transform="translate(1782.75 0) skewY(1.941) translate(-1782.75 0)"/><rect x="1783.5" y="839.7" width="2.3" height="637.8" fill="url(#h130)" transform="translate(1784.25 0) skewY(1.7473) translate(-1784.25 0)"/><rect x="1785" y="839.7" width="2.3" height="637.8" fill="url(#h131)" transform="translate(1785.75 0) skewY(1.5246) translate(-1785.75 0)"/><rect x="1786.5" y="839.7" width="2.3" height="637.8" fill="url(#h132)" transform="translate(1787.25 0) skewY(1.2702) translate(-1787.25 0)"/><rect x="1788" y="839.7" width="2.3" height="637.8" fill="url(#h133)" transform="translate(1788.75 0) skewY(.9841) translate(-1788.75 0)"/><rect x="1789.2" y="839.7" width="10.3" height="637.8" fill="url(#h133)"/></g></g>
<path d="M1064.5 851.7H1789.5M1064.5 1465.5H1789.5M1064.5 851.7V1465.5M1789.5 851.7V1465.5" stroke="#000" stroke-width="4.8" fill="none"/>
<path d="M1226.5 1465.5v-6.6M1388.5 1465.5v-6.6M1550.5 1465.5v-6.6M1712.5 1465.5v-6.6M1226.5 851.7v6.6M1388.5 851.7v6.6M1550.5 851.7v6.6M1712.5 851.7v6.6M1064.5 1342.75h6.6M1789.5 1342.75h-6.6M1064.5 1220h6.6M1789.5 1220h-6.6M1064.5 1097.25h6.6M1789.5 1097.25h-6.6M1064.5 974.5h6.6M1789.5 974.5h-6.6" stroke="#000" stroke-width="4.8" fill="none"/>
<text x="1064.5" y="1502.3" font-size="29.35" text-anchor="middle">0</text>
<text x="1226.5" y="1502.3" font-size="29.35" text-anchor="middle">20</text>
<text x="1388.5" y="1502.3" font-size="29.35" text-anchor="middle">40</text>
<text x="1550.5" y="1502.3" font-size="29.35" text-anchor="middle">60</text>
<text x="1712.5" y="1502.3" font-size="29.35" text-anchor="middle">80</text>
<text x="1046.3" y="1474.5" font-size="29.35" text-anchor="end">3.0</text>
<text x="1046.3" y="1351.75" font-size="29.35" text-anchor="end">3.5</text>
<text x="1046.3" y="1229" font-size="29.35" text-anchor="end">4.0</text>
<text x="1046.3" y="1106.25" font-size="29.35" text-anchor="end">4.5</text>
<text x="1046.3" y="983.5" font-size="29.35" text-anchor="end">5.0</text>
<text x="1046.3" y="860.75" font-size="29.35" text-anchor="end">5.5</text>
<text x="1427" y="1547.8" font-size="29.35" text-anchor="middle">Incident angle (°)</text>
<text font-size="29.35" text-anchor="middle" transform="translate(976.5 1158) rotate(-90)">Wavelength (<tspan font-family="'Liberation Serif', 'DejaVu Serif', serif">μ</tspan>m)</text>
<rect x="1797.2" y="899.2" width="39.9" height="567" fill="url(#cbar)" stroke="#1a1a1a" stroke-width="1.4"/>
<text x="1891.5" y="908.8" font-size="29.35" text-anchor="end">1.0</text>
<text x="1891.5" y="1021.92" font-size="29.35" text-anchor="end">0.8</text>
<text x="1891.5" y="1135.04" font-size="29.35" text-anchor="end">0.6</text>
<text x="1891.5" y="1248.16" font-size="29.35" text-anchor="end">0.4</text>
<text x="1891.5" y="1361.28" font-size="29.35" text-anchor="end">0.2</text>
<text x="1891.5" y="1474.4" font-size="29.35" text-anchor="end">0.0</text>
<text x="1818" y="885" font-size="30" text-anchor="middle" font-style="italic">ε</text>
</g>
</svg>
</body></html>
